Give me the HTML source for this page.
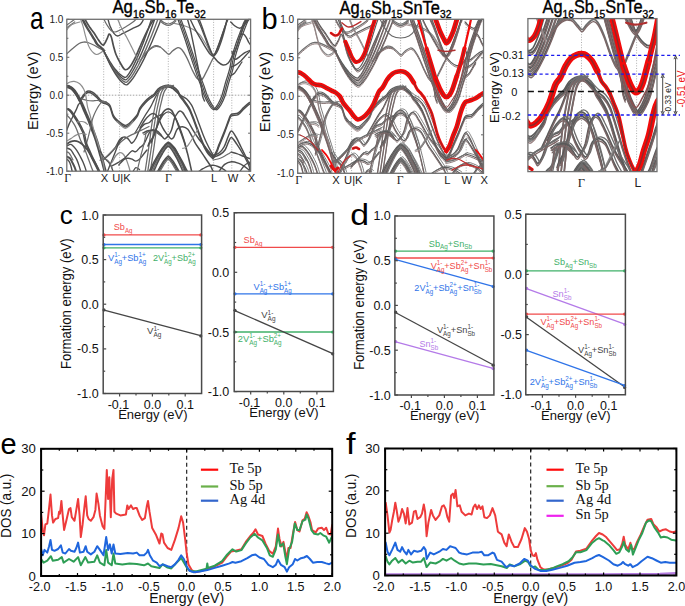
<!DOCTYPE html>
<html><head><meta charset="utf-8"><style>
html,body{margin:0;padding:0;background:#fff;}
svg{display:block;}
</style></head><body>
<svg width="685" height="606" viewBox="0 0 685 606">
<rect width="685" height="606" fill="#fff"/>
<line x1="103.2" y1="234.9" x2="201.6" y2="234.9" stroke="#f04a4a" stroke-width="1.3" />
<circle cx="104" cy="234.9" r="1.6" fill="#f04a4a"/>
<circle cx="200.8" cy="234.9" r="1.6" fill="#f04a4a"/>
<line x1="103.2" y1="244.5" x2="201.6" y2="244.5" stroke="#2f74e8" stroke-width="1.3" />
<circle cx="104" cy="244.5" r="1.6" fill="#2f74e8"/>
<circle cx="200.8" cy="244.5" r="1.6" fill="#2f74e8"/>
<line x1="103.2" y1="247.8" x2="201.6" y2="247.8" stroke="#3fb068" stroke-width="1.3" />
<circle cx="104" cy="247.8" r="1.6" fill="#3fb068"/>
<circle cx="200.8" cy="247.8" r="1.6" fill="#3fb068"/>
<line x1="103.2" y1="309.9" x2="201.6" y2="335.9" stroke="#454545" stroke-width="1.3" />
<circle cx="104" cy="309.9" r="1.6" fill="#454545"/>
<circle cx="200.8" cy="335.9" r="1.6" fill="#454545"/>
<path d="M103.2,215 V393.5 H201.6 V215 Z" fill="none" stroke="#4a4a4a" stroke-width="1.5"/>
<line x1="103.2" y1="215" x2="106.2" y2="215" stroke="#4a4a4a" stroke-width="1.2" />
<line x1="103.2" y1="259.6" x2="106.2" y2="259.6" stroke="#4a4a4a" stroke-width="1.2" />
<line x1="103.2" y1="304.2" x2="106.2" y2="304.2" stroke="#4a4a4a" stroke-width="1.2" />
<line x1="103.2" y1="348.9" x2="106.2" y2="348.9" stroke="#4a4a4a" stroke-width="1.2" />
<line x1="103.2" y1="393.5" x2="106.2" y2="393.5" stroke="#4a4a4a" stroke-width="1.2" />
<line x1="103.2" y1="237.3" x2="105.2" y2="237.3" stroke="#4a4a4a" stroke-width="1.2" />
<line x1="103.2" y1="281.9" x2="105.2" y2="281.9" stroke="#4a4a4a" stroke-width="1.2" />
<line x1="103.2" y1="326.6" x2="105.2" y2="326.6" stroke="#4a4a4a" stroke-width="1.2" />
<line x1="103.2" y1="371.2" x2="105.2" y2="371.2" stroke="#4a4a4a" stroke-width="1.2" />
<line x1="119.6" y1="393.5" x2="119.6" y2="396.5" stroke="#4a4a4a" stroke-width="1.2" />
<line x1="152.4" y1="393.5" x2="152.4" y2="396.5" stroke="#4a4a4a" stroke-width="1.2" />
<line x1="185.2" y1="393.5" x2="185.2" y2="396.5" stroke="#4a4a4a" stroke-width="1.2" />
<line x1="136" y1="393.5" x2="136" y2="395.5" stroke="#4a4a4a" stroke-width="1.2" />
<line x1="168.8" y1="393.5" x2="168.8" y2="395.5" stroke="#4a4a4a" stroke-width="1.2" />
<text x="113.8" y="230" font-family="Liberation Sans" font-size="9.6" fill="#f04a4a" text-anchor="start" textLength="11.1" lengthAdjust="spacingAndGlyphs" >Sb</text>
<text x="124.9" y="232.7" font-family="Liberation Sans" font-size="6.5" fill="#f04a4a" text-anchor="start" textLength="7.5" lengthAdjust="spacingAndGlyphs" >Ag</text>
<text x="108" y="260.6" font-family="Liberation Sans" font-size="9.6" fill="#2f74e8" text-anchor="start" textLength="6.2" lengthAdjust="spacingAndGlyphs" >V</text>
<text x="114.2" y="256.8" font-family="Liberation Sans" font-size="6.5" fill="#2f74e8" text-anchor="start" textLength="5.6" lengthAdjust="spacingAndGlyphs" >1-</text>
<text x="114.2" y="263.5" font-family="Liberation Sans" font-size="6.5" fill="#2f74e8" text-anchor="start" textLength="7.7" lengthAdjust="spacingAndGlyphs" >Ag</text>
<text x="121.8" y="260.6" font-family="Liberation Sans" font-size="9.6" fill="#2f74e8" text-anchor="start" textLength="16.7" lengthAdjust="spacingAndGlyphs" >+Sb</text>
<text x="138.5" y="256.8" font-family="Liberation Sans" font-size="6.5" fill="#2f74e8" text-anchor="start" textLength="7.2" lengthAdjust="spacingAndGlyphs" >1+</text>
<text x="138.5" y="263.5" font-family="Liberation Sans" font-size="6.5" fill="#2f74e8" text-anchor="start" textLength="7.7" lengthAdjust="spacingAndGlyphs" >Ag</text>
<text x="152.9" y="260.6" font-family="Liberation Sans" font-size="9.6" fill="#3fb068" text-anchor="start" textLength="11.1" lengthAdjust="spacingAndGlyphs" >2V</text>
<text x="164" y="256.8" font-family="Liberation Sans" font-size="6.5" fill="#3fb068" text-anchor="start" textLength="5.5" lengthAdjust="spacingAndGlyphs" >1-</text>
<text x="164" y="263.5" font-family="Liberation Sans" font-size="6.5" fill="#3fb068" text-anchor="start" textLength="7.6" lengthAdjust="spacingAndGlyphs" >Ag</text>
<text x="171.6" y="260.6" font-family="Liberation Sans" font-size="9.6" fill="#3fb068" text-anchor="start" textLength="16.4" lengthAdjust="spacingAndGlyphs" >+Sb</text>
<text x="188" y="256.8" font-family="Liberation Sans" font-size="6.5" fill="#3fb068" text-anchor="start" textLength="7.1" lengthAdjust="spacingAndGlyphs" >2+</text>
<text x="188" y="263.5" font-family="Liberation Sans" font-size="6.5" fill="#3fb068" text-anchor="start" textLength="7.6" lengthAdjust="spacingAndGlyphs" >Ag</text>
<text x="147" y="334.3" font-family="Liberation Sans" font-size="9.6" fill="#454545" text-anchor="start" textLength="6.4" lengthAdjust="spacingAndGlyphs" >V</text>
<text x="153.4" y="330.5" font-family="Liberation Sans" font-size="6.5" fill="#454545" text-anchor="start" textLength="5.8" lengthAdjust="spacingAndGlyphs" >1-</text>
<text x="153.4" y="337.2" font-family="Liberation Sans" font-size="6.5" fill="#454545" text-anchor="start" textLength="7.9" lengthAdjust="spacingAndGlyphs" >Ag</text>
<text x="98.6" y="219.5" font-family="Liberation Sans" font-size="12.5" fill="#111" text-anchor="end" >1.0</text>
<text x="98.6" y="264.1" font-family="Liberation Sans" font-size="12.5" fill="#111" text-anchor="end" >0.5</text>
<text x="98.6" y="308.8" font-family="Liberation Sans" font-size="12.5" fill="#111" text-anchor="end" >0.0</text>
<text x="98.6" y="353.4" font-family="Liberation Sans" font-size="12.5" fill="#111" text-anchor="end" >-0.5</text>
<text x="98.6" y="398" font-family="Liberation Sans" font-size="12.5" fill="#111" text-anchor="end" >-1.0</text>
<text x="118.4" y="409.4" font-family="Liberation Sans" font-size="12.5" fill="#111" text-anchor="middle" >-0.1</text>
<text x="152.4" y="409.4" font-family="Liberation Sans" font-size="12.5" fill="#111" text-anchor="middle" >0.0</text>
<text x="185.2" y="409.4" font-family="Liberation Sans" font-size="12.5" fill="#111" text-anchor="middle" >0.1</text>
<text x="152.9" y="419.2" font-family="Liberation Sans" font-size="13" fill="#111" text-anchor="middle" textLength="69.4" lengthAdjust="spacingAndGlyphs" >Energy (eV)</text>
<line x1="234.2" y1="247.3" x2="333.4" y2="247.3" stroke="#f04a4a" stroke-width="1.3" />
<circle cx="235" cy="247.3" r="1.6" fill="#f04a4a"/>
<circle cx="332.6" cy="247.3" r="1.6" fill="#f04a4a"/>
<line x1="234.2" y1="293.8" x2="333.4" y2="293.8" stroke="#2f74e8" stroke-width="1.3" />
<circle cx="235" cy="293.8" r="1.6" fill="#2f74e8"/>
<circle cx="332.6" cy="293.8" r="1.6" fill="#2f74e8"/>
<line x1="234.2" y1="332" x2="333.4" y2="332" stroke="#3fb068" stroke-width="1.3" />
<circle cx="235" cy="332" r="1.6" fill="#3fb068"/>
<circle cx="332.6" cy="332" r="1.6" fill="#3fb068"/>
<line x1="234.2" y1="310.3" x2="333.4" y2="353.8" stroke="#454545" stroke-width="1.3" />
<circle cx="235" cy="310.3" r="1.6" fill="#454545"/>
<circle cx="332.6" cy="353.8" r="1.6" fill="#454545"/>
<path d="M234.2,212.7 V391.6 H333.4 V212.7 Z" fill="none" stroke="#4a4a4a" stroke-width="1.5"/>
<line x1="234.2" y1="212.7" x2="237.2" y2="212.7" stroke="#4a4a4a" stroke-width="1.2" />
<line x1="234.2" y1="272.3" x2="237.2" y2="272.3" stroke="#4a4a4a" stroke-width="1.2" />
<line x1="234.2" y1="332" x2="237.2" y2="332" stroke="#4a4a4a" stroke-width="1.2" />
<line x1="234.2" y1="391.6" x2="237.2" y2="391.6" stroke="#4a4a4a" stroke-width="1.2" />
<line x1="234.2" y1="242.5" x2="236.2" y2="242.5" stroke="#4a4a4a" stroke-width="1.2" />
<line x1="234.2" y1="302.1" x2="236.2" y2="302.1" stroke="#4a4a4a" stroke-width="1.2" />
<line x1="234.2" y1="361.8" x2="236.2" y2="361.8" stroke="#4a4a4a" stroke-width="1.2" />
<line x1="250.7" y1="391.6" x2="250.7" y2="394.6" stroke="#4a4a4a" stroke-width="1.2" />
<line x1="283.8" y1="391.6" x2="283.8" y2="394.6" stroke="#4a4a4a" stroke-width="1.2" />
<line x1="316.9" y1="391.6" x2="316.9" y2="394.6" stroke="#4a4a4a" stroke-width="1.2" />
<line x1="267.3" y1="391.6" x2="267.3" y2="393.6" stroke="#4a4a4a" stroke-width="1.2" />
<line x1="300.3" y1="391.6" x2="300.3" y2="393.6" stroke="#4a4a4a" stroke-width="1.2" />
<text x="243.6" y="243.3" font-family="Liberation Sans" font-size="9.6" fill="#f04a4a" text-anchor="start" textLength="11.2" lengthAdjust="spacingAndGlyphs" >Sb</text>
<text x="254.8" y="246" font-family="Liberation Sans" font-size="6.5" fill="#f04a4a" text-anchor="start" textLength="7.6" lengthAdjust="spacingAndGlyphs" >Ag</text>
<text x="253.6" y="290.2" font-family="Liberation Sans" font-size="9.6" fill="#2f74e8" text-anchor="start" textLength="6.1" lengthAdjust="spacingAndGlyphs" >V</text>
<text x="259.7" y="286.4" font-family="Liberation Sans" font-size="6.5" fill="#2f74e8" text-anchor="start" textLength="5.6" lengthAdjust="spacingAndGlyphs" >1-</text>
<text x="259.7" y="293.1" font-family="Liberation Sans" font-size="6.5" fill="#2f74e8" text-anchor="start" textLength="7.6" lengthAdjust="spacingAndGlyphs" >Ag</text>
<text x="267.4" y="290.2" font-family="Liberation Sans" font-size="9.6" fill="#2f74e8" text-anchor="start" textLength="16.6" lengthAdjust="spacingAndGlyphs" >+Sb</text>
<text x="284" y="286.4" font-family="Liberation Sans" font-size="6.5" fill="#2f74e8" text-anchor="start" textLength="7.1" lengthAdjust="spacingAndGlyphs" >1+</text>
<text x="284" y="293.1" font-family="Liberation Sans" font-size="6.5" fill="#2f74e8" text-anchor="start" textLength="7.6" lengthAdjust="spacingAndGlyphs" >Ag</text>
<text x="237.8" y="342" font-family="Liberation Sans" font-size="9.6" fill="#3fb068" text-anchor="start" textLength="11.4" lengthAdjust="spacingAndGlyphs" >2V</text>
<text x="249.2" y="338.2" font-family="Liberation Sans" font-size="6.5" fill="#3fb068" text-anchor="start" textLength="5.6" lengthAdjust="spacingAndGlyphs" >1-</text>
<text x="249.2" y="344.9" font-family="Liberation Sans" font-size="6.5" fill="#3fb068" text-anchor="start" textLength="7.8" lengthAdjust="spacingAndGlyphs" >Ag</text>
<text x="257" y="342" font-family="Liberation Sans" font-size="9.6" fill="#3fb068" text-anchor="start" textLength="16.9" lengthAdjust="spacingAndGlyphs" >+Sb</text>
<text x="273.8" y="338.2" font-family="Liberation Sans" font-size="6.5" fill="#3fb068" text-anchor="start" textLength="7.2" lengthAdjust="spacingAndGlyphs" >2+</text>
<text x="273.8" y="344.9" font-family="Liberation Sans" font-size="6.5" fill="#3fb068" text-anchor="start" textLength="7.8" lengthAdjust="spacingAndGlyphs" >Ag</text>
<text x="261.3" y="318.3" font-family="Liberation Sans" font-size="9.6" fill="#454545" text-anchor="start" textLength="6.3" lengthAdjust="spacingAndGlyphs" >V</text>
<text x="267.6" y="314.5" font-family="Liberation Sans" font-size="6.5" fill="#454545" text-anchor="start" textLength="5.7" lengthAdjust="spacingAndGlyphs" >1-</text>
<text x="267.6" y="321.2" font-family="Liberation Sans" font-size="6.5" fill="#454545" text-anchor="start" textLength="7.9" lengthAdjust="spacingAndGlyphs" >Ag</text>
<text x="229.3" y="217.2" font-family="Liberation Sans" font-size="12.5" fill="#111" text-anchor="end" >0.5</text>
<text x="229.3" y="276.8" font-family="Liberation Sans" font-size="12.5" fill="#111" text-anchor="end" >0.0</text>
<text x="229.3" y="336.5" font-family="Liberation Sans" font-size="12.5" fill="#111" text-anchor="end" >-0.5</text>
<text x="229.3" y="396.1" font-family="Liberation Sans" font-size="12.5" fill="#111" text-anchor="end" >-1.0</text>
<text x="249.5" y="407.4" font-family="Liberation Sans" font-size="12.5" fill="#111" text-anchor="middle" >-0.1</text>
<text x="283.8" y="407.4" font-family="Liberation Sans" font-size="12.5" fill="#111" text-anchor="middle" >0.0</text>
<text x="316.9" y="407.4" font-family="Liberation Sans" font-size="12.5" fill="#111" text-anchor="middle" >0.1</text>
<text x="284" y="417.4" font-family="Liberation Sans" font-size="13" fill="#111" text-anchor="middle" textLength="69.4" lengthAdjust="spacingAndGlyphs" >Energy (eV)</text>
<text transform="translate(71.2,303.7) rotate(-90)" font-family="Liberation Sans" font-size="13.8" fill="#111" text-anchor="middle" textLength="130.5" lengthAdjust="spacingAndGlyphs">Formation energy (eV)</text>
<line x1="394.9" y1="251.1" x2="493.9" y2="251.1" stroke="#3fb068" stroke-width="1.3" />
<circle cx="395.7" cy="251.1" r="1.6" fill="#3fb068"/>
<circle cx="493.1" cy="251.1" r="1.6" fill="#3fb068"/>
<line x1="394.9" y1="258" x2="493.9" y2="258" stroke="#f04a4a" stroke-width="1.3" />
<circle cx="395.7" cy="258" r="1.6" fill="#f04a4a"/>
<circle cx="493.1" cy="258" r="1.6" fill="#f04a4a"/>
<line x1="394.9" y1="259.3" x2="493.9" y2="286.6" stroke="#2f74e8" stroke-width="1.3" />
<circle cx="395.7" cy="259.3" r="1.6" fill="#2f74e8"/>
<circle cx="493.1" cy="286.6" r="1.6" fill="#2f74e8"/>
<line x1="394.9" y1="312.2" x2="493.9" y2="365.2" stroke="#454545" stroke-width="1.3" />
<circle cx="395.7" cy="312.2" r="1.6" fill="#454545"/>
<circle cx="493.1" cy="365.2" r="1.6" fill="#454545"/>
<line x1="394.9" y1="341.7" x2="493.9" y2="368.6" stroke="#b47ae8" stroke-width="1.3" />
<circle cx="395.7" cy="341.7" r="1.6" fill="#b47ae8"/>
<circle cx="493.1" cy="368.6" r="1.6" fill="#b47ae8"/>
<path d="M394.9,215.9 V395 H493.9 V215.9 Z" fill="none" stroke="#4a4a4a" stroke-width="1.5"/>
<line x1="394.9" y1="215.9" x2="397.9" y2="215.9" stroke="#4a4a4a" stroke-width="1.2" />
<line x1="394.9" y1="260.7" x2="397.9" y2="260.7" stroke="#4a4a4a" stroke-width="1.2" />
<line x1="394.9" y1="305.4" x2="397.9" y2="305.4" stroke="#4a4a4a" stroke-width="1.2" />
<line x1="394.9" y1="350.2" x2="397.9" y2="350.2" stroke="#4a4a4a" stroke-width="1.2" />
<line x1="394.9" y1="395" x2="397.9" y2="395" stroke="#4a4a4a" stroke-width="1.2" />
<line x1="394.9" y1="238.3" x2="396.9" y2="238.3" stroke="#4a4a4a" stroke-width="1.2" />
<line x1="394.9" y1="283.1" x2="396.9" y2="283.1" stroke="#4a4a4a" stroke-width="1.2" />
<line x1="394.9" y1="327.8" x2="396.9" y2="327.8" stroke="#4a4a4a" stroke-width="1.2" />
<line x1="394.9" y1="372.6" x2="396.9" y2="372.6" stroke="#4a4a4a" stroke-width="1.2" />
<line x1="411.4" y1="395" x2="411.4" y2="398" stroke="#4a4a4a" stroke-width="1.2" />
<line x1="444.4" y1="395" x2="444.4" y2="398" stroke="#4a4a4a" stroke-width="1.2" />
<line x1="477.4" y1="395" x2="477.4" y2="398" stroke="#4a4a4a" stroke-width="1.2" />
<line x1="427.9" y1="395" x2="427.9" y2="397" stroke="#4a4a4a" stroke-width="1.2" />
<line x1="460.9" y1="395" x2="460.9" y2="397" stroke="#4a4a4a" stroke-width="1.2" />
<text x="428.8" y="246.5" font-family="Liberation Sans" font-size="9.6" fill="#3fb068" text-anchor="start" textLength="11.3" lengthAdjust="spacingAndGlyphs" >Sb</text>
<text x="440.1" y="249.2" font-family="Liberation Sans" font-size="6.5" fill="#3fb068" text-anchor="start" textLength="7.7" lengthAdjust="spacingAndGlyphs" >Ag</text>
<text x="447.7" y="246.5" font-family="Liberation Sans" font-size="9.6" fill="#3fb068" text-anchor="start" textLength="16.6" lengthAdjust="spacingAndGlyphs" >+Sn</text>
<text x="464.3" y="249.2" font-family="Liberation Sans" font-size="6.5" fill="#3fb068" text-anchor="start" textLength="7.7" lengthAdjust="spacingAndGlyphs" >Sb</text>
<text x="430.7" y="268.8" font-family="Liberation Sans" font-size="9.6" fill="#f04a4a" text-anchor="start" textLength="6.1" lengthAdjust="spacingAndGlyphs" >V</text>
<text x="436.8" y="265" font-family="Liberation Sans" font-size="6.5" fill="#f04a4a" text-anchor="start" textLength="5.5" lengthAdjust="spacingAndGlyphs" >1-</text>
<text x="436.8" y="271.7" font-family="Liberation Sans" font-size="6.5" fill="#f04a4a" text-anchor="start" textLength="7.6" lengthAdjust="spacingAndGlyphs" >Ag</text>
<text x="444.3" y="268.8" font-family="Liberation Sans" font-size="9.6" fill="#f04a4a" text-anchor="start" textLength="16.4" lengthAdjust="spacingAndGlyphs" >+Sb</text>
<text x="460.8" y="265" font-family="Liberation Sans" font-size="6.5" fill="#f04a4a" text-anchor="start" textLength="7" lengthAdjust="spacingAndGlyphs" >2+</text>
<text x="460.8" y="271.7" font-family="Liberation Sans" font-size="6.5" fill="#f04a4a" text-anchor="start" textLength="7.6" lengthAdjust="spacingAndGlyphs" >Ag</text>
<text x="468.3" y="268.8" font-family="Liberation Sans" font-size="9.6" fill="#f04a4a" text-anchor="start" textLength="16.4" lengthAdjust="spacingAndGlyphs" >+Sn</text>
<text x="484.7" y="265" font-family="Liberation Sans" font-size="6.5" fill="#f04a4a" text-anchor="start" textLength="5.5" lengthAdjust="spacingAndGlyphs" >1-</text>
<text x="484.7" y="271.7" font-family="Liberation Sans" font-size="6.5" fill="#f04a4a" text-anchor="start" textLength="7.6" lengthAdjust="spacingAndGlyphs" >Sb</text>
<text x="414.3" y="291.2" font-family="Liberation Sans" font-size="9.6" fill="#2f74e8" text-anchor="start" textLength="11.2" lengthAdjust="spacingAndGlyphs" >2V</text>
<text x="425.5" y="287.4" font-family="Liberation Sans" font-size="6.5" fill="#2f74e8" text-anchor="start" textLength="5.5" lengthAdjust="spacingAndGlyphs" >1-</text>
<text x="425.5" y="294.1" font-family="Liberation Sans" font-size="6.5" fill="#2f74e8" text-anchor="start" textLength="7.6" lengthAdjust="spacingAndGlyphs" >Ag</text>
<text x="433.1" y="291.2" font-family="Liberation Sans" font-size="9.6" fill="#2f74e8" text-anchor="start" textLength="16.5" lengthAdjust="spacingAndGlyphs" >+Sb</text>
<text x="449.6" y="287.4" font-family="Liberation Sans" font-size="6.5" fill="#2f74e8" text-anchor="start" textLength="7.1" lengthAdjust="spacingAndGlyphs" >2+</text>
<text x="449.6" y="294.1" font-family="Liberation Sans" font-size="6.5" fill="#2f74e8" text-anchor="start" textLength="7.6" lengthAdjust="spacingAndGlyphs" >Ag</text>
<text x="457.3" y="291.2" font-family="Liberation Sans" font-size="9.6" fill="#2f74e8" text-anchor="start" textLength="16.5" lengthAdjust="spacingAndGlyphs" >+Sn</text>
<text x="473.8" y="287.4" font-family="Liberation Sans" font-size="6.5" fill="#2f74e8" text-anchor="start" textLength="5.5" lengthAdjust="spacingAndGlyphs" >1-</text>
<text x="473.8" y="294.1" font-family="Liberation Sans" font-size="6.5" fill="#2f74e8" text-anchor="start" textLength="7.6" lengthAdjust="spacingAndGlyphs" >Sb</text>
<text x="437" y="332.6" font-family="Liberation Sans" font-size="9.6" fill="#454545" text-anchor="start" textLength="6.1" lengthAdjust="spacingAndGlyphs" >V</text>
<text x="443.1" y="328.8" font-family="Liberation Sans" font-size="6.5" fill="#454545" text-anchor="start" textLength="5.6" lengthAdjust="spacingAndGlyphs" >1-</text>
<text x="443.1" y="335.5" font-family="Liberation Sans" font-size="6.5" fill="#454545" text-anchor="start" textLength="7.6" lengthAdjust="spacingAndGlyphs" >Ag</text>
<text x="450.8" y="332.6" font-family="Liberation Sans" font-size="9.6" fill="#454545" text-anchor="start" textLength="16.6" lengthAdjust="spacingAndGlyphs" >+Sn</text>
<text x="467.4" y="328.8" font-family="Liberation Sans" font-size="6.5" fill="#454545" text-anchor="start" textLength="5.6" lengthAdjust="spacingAndGlyphs" >1-</text>
<text x="467.4" y="335.5" font-family="Liberation Sans" font-size="6.5" fill="#454545" text-anchor="start" textLength="7.6" lengthAdjust="spacingAndGlyphs" >Sb</text>
<text x="419.4" y="347" font-family="Liberation Sans" font-size="9.6" fill="#b47ae8" text-anchor="start" textLength="11.1" lengthAdjust="spacingAndGlyphs" >Sn</text>
<text x="430.5" y="343.2" font-family="Liberation Sans" font-size="6.5" fill="#b47ae8" text-anchor="start" textLength="5.5" lengthAdjust="spacingAndGlyphs" >1-</text>
<text x="430.5" y="349.9" font-family="Liberation Sans" font-size="6.5" fill="#b47ae8" text-anchor="start" textLength="7.6" lengthAdjust="spacingAndGlyphs" >Sb</text>
<text x="390.8" y="220.4" font-family="Liberation Sans" font-size="12.5" fill="#111" text-anchor="end" >1.0</text>
<text x="390.8" y="265.2" font-family="Liberation Sans" font-size="12.5" fill="#111" text-anchor="end" >0.5</text>
<text x="390.8" y="309.9" font-family="Liberation Sans" font-size="12.5" fill="#111" text-anchor="end" >0.0</text>
<text x="390.8" y="354.7" font-family="Liberation Sans" font-size="12.5" fill="#111" text-anchor="end" >-0.5</text>
<text x="390.8" y="399.5" font-family="Liberation Sans" font-size="12.5" fill="#111" text-anchor="end" >-1.0</text>
<text x="410.2" y="410.4" font-family="Liberation Sans" font-size="12.5" fill="#111" text-anchor="middle" >-0.1</text>
<text x="444.4" y="410.4" font-family="Liberation Sans" font-size="12.5" fill="#111" text-anchor="middle" >0.0</text>
<text x="477.4" y="410.4" font-family="Liberation Sans" font-size="12.5" fill="#111" text-anchor="middle" >0.1</text>
<text x="444.6" y="420.2" font-family="Liberation Sans" font-size="13" fill="#111" text-anchor="middle" textLength="69.4" lengthAdjust="spacingAndGlyphs" >Energy (eV)</text>
<text transform="translate(363.5,304.6) rotate(-90)" font-family="Liberation Sans" font-size="13.8" fill="#111" text-anchor="middle" textLength="130.5" lengthAdjust="spacingAndGlyphs">Formation energy (eV)</text>
<line x1="525.8" y1="270.8" x2="625.4" y2="270.8" stroke="#3fb068" stroke-width="1.3" />
<circle cx="526.6" cy="270.8" r="1.6" fill="#3fb068"/>
<circle cx="624.6" cy="270.8" r="1.6" fill="#3fb068"/>
<line x1="525.8" y1="288.3" x2="625.4" y2="324.3" stroke="#b47ae8" stroke-width="1.3" />
<circle cx="526.6" cy="288.3" r="1.6" fill="#b47ae8"/>
<circle cx="624.6" cy="324.3" r="1.6" fill="#b47ae8"/>
<line x1="525.8" y1="314.1" x2="625.4" y2="314.1" stroke="#f04a4a" stroke-width="1.3" />
<circle cx="526.6" cy="314.1" r="1.6" fill="#f04a4a"/>
<circle cx="624.6" cy="314.1" r="1.6" fill="#f04a4a"/>
<line x1="525.8" y1="316.8" x2="625.4" y2="387.5" stroke="#454545" stroke-width="1.3" />
<circle cx="526.6" cy="316.8" r="1.6" fill="#454545"/>
<circle cx="624.6" cy="387.5" r="1.6" fill="#454545"/>
<line x1="525.8" y1="350.2" x2="625.4" y2="385.7" stroke="#2f74e8" stroke-width="1.3" />
<circle cx="526.6" cy="350.2" r="1.6" fill="#2f74e8"/>
<circle cx="624.6" cy="385.7" r="1.6" fill="#2f74e8"/>
<path d="M525.8,214.3 V394.7 H625.4 V214.3 Z" fill="none" stroke="#4a4a4a" stroke-width="1.5"/>
<line x1="525.8" y1="214.3" x2="528.8" y2="214.3" stroke="#4a4a4a" stroke-width="1.2" />
<line x1="525.8" y1="274.4" x2="528.8" y2="274.4" stroke="#4a4a4a" stroke-width="1.2" />
<line x1="525.8" y1="334.6" x2="528.8" y2="334.6" stroke="#4a4a4a" stroke-width="1.2" />
<line x1="525.8" y1="394.7" x2="528.8" y2="394.7" stroke="#4a4a4a" stroke-width="1.2" />
<line x1="525.8" y1="244.4" x2="527.8" y2="244.4" stroke="#4a4a4a" stroke-width="1.2" />
<line x1="525.8" y1="304.5" x2="527.8" y2="304.5" stroke="#4a4a4a" stroke-width="1.2" />
<line x1="525.8" y1="364.6" x2="527.8" y2="364.6" stroke="#4a4a4a" stroke-width="1.2" />
<line x1="542.4" y1="394.7" x2="542.4" y2="397.7" stroke="#4a4a4a" stroke-width="1.2" />
<line x1="575.6" y1="394.7" x2="575.6" y2="397.7" stroke="#4a4a4a" stroke-width="1.2" />
<line x1="608.8" y1="394.7" x2="608.8" y2="397.7" stroke="#4a4a4a" stroke-width="1.2" />
<line x1="559" y1="394.7" x2="559" y2="396.7" stroke="#4a4a4a" stroke-width="1.2" />
<line x1="592.2" y1="394.7" x2="592.2" y2="396.7" stroke="#4a4a4a" stroke-width="1.2" />
<text x="553.8" y="265.2" font-family="Liberation Sans" font-size="9.6" fill="#3fb068" text-anchor="start" textLength="11.2" lengthAdjust="spacingAndGlyphs" >Sb</text>
<text x="565" y="267.9" font-family="Liberation Sans" font-size="6.5" fill="#3fb068" text-anchor="start" textLength="7.6" lengthAdjust="spacingAndGlyphs" >Ag</text>
<text x="572.6" y="265.2" font-family="Liberation Sans" font-size="9.6" fill="#3fb068" text-anchor="start" textLength="16.5" lengthAdjust="spacingAndGlyphs" >+Sn</text>
<text x="589.1" y="267.9" font-family="Liberation Sans" font-size="6.5" fill="#3fb068" text-anchor="start" textLength="7.6" lengthAdjust="spacingAndGlyphs" >Sb</text>
<text x="552.4" y="296.8" font-family="Liberation Sans" font-size="9.6" fill="#b47ae8" text-anchor="start" textLength="11.3" lengthAdjust="spacingAndGlyphs" >Sn</text>
<text x="563.7" y="293" font-family="Liberation Sans" font-size="6.5" fill="#b47ae8" text-anchor="start" textLength="5.6" lengthAdjust="spacingAndGlyphs" >1-</text>
<text x="563.7" y="299.7" font-family="Liberation Sans" font-size="6.5" fill="#b47ae8" text-anchor="start" textLength="7.7" lengthAdjust="spacingAndGlyphs" >Sb</text>
<text x="540.4" y="325" font-family="Liberation Sans" font-size="9.6" fill="#f04a4a" text-anchor="start" textLength="6.1" lengthAdjust="spacingAndGlyphs" >V</text>
<text x="546.5" y="321.2" font-family="Liberation Sans" font-size="6.5" fill="#f04a4a" text-anchor="start" textLength="5.5" lengthAdjust="spacingAndGlyphs" >1-</text>
<text x="546.5" y="327.9" font-family="Liberation Sans" font-size="6.5" fill="#f04a4a" text-anchor="start" textLength="7.6" lengthAdjust="spacingAndGlyphs" >Ag</text>
<text x="554" y="325" font-family="Liberation Sans" font-size="9.6" fill="#f04a4a" text-anchor="start" textLength="16.4" lengthAdjust="spacingAndGlyphs" >+Sb</text>
<text x="570.5" y="321.2" font-family="Liberation Sans" font-size="6.5" fill="#f04a4a" text-anchor="start" textLength="7" lengthAdjust="spacingAndGlyphs" >2+</text>
<text x="570.5" y="327.9" font-family="Liberation Sans" font-size="6.5" fill="#f04a4a" text-anchor="start" textLength="7.6" lengthAdjust="spacingAndGlyphs" >Ag</text>
<text x="578" y="325" font-family="Liberation Sans" font-size="9.6" fill="#f04a4a" text-anchor="start" textLength="16.4" lengthAdjust="spacingAndGlyphs" >+Sn</text>
<text x="594.4" y="321.2" font-family="Liberation Sans" font-size="6.5" fill="#f04a4a" text-anchor="start" textLength="5.5" lengthAdjust="spacingAndGlyphs" >1-</text>
<text x="594.4" y="327.9" font-family="Liberation Sans" font-size="6.5" fill="#f04a4a" text-anchor="start" textLength="7.6" lengthAdjust="spacingAndGlyphs" >Sb</text>
<text x="578" y="352.9" font-family="Liberation Sans" font-size="9.6" fill="#454545" text-anchor="start" textLength="6.2" lengthAdjust="spacingAndGlyphs" >V</text>
<text x="584.2" y="349.1" font-family="Liberation Sans" font-size="6.5" fill="#454545" text-anchor="start" textLength="5.6" lengthAdjust="spacingAndGlyphs" >1-</text>
<text x="584.2" y="355.8" font-family="Liberation Sans" font-size="6.5" fill="#454545" text-anchor="start" textLength="7.7" lengthAdjust="spacingAndGlyphs" >Ag</text>
<text x="591.8" y="352.9" font-family="Liberation Sans" font-size="9.6" fill="#454545" text-anchor="start" textLength="16.7" lengthAdjust="spacingAndGlyphs" >+Sn</text>
<text x="608.5" y="349.1" font-family="Liberation Sans" font-size="6.5" fill="#454545" text-anchor="start" textLength="5.6" lengthAdjust="spacingAndGlyphs" >1-</text>
<text x="608.5" y="355.8" font-family="Liberation Sans" font-size="6.5" fill="#454545" text-anchor="start" textLength="7.7" lengthAdjust="spacingAndGlyphs" >Sb</text>
<text x="529.7" y="384.6" font-family="Liberation Sans" font-size="9.6" fill="#2f74e8" text-anchor="start" textLength="11.3" lengthAdjust="spacingAndGlyphs" >2V</text>
<text x="541" y="380.8" font-family="Liberation Sans" font-size="6.5" fill="#2f74e8" text-anchor="start" textLength="5.6" lengthAdjust="spacingAndGlyphs" >1-</text>
<text x="541" y="387.5" font-family="Liberation Sans" font-size="6.5" fill="#2f74e8" text-anchor="start" textLength="7.7" lengthAdjust="spacingAndGlyphs" >Ag</text>
<text x="548.6" y="384.6" font-family="Liberation Sans" font-size="9.6" fill="#2f74e8" text-anchor="start" textLength="16.7" lengthAdjust="spacingAndGlyphs" >+Sb</text>
<text x="565.3" y="380.8" font-family="Liberation Sans" font-size="6.5" fill="#2f74e8" text-anchor="start" textLength="7.1" lengthAdjust="spacingAndGlyphs" >2+</text>
<text x="565.3" y="387.5" font-family="Liberation Sans" font-size="6.5" fill="#2f74e8" text-anchor="start" textLength="7.7" lengthAdjust="spacingAndGlyphs" >Ag</text>
<text x="573" y="384.6" font-family="Liberation Sans" font-size="9.6" fill="#2f74e8" text-anchor="start" textLength="16.7" lengthAdjust="spacingAndGlyphs" >+Sn</text>
<text x="589.6" y="380.8" font-family="Liberation Sans" font-size="6.5" fill="#2f74e8" text-anchor="start" textLength="5.6" lengthAdjust="spacingAndGlyphs" >1-</text>
<text x="589.6" y="387.5" font-family="Liberation Sans" font-size="6.5" fill="#2f74e8" text-anchor="start" textLength="7.7" lengthAdjust="spacingAndGlyphs" >Sb</text>
<text x="522" y="218.8" font-family="Liberation Sans" font-size="12.5" fill="#111" text-anchor="end" >0.5</text>
<text x="522" y="278.9" font-family="Liberation Sans" font-size="12.5" fill="#111" text-anchor="end" >0.0</text>
<text x="522" y="339.1" font-family="Liberation Sans" font-size="12.5" fill="#111" text-anchor="end" >-0.5</text>
<text x="522" y="399.2" font-family="Liberation Sans" font-size="12.5" fill="#111" text-anchor="end" >-1.0</text>
<text x="541.2" y="410" font-family="Liberation Sans" font-size="12.5" fill="#111" text-anchor="middle" >-0.1</text>
<text x="575.6" y="410" font-family="Liberation Sans" font-size="12.5" fill="#111" text-anchor="middle" >0.0</text>
<text x="608.8" y="410" font-family="Liberation Sans" font-size="12.5" fill="#111" text-anchor="middle" >0.1</text>
<text x="575.8" y="420" font-family="Liberation Sans" font-size="13" fill="#111" text-anchor="middle" textLength="69.4" lengthAdjust="spacingAndGlyphs" >Energy (eV)</text>
<text x="30" y="28.6" font-family="Liberation Sans" font-size="30.5" fill="#000" text-anchor="start" textLength="13.6" lengthAdjust="spacingAndGlyphs" >a</text>
<text x="261.5" y="28.6" font-family="Liberation Sans" font-size="29" fill="#000" text-anchor="start" >b</text>
<text x="59.8" y="224.2" font-family="Liberation Sans" font-size="26" fill="#000" text-anchor="start" >c</text>
<text x="350.3" y="224.6" font-family="Liberation Sans" font-size="29" fill="#000" text-anchor="start" textLength="18.8" lengthAdjust="spacingAndGlyphs" >d</text>
<text x="0.5" y="454" font-family="Liberation Sans" font-size="29" fill="#000" text-anchor="start" >e</text>
<text x="346" y="454" font-family="Liberation Sans" font-size="29" fill="#000" text-anchor="start" textLength="9.6" lengthAdjust="spacingAndGlyphs" >f</text>
<clipPath id="cpa"><rect x="66.8" y="19.3" width="183.8" height="151.9"/></clipPath>
<line x1="103.7" y1="19.3" x2="103.7" y2="171.2" stroke="#9a9a9a" stroke-width="0.8" stroke-dasharray="1 1.6"/>
<line x1="119.6" y1="19.3" x2="119.6" y2="171.2" stroke="#9a9a9a" stroke-width="0.8" stroke-dasharray="1 1.6"/>
<line x1="168.3" y1="19.3" x2="168.3" y2="171.2" stroke="#9a9a9a" stroke-width="0.8" stroke-dasharray="1 1.6"/>
<line x1="213.6" y1="19.3" x2="213.6" y2="171.2" stroke="#9a9a9a" stroke-width="0.8" stroke-dasharray="1 1.6"/>
<line x1="231.8" y1="19.3" x2="231.8" y2="171.2" stroke="#9a9a9a" stroke-width="0.8" stroke-dasharray="1 1.6"/>
<line x1="66.8" y1="95.2" x2="250.6" y2="95.2" stroke="#8a8a8a" stroke-width="0.8" stroke-dasharray="1.5 1.5"/>
<g clip-path="url(#cpa)">
<path d="M66.8,53.8 C67.9,52.8 71.2,49.6 73.3,47.9 C75.3,46.2 77.4,44.5 79.1,43.5 C80.8,42.5 82,42.3 83.5,42.1 C85,41.9 86.2,42 87.9,42.5 C89.6,43 91.9,44.1 93.7,45 C95.5,45.9 97.2,47 98.8,47.9 C100.4,48.8 102.7,50.1 103.5,50.5" fill="none" stroke="#6c6c6c" stroke-width="1.3" stroke-linecap="round" stroke-linejoin="round" />
<path d="M140,61 C140.7,60.2 142.7,57.7 144,56 C145.3,54.3 146.7,52.3 148,51 C149.3,49.7 150.7,48.8 152,48 C153.3,47.2 154.6,46.7 156,46.5 C157.4,46.3 159.5,46.9 160.2,47" fill="none" stroke="#6c6c6c" stroke-width="1.2" stroke-linecap="round" stroke-linejoin="round" />
<path d="M80.6,19.3 C81,20.6 82.5,24.3 83.2,26.8 C83.9,29.3 84.3,31.6 85,34.1 C85.7,36.6 86.4,39.7 87.2,42.1 C88,44.5 89,46.9 90.1,48.7 C91.2,50.5 92.6,52 93.7,53 C94.8,54 95.6,54.5 96.7,54.5 C97.8,54.5 99.2,53.7 100.3,53 C101.4,52.3 103,50.8 103.5,50.3" fill="none" stroke="#8e8e8e" stroke-width="1.2" stroke-linecap="round" stroke-linejoin="round" />
<path d="M85,19.3 C85.7,20.6 88,24.6 89.4,26.8 C90.9,29 92.4,30.7 93.7,32.6 C95,34.5 96.2,36.6 97.4,38.4 C98.6,40.2 100,42.4 101,43.5 C102,44.6 102.6,45.7 103.6,45 C104.6,44.3 106,41 106.9,39.2 C107.8,37.4 108.4,34.5 109.1,34.1 C109.8,33.7 110.6,35.1 111.3,37 C112,38.9 112.6,42.8 113.4,45.7 C114.2,48.6 114.8,51.6 116,54.5 C117.2,57.4 118.8,60.5 120.3,63 C121.8,65.5 123.3,68.7 124.8,69.5 C126.3,70.3 127.7,69.3 129.3,67.6 C130.9,65.9 132.8,62.5 134.5,59.2 C136.2,55.9 137.9,51.5 139.6,47.6 C141.3,43.7 143,39.6 144.7,36 C146.4,32.4 148.4,28.5 149.9,25.7 C151.4,22.9 153.2,20.4 153.8,19.3" fill="none" stroke="#4e4e4e" stroke-width="1.7" stroke-linecap="round" stroke-linejoin="round" />
<path d="M82.1,19.3 C82.8,20.7 85.1,25.2 86.4,27.5 C87.7,29.8 88.9,31.3 90.1,33.3 C91.3,35.2 92.6,37.4 93.7,39.2 C94.8,41 95.7,43.1 96.7,44.3 C97.7,45.5 98.5,45.5 99.6,46.5 C100.7,47.5 102.8,49.7 103.5,50.3" fill="none" stroke="#4e4e4e" stroke-width="1.5" stroke-linecap="round" stroke-linejoin="round" />
<path d="M83.3,19.6 C84,21 86.3,25.5 87.6,27.8 C88.9,30.1 90.1,31.6 91.3,33.6 C92.5,35.5 93.8,37.7 94.9,39.5 C96,41.3 96.9,43.4 97.9,44.6 C98.9,45.8 99.7,45.8 100.8,46.8 C101.9,47.8 104,50 104.7,50.6" fill="none" stroke="#4e4e4e" stroke-width="1.5" stroke-linecap="round" stroke-linejoin="round" />
<path d="M103.5,50.3 C104,51.3 105.6,54.3 106.7,56.2 C107.7,58.1 108.8,59.9 109.8,61.5 C110.9,63.2 111.9,64.8 113,66.3 C114,67.7 115.1,69.1 116.1,70.3 C117.2,71.6 118.2,72.7 119.3,73.7 C120.3,74.6 121.4,75.5 122.4,76.1 C123.5,76.7 124.5,77.7 125.6,77.3 C126.7,76.9 127.8,75.3 128.8,73.8 C129.9,72.3 131,70.4 132.1,68.4 C133.1,66.4 134.2,64.2 135.3,61.9 C136.4,59.6 137.5,57.1 138.6,54.5 C139.6,52 140.7,49.3 141.8,46.5 C142.9,43.8 144,40.9 145,38 C146.1,35 147.2,32 148.3,28.9 C149.3,25.8 151,20.9 151.5,19.3" fill="none" stroke="#4e4e4e" stroke-width="1.4" stroke-linecap="round" stroke-linejoin="round" />
<path d="M103.5,50.3 C104,51.4 105.6,54.7 106.7,56.8 C107.8,58.8 108.8,60.7 109.9,62.6 C111,64.4 112.1,66.1 113.1,67.8 C114.2,69.4 115.3,70.9 116.3,72.2 C117.4,73.5 118.5,74.8 119.5,75.8 C120.6,76.9 121.7,77.8 122.7,78.5 C123.8,79.2 124.8,80.2 126,79.8 C127.1,79.4 128.3,77.7 129.5,76.2 C130.7,74.6 131.9,72.6 133.1,70.5 C134.3,68.4 135.5,66.1 136.7,63.7 C137.9,61.3 139.1,58.7 140.3,56.1 C141.5,53.4 142.7,50.6 143.9,47.7 C145.1,44.8 146.3,41.8 147.5,38.8 C148.7,35.7 149.9,32.5 151.1,29.3 C152.3,26 154.1,21 154.7,19.3" fill="none" stroke="#4e4e4e" stroke-width="1.4" stroke-linecap="round" stroke-linejoin="round" />
<path d="M103.5,50.3 C104,51.5 105.7,55.1 106.8,57.3 C107.8,59.5 108.9,61.6 110,63.6 C111.1,65.6 112.2,67.5 113.3,69.2 C114.4,71 115.4,72.6 116.5,74 C117.6,75.5 118.7,76.9 119.8,78 C120.9,79.1 122,80.2 123,80.9 C124.1,81.6 125.1,82.7 126.3,82.3 C127.5,81.9 128.9,80.1 130.2,78.5 C131.6,76.9 132.9,74.8 134.2,72.6 C135.5,70.4 136.8,68 138.2,65.5 C139.5,63 140.8,60.4 142.1,57.6 C143.4,54.8 144.7,51.9 146.1,48.9 C147.4,45.9 148.7,42.8 150,39.6 C151.3,36.4 152.6,33.1 153.9,29.7 C155.3,26.3 157.2,21 157.9,19.3" fill="none" stroke="#6c6c6c" stroke-width="1.4" stroke-linecap="round" stroke-linejoin="round" />
<path d="M103.5,50.3 C104.1,51.6 105.7,55.4 106.8,57.8 C107.9,60.2 109,62.5 110.1,64.7 C111.2,66.8 112.3,68.8 113.4,70.7 C114.5,72.6 115.6,74.3 116.7,75.9 C117.8,77.5 118.9,78.9 120,80.2 C121.1,81.4 122.2,82.5 123.3,83.3 C124.4,84 125.4,85.2 126.7,84.8 C127.9,84.4 129.5,82.5 131,80.8 C132.4,79.2 133.8,77 135.3,74.7 C136.7,72.5 138.1,70 139.6,67.4 C141,64.8 142.4,62 143.9,59.1 C145.3,56.2 146.7,53.2 148.2,50.1 C149.6,47 151.1,43.7 152.5,40.4 C153.9,37.1 155.4,33.6 156.8,30.1 C158.2,26.6 160.4,21.1 161.1,19.3" fill="none" stroke="#4e4e4e" stroke-width="1.4" stroke-linecap="round" stroke-linejoin="round" />
<path d="M108,19.3 C108.3,20.4 109,23.6 110,26 C111,28.4 112.6,31.7 113.9,33.4 C115.2,35.1 116.2,36 117.7,36 C119.2,36 120.5,34.6 122.9,33.4 C125.3,32.2 129.1,30.3 131.9,28.9 C134.7,27.5 137.9,26.3 139.6,25.1 C141.3,23.9 141.5,22.9 142.2,21.9 C142.8,20.9 143.3,19.7 143.5,19.3" fill="none" stroke="#4e4e4e" stroke-width="1.4" stroke-linecap="round" stroke-linejoin="round" />
<path d="M104,19.3 C104.5,20.2 105.8,23.1 107,25 C108.2,26.9 109.7,29.3 111,30.5 C112.3,31.7 113.5,32.1 115,32 C116.5,31.9 118,31 120,30 C122,29 124.8,27.3 127,26 C129.2,24.7 131.5,23.1 133,22 C134.5,20.9 135.5,19.8 136,19.3" fill="none" stroke="#6c6c6c" stroke-width="1.2" stroke-linecap="round" stroke-linejoin="round" />
<path d="M117.7,19.3 C118.3,20.8 120.1,25.3 121.6,28.3 C123.1,31.3 125,34.1 126.7,37.3 C128.4,40.5 130.4,44.6 131.9,47.6 C133.4,50.6 134.6,53.1 135.7,55.3 C136.8,57.5 138,60 138.5,61" fill="none" stroke="#8e8e8e" stroke-width="1.2" stroke-linecap="round" stroke-linejoin="round" />
<path d="M144.7,54 C145.6,53.1 148.2,50.3 149.9,48.9 C151.6,47.5 153.3,46 155,45.7 C156.7,45.4 158.5,46 160.2,47 C161.9,48 163.9,50.3 165.3,51.5 C166.8,52.7 167.7,54.4 168.9,54.3 C170.1,54.2 171.2,51.9 172.7,50.8 C174.2,49.7 176.4,47.8 177.9,47.6 C179.4,47.4 180.2,47.8 181.7,49.5 C183.2,51.2 185.2,54.6 186.9,57.9 C188.6,61.2 190.3,66.1 192,69.5 C193.7,72.9 195.6,76.8 197.2,78.5 C198.8,80.2 200.2,80.9 201.7,79.8 C203.2,78.7 204.6,75.1 206.2,72.1 C207.8,69.1 210.1,64.2 211.3,61.8 C212.5,59.4 213.2,58.2 213.6,57.5" fill="none" stroke="#6c6c6c" stroke-width="1.3" stroke-linecap="round" stroke-linejoin="round" />
<path d="M213.4,56.6 C214.2,57.5 216.3,60.4 217.9,61.8 C219.5,63.2 221.3,64.8 223,65 C224.7,65.2 226.7,64.4 228.2,63 C229.7,61.6 230.7,59 232,56.6 C233.3,54.2 234.6,52.1 235.9,48.9 C237.2,45.7 238.4,41.2 239.7,37.3 C241,33.4 242.5,28.7 243.6,25.7 C244.7,22.7 245.8,20.4 246.2,19.3" fill="none" stroke="#4e4e4e" stroke-width="1.5" stroke-linecap="round" stroke-linejoin="round" />
<path d="M172.7,23.1 C174.6,23.5 180.9,24.6 184.3,25.7 C187.7,26.8 190.7,28.1 193.3,29.6 C195.9,31.1 198,32.9 199.7,34.7 C201.4,36.5 202.4,38.6 203.6,40.5 C204.8,42.4 205.9,44.1 207,46 C208.1,47.9 208.9,50.3 210,52 C211.1,53.7 212.8,55.3 213.4,56" fill="none" stroke="#8e8e8e" stroke-width="1.2" stroke-linecap="round" stroke-linejoin="round" />
<path d="M160,19.3 C160.7,19.8 162.6,21.7 164,22.5 C165.4,23.3 166.9,24 168.3,24 C169.7,24 171.2,23.3 172.5,22.5 C173.8,21.7 175.4,19.8 176,19.3" fill="none" stroke="#6c6c6c" stroke-width="1.2" stroke-linecap="round" stroke-linejoin="round" />
<path d="M160,20.8 C160.7,21.3 162.6,23.2 164,24 C165.4,24.8 166.9,25.5 168.3,25.5 C169.7,25.5 171.2,24.8 172.5,24 C173.8,23.2 175.4,21.3 176,20.8" fill="none" stroke="#6c6c6c" stroke-width="1.2" stroke-linecap="round" stroke-linejoin="round" />
<path d="M190.2,19.3 C190.9,20.8 193,25.3 194.6,28.3 C196.2,31.3 198,34.3 199.7,37.3 C201.4,40.3 203.2,43.5 204.9,46.3 C206.6,49.1 208.6,52.4 210,54 C211.4,55.6 212.2,56.4 213.3,56.2 C214.4,56 215.3,55 216.5,53 C217.7,51 219,47.8 220.3,44 C221.7,40.2 223.7,33.3 224.6,30 C225.5,26.7 225.6,25.8 226,24 C226.4,22.2 226.7,20.1 226.8,19.3" fill="none" stroke="#4e4e4e" stroke-width="1.4" stroke-linecap="round" stroke-linejoin="round" />
<path d="M197.7,19.3 C198.2,20.6 199.9,24.2 201,27 C202.1,29.8 203.2,32.8 204.5,36 C205.8,39.2 207.3,43.7 208.5,46.5 C209.7,49.3 210.7,51.5 211.5,53 C212.3,54.5 212.7,55.8 213.4,55.6 C214.2,55.4 215,54.1 216,52 C217,49.9 218.3,46.2 219.5,43 C220.7,39.8 221.8,36.5 223,33 C224.2,29.5 225.8,24.3 226.6,22 C227.3,19.7 227.3,19.8 227.5,19.3" fill="none" stroke="#4e4e4e" stroke-width="1.4" stroke-linecap="round" stroke-linejoin="round" />
<path d="M199.2,19.3 C199.8,20.8 201.4,24.9 202.5,28 C203.6,31.1 204.8,34.8 206,38 C207.2,41.2 208.5,44.9 209.5,47.5 C210.5,50.1 211.3,52.2 212,53.5 C212.7,54.8 212.8,55.2 213.4,55 C214,54.8 214.7,54.2 215.5,52.5 C216.3,50.8 217.4,47.9 218.5,45 C219.6,42.1 220.8,38.3 222,35 C223.2,31.7 224.5,27.6 225.5,25 C226.5,22.4 227.6,20.2 228,19.3" fill="none" stroke="#4e4e4e" stroke-width="1.3" stroke-linecap="round" stroke-linejoin="round" />
<path d="M66.8,25 C67.4,24.6 69.1,23.3 70.4,22.4 C71.7,21.4 74.1,19.8 74.8,19.3" fill="none" stroke="#6c6c6c" stroke-width="1.1" stroke-linecap="round" stroke-linejoin="round" />
<path d="M66.8,27.6 C67.4,27.2 69.1,25.9 70.4,25 C71.7,24.1 74.1,22.4 74.8,21.9" fill="none" stroke="#6c6c6c" stroke-width="1.1" stroke-linecap="round" stroke-linejoin="round" />
<path d="M66.8,30 C67.2,29.5 68.1,27.9 69,27 C69.9,26.1 70.8,25.2 72,24.5 C73.2,23.8 74.7,23.4 76,23 C77.3,22.6 79.3,22.2 80,22" fill="none" stroke="#8e8e8e" stroke-width="1.1" stroke-linecap="round" stroke-linejoin="round" />
<path d="M230.7,21.9 C231.3,22.5 233.1,24.6 234.6,25.7 C236.1,26.8 238.2,28.3 239.7,28.3 C241.2,28.3 242.3,27 243.6,25.7 C244.9,24.4 246.8,21.7 247.5,20.6 C248.2,19.5 247.9,19.5 248,19.3" fill="none" stroke="#4e4e4e" stroke-width="1.4" stroke-linecap="round" stroke-linejoin="round" />
<path d="M241,34.7 C241.4,34.6 242.7,33.7 243.6,34.1 C244.5,34.5 245.3,35.9 246.2,37.3 C247.1,38.7 248.1,41.2 248.8,42.5 C249.5,43.8 250.3,44.6 250.6,45" fill="none" stroke="#4e4e4e" stroke-width="1.4" stroke-linecap="round" stroke-linejoin="round" />
<path d="M232,51.5 C232.2,52.6 232.7,56.6 233.3,57.9 C234,59.2 234.8,59.4 235.9,59.2 C237,59 238.2,57.7 239.7,56.6 C241.2,55.5 243.1,53.8 244.9,52.7 C246.7,51.6 249.7,50.6 250.6,50.2" fill="none" stroke="#4e4e4e" stroke-width="1.4" stroke-linecap="round" stroke-linejoin="round" />
<path d="M230.5,67 C231.2,66.8 233.1,66.4 234.6,65.6 C236.1,64.8 238.1,63.4 239.7,62 C241.3,60.6 242.6,59 244,57.5 C245.4,56 246.9,54.1 248,53 C249.1,51.9 250.2,51.3 250.6,51" fill="none" stroke="#4e4e4e" stroke-width="1.3" stroke-linecap="round" stroke-linejoin="round" />
<path d="M230.5,76 C231.2,75.5 233.3,74.3 234.6,73 C235.8,71.7 236.8,69.8 238,68 C239.2,66.2 241.3,63 242,62" fill="none" stroke="#4e4e4e" stroke-width="1.3" stroke-linecap="round" stroke-linejoin="round" />
<path d="M177.9,19.3 C179,22.3 182.2,31.1 184.3,37.3 C186.4,43.5 188.5,50.2 190.7,56.6 C192.8,63 195.5,71 197.2,75.9 C198.9,80.8 199.9,83 201,86.2 C202.1,89.4 202.8,92.2 204,95 C205.2,97.8 206.5,100.6 208,103 C209.5,105.4 211.4,109.3 213.1,109.5 C214.8,109.7 216.6,106.2 218,104 C219.4,101.8 220.4,99.6 221.7,96 C223,92.4 224.3,86.7 225.6,82.3 C226.9,77.9 228.4,73.8 229.5,69.5 C230.6,65.2 230.9,60.9 232,56.6 C233.1,52.3 234.6,47.6 235.9,43.7 C237.2,39.8 238.4,36.8 239.7,33.4 C241,30 242.6,25.5 243.6,23.1 C244.6,20.8 245.4,19.9 245.8,19.3" fill="none" stroke="#4e4e4e" stroke-width="1.25" stroke-linecap="round" stroke-linejoin="round" />
<path d="M179.5,19.4 C180.6,22.4 183.8,31.2 185.9,37.4 C188,43.7 190.1,50.3 192.3,56.8 C194.4,63.2 197.1,71.1 198.8,76.1 C200.5,81 201.5,83.2 202.6,86.4 C203.7,89.5 204.4,92.4 205.6,95.2 C206.8,98 208.1,100.7 209.6,103.2 C211.1,105.6 213,109.5 214.7,109.7 C216.4,109.8 218.2,106.4 219.6,104.2 C221,101.9 222,99.8 223.3,96.2 C224.6,92.5 225.9,86.9 227.2,82.5 C228.5,78 230,73.9 231.1,69.7 C232.2,65.4 232.5,61 233.6,56.8 C234.7,52.5 236.2,47.7 237.5,43.9 C238.8,40 240,37 241.3,33.5 C242.6,30.1 244.2,25.6 245.2,23.2 C246.2,20.9 247,20.1 247.4,19.4" fill="none" stroke="#4e4e4e" stroke-width="1.25" stroke-linecap="round" stroke-linejoin="round" />
<path d="M181.1,19.6 C182.2,22.6 185.4,31.4 187.5,37.6 C189.6,43.8 191.7,50.5 193.9,56.9 C196,63.3 198.7,71.3 200.4,76.2 C202.1,81.1 203.1,83.3 204.2,86.5 C205.3,89.7 206,92.5 207.2,95.3 C208.4,98.1 209.7,100.9 211.2,103.3 C212.7,105.7 214.6,109.6 216.3,109.8 C218,110 219.8,106.5 221.2,104.3 C222.6,102 223.6,99.9 224.9,96.3 C226.2,92.7 227.5,87 228.8,82.6 C230.1,78.2 231.6,74.1 232.7,69.8 C233.8,65.5 234.1,61.2 235.2,56.9 C236.3,52.6 237.8,47.9 239.1,44 C240.4,40.1 241.6,37.1 242.9,33.7 C244.2,30.3 245.8,25.8 246.8,23.4 C247.8,21.1 248.6,20.2 249,19.6" fill="none" stroke="#4e4e4e" stroke-width="1.25" stroke-linecap="round" stroke-linejoin="round" />
<path d="M187.5,19.3 C187.9,20.8 189.2,25 190,28 C190.8,31 191.3,34.1 192,37.3 C192.7,40.5 193.3,43.8 194,47 C194.7,50.2 195.3,53.4 195.9,56.6 C196.5,59.8 197.2,62.8 197.8,66 C198.4,69.2 199.1,72.6 199.7,75.9 C200.3,79.2 200.7,82.7 201.2,86 C201.7,89.3 202,93.5 202.6,96 C203.2,98.5 204.2,100.2 204.5,101" fill="none" stroke="#4e4e4e" stroke-width="1.4" stroke-linecap="round" stroke-linejoin="round" />
<path d="M66.8,85.6 C67.5,85.9 69.7,86.5 70.9,87.3 C72.1,88.1 73.1,89.2 74.2,90.6 C75.3,92 76.6,94 77.5,95.5 C78.4,97 78.8,99.1 79.6,99.3 C80.4,99.5 81.5,97.6 82.5,96.4 C83.5,95.2 84.8,93.1 85.8,92.2 C86.8,91.3 87.6,91 88.7,91 C89.8,91 91.1,91.5 92.4,92.2 C93.7,93 95.1,94.2 96.5,95.5 C97.9,96.8 99.4,99.1 100.6,100.1 C101.8,101.1 102.9,101.3 103.9,101.7 C104.9,102.1 105.5,101.9 106.5,102.5 C107.5,103.1 108.9,103.4 110,105.5 C111.1,107.6 112,112.6 113.2,115 C114.4,117.4 115.5,118.3 116.9,119.7 C118.3,121.1 120.2,122.5 121.6,123.5 C123,124.5 124.1,125.4 125.4,125.4 C126.7,125.4 127.8,124.6 129.2,123.5 C130.6,122.4 132.5,120.4 133.9,118.8 C135.3,117.2 136.6,115.8 137.6,114 C138.6,112.2 138.8,109.8 140.1,107.7 C141.4,105.6 143.5,103.1 145.2,101.3 C146.9,99.5 148.7,98.1 150.2,96.9 C151.7,95.7 152.7,95.5 154,94.2 C155.3,92.9 156.5,90.3 158,89 C159.5,87.7 161.3,86.8 163,86.2 C164.7,85.6 166.6,85.2 168.3,85.3 C170.1,85.4 171.9,86.1 173.5,87 C175.1,87.9 176.5,89.1 177.6,90.5 C178.7,91.9 179.2,93.9 180.3,95.5 C181.4,97.1 182.5,98.1 184,100.1 C185.5,102.1 187.6,105 189.1,107.7 C190.6,110.5 191.6,113.4 192.9,116.6 C194.2,119.8 195.4,123.4 196.7,126.8 C198,130.2 199.2,133.7 200.5,136.9 C201.8,140.1 203,143.2 204.3,145.8 C205.6,148.4 206.8,150.5 208.1,152.2 C209.4,153.9 211,155.3 211.9,156 C212.8,156.7 212.5,157.6 213.3,156.6 C214.2,155.6 216,152.1 217,150 C218,147.9 217.9,147.3 219.2,144.1 C220.5,140.9 223.1,134.8 224.7,130.6 C226.3,126.4 227.9,121.7 229,119 C230.1,116.3 229.9,115.4 231.4,114.4 C232.9,113.4 236.2,114.1 238.2,113 C240.2,111.9 241.8,109.3 243.6,107.6 C245.4,105.9 247.8,103.8 249,102.9 C250.2,102 250.3,102.3 250.6,102.2" fill="none" stroke="#4e4e4e" stroke-width="1.5" stroke-linecap="round" stroke-linejoin="round" />
<path d="M66.8,87.2 C67.5,87.5 69.7,88.1 70.9,88.9 C72.1,89.7 73.1,90.8 74.2,92.2 C75.3,93.6 76.6,95.6 77.5,97.1 C78.4,98.5 78.8,100.7 79.6,100.9 C80.4,101 81.5,99.2 82.5,98 C83.5,96.8 84.8,94.7 85.8,93.8 C86.8,92.9 87.6,92.6 88.7,92.6 C89.8,92.6 91.1,93 92.4,93.8 C93.7,94.5 95.1,95.8 96.5,97.1 C97.9,98.4 99.4,100.7 100.6,101.7 C101.8,102.7 102.9,102.9 103.9,103.3 C104.9,103.7 105.5,103.5 106.5,104.1 C107.5,104.7 108.9,105 110,107.1 C111.1,109.2 112,114.2 113.2,116.6 C114.4,119 115.5,119.9 116.9,121.3 C118.3,122.7 120.2,124.1 121.6,125.1 C123,126 124.1,127 125.4,127 C126.7,127 127.8,126.2 129.2,125.1 C130.6,124 132.5,122 133.9,120.4 C135.3,118.8 136.6,117.4 137.6,115.6 C138.6,113.8 138.8,111.4 140.1,109.3 C141.4,107.2 143.5,104.7 145.2,102.9 C146.9,101.1 148.7,99.7 150.2,98.5 C151.7,97.3 152.7,97.1 154,95.8 C155.3,94.5 156.5,91.9 158,90.6 C159.5,89.3 161.3,88.4 163,87.8 C164.7,87.2 166.6,86.8 168.3,86.9 C170.1,87 171.9,87.7 173.5,88.6 C175.1,89.5 176.5,90.7 177.6,92.1 C178.7,93.5 179.2,95.5 180.3,97.1 C181.4,98.7 182.5,99.7 184,101.7 C185.5,103.7 187.6,106.5 189.1,109.3 C190.6,112 191.6,115 192.9,118.2 C194.2,121.4 195.4,125 196.7,128.4 C198,131.8 199.2,135.3 200.5,138.5 C201.8,141.7 203,144.9 204.3,147.4 C205.6,149.9 206.8,152.1 208.1,153.8 C209.4,155.5 211,156.9 211.9,157.6 C212.8,158.3 212.5,159.2 213.3,158.2 C214.2,157.2 216,153.7 217,151.6 C218,149.5 217.9,148.9 219.2,145.7 C220.5,142.5 223.1,136.4 224.7,132.2 C226.3,128 227.9,123.3 229,120.6 C230.1,117.9 229.9,117 231.4,116 C232.9,115 236.2,115.7 238.2,114.6 C240.2,113.5 241.8,110.9 243.6,109.2 C245.4,107.5 247.8,105.4 249,104.5 C250.2,103.6 250.3,103.9 250.6,103.8" fill="none" stroke="#4e4e4e" stroke-width="1.5" stroke-linecap="round" stroke-linejoin="round" />
<path d="M116.9,121.5 C117.7,122.2 120.2,124.9 121.6,126 C123,127.1 124.1,128.3 125.4,128.3 C126.7,128.3 127.9,127.2 129.2,126 C130.5,124.8 132.4,121.8 133,121" fill="none" stroke="#8e8e8e" stroke-width="1.2" stroke-linecap="round" stroke-linejoin="round" />
<path d="M79.6,99.3 C80.2,99.3 82,99.1 83.3,99.3 C84.6,99.5 85.9,100.2 87.4,100.5 C88.9,100.8 90.8,100.9 92.4,100.9 C94.1,100.9 95.7,100.4 97.3,100.5 C98.9,100.6 100.8,101 102.3,101.3 C103.8,101.5 105.4,101.9 106,102" fill="none" stroke="#6c6c6c" stroke-width="1.2" stroke-linecap="round" stroke-linejoin="round" />
<path d="M168.3,85.3 C168.9,85.8 170.9,87.1 172,88 C173.1,88.9 173.5,89.3 174.9,90.5 C176.3,91.7 178.3,93.6 180.2,95 C182.1,96.4 184.6,97.1 186.5,98.8 C188.4,100.5 190.1,102.7 191.6,105.2 C193.1,107.8 194.1,110.9 195.4,114.1 C196.7,117.3 197.9,120.8 199.2,124.2 C200.5,127.6 201.7,131.2 203,134.4 C204.3,137.6 205.5,140.6 206.8,143.3 C208.1,146.1 209.6,148.9 210.7,150.9 C211.8,152.9 212.9,154.5 213.3,155.2" fill="none" stroke="#4e4e4e" stroke-width="1.4" stroke-linecap="round" stroke-linejoin="round" />
<path d="M135,133.1 C135.8,131.6 138.4,127.2 140.1,124.2 C141.8,121.2 143.5,118 145.2,115.3 C146.9,112.5 148.7,110.2 150.2,107.7 C151.7,105.2 152.9,102.2 154,100.1 C155.1,98 155.6,96.7 156.6,95 C157.6,93.3 158.8,91.3 160,90 C161.2,88.7 162.6,87.6 164,87 C165.4,86.4 167.6,86.4 168.3,86.3" fill="none" stroke="#4e4e4e" stroke-width="1.3" stroke-linecap="round" stroke-linejoin="round" />
<path d="M66.8,85.6 C67.5,86 69.6,86.8 71,88.1 C72.4,89.3 73.9,91.3 75.1,93.1 C76.3,94.9 77.5,97 78.4,98.8 C79.4,100.6 80,102 80.8,103.8 C81.6,105.6 82.5,107.7 83.3,109.6 C84.1,111.5 85,113.4 85.8,115.3 C86.6,117.2 87.5,119 88.3,121.1 C89.1,123.2 89.9,125.5 90.7,127.7 C91.5,129.8 92.4,131.9 93.2,134 C94,136.1 94.8,138.3 95.5,140.5 C96.2,142.7 96.8,144.8 97.5,147 C98.2,149.2 98.9,151.8 99.5,154 C100.1,156.2 100.7,158 101.2,160 C101.8,162 102.3,164.1 102.8,166 C103.3,167.9 104,170.3 104.2,171.2" fill="none" stroke="#4e4e4e" stroke-width="1.5" stroke-linecap="round" stroke-linejoin="round" />
<path d="M67.7,85.6 C68.4,86 70.5,86.8 71.9,88.1 C73.3,89.3 74.8,91.3 76,93.1 C77.2,94.9 78.4,97 79.3,98.8 C80.3,100.6 80.9,102 81.7,103.8 C82.5,105.6 83.4,107.7 84.2,109.6 C85,111.5 85.9,113.4 86.7,115.3 C87.5,117.2 88.4,119 89.2,121.1 C90,123.2 90.8,125.5 91.6,127.7 C92.4,129.8 93.3,131.9 94.1,134 C94.9,136.1 95.7,138.3 96.4,140.5 C97.1,142.7 97.7,144.8 98.4,147 C99.1,149.2 99.8,151.8 100.4,154 C101,156.2 101.6,158 102.1,160 C102.7,162 103.2,164.1 103.7,166 C104.2,167.9 104.9,170.3 105.1,171.2" fill="none" stroke="#4e4e4e" stroke-width="1.5" stroke-linecap="round" stroke-linejoin="round" />
<path d="M68.6,85.6 C69.3,86 71.4,86.8 72.8,88.1 C74.2,89.3 75.7,91.3 76.9,93.1 C78.1,94.9 79.2,97 80.2,98.8 C81.2,100.6 81.8,102 82.6,103.8 C83.4,105.6 84.3,107.7 85.1,109.6 C85.9,111.5 86.8,113.4 87.6,115.3 C88.4,117.2 89.3,119 90.1,121.1 C90.9,123.2 91.7,125.5 92.5,127.7 C93.3,129.8 94.2,131.9 95,134 C95.8,136.1 96.6,138.3 97.3,140.5 C98,142.7 98.6,144.8 99.3,147 C100,149.2 100.7,151.8 101.3,154 C101.9,156.2 102.5,158 103,160 C103.5,162 104.1,164.1 104.6,166 C105.1,167.9 105.8,170.3 106,171.2" fill="none" stroke="#4e4e4e" stroke-width="1.5" stroke-linecap="round" stroke-linejoin="round" />
<path d="M66.8,84 C67.3,83.7 68.8,82.4 70,82 C71.2,81.6 72.6,81.1 74.2,81.4 C75.8,81.7 78.1,82.5 79.7,83.8 C81.3,85.1 82.8,87.4 83.8,89.3 C84.8,91.2 85.1,93.1 85.6,95 C86.1,96.9 86.3,98.5 86.6,100.5 C86.9,102.5 87,104.8 87.6,107.1 C88.1,109.4 89.2,112.2 89.9,114.5 C90.6,116.8 91,118.9 91.6,121.1 C92.1,123.3 92.7,125.6 93.2,127.7 C93.7,129.8 94.2,131.4 94.8,133.5 C95.4,135.6 96.2,138.1 97,140.5 C97.8,142.9 98.6,145.6 99.3,148 C100,150.4 100.5,152.5 101.2,155 C101.9,157.5 102.6,160.3 103.2,163 C103.8,165.7 104.5,169.8 104.8,171.2" fill="none" stroke="#8e8e8e" stroke-width="1.2" stroke-linecap="round" stroke-linejoin="round" />
<path d="M106,101.9 C105.4,101.9 103.5,101.1 102.3,101.7 C101.1,102.3 100.1,103.8 99,105.4 C97.9,107 96.7,109.3 95.7,111.2 C94.7,113.1 93.9,115.1 93.2,117 C92.5,118.9 92,121.1 91.6,122.8 C91.2,124.5 91,125.4 90.7,126.9 C90.4,128.4 90,130.2 89.5,132 C89,133.8 88.6,135.8 88,138 C87.4,140.2 86.7,142.7 86,145 C85.3,147.3 84.3,150.8 84,152" fill="none" stroke="#6c6c6c" stroke-width="1.2" stroke-linecap="round" stroke-linejoin="round" />
<path d="M66.8,108.7 C67.2,109 68.3,109.4 69.3,110.4 C70.3,111.4 71.5,113 72.6,114.5 C73.7,116 74.8,117.7 75.9,119.5 C77,121.3 78.2,123.4 79.2,125.2 C80.2,127 81,128.7 81.7,130.2 C82.4,131.7 82.7,131.8 83.3,134 C83.9,136.2 84.5,140.8 85.4,143.6 C86.3,146.4 87.5,148.3 88.5,150.6 C89.5,152.9 90.4,155.1 91.6,157.6 C92.8,160.1 94.3,163 95.5,165.3 C96.7,167.6 98.1,170.5 98.6,171.5" fill="none" stroke="#4e4e4e" stroke-width="1.5" stroke-linecap="round" stroke-linejoin="round" />
<path d="M68,108.7 C68.4,109 69.5,109.4 70.5,110.4 C71.5,111.4 72.7,113 73.8,114.5 C74.9,116 76,117.7 77.1,119.5 C78.2,121.3 79.4,123.4 80.4,125.2 C81.4,127 82.2,128.7 82.9,130.2 C83.6,131.7 83.9,131.8 84.5,134 C85.1,136.2 85.7,140.8 86.6,143.6 C87.5,146.4 88.7,148.3 89.7,150.6 C90.7,152.9 91.6,155.1 92.8,157.6 C94,160.1 95.5,163 96.7,165.3 C97.9,167.6 99.3,170.5 99.8,171.5" fill="none" stroke="#4e4e4e" stroke-width="1.5" stroke-linecap="round" stroke-linejoin="round" />
<path d="M66.8,130.2 C67.2,129.1 68.3,125.8 69.3,123.6 C70.3,121.4 71.5,119.2 72.6,117 C73.7,114.8 74.9,112.5 75.9,110.4 C76.9,108.3 77.7,105.8 78.4,104.6 C79.1,103.4 79.7,103.3 80,103" fill="none" stroke="#4e4e4e" stroke-width="1.4" stroke-linecap="round" stroke-linejoin="round" />
<path d="M77.5,121.9 C78.2,121.8 80.5,121.4 81.7,121.5 C83,121.6 84,121.9 85,122.4 C86,122.9 87,124.1 87.4,124.4" fill="none" stroke="#8e8e8e" stroke-width="1.2" stroke-linecap="round" stroke-linejoin="round" />
<path d="M66.8,115.3 C67.3,115.8 68.9,117.1 70.1,118.6 C71.3,120.1 73.1,122.6 74.2,124.4 C75.3,126.2 76,127.8 76.7,129.4 C77.4,131 77.8,132.2 78.4,134 C79,135.8 79.8,138.4 80.5,140 C81.2,141.6 81.5,141.9 82.3,143.6 C83,145.3 84,147.6 85,150 C86,152.4 87,155.3 88,158 C89,160.7 90.2,163.8 91,166 C91.8,168.2 92.7,170.3 93,171.2" fill="none" stroke="#6c6c6c" stroke-width="1.3" stroke-linecap="round" stroke-linejoin="round" />
<path d="M67.6,140.5 C68.2,140.1 70,139.1 71.4,138.2 C72.8,137.3 74.4,135.9 76.1,135.1 C77.8,134.3 79.8,133.6 81.5,133.5 C83.2,133.4 85.4,134.2 86.2,134.3" fill="none" stroke="#8e8e8e" stroke-width="1.2" stroke-linecap="round" stroke-linejoin="round" />
<path d="M66.8,144 C67.5,143.6 69.4,142.2 70.7,141.7 C72,141.2 73.2,140.9 74.5,140.9 C75.8,140.9 77.1,141.1 78.4,141.7 C79.7,142.3 81.1,143.4 82.3,144.4 C83.5,145.4 84.4,146.3 85.4,147.5 C86.4,148.7 87.5,149.8 88.5,151.4 C89.5,153 90.6,155 91.6,156.8 C92.6,158.6 93.8,160.5 94.7,162.2 C95.6,163.9 96.3,165.4 97,166.9 C97.7,168.4 98.3,170.5 98.6,171.2" fill="none" stroke="#4e4e4e" stroke-width="1.8" stroke-linecap="round" stroke-linejoin="round" />
<path d="M66.8,146 C67.5,145.7 69.5,144.3 70.7,144.4 C71.9,144.5 72.8,145.7 73.8,146.7 C74.8,147.7 75.9,149 76.9,150.6 C77.9,152.2 79,154.1 80,156 C81,157.9 82.2,160.1 83.1,162.2 C84,164.3 84.9,166.8 85.4,168.4 C85.9,170 86.1,171 86.2,171.5" fill="none" stroke="#4e4e4e" stroke-width="1.4" stroke-linecap="round" stroke-linejoin="round" />
<path d="M66.8,148 C67.5,148.3 69.5,148.7 70.7,149.8 C71.9,150.9 72.8,152.8 73.8,154.5 C74.8,156.2 76,158 76.9,159.9 C77.8,161.8 78.6,164.2 79.2,166.1 C79.8,168 80.5,170.6 80.7,171.5" fill="none" stroke="#4e4e4e" stroke-width="1.4" stroke-linecap="round" stroke-linejoin="round" />
<path d="M66.8,156.5 C67.3,156.8 69,157.4 69.9,158.3 C70.8,159.2 71.4,160.8 72.2,162.2 C73,163.6 73.8,165.3 74.5,166.9 C75.2,168.5 75.8,170.7 76.1,171.5" fill="none" stroke="#4e4e4e" stroke-width="2.0" stroke-linecap="round" stroke-linejoin="round" />
<path d="M66.8,159 C67.2,159.4 68.4,160.3 69.1,161.4 C69.8,162.5 70.2,163.6 70.7,165.3 C71.2,167 72,170.5 72.2,171.5" fill="none" stroke="#4e4e4e" stroke-width="1.4" stroke-linecap="round" stroke-linejoin="round" />
<path d="M66.8,152 C67.2,152.2 68.3,152.3 69,153 C69.7,153.7 70.3,154.8 71,156 C71.7,157.2 72.7,159.3 73,160" fill="none" stroke="#6c6c6c" stroke-width="1.2" stroke-linecap="round" stroke-linejoin="round" />
<path d="M103.8,159.2 C104.7,158.4 107.5,156.4 109.4,154.5 C111.3,152.6 113.4,150.4 115.1,147.9 C116.8,145.4 118.4,141.3 119.8,139.5 C121.2,137.7 122.2,137.3 123.5,137.1 C124.8,136.9 126.2,137.4 127.3,138.1 C128.4,138.8 129.3,140.6 130.1,141.4 C130.9,142.2 131.1,143.7 132,143.2 C132.9,142.7 134.6,140.7 135.8,138.5 C137.1,136.3 138.2,132.4 139.5,130.1 C140.8,127.8 142.3,125.9 143.9,124.6 C145.5,123.3 147.7,123.5 149.3,122.5 C150.9,121.5 151.8,119.6 153.4,118.5 C155,117.4 157.2,116.5 158.8,115.7 C160.4,115 162.3,114.3 163,114" fill="none" stroke="#4e4e4e" stroke-width="1.4" stroke-linecap="round" stroke-linejoin="round" />
<path d="M103.8,159.2 C104.7,158.3 107.4,155.6 109.4,153.6 C111.4,151.6 113.8,149.2 116,147 C118.2,144.8 120.6,142.1 122.6,140.4 C124.6,138.7 126.3,137.7 128.2,136.6 C130.1,135.5 132,134.7 133.9,133.8 C135.8,132.9 137.8,131.8 139.5,131 C141.2,130.2 142.4,129.8 144,129 C145.6,128.2 148.2,126.9 149,126.5" fill="none" stroke="#6c6c6c" stroke-width="1.3" stroke-linecap="round" stroke-linejoin="round" />
<path d="M107.5,171.5 C108.1,169.9 110,165.2 111.3,162.1 C112.6,158.9 113.8,155.8 115.1,152.6 C116.3,149.4 117.5,145.7 118.8,143.2 C120,140.7 122,138.5 122.6,137.6" fill="none" stroke="#4e4e4e" stroke-width="1.4" stroke-linecap="round" stroke-linejoin="round" />
<path d="M112.2,162.1 C112.8,161 114.7,157.1 116,155.5 C117.3,153.9 118.7,152.9 119.8,152.6 C120.9,152.3 121.7,152.8 122.6,153.6 C123.5,154.4 124.6,156 125.4,157.4 C126.2,158.8 126.7,160.4 127.3,162.1 C127.9,163.8 128.7,166.1 129.2,167.7 C129.7,169.3 129.9,170.9 130.1,171.5" fill="none" stroke="#8e8e8e" stroke-width="1.3" stroke-linecap="round" stroke-linejoin="round" />
<path d="M112.2,165.8 C113.3,165.2 116.8,163.3 118.8,162.1 C120.8,160.8 122.9,159.6 124.5,158.3 C126.1,157 126.9,155.8 128.2,154.5 C129.4,153.2 130.7,151.3 132,150.8 C133.3,150.3 134.6,152.2 135.8,151.7 C137.1,151.2 138.2,149.2 139.5,147.9 C140.8,146.6 142,146.9 143.9,144 C145.8,141.1 148.7,132.7 150.7,130.7 C152.7,128.7 154.3,131.1 156.1,132 C157.9,132.9 160.6,135.4 161.5,136.1" fill="none" stroke="#4e4e4e" stroke-width="1.4" stroke-linecap="round" stroke-linejoin="round" />
<path d="M118.8,164.9 C119.8,163.9 122.9,160.3 124.5,159.2 C126.1,158.1 126.9,158.3 128.2,158.3 C129.4,158.3 130.7,158.7 132,159.2 C133.3,159.7 134.6,161.1 135.8,161.1 C137.1,161.1 138.3,160.2 139.5,159.2 C140.7,158.2 141.8,156.5 143,155 C144.2,153.5 146.3,150.8 147,150" fill="none" stroke="#4e4e4e" stroke-width="1.4" stroke-linecap="round" stroke-linejoin="round" />
<path d="M100,150.8 C100.5,151.6 101.9,154.1 102.8,155.5 C103.7,156.9 104.6,158.1 105.6,159.2 C106.5,160.3 107.6,161 108.5,162.1 C109.4,163.2 110.2,164.5 111,166 C111.8,167.5 112.7,170.3 113,171.2" fill="none" stroke="#4e4e4e" stroke-width="1.3" stroke-linecap="round" stroke-linejoin="round" />
<path d="M100,160.2 C100.6,160 102.5,158.8 103.8,158.8 C105,158.8 106.4,159.3 107.5,160.2 C108.6,161.1 109.7,162.7 110.4,164 C111.2,165.3 111.7,167.3 112,168" fill="none" stroke="#6c6c6c" stroke-width="1.2" stroke-linecap="round" stroke-linejoin="round" />
<path d="M133,171.5 C133.5,170.9 134.7,168 135.8,167.7 C136.9,167.4 138.9,169.3 139.5,169.6" fill="none" stroke="#4e4e4e" stroke-width="1.3" stroke-linecap="round" stroke-linejoin="round" />
<path d="M143.9,134.7 C145,134 148.7,131.1 150.7,130.7 C152.7,130.2 154.3,131.1 156.1,132 C157.9,132.9 160.6,135.4 161.5,136.1" fill="none" stroke="#6c6c6c" stroke-width="1.2" stroke-linecap="round" stroke-linejoin="round" />
<path d="M145.2,171.2 C145.8,167 147.9,153.2 149,145.8 C150.1,138.4 150.7,132.4 151.5,126.7 C152.3,121 153.2,115.9 154,111.5 C154.8,107.1 155.8,103.2 156.6,100.1 C157.3,97 157.8,94.9 158.5,93 C159.2,91.1 160.1,89.6 161,88.5 C161.9,87.4 162.8,87 164,86.5 C165.2,86 167.6,85.5 168.3,85.3" fill="none" stroke="#6c6c6c" stroke-width="1.3" stroke-linecap="round" stroke-linejoin="round" />
<path d="M147.8,171.2 C148.4,167 150.5,153.2 151.6,145.8 C152.7,138.4 153.3,132.4 154.1,126.7 C154.9,121 155.8,115.9 156.6,111.5 C157.4,107.1 158.4,103.2 159.2,100.1 C159.9,97 160.4,94.9 161.1,93 C161.8,91.1 162.7,89.6 163.6,88.5 C164.5,87.4 165.4,87 166.6,86.5 C167.8,86 170.2,85.5 170.9,85.3" fill="none" stroke="#6c6c6c" stroke-width="1.3" stroke-linecap="round" stroke-linejoin="round" />
<path d="M150.4,171.2 C151,167 153.1,153.2 154.2,145.8 C155.2,138.4 155.9,132.4 156.7,126.7 C157.5,121 158.3,115.9 159.2,111.5 C160,107.1 161,103.2 161.8,100.1 C162.5,97 163,94.9 163.7,93 C164.4,91.1 165.3,89.6 166.2,88.5 C167.1,87.4 168,87 169.2,86.5 C170.4,86 172.8,85.5 173.5,85.3" fill="none" stroke="#6c6c6c" stroke-width="1.3" stroke-linecap="round" stroke-linejoin="round" />
<path d="M137.1,171.2 C137.8,168.5 139.9,159.5 141,155 C142.1,150.5 143.1,147.9 143.9,144.2 C144.7,140.5 145.7,134.9 146,133" fill="none" stroke="#6c6c6c" stroke-width="1.2" stroke-linecap="round" stroke-linejoin="round" />
<path d="M148,146 C148.3,145.2 149.2,143 150,141.5 C150.8,140 152.1,138.8 153,137.1 C153.9,135.4 154.5,133.2 155.2,131.2 C155.9,129.2 156.7,127.2 157.4,125.2 C158.1,123.2 158.8,121.2 159.6,119.3 C160.3,117.4 161,115.6 161.9,114.1 C162.8,112.6 163.8,111.3 164.8,110.4 C165.9,109.5 167.1,108.9 168.2,108.9 C169.3,108.9 170.6,109.5 171.5,110.4 C172.4,111.3 172.9,112.6 173.7,114.1 C174.4,115.6 175.2,117.4 176,119.3 C176.8,121.2 177.5,123.2 178.2,125.2 C178.9,127.2 179.7,129.2 180.4,131.2 C181.1,133.2 181.7,134.7 182.5,137 C183.3,139.3 184.4,142.3 185.2,145 C186,147.7 186.8,150.9 187.5,153.4 C188.2,155.9 188.4,157 189.1,160 C189.8,163 191.2,169.3 191.6,171.2" fill="none" stroke="#4e4e4e" stroke-width="1.6" stroke-linecap="round" stroke-linejoin="round" />
<path d="M151,143 C151.6,141.5 153.5,136.7 154.5,134 C155.5,131.3 156.1,129.3 157,127 C157.9,124.7 158.9,122.1 160,120 C161.1,117.9 162.1,115.8 163.5,114.5 C164.9,113.2 166.6,111.9 168.2,111.9 C169.8,111.9 171.6,113.2 173,114.5 C174.4,115.8 175.4,117.9 176.5,120 C177.6,122.1 178.6,124.7 179.5,127 C180.4,129.3 181.2,131.7 182,134 C182.8,136.3 183.6,138.5 184.3,141 C185.1,143.5 186.1,147.7 186.5,149" fill="none" stroke="#4e4e4e" stroke-width="1.4" stroke-linecap="round" stroke-linejoin="round" />
<path d="M140,128 C140.8,126.7 143.3,122.2 145,120 C146.7,117.8 148.7,115.9 150,114.8 C151.3,113.7 152,113.4 153,113.4 C154,113.4 154.9,113.8 155.9,114.8 C156.9,115.8 158,117.7 158.9,119.3 C159.8,120.9 160.2,122.7 161.1,124.5 C161.9,126.3 162.8,128.2 164,130 C165.2,131.8 166.9,135 168.2,135 C169.4,135 170.4,132.7 171.5,130 C172.6,127.3 173.6,121.2 174.5,118.6 C175.4,115.9 175.8,115.3 176.7,114.1 C177.6,112.8 178.7,111.3 179.7,111.1 C180.7,110.8 181.7,111.6 182.7,112.6 C183.7,113.6 184.5,115.4 185.6,117.1 C186.7,118.8 187.7,120.5 189.1,123 C190.5,125.5 192.4,129.2 194.1,131.9 C195.8,134.7 197.5,137.2 199.2,139.5 C200.9,141.8 202.6,143.7 204.3,145.8 C206,147.9 207.9,150.5 209.4,152.2 C210.9,153.9 212.6,155.4 213.2,156" fill="none" stroke="#4e4e4e" stroke-width="1.5" stroke-linecap="round" stroke-linejoin="round" />
<path d="M143,133 C143.7,132.7 145.8,131.4 147,131 C148.2,130.6 148.9,130.6 150,130.4 C151.1,130.2 152.5,130 153.7,130.1 C154.9,130.2 156.3,130.5 157.4,131.2 C158.5,131.9 159.5,133.1 160.4,134.1 C161.3,135.1 161.9,136.3 162.6,137.1 C163.3,137.9 164.1,139 164.8,139 C165.6,139 166.5,137.7 167.1,137.1 C167.7,136.5 167.8,135.4 168.2,135.5 C168.6,135.6 168.9,136.9 169.5,137.5 C170.1,138.1 170.9,139.1 171.6,139 C172.3,138.9 173,138.5 173.8,137.1 C174.6,135.7 175.6,132.1 176.4,130.6 C177.2,129.1 177.4,128.6 178.5,128 C179.6,127.4 181.1,126.6 182.7,126.8 C184.2,127 186.3,127.8 187.8,129.3 C189.3,130.8 190.3,133.4 191.6,135.7 C192.9,138 193.9,140.8 195.4,143.3 C196.9,145.8 198.8,148.4 200.5,150.9 C202.2,153.4 203.9,155.9 205.6,158.5 C207.3,161.1 209.5,164.1 210.7,166.2 C211.9,168.3 212.6,170.4 213,171.2" fill="none" stroke="#4e4e4e" stroke-width="1.5" stroke-linecap="round" stroke-linejoin="round" />
<path d="M182.7,148.4 C183.3,148.2 185.2,148.2 186.5,147.1 C187.8,146 189,143.9 190.3,142 C191.6,140.1 192.8,137.8 194.1,135.7 C195.4,133.6 197.3,130.4 198,129.3" fill="none" stroke="#8e8e8e" stroke-width="1.2" stroke-linecap="round" stroke-linejoin="round" />
<path d="M146.4,177.2 C147.4,175.3 150.4,168.9 152.2,165.5 C153.9,162.1 155.5,159.2 156.9,156.8 C158.3,154.3 159.5,152.4 160.7,150.6 C161.9,148.8 163.1,147.2 164.1,146 C165.1,144.7 166.1,143.8 166.8,143.2 C167.5,142.5 167.8,142.2 168.3,142.2 C168.8,142.2 169.1,142.5 169.8,143.2 C170.5,143.8 171.5,144.7 172.5,146 C173.5,147.2 174.7,148.8 175.9,150.6 C177.1,152.4 178.3,154.3 179.7,156.8 C181.1,159.2 182.7,162.1 184.4,165.5 C186.2,168.9 189.2,175.3 190.2,177.2" fill="none" stroke="#4e4e4e" stroke-width="1.6" stroke-linecap="round" stroke-linejoin="round" />
<path d="M148.2,177 C149.1,175.1 151.8,169 153.4,165.7 C155,162.4 156.5,159.7 157.8,157.3 C159.1,155 160.2,153.2 161.3,151.5 C162.4,149.7 163.5,148.2 164.4,147 C165.4,145.8 166.3,144.9 166.9,144.3 C167.5,143.7 167.8,143.4 168.3,143.4 C168.8,143.4 169.1,143.7 169.7,144.3 C170.3,144.9 171.2,145.8 172.2,147 C173.1,148.2 174.2,149.7 175.3,151.5 C176.4,153.2 177.5,155 178.8,157.3 C180.1,159.7 181.6,162.4 183.2,165.7 C184.8,169 187.6,175.1 188.4,177" fill="none" stroke="#4e4e4e" stroke-width="1.5" stroke-linecap="round" stroke-linejoin="round" />
<path d="M149.9,176.7 C150.7,174.9 153.2,169.1 154.7,166 C156.2,162.9 157.5,160.3 158.7,158.1 C159.9,155.8 160.9,154.1 161.9,152.5 C162.9,150.8 163.9,149.4 164.8,148.2 C165.6,147.1 166.4,146.2 167,145.7 C167.6,145.1 167.9,144.8 168.3,144.8 C168.7,144.8 169,145.1 169.6,145.7 C170.2,146.2 171,147.1 171.8,148.2 C172.7,149.4 173.7,150.8 174.7,152.5 C175.7,154.1 176.7,155.8 177.9,158.1 C179.1,160.3 180.4,162.9 181.9,166 C183.4,169.1 185.9,174.9 186.7,176.7" fill="none" stroke="#6c6c6c" stroke-width="1.4" stroke-linecap="round" stroke-linejoin="round" />
<path d="M151.6,176.4 C152.3,174.7 154.6,169.2 156,166.3 C157.3,163.3 158.5,160.9 159.6,158.7 C160.7,156.6 161.6,155 162.5,153.5 C163.4,151.9 164.3,150.5 165.1,149.4 C165.9,148.4 166.6,147.6 167.1,147 C167.7,146.5 167.9,146.2 168.3,146.2 C168.7,146.2 168.9,146.5 169.5,147 C170,147.6 170.7,148.4 171.5,149.4 C172.3,150.5 173.2,151.9 174.1,153.5 C175,155 175.9,156.6 177,158.7 C178.1,160.9 179.3,163.3 180.6,166.3 C181.9,169.2 184.3,174.7 185,176.4" fill="none" stroke="#4e4e4e" stroke-width="1.5" stroke-linecap="round" stroke-linejoin="round" />
<path d="M156.2,174.4 C156.8,173.3 158.4,170 159.4,168.2 C160.3,166.4 161.2,164.9 162,163.6 C162.8,162.3 163.4,161.4 164.1,160.4 C164.8,159.5 165.4,158.6 166,158 C166.6,157.3 167.1,156.8 167.5,156.5 C167.8,156.2 168,156 168.3,156 C168.6,156 168.8,156.2 169.1,156.5 C169.5,156.8 170.1,157.3 170.6,158 C171.2,158.6 171.8,159.5 172.5,160.4 C173.2,161.4 173.8,162.3 174.6,163.6 C175.4,164.9 176.3,166.4 177.2,168.2 C178.2,170 179.9,173.3 180.4,174.4" fill="none" stroke="#4e4e4e" stroke-width="1.5" stroke-linecap="round" stroke-linejoin="round" />
<path d="M157.6,174 C158.1,173.1 159.5,170.1 160.4,168.5 C161.3,166.9 162,165.6 162.7,164.4 C163.4,163.3 164,162.4 164.6,161.6 C165.2,160.7 165.8,159.9 166.2,159.4 C166.7,158.8 167.2,158.3 167.6,158.1 C167.9,157.8 168.1,157.6 168.3,157.6 C168.5,157.6 168.7,157.8 169,158.1 C169.4,158.3 169.9,158.8 170.3,159.4 C170.8,159.9 171.4,160.7 172,161.6 C172.6,162.4 173.2,163.3 173.9,164.4 C174.6,165.6 175.4,166.9 176.2,168.5 C177.1,170.1 178.5,173.1 179,174" fill="none" stroke="#4e4e4e" stroke-width="1.4" stroke-linecap="round" stroke-linejoin="round" />
<path d="M158.9,173.7 C159.3,172.9 160.6,170.3 161.3,168.9 C162.1,167.5 162.8,166.3 163.4,165.3 C164,164.3 164.5,163.5 165,162.8 C165.5,162 166.1,161.3 166.5,160.8 C166.9,160.3 167.3,159.9 167.6,159.7 C167.9,159.4 168.1,159.3 168.3,159.3 C168.5,159.3 168.7,159.4 169,159.7 C169.3,159.9 169.7,160.3 170.1,160.8 C170.5,161.3 171.1,162 171.6,162.8 C172.1,163.5 172.6,164.3 173.2,165.3 C173.8,166.3 174.5,167.5 175.3,168.9 C176,170.3 177.3,172.9 177.7,173.7" fill="none" stroke="#6c6c6c" stroke-width="1.3" stroke-linecap="round" stroke-linejoin="round" />
<path d="M170,143.3 C170.8,144.2 173.6,146.3 175.1,148.4 C176.6,150.5 177.6,153.5 178.9,156 C180.2,158.5 181.6,161.1 182.7,163.6 C183.8,166.1 184.8,169.9 185.2,171.2" fill="none" stroke="#4e4e4e" stroke-width="1.4" stroke-linecap="round" stroke-linejoin="round" />
<path d="M199.2,171.2 C199.8,170.8 201.5,169.5 203,168.7 C204.5,167.9 206.4,166.8 208.1,166.2 C209.8,165.6 211.6,165.2 213.2,165.3 C214.8,165.4 216.2,165.8 217.9,166.5 C219.6,167.2 222,168.4 223.3,169.2 C224.7,170 225.6,170.9 226,171.2" fill="none" stroke="#4e4e4e" stroke-width="1.4" stroke-linecap="round" stroke-linejoin="round" />
<path d="M219.2,171.2 C220.1,170.1 222.7,166 224.7,164.4 C226.7,162.8 229.2,161.9 231.4,161.7 C233.7,161.5 236.2,162.4 238.2,163.1 C240.2,163.8 241.8,164.7 243.6,165.8 C245.4,166.9 248.1,169.2 249,169.9" fill="none" stroke="#4e4e4e" stroke-width="1.4" stroke-linecap="round" stroke-linejoin="round" />
<path d="M231.4,152.2 C232.3,152.4 234.8,152.9 236.8,153.6 C238.8,154.3 241.3,155.4 243.6,156.3 C245.9,157.2 249.4,158.6 250.6,159" fill="none" stroke="#4e4e4e" stroke-width="1.4" stroke-linecap="round" stroke-linejoin="round" />
<path d="M213.1,155.5 C214.1,155.1 217.2,154.4 219,153 C220.8,151.6 222.5,149.7 224,147 C225.5,144.3 226.8,139.7 228,137 C229.2,134.3 230.1,131 231.4,131 C232.7,131 234.4,134.3 236,137 C237.6,139.7 239.3,143.7 241,147 C242.7,150.3 244.4,153.8 246,157 C247.6,160.2 249.8,164.5 250.6,166" fill="none" stroke="#4e4e4e" stroke-width="1.5" stroke-linecap="round" stroke-linejoin="round" />
<path d="M213.1,157.5 C214.2,157 218,155.8 220,154.5 C222,153.2 223.6,152.1 225,150 C226.4,147.9 227.4,144.1 228.5,142 C229.6,139.9 230,137.2 231.4,137.5 C232.8,137.8 234.8,141.2 236.8,144.1 C238.8,147 241.6,151.4 243.6,155 C245.6,158.6 247.9,163.1 249,165.8 C250.1,168.5 249.8,170.3 250,171.2" fill="none" stroke="#4e4e4e" stroke-width="1.5" stroke-linecap="round" stroke-linejoin="round" />
<path d="M240,171.2 C240.7,170.3 242.7,167.4 244,166 C245.3,164.6 246.9,163.7 248,163 C249.1,162.3 250.2,162.2 250.6,162" fill="none" stroke="#4e4e4e" stroke-width="1.3" stroke-linecap="round" stroke-linejoin="round" />
<path d="M213.1,160 C213.9,159.8 216.3,159.5 218,159 C219.7,158.5 221.3,157.8 223,157 C224.7,156.2 226.6,154.8 228,154 C229.4,153.2 230.8,152.3 231.4,152" fill="none" stroke="#6c6c6c" stroke-width="1.2" stroke-linecap="round" stroke-linejoin="round" />
</g>
<rect x="66.8" y="19.3" width="183.8" height="151.9" fill="none" stroke="#707070" stroke-width="1.3"/>
<line x1="66.8" y1="19.3" x2="69.3" y2="19.3" stroke="#707070" stroke-width="1.1" />
<line x1="250.6" y1="19.3" x2="248.1" y2="19.3" stroke="#707070" stroke-width="1.1" />
<line x1="66.8" y1="57.3" x2="69.3" y2="57.3" stroke="#707070" stroke-width="1.1" />
<line x1="250.6" y1="57.3" x2="248.1" y2="57.3" stroke="#707070" stroke-width="1.1" />
<line x1="66.8" y1="95.2" x2="69.3" y2="95.2" stroke="#707070" stroke-width="1.1" />
<line x1="250.6" y1="95.2" x2="248.1" y2="95.2" stroke="#707070" stroke-width="1.1" />
<line x1="66.8" y1="133.2" x2="69.3" y2="133.2" stroke="#707070" stroke-width="1.1" />
<line x1="250.6" y1="133.2" x2="248.1" y2="133.2" stroke="#707070" stroke-width="1.1" />
<line x1="66.8" y1="171.2" x2="69.3" y2="171.2" stroke="#707070" stroke-width="1.1" />
<line x1="250.6" y1="171.2" x2="248.1" y2="171.2" stroke="#707070" stroke-width="1.1" />
<line x1="66.8" y1="38.3" x2="68.4" y2="38.3" stroke="#707070" stroke-width="1.1" />
<line x1="250.6" y1="38.3" x2="249" y2="38.3" stroke="#707070" stroke-width="1.1" />
<line x1="66.8" y1="76.3" x2="68.4" y2="76.3" stroke="#707070" stroke-width="1.1" />
<line x1="250.6" y1="76.3" x2="249" y2="76.3" stroke="#707070" stroke-width="1.1" />
<line x1="66.8" y1="114.2" x2="68.4" y2="114.2" stroke="#707070" stroke-width="1.1" />
<line x1="250.6" y1="114.2" x2="249" y2="114.2" stroke="#707070" stroke-width="1.1" />
<line x1="66.8" y1="152.2" x2="68.4" y2="152.2" stroke="#707070" stroke-width="1.1" />
<line x1="250.6" y1="152.2" x2="249" y2="152.2" stroke="#707070" stroke-width="1.1" />
<text x="63.4" y="22.9" font-family="Liberation Sans" font-size="10" fill="#222" text-anchor="end" >1.0</text>
<text x="63.4" y="60.9" font-family="Liberation Sans" font-size="10" fill="#222" text-anchor="end" >0.5</text>
<text x="63.4" y="98.8" font-family="Liberation Sans" font-size="10" fill="#222" text-anchor="end" >0.0</text>
<text x="63.4" y="136.8" font-family="Liberation Sans" font-size="10" fill="#222" text-anchor="end" >-0.5</text>
<text x="63.4" y="174.8" font-family="Liberation Sans" font-size="10" fill="#222" text-anchor="end" >-1.0</text>
<text x="67.7" y="181.7" font-family="Liberation Serif" font-size="11.8" fill="#222" text-anchor="middle" >Γ</text>
<text x="104.5" y="181.7" font-family="Liberation Sans" font-size="11.2" fill="#222" text-anchor="middle" >X</text>
<text x="121.5" y="181.7" font-family="Liberation Sans" font-size="11.2" fill="#222" text-anchor="middle" >U|K</text>
<text x="168.4" y="181.7" font-family="Liberation Serif" font-size="11.8" fill="#222" text-anchor="middle" >Γ</text>
<text x="214.2" y="181.7" font-family="Liberation Sans" font-size="11.2" fill="#222" text-anchor="middle" >L</text>
<text x="233.1" y="181.7" font-family="Liberation Sans" font-size="11.2" fill="#222" text-anchor="middle" >W</text>
<text x="251.6" y="181.7" font-family="Liberation Sans" font-size="11.2" fill="#222" text-anchor="middle" >X</text>
<text transform="translate(38.3,90.8) rotate(-90)" font-family="Liberation Sans" font-size="14.6" fill="#111" text-anchor="middle" textLength="78.5" lengthAdjust="spacingAndGlyphs">Energy (eV)</text>
<text transform="translate(11.2,505.7) rotate(-90)" font-family="Liberation Sans" font-size="14" fill="#111" text-anchor="middle" textLength="64" lengthAdjust="spacingAndGlyphs">DOS (a.u.)</text>
<text transform="translate(355.6,505.7) rotate(-90)" font-family="Liberation Sans" font-size="14" fill="#111" text-anchor="middle" textLength="64" lengthAdjust="spacingAndGlyphs">DOS (a.u.)</text>
<line x1="186.7" y1="448.8" x2="186.7" y2="576" stroke="#111" stroke-width="1.1" stroke-dasharray="4 3"/>
<clipPath id="cp41"><rect x="41.1" y="448.8" width="291.1" height="127.2"/></clipPath>
<g clip-path="url(#cp41)">
<path d="M40.9,512.6 L42.7,529.9 L44,535.3 L45.4,524.4 L47.3,523.5 L48.7,511.7 L50.5,494.5 L52,515.4 L53.1,522.6 L55.4,519 L58.1,518.1 L59.1,511.7 L60,513.6 L61.4,500.9 L62.7,515.4 L64.1,529.9 L66.3,520.8 L69,509 L70.5,508.1 L71.8,517.2 L74.5,520.8 L76.3,509.9 L78.1,499 L79.6,515.4 L80.8,537.1 L82.6,524.4 L84.5,506.3 L85.7,496.3 L87.2,515.4 L88.6,519 L90.8,520.8 L93.5,517.2 L95.4,509.9 L96.6,493.6 L98.4,503.6 L99.9,515.4 L102.6,526.3 L104.4,529 L105.7,497.2 L106.8,470 L108.1,499 L109.3,477.3 L110.8,517.2 L112.2,479.1 L113.5,470 L114.4,511.7 L116.2,513.6 L120.4,515.4 L125.9,514.5 L127.3,505.4 L128.6,509 L131,505.4 L133.1,509 L135,508.1 L136.8,508.1 L139.5,515.4 L142.2,519.9 L144.9,518.1 L146.8,506.3 L148,500.9 L149.5,511.7 L152.2,528.1 L155.8,534.4 L159.5,543.5 L161.3,533.5 L162.5,534.4 L164,542.6 L167.6,548 L171.3,549.9 L174.9,539.9 L178.5,528.1 L181.2,516.3 L183.1,522.6 L184.9,537.1 L186.7,553.5 L188.5,564.4 L191.7,570.1 L195.4,572.3 L199.8,571.3 L207.3,569.4 L214.7,566.4 L222.1,562.7 L226.5,556.8 L231,551.6 L235.4,550.8 L241.4,549.3 L245.8,541.9 L250.3,536 L253.2,533 L255.5,529.3 L258,534.5 L262.4,536 L265.4,543.4 L269.1,550.8 L272.8,553.8 L275.8,546.4 L278,528.6 L279.5,539 L281.7,546.4 L283.5,541.9 L285.4,552.3 L286.9,559.7 L288.4,547.9 L290.6,547.9 L292.8,534.5 L295.1,521.9 L297.3,530.1 L299.5,531.5 L302.5,520.4 L304.7,518.9 L306.6,512.3 L308.4,516 L310.6,522.6 L312.1,530.1 L315.8,532.3 L318.1,528.6 L321.8,527.8 L324,530.1 L326.2,527.8 L328.4,533.8 L330.7,534.5 L332.2,524.9" fill="none" stroke="#ee3b3b" stroke-width="2.0" stroke-linejoin="round" stroke-linecap="round"/>
<path d="M40.9,558.9 L43.6,562.6 L47.3,560.7 L50.9,556.2 L52.7,560.7 L58.1,559.8 L61.8,557.1 L63.6,562.6 L69,559 L73.6,561.7 L78.1,557.1 L80.8,565.3 L85.4,557.1 L88.1,562.6 L94.4,561.7 L97.2,555.3 L99.9,562.6 L104.4,565.3 L106.2,549.9 L108.1,562.6 L111.7,565.3 L113.5,553.5 L115.3,563.5 L122.3,564.4 L129.5,563.5 L136.8,564 L144,565.3 L148,563.5 L151.3,566.2 L159.5,568 L162.5,564.4 L167.6,567.6 L171.3,568.4 L176.7,562.6 L181.2,558 L183.9,562.6 L187.6,568.9 L191.7,571.3 L196.9,571.3 L206.5,568.6 L207.3,563.4 L208,567.9 L214.7,565.7 L222.1,561.2 L226.5,555.3 L232.5,549.3 L236.2,551.6 L241.4,550.1 L245.8,543.4 L250.3,537.5 L254.7,533.8 L258,537.5 L262.4,540.4 L266.9,547.9 L269.8,555.3 L272.8,556.8 L275.8,549.3 L278,534.5 L280.2,546.4 L283.2,543.4 L285.4,556.8 L286.9,564.2 L289.1,549.3 L292.1,541.9 L294.8,523.4 L297.3,530.1 L299.5,530.1 L302.5,521.2 L305.4,519.7 L306.6,514.5 L308.4,518.2 L311.4,530.1 L314.3,533.8 L318.1,534.5 L320.3,533 L323.2,535.3 L326.2,536.7 L329.2,542.7 L332.2,536" fill="none" stroke="#2e9e55" stroke-width="2.0" stroke-linejoin="round" stroke-linecap="round"/>
<path d="M40.9,548 L42.7,555.3 L44.5,549.9 L47.3,552.6 L49.1,546.2 L50.5,539.9 L52,549.9 L54.5,550.8 L58.1,549 L60.9,545.3 L62.7,552.6 L65.4,553.5 L69,549 L70.9,550.8 L74.5,551.7 L76.3,548 L78.1,542.6 L79.9,552.6 L83.6,551.7 L85.7,546.2 L87.2,551.7 L90.8,554.4 L94.4,551.7 L97.2,546.2 L99.9,549.9 L103.5,555.3 L106.2,537.1 L108.1,549.9 L109.9,544.4 L111.7,553.5 L113.5,544.4 L115.3,553.5 L120.4,553.9 L127.7,553.1 L133.1,553.5 L136.8,552.6 L139.5,555.3 L144,555.3 L146.8,552.6 L148,549.9 L149.8,555.3 L153.1,560.7 L156.7,562.6 L159.5,566.2 L163.1,564.4 L167.6,566.2 L171.3,567.1 L174.9,564.4 L178.5,559.8 L181.2,555.3 L183.9,559 L186.7,566.2 L189.4,570.7 L193.9,572.3 L199.8,571.6 L207.3,570.1 L214.7,567.9 L222.1,565.7 L229.5,563.4 L232.5,562 L235.4,562.7 L241.4,561.2 L247.3,558.2 L251.8,555.3 L255.5,554.5 L259.5,557.5 L263.9,559 L268.4,564.9 L272.8,567.2 L275.8,564.9 L278,559.7 L281,564.9 L284.7,567.2 L286.9,571.6 L289.1,567.2 L292.8,564.2 L295.1,559 L297.3,560.5 L301,558.2 L304,557.5 L306.9,556 L309.9,559 L312.9,562.7 L317.3,562 L321.8,562 L326.2,563.4 L329.2,564.2 L332.2,562.7" fill="none" stroke="#1f66dd" stroke-width="2.0" stroke-linejoin="round" stroke-linecap="round"/>
</g>
<rect x="41.1" y="448.8" width="291.1" height="127.2" fill="none" stroke="#000" stroke-width="2"/>
<line x1="41.1" y1="448.8" x2="41.1" y2="451.8" stroke="#000" stroke-width="1.2" />
<line x1="41.1" y1="576" x2="41.1" y2="573" stroke="#000" stroke-width="1.2" />
<line x1="59.3" y1="448.8" x2="59.3" y2="450.8" stroke="#000" stroke-width="1.2" />
<line x1="59.3" y1="576" x2="59.3" y2="574" stroke="#000" stroke-width="1.2" />
<line x1="77.5" y1="448.8" x2="77.5" y2="451.8" stroke="#000" stroke-width="1.2" />
<line x1="77.5" y1="576" x2="77.5" y2="573" stroke="#000" stroke-width="1.2" />
<line x1="95.7" y1="448.8" x2="95.7" y2="450.8" stroke="#000" stroke-width="1.2" />
<line x1="95.7" y1="576" x2="95.7" y2="574" stroke="#000" stroke-width="1.2" />
<line x1="113.9" y1="448.8" x2="113.9" y2="451.8" stroke="#000" stroke-width="1.2" />
<line x1="113.9" y1="576" x2="113.9" y2="573" stroke="#000" stroke-width="1.2" />
<line x1="132.1" y1="448.8" x2="132.1" y2="450.8" stroke="#000" stroke-width="1.2" />
<line x1="132.1" y1="576" x2="132.1" y2="574" stroke="#000" stroke-width="1.2" />
<line x1="150.3" y1="448.8" x2="150.3" y2="451.8" stroke="#000" stroke-width="1.2" />
<line x1="150.3" y1="576" x2="150.3" y2="573" stroke="#000" stroke-width="1.2" />
<line x1="168.5" y1="448.8" x2="168.5" y2="450.8" stroke="#000" stroke-width="1.2" />
<line x1="168.5" y1="576" x2="168.5" y2="574" stroke="#000" stroke-width="1.2" />
<line x1="186.6" y1="448.8" x2="186.6" y2="451.8" stroke="#000" stroke-width="1.2" />
<line x1="186.6" y1="576" x2="186.6" y2="573" stroke="#000" stroke-width="1.2" />
<line x1="204.8" y1="448.8" x2="204.8" y2="450.8" stroke="#000" stroke-width="1.2" />
<line x1="204.8" y1="576" x2="204.8" y2="574" stroke="#000" stroke-width="1.2" />
<line x1="223" y1="448.8" x2="223" y2="451.8" stroke="#000" stroke-width="1.2" />
<line x1="223" y1="576" x2="223" y2="573" stroke="#000" stroke-width="1.2" />
<line x1="241.2" y1="448.8" x2="241.2" y2="450.8" stroke="#000" stroke-width="1.2" />
<line x1="241.2" y1="576" x2="241.2" y2="574" stroke="#000" stroke-width="1.2" />
<line x1="259.4" y1="448.8" x2="259.4" y2="451.8" stroke="#000" stroke-width="1.2" />
<line x1="259.4" y1="576" x2="259.4" y2="573" stroke="#000" stroke-width="1.2" />
<line x1="277.6" y1="448.8" x2="277.6" y2="450.8" stroke="#000" stroke-width="1.2" />
<line x1="277.6" y1="576" x2="277.6" y2="574" stroke="#000" stroke-width="1.2" />
<line x1="295.8" y1="448.8" x2="295.8" y2="451.8" stroke="#000" stroke-width="1.2" />
<line x1="295.8" y1="576" x2="295.8" y2="573" stroke="#000" stroke-width="1.2" />
<line x1="314" y1="448.8" x2="314" y2="450.8" stroke="#000" stroke-width="1.2" />
<line x1="314" y1="576" x2="314" y2="574" stroke="#000" stroke-width="1.2" />
<line x1="332.2" y1="448.8" x2="332.2" y2="451.8" stroke="#000" stroke-width="1.2" />
<line x1="332.2" y1="576" x2="332.2" y2="573" stroke="#000" stroke-width="1.2" />
<line x1="41.1" y1="576" x2="44.6" y2="576" stroke="#000" stroke-width="1.2" />
<line x1="332.2" y1="576" x2="328.7" y2="576" stroke="#000" stroke-width="1.2" />
<line x1="41.1" y1="554.8" x2="43.3" y2="554.8" stroke="#000" stroke-width="1.2" />
<line x1="332.2" y1="554.8" x2="330" y2="554.8" stroke="#000" stroke-width="1.2" />
<line x1="41.1" y1="533.6" x2="44.6" y2="533.6" stroke="#000" stroke-width="1.2" />
<line x1="332.2" y1="533.6" x2="328.7" y2="533.6" stroke="#000" stroke-width="1.2" />
<line x1="41.1" y1="512.4" x2="43.3" y2="512.4" stroke="#000" stroke-width="1.2" />
<line x1="332.2" y1="512.4" x2="330" y2="512.4" stroke="#000" stroke-width="1.2" />
<line x1="41.1" y1="491.2" x2="44.6" y2="491.2" stroke="#000" stroke-width="1.2" />
<line x1="332.2" y1="491.2" x2="328.7" y2="491.2" stroke="#000" stroke-width="1.2" />
<line x1="41.1" y1="470" x2="43.3" y2="470" stroke="#000" stroke-width="1.2" />
<line x1="332.2" y1="470" x2="330" y2="470" stroke="#000" stroke-width="1.2" />
<line x1="41.1" y1="448.8" x2="44.6" y2="448.8" stroke="#000" stroke-width="1.2" />
<line x1="332.2" y1="448.8" x2="328.7" y2="448.8" stroke="#000" stroke-width="1.2" />
<text x="35.9" y="580.6" font-family="Liberation Sans" font-size="13.2" fill="#111" text-anchor="end" >0</text>
<text x="35.9" y="538.2" font-family="Liberation Sans" font-size="13.2" fill="#111" text-anchor="end" >10</text>
<text x="35.9" y="495.8" font-family="Liberation Sans" font-size="13.2" fill="#111" text-anchor="end" >20</text>
<text x="35.9" y="453.4" font-family="Liberation Sans" font-size="13.2" fill="#111" text-anchor="end" >30</text>
<text x="39.6" y="591.4" font-family="Liberation Sans" font-size="12.6" fill="#111" text-anchor="middle" >-2.0</text>
<text x="76" y="591.4" font-family="Liberation Sans" font-size="12.6" fill="#111" text-anchor="middle" >-1.5</text>
<text x="112.4" y="591.4" font-family="Liberation Sans" font-size="12.6" fill="#111" text-anchor="middle" >-1.0</text>
<text x="148.8" y="591.4" font-family="Liberation Sans" font-size="12.6" fill="#111" text-anchor="middle" >-0.5</text>
<text x="186.6" y="591.4" font-family="Liberation Sans" font-size="12.6" fill="#111" text-anchor="middle" >0.0</text>
<text x="223" y="591.4" font-family="Liberation Sans" font-size="12.6" fill="#111" text-anchor="middle" >0.5</text>
<text x="259.4" y="591.4" font-family="Liberation Sans" font-size="12.6" fill="#111" text-anchor="middle" >1.0</text>
<text x="295.8" y="591.4" font-family="Liberation Sans" font-size="12.6" fill="#111" text-anchor="middle" >1.5</text>
<text x="332.2" y="591.4" font-family="Liberation Sans" font-size="12.6" fill="#111" text-anchor="middle" >2.0</text>
<text x="186.7" y="602.8" font-family="Liberation Sans" font-size="13.8" fill="#111" text-anchor="middle" textLength="75" lengthAdjust="spacingAndGlyphs" >Energy (eV)</text>
<line x1="200.9" y1="469.7" x2="218.2" y2="469.7" stroke="#ff0a0a" stroke-width="2.2" />
<text x="229.6" y="473.3" font-family="Liberation Serif" font-size="14.4" fill="#111" text-anchor="start" >Te 5p</text>
<line x1="200.9" y1="486.5" x2="218.2" y2="486.5" stroke="#6ab04a" stroke-width="2.2" />
<text x="229.6" y="490.1" font-family="Liberation Serif" font-size="14.4" fill="#111" text-anchor="start" >Sb 5p</text>
<line x1="200.9" y1="500.7" x2="218.2" y2="500.7" stroke="#3366cc" stroke-width="2.2" />
<text x="229.6" y="504.3" font-family="Liberation Serif" font-size="14.4" fill="#111" text-anchor="start" >Ag 4d</text>
<line x1="530.7" y1="448.5" x2="530.7" y2="575.5" stroke="#111" stroke-width="1.1" stroke-dasharray="4 3"/>
<clipPath id="cp385"><rect x="385.1" y="448.5" width="291.3" height="127"/></clipPath>
<g clip-path="url(#cp385)">
<path d="M385.7,502.7 L387.5,515.4 L389.4,532.6 L390.6,529.9 L392.1,520.8 L393.9,511.7 L395.3,502.7 L396.6,509.9 L398.4,521.7 L400.2,517.2 L402.1,509 L403.9,513.6 L405.7,523.5 L407.5,508.1 L409.3,524.4 L412,522.6 L413.9,511.7 L415.7,510.8 L417.5,519 L420.2,517.2 L422,513.6 L423.8,504.5 L425.1,511.7 L426.6,536.2 L428.4,522.6 L431.1,509.9 L432.9,515.4 L435.6,519.9 L439.3,515.4 L442,506.3 L443.8,505.4 L445.6,509 L447.4,517.2 L449.2,521.7 L451.1,495.4 L452.9,493.6 L454.1,498.1 L455.6,490 L457.4,506.3 L459.8,505.4 L461.6,511.7 L465.3,515.4 L468.9,513.6 L471.6,514.5 L473.4,507.2 L475.2,504.5 L477.1,509 L478.9,505.4 L480.7,509 L482.5,506.3 L484.3,517.2 L487,518.1 L489.8,515.4 L492.5,508.1 L495.2,515.4 L497.9,531.7 L501.6,534.4 L504.3,542.6 L506.6,546.2 L508.8,534.4 L511.5,541.7 L514.3,547.1 L517.9,547.1 L521.5,539 L524.8,528.1 L527,531.7 L529.1,539 L530.6,549.9 L532.4,555.3 L534.5,556 L535.9,553.1 L537.4,559.7 L540.4,567.2 L543.4,569.4 L547.8,569.4 L553.7,567.9 L559.7,566.4 L567.1,563.4 L571.5,559.7 L576,551.6 L580.4,550.8 L586.4,548.6 L592.3,540.4 L596,536 L599,533 L602.7,534.5 L605.7,536.7 L608.9,540.4 L613.4,545.6 L617.1,550.1 L620,549.3 L622.3,543.4 L623.7,536.7 L625.2,544.9 L628.2,549.3 L630.4,542.7 L631.9,548.6 L634.1,549.3 L637.1,541.9 L640.8,534.5 L644.5,525.6 L647.5,519.7 L651.2,518.9 L653.4,524.1 L656.4,527.1 L659.3,531.5 L662.3,530.1 L666,529.3 L669.7,531.5 L672.7,532.3 L676,531.5" fill="none" stroke="#ee3b3b" stroke-width="2.0" stroke-linejoin="round" stroke-linecap="round"/>
<path d="M385.7,556.2 L387.5,561.7 L389.4,564.4 L392.1,560.7 L395.3,558 L398.4,562.6 L402.1,559.8 L405.7,563.5 L409.3,560.7 L412.9,562.6 L417.5,561.7 L421.1,561.7 L423.8,558 L426.6,567.1 L430.2,562.6 L435.6,563.5 L439.3,561.7 L442.9,558.9 L446.5,560.7 L451.1,558 L454.7,560.7 L459.2,563.5 L463.4,564.4 L468.9,563.5 L476.1,563.5 L483.4,564.4 L490.7,564 L494.3,564.7 L501.6,566.2 L507,568 L509.7,564.4 L514.3,566.2 L519.7,564.4 L525.2,560.7 L527.9,561.7 L530.6,566.2 L533,567.2 L535.2,566.4 L538.9,570.1 L544.8,570.1 L552.3,568.3 L556.7,566.4 L562.6,564.2 L568.6,561.2 L572.3,557.5 L576,552.3 L580.4,552.3 L586.4,550.1 L592.3,542.7 L596,539.7 L599,538.2 L602.7,540.4 L604.5,541.2 L608.9,544.9 L613.4,550.1 L616.3,553.8 L619.3,552.3 L622.3,546.4 L623.7,541.9 L626,549.3 L628.9,551.6 L631.2,544.9 L632.9,554.5 L635.6,547.9 L638.6,540.4 L642.3,533 L646,522.6 L649,520.4 L651.2,521.2 L654.2,527.1 L657.9,532.3 L660.8,537.5 L663.8,536.7 L667.5,537.5 L671.2,539.7 L676,540.4" fill="none" stroke="#2e9e55" stroke-width="2.0" stroke-linejoin="round" stroke-linecap="round"/>
<path d="M385.7,542.6 L387.5,551.7 L389.4,555.3 L392.1,549.9 L395.3,542.6 L397.5,549.9 L400.2,551.7 L402.1,547.1 L403.9,550.8 L406.6,554.4 L408.4,549.9 L411.1,554.4 L413.9,550.8 L417.5,551.7 L421.1,550.8 L423.8,547.1 L425.6,549.9 L426.6,558.9 L430.2,552.6 L433.8,554.4 L439.3,551.7 L442.9,549 L446.5,549.9 L450.1,546.2 L452.9,547.1 L455.6,548 L459.2,552.6 L461.6,553.5 L467.1,554.4 L472.5,552.6 L478,552.6 L481.6,551.7 L484.3,555.3 L488,555.3 L492.5,552.6 L494.3,553.5 L497,559.8 L501.6,561.7 L506.1,567.1 L509.7,565.3 L514.3,566.2 L519.7,563.5 L524.2,558.9 L527.9,560.7 L530.6,565.3 L534.5,568.6 L540.4,570.9 L546.3,570.9 L552.3,569.8 L559.7,567.9 L567.1,565.7 L574.5,562.7 L580.4,562 L586.4,560.9 L592.3,558.2 L596,556 L599,555 L602.7,556.8 L608.9,560.5 L613.4,564.2 L617.8,565.7 L620.8,564.2 L623,562 L625.2,564.2 L628.2,565.7 L630.4,564.2 L632.6,567.2 L637.1,564.9 L641.5,561.2 L644.5,559 L647.5,556.8 L651.9,558.2 L656.4,560.5 L660.8,562.7 L665.3,562 L669.7,562.7 L676,562.7" fill="none" stroke="#1f66dd" stroke-width="2.0" stroke-linejoin="round" stroke-linecap="round"/>
<path d="M385.1,574.4 L600,574.4 L660,574 L676,573.2" fill="none" stroke="#b47ce0" stroke-width="2.5" stroke-linejoin="round" stroke-linecap="round"/>
</g>
<rect x="385.1" y="448.5" width="291.3" height="127" fill="none" stroke="#000" stroke-width="2"/>
<line x1="385.1" y1="448.5" x2="385.1" y2="451.5" stroke="#000" stroke-width="1.2" />
<line x1="385.1" y1="575.5" x2="385.1" y2="572.5" stroke="#000" stroke-width="1.2" />
<line x1="403.3" y1="448.5" x2="403.3" y2="450.5" stroke="#000" stroke-width="1.2" />
<line x1="403.3" y1="575.5" x2="403.3" y2="573.5" stroke="#000" stroke-width="1.2" />
<line x1="421.5" y1="448.5" x2="421.5" y2="451.5" stroke="#000" stroke-width="1.2" />
<line x1="421.5" y1="575.5" x2="421.5" y2="572.5" stroke="#000" stroke-width="1.2" />
<line x1="439.7" y1="448.5" x2="439.7" y2="450.5" stroke="#000" stroke-width="1.2" />
<line x1="439.7" y1="575.5" x2="439.7" y2="573.5" stroke="#000" stroke-width="1.2" />
<line x1="457.9" y1="448.5" x2="457.9" y2="451.5" stroke="#000" stroke-width="1.2" />
<line x1="457.9" y1="575.5" x2="457.9" y2="572.5" stroke="#000" stroke-width="1.2" />
<line x1="476.1" y1="448.5" x2="476.1" y2="450.5" stroke="#000" stroke-width="1.2" />
<line x1="476.1" y1="575.5" x2="476.1" y2="573.5" stroke="#000" stroke-width="1.2" />
<line x1="494.3" y1="448.5" x2="494.3" y2="451.5" stroke="#000" stroke-width="1.2" />
<line x1="494.3" y1="575.5" x2="494.3" y2="572.5" stroke="#000" stroke-width="1.2" />
<line x1="512.5" y1="448.5" x2="512.5" y2="450.5" stroke="#000" stroke-width="1.2" />
<line x1="512.5" y1="575.5" x2="512.5" y2="573.5" stroke="#000" stroke-width="1.2" />
<line x1="530.8" y1="448.5" x2="530.8" y2="451.5" stroke="#000" stroke-width="1.2" />
<line x1="530.8" y1="575.5" x2="530.8" y2="572.5" stroke="#000" stroke-width="1.2" />
<line x1="549" y1="448.5" x2="549" y2="450.5" stroke="#000" stroke-width="1.2" />
<line x1="549" y1="575.5" x2="549" y2="573.5" stroke="#000" stroke-width="1.2" />
<line x1="567.2" y1="448.5" x2="567.2" y2="451.5" stroke="#000" stroke-width="1.2" />
<line x1="567.2" y1="575.5" x2="567.2" y2="572.5" stroke="#000" stroke-width="1.2" />
<line x1="585.4" y1="448.5" x2="585.4" y2="450.5" stroke="#000" stroke-width="1.2" />
<line x1="585.4" y1="575.5" x2="585.4" y2="573.5" stroke="#000" stroke-width="1.2" />
<line x1="603.6" y1="448.5" x2="603.6" y2="451.5" stroke="#000" stroke-width="1.2" />
<line x1="603.6" y1="575.5" x2="603.6" y2="572.5" stroke="#000" stroke-width="1.2" />
<line x1="621.8" y1="448.5" x2="621.8" y2="450.5" stroke="#000" stroke-width="1.2" />
<line x1="621.8" y1="575.5" x2="621.8" y2="573.5" stroke="#000" stroke-width="1.2" />
<line x1="640" y1="448.5" x2="640" y2="451.5" stroke="#000" stroke-width="1.2" />
<line x1="640" y1="575.5" x2="640" y2="572.5" stroke="#000" stroke-width="1.2" />
<line x1="658.2" y1="448.5" x2="658.2" y2="450.5" stroke="#000" stroke-width="1.2" />
<line x1="658.2" y1="575.5" x2="658.2" y2="573.5" stroke="#000" stroke-width="1.2" />
<line x1="676.4" y1="448.5" x2="676.4" y2="451.5" stroke="#000" stroke-width="1.2" />
<line x1="676.4" y1="575.5" x2="676.4" y2="572.5" stroke="#000" stroke-width="1.2" />
<line x1="385.1" y1="575.5" x2="388.6" y2="575.5" stroke="#000" stroke-width="1.2" />
<line x1="676.4" y1="575.5" x2="672.9" y2="575.5" stroke="#000" stroke-width="1.2" />
<line x1="385.1" y1="554.3" x2="387.3" y2="554.3" stroke="#000" stroke-width="1.2" />
<line x1="676.4" y1="554.3" x2="674.2" y2="554.3" stroke="#000" stroke-width="1.2" />
<line x1="385.1" y1="533.2" x2="388.6" y2="533.2" stroke="#000" stroke-width="1.2" />
<line x1="676.4" y1="533.2" x2="672.9" y2="533.2" stroke="#000" stroke-width="1.2" />
<line x1="385.1" y1="512" x2="387.3" y2="512" stroke="#000" stroke-width="1.2" />
<line x1="676.4" y1="512" x2="674.2" y2="512" stroke="#000" stroke-width="1.2" />
<line x1="385.1" y1="490.8" x2="388.6" y2="490.8" stroke="#000" stroke-width="1.2" />
<line x1="676.4" y1="490.8" x2="672.9" y2="490.8" stroke="#000" stroke-width="1.2" />
<line x1="385.1" y1="469.7" x2="387.3" y2="469.7" stroke="#000" stroke-width="1.2" />
<line x1="676.4" y1="469.7" x2="674.2" y2="469.7" stroke="#000" stroke-width="1.2" />
<line x1="385.1" y1="448.5" x2="388.6" y2="448.5" stroke="#000" stroke-width="1.2" />
<line x1="676.4" y1="448.5" x2="672.9" y2="448.5" stroke="#000" stroke-width="1.2" />
<text x="379.9" y="580.1" font-family="Liberation Sans" font-size="13.2" fill="#111" text-anchor="end" >0</text>
<text x="379.9" y="537.8" font-family="Liberation Sans" font-size="13.2" fill="#111" text-anchor="end" >10</text>
<text x="379.9" y="495.4" font-family="Liberation Sans" font-size="13.2" fill="#111" text-anchor="end" >20</text>
<text x="379.9" y="453.1" font-family="Liberation Sans" font-size="13.2" fill="#111" text-anchor="end" >30</text>
<text x="383.6" y="591.4" font-family="Liberation Sans" font-size="12.6" fill="#111" text-anchor="middle" >-2.0</text>
<text x="420" y="591.4" font-family="Liberation Sans" font-size="12.6" fill="#111" text-anchor="middle" >-1.5</text>
<text x="456.4" y="591.4" font-family="Liberation Sans" font-size="12.6" fill="#111" text-anchor="middle" >-1.0</text>
<text x="492.8" y="591.4" font-family="Liberation Sans" font-size="12.6" fill="#111" text-anchor="middle" >-0.5</text>
<text x="530.8" y="591.4" font-family="Liberation Sans" font-size="12.6" fill="#111" text-anchor="middle" >0.0</text>
<text x="567.2" y="591.4" font-family="Liberation Sans" font-size="12.6" fill="#111" text-anchor="middle" >0.5</text>
<text x="603.6" y="591.4" font-family="Liberation Sans" font-size="12.6" fill="#111" text-anchor="middle" >1.0</text>
<text x="640" y="591.4" font-family="Liberation Sans" font-size="12.6" fill="#111" text-anchor="middle" >1.5</text>
<text x="676.4" y="591.4" font-family="Liberation Sans" font-size="12.6" fill="#111" text-anchor="middle" >2.0</text>
<text x="530.8" y="602.8" font-family="Liberation Sans" font-size="13.8" fill="#111" text-anchor="middle" textLength="75" lengthAdjust="spacingAndGlyphs" >Energy (eV)</text>
<line x1="546.5" y1="469.7" x2="563.7" y2="469.7" stroke="#ff0a0a" stroke-width="2.2" />
<text x="575.6" y="473.3" font-family="Liberation Serif" font-size="14.4" fill="#111" text-anchor="start" >Te 5p</text>
<line x1="546.5" y1="486.2" x2="563.7" y2="486.2" stroke="#6ab04a" stroke-width="2.2" />
<text x="575.6" y="489.8" font-family="Liberation Serif" font-size="14.4" fill="#111" text-anchor="start" >Sb 5p</text>
<line x1="546.5" y1="500.7" x2="563.7" y2="500.7" stroke="#3366cc" stroke-width="2.2" />
<text x="575.6" y="504.3" font-family="Liberation Serif" font-size="14.4" fill="#111" text-anchor="start" >Ag 4d</text>
<line x1="546.5" y1="515.8" x2="563.7" y2="515.8" stroke="#ee22ee" stroke-width="2.2" />
<text x="575.6" y="519.4" font-family="Liberation Serif" font-size="14.4" fill="#111" text-anchor="start" >Sn 5p</text>
<clipPath id="cpb"><rect x="297.7" y="19.3" width="185.8" height="154"/></clipPath>
<line x1="335.4" y1="19.3" x2="335.4" y2="173.3" stroke="#9a9a9a" stroke-width="0.8" stroke-dasharray="1 1.6"/>
<line x1="351.6" y1="19.3" x2="351.6" y2="173.3" stroke="#9a9a9a" stroke-width="0.8" stroke-dasharray="1 1.6"/>
<line x1="400.6" y1="19.3" x2="400.6" y2="173.3" stroke="#9a9a9a" stroke-width="0.8" stroke-dasharray="1 1.6"/>
<line x1="446.4" y1="19.3" x2="446.4" y2="173.3" stroke="#9a9a9a" stroke-width="0.8" stroke-dasharray="1 1.6"/>
<line x1="466.2" y1="19.3" x2="466.2" y2="173.3" stroke="#9a9a9a" stroke-width="0.8" stroke-dasharray="1 1.6"/>
<line x1="297.7" y1="96.3" x2="483.5" y2="96.3" stroke="#8a8a8a" stroke-width="0.8" stroke-dasharray="1.5 1.5"/>
<g clip-path="url(#cpb)">
<path d="M297.7,54.3 C298.8,53.3 302.2,50 304.3,48.3 C306.4,46.6 308.5,44.8 310.3,43.8 C312,42.9 313.3,42.6 314.8,42.4 C316.3,42.2 317.5,42.3 319.3,42.8 C321,43.3 323.3,44.4 325.2,45.4 C327,46.3 328.7,47.4 330.4,48.3 C332.1,49.2 334.4,50.5 335.2,50.9" fill="none" stroke="#6e6e6e" stroke-width="1.2" stroke-linecap="round" stroke-linejoin="round" />
<path d="M297.7,55.8 C298.8,54.8 302.2,51.5 304.3,49.8 C306.4,48.1 308.5,46.3 310.3,45.3 C312,44.4 313.3,44.1 314.8,43.9 C316.3,43.7 317.5,43.8 319.3,44.3 C321,44.8 323.3,45.9 325.2,46.9 C327,47.8 328.7,48.9 330.4,49.8 C332.1,50.7 334.4,52 335.2,52.4" fill="none" stroke="#7c6666" stroke-width="0.9" stroke-linecap="round" stroke-linejoin="round" />
<path d="M372.1,61.6 C372.8,60.7 374.8,58.2 376.2,56.5 C377.5,54.8 378.8,52.8 380.2,51.4 C381.5,50.1 382.9,49.2 384.2,48.4 C385.5,47.6 386.8,47 388.2,46.9 C389.6,46.7 391.7,47.3 392.5,47.4" fill="none" stroke="#6e6e6e" stroke-width="1.2" stroke-linecap="round" stroke-linejoin="round" />
<path d="M372.1,63.1 C372.8,62.2 374.8,59.7 376.2,58 C377.5,56.3 378.8,54.3 380.2,52.9 C381.5,51.6 382.9,50.7 384.2,49.9 C385.5,49.1 386.8,48.5 388.2,48.4 C389.6,48.2 391.7,48.8 392.5,48.9" fill="none" stroke="#7c6666" stroke-width="0.9" stroke-linecap="round" stroke-linejoin="round" />
<path d="M311.8,19.3 C312.2,20.6 313.7,24.4 314.5,26.9 C315.2,29.4 315.6,31.7 316.3,34.3 C317,36.9 317.7,39.9 318.5,42.4 C319.4,44.9 320.4,47.3 321.5,49.1 C322.6,50.9 324.1,52.5 325.2,53.5 C326.3,54.4 327.1,55 328.2,55 C329.4,55 330.8,54.2 331.9,53.5 C333.1,52.8 334.7,51.2 335.2,50.7" fill="none" stroke="#888888" stroke-width="1.2" stroke-linecap="round" stroke-linejoin="round" />
<path d="M311.8,20.8 C312.2,22.1 313.7,25.9 314.5,28.4 C315.2,30.9 315.6,33.2 316.3,35.8 C317,38.4 317.7,41.4 318.5,43.9 C319.4,46.4 320.4,48.8 321.5,50.6 C322.6,52.4 324.1,54 325.2,55 C326.3,55.9 327.1,56.5 328.2,56.5 C329.4,56.5 330.8,55.7 331.9,55 C333.1,54.3 334.7,52.7 335.2,52.2" fill="none" stroke="#9a8484" stroke-width="0.9" stroke-linecap="round" stroke-linejoin="round" />
<path d="M316.3,19.3 C317,20.6 319.3,24.7 320.8,26.9 C322.3,29.2 323.8,30.8 325.2,32.8 C326.5,34.7 327.7,36.8 329,38.7 C330.2,40.5 331.6,42.7 332.6,43.8 C333.7,44.9 334.3,46.1 335.3,45.4 C336.3,44.6 337.7,41.3 338.7,39.5 C339.6,37.6 340.2,34.7 340.9,34.3 C341.6,33.9 342.4,35.3 343.1,37.2 C343.9,39.2 344.5,43.1 345.3,46.1 C346.1,49 346.8,52.1 347.9,55 C349.1,57.9 350.8,61.1 352.3,63.6 C353.8,66.1 355.3,69.4 356.8,70.2 C358.3,71 359.7,70 361.4,68.3 C363,66.5 364.9,63.1 366.6,59.8 C368.3,56.4 370,51.9 371.7,48 C373.4,44.1 375.1,39.9 376.9,36.2 C378.6,32.5 380.6,28.6 382.1,25.8 C383.6,23 385.4,20.4 386,19.3" fill="none" stroke="#5a5a5a" stroke-width="1.2" stroke-linecap="round" stroke-linejoin="round" />
<path d="M316.3,20.8 C317,22.1 319.3,26.2 320.8,28.4 C322.3,30.7 323.8,32.3 325.2,34.3 C326.5,36.2 327.7,38.3 329,40.2 C330.2,42 331.6,44.2 332.6,45.3 C333.7,46.4 334.3,47.6 335.3,46.9 C336.3,46.1 337.7,42.8 338.7,41 C339.6,39.1 340.2,36.2 340.9,35.8 C341.6,35.4 342.4,36.8 343.1,38.7 C343.9,40.7 344.5,44.6 345.3,47.6 C346.1,50.5 346.8,53.6 347.9,56.5 C349.1,59.4 350.8,62.6 352.3,65.1 C353.8,67.6 355.3,70.9 356.8,71.7 C358.3,72.5 359.7,71.5 361.4,69.8 C363,68 364.9,64.6 366.6,61.3 C368.3,57.9 370,53.4 371.7,49.5 C373.4,45.6 375.1,41.4 376.9,37.7 C378.6,34 380.6,30.1 382.1,27.3 C383.6,24.5 385.4,21.9 386,20.8" fill="none" stroke="#7c6666" stroke-width="0.9" stroke-linecap="round" stroke-linejoin="round" />
<path d="M313.3,19.3 C314.1,20.7 316.4,25.2 317.7,27.6 C319.1,30 320.3,31.5 321.5,33.5 C322.7,35.5 324.1,37.6 325.2,39.5 C326.3,41.3 327.2,43.4 328.2,44.6 C329.3,45.9 330.1,45.9 331.2,46.9 C332.4,47.9 334.5,50.1 335.2,50.7" fill="none" stroke="#5a5a5a" stroke-width="1.2" stroke-linecap="round" stroke-linejoin="round" />
<path d="M313.3,20.8 C314.1,22.2 316.4,26.7 317.7,29.1 C319.1,31.5 320.3,33 321.5,35 C322.7,37 324.1,39.1 325.2,41 C326.3,42.8 327.2,44.9 328.2,46.1 C329.3,47.4 330.1,47.4 331.2,48.4 C332.4,49.4 334.5,51.6 335.2,52.2" fill="none" stroke="#7c6666" stroke-width="0.9" stroke-linecap="round" stroke-linejoin="round" />
<path d="M314.6,19.6 C315.3,21 317.6,25.6 319,27.9 C320.3,30.3 321.5,31.8 322.7,33.8 C324,35.8 325.3,37.9 326.4,39.8 C327.5,41.6 328.5,43.7 329.5,44.9 C330.5,46.2 331.3,46.2 332.4,47.2 C333.6,48.2 335.8,50.4 336.4,51" fill="none" stroke="#5a5a5a" stroke-width="1.2" stroke-linecap="round" stroke-linejoin="round" />
<path d="M314.6,21.1 C315.3,22.5 317.6,27.1 319,29.4 C320.3,31.8 321.5,33.3 322.7,35.3 C324,37.3 325.3,39.4 326.4,41.3 C327.5,43.1 328.5,45.2 329.5,46.4 C330.5,47.7 331.3,47.7 332.4,48.7 C333.6,49.7 335.8,51.9 336.4,52.5" fill="none" stroke="#7c6666" stroke-width="0.9" stroke-linecap="round" stroke-linejoin="round" />
<path d="M335.2,50.7 C335.7,51.7 337.3,54.8 338.4,56.7 C339.5,58.6 340.6,60.4 341.6,62.1 C342.7,63.8 343.8,65.4 344.8,66.9 C345.9,68.4 347,69.8 348.1,71 C349.1,72.3 350.2,73.4 351.3,74.4 C352.3,75.4 353.4,76.3 354.5,76.9 C355.5,77.5 356.6,78.5 357.6,78.1 C358.7,77.7 359.8,76.1 360.9,74.6 C362,73 363.1,71.1 364.1,69 C365.2,67 366.3,64.8 367.4,62.5 C368.5,60.1 369.6,57.6 370.7,55 C371.8,52.4 372.8,49.7 373.9,46.9 C375,44.1 376.1,41.2 377.2,38.2 C378.3,35.2 379.4,32.2 380.4,29 C381.5,25.8 383.2,20.9 383.7,19.3" fill="none" stroke="#5a5a5a" stroke-width="1.2" stroke-linecap="round" stroke-linejoin="round" />
<path d="M335.2,52.2 C335.7,53.2 337.3,56.3 338.4,58.2 C339.5,60.1 340.6,61.9 341.6,63.6 C342.7,65.3 343.8,66.9 344.8,68.4 C345.9,69.9 347,71.3 348.1,72.5 C349.1,73.8 350.2,74.9 351.3,75.9 C352.3,76.9 353.4,77.8 354.5,78.4 C355.5,79 356.6,80 357.6,79.6 C358.7,79.2 359.8,77.6 360.9,76.1 C362,74.5 363.1,72.6 364.1,70.5 C365.2,68.5 366.3,66.3 367.4,64 C368.5,61.6 369.6,59.1 370.7,56.5 C371.8,53.9 372.8,51.2 373.9,48.4 C375,45.6 376.1,42.7 377.2,39.7 C378.3,36.7 379.4,33.7 380.4,30.5 C381.5,27.3 383.2,22.4 383.7,20.8" fill="none" stroke="#7c6666" stroke-width="0.9" stroke-linecap="round" stroke-linejoin="round" />
<path d="M335.2,50.7 C335.7,51.8 337.4,55.2 338.5,57.3 C339.6,59.3 340.6,61.3 341.7,63.2 C342.8,65 343.9,66.8 345,68.4 C346.1,70 347.2,71.6 348.3,72.9 C349.4,74.3 350.5,75.5 351.5,76.6 C352.6,77.7 353.7,78.6 354.8,79.3 C355.8,80 356.8,81 358,80.6 C359.1,80.2 360.4,78.5 361.6,76.9 C362.8,75.4 364,73.3 365.2,71.2 C366.4,69.1 367.6,66.8 368.8,64.3 C370,61.9 371.2,59.3 372.4,56.6 C373.7,53.9 374.9,51 376.1,48.1 C377.3,45.2 378.5,42.2 379.7,39 C380.9,35.9 382.1,32.7 383.3,29.4 C384.5,26.1 386.3,21 386.9,19.3" fill="none" stroke="#5a5a5a" stroke-width="1.2" stroke-linecap="round" stroke-linejoin="round" />
<path d="M335.2,52.2 C335.7,53.3 337.4,56.7 338.5,58.8 C339.6,60.8 340.6,62.8 341.7,64.7 C342.8,66.5 343.9,68.3 345,69.9 C346.1,71.5 347.2,73.1 348.3,74.4 C349.4,75.8 350.5,77 351.5,78.1 C352.6,79.2 353.7,80.1 354.8,80.8 C355.8,81.5 356.8,82.5 358,82.1 C359.1,81.7 360.4,80 361.6,78.4 C362.8,76.9 364,74.8 365.2,72.7 C366.4,70.6 367.6,68.3 368.8,65.8 C370,63.4 371.2,60.8 372.4,58.1 C373.7,55.4 374.9,52.5 376.1,49.6 C377.3,46.7 378.5,43.7 379.7,40.5 C380.9,37.4 382.1,34.2 383.3,30.9 C384.5,27.6 386.3,22.5 386.9,20.8" fill="none" stroke="#7c6666" stroke-width="0.9" stroke-linecap="round" stroke-linejoin="round" />
<path d="M335.2,50.7 C335.7,51.9 337.4,55.6 338.5,57.8 C339.6,60.1 340.7,62.2 341.8,64.2 C342.9,66.3 344,68.2 345.2,69.9 C346.3,71.7 347.4,73.3 348.5,74.8 C349.6,76.3 350.7,77.6 351.8,78.8 C352.9,80 354,81 355.1,81.7 C356.2,82.5 357.1,83.6 358.3,83.2 C359.6,82.8 361,81 362.3,79.3 C363.6,77.7 365,75.5 366.3,73.3 C367.6,71.1 368.9,68.7 370.3,66.2 C371.6,63.6 372.9,60.9 374.2,58.1 C375.6,55.3 376.9,52.4 378.2,49.3 C379.5,46.3 380.9,43.1 382.2,39.9 C383.5,36.6 384.8,33.3 386.2,29.8 C387.5,26.4 389.5,21.1 390.1,19.3" fill="none" stroke="#6e6e6e" stroke-width="1.2" stroke-linecap="round" stroke-linejoin="round" />
<path d="M335.2,52.2 C335.7,53.4 337.4,57.1 338.5,59.3 C339.6,61.6 340.7,63.7 341.8,65.7 C342.9,67.8 344,69.7 345.2,71.4 C346.3,73.2 347.4,74.8 348.5,76.3 C349.6,77.8 350.7,79.1 351.8,80.3 C352.9,81.5 354,82.5 355.1,83.2 C356.2,84 357.1,85.1 358.3,84.7 C359.6,84.3 361,82.5 362.3,80.8 C363.6,79.2 365,77 366.3,74.8 C367.6,72.6 368.9,70.2 370.3,67.7 C371.6,65.1 372.9,62.4 374.2,59.6 C375.6,56.8 376.9,53.9 378.2,50.8 C379.5,47.8 380.9,44.6 382.2,41.4 C383.5,38.1 384.8,34.8 386.2,31.3 C387.5,27.9 389.5,22.6 390.1,20.8" fill="none" stroke="#7c6666" stroke-width="0.9" stroke-linecap="round" stroke-linejoin="round" />
<path d="M335.2,50.7 C335.8,52 337.4,55.9 338.6,58.4 C339.7,60.8 340.8,63.1 341.9,65.3 C343.1,67.5 344.2,69.5 345.3,71.4 C346.4,73.3 347.6,75.1 348.7,76.7 C349.8,78.3 350.9,79.7 352,81 C353.2,82.2 354.3,83.4 355.4,84.2 C356.5,84.9 357.4,86.1 358.7,85.7 C360,85.3 361.6,83.4 363,81.7 C364.5,80 365.9,77.8 367.4,75.5 C368.8,73.2 370.2,70.7 371.7,68 C373.1,65.4 374.6,62.6 376,59.7 C377.5,56.7 378.9,53.7 380.4,50.5 C381.8,47.3 383.2,44 384.7,40.7 C386.1,37.3 387.6,33.8 389,30.2 C390.5,26.7 392.6,21.1 393.4,19.3" fill="none" stroke="#5a5a5a" stroke-width="1.2" stroke-linecap="round" stroke-linejoin="round" />
<path d="M335.2,52.2 C335.8,53.5 337.4,57.4 338.6,59.9 C339.7,62.3 340.8,64.6 341.9,66.8 C343.1,69 344.2,71 345.3,72.9 C346.4,74.8 347.6,76.6 348.7,78.2 C349.8,79.8 350.9,81.2 352,82.5 C353.2,83.7 354.3,84.9 355.4,85.7 C356.5,86.4 357.4,87.6 358.7,87.2 C360,86.8 361.6,84.9 363,83.2 C364.5,81.5 365.9,79.3 367.4,77 C368.8,74.7 370.2,72.2 371.7,69.5 C373.1,66.9 374.6,64.1 376,61.2 C377.5,58.2 378.9,55.2 380.4,52 C381.8,48.8 383.2,45.5 384.7,42.2 C386.1,38.8 387.6,35.3 389,31.7 C390.5,28.2 392.6,22.6 393.4,20.8" fill="none" stroke="#7c6666" stroke-width="0.9" stroke-linecap="round" stroke-linejoin="round" />
<path d="M339.8,19.3 C340.1,20.4 340.8,23.7 341.8,26.1 C342.8,28.5 344.5,31.9 345.8,33.6 C347.1,35.3 348.1,36.2 349.7,36.2 C351.2,36.2 352.5,34.8 354.9,33.6 C357.3,32.4 361.2,30.4 364,29 C366.8,27.6 370,26.4 371.7,25.2 C373.5,24 373.7,22.9 374.3,21.9 C375,21 375.4,19.7 375.6,19.3" fill="none" stroke="#5a5a5a" stroke-width="1.2" stroke-linecap="round" stroke-linejoin="round" />
<path d="M339.8,20.8 C340.1,21.9 340.8,25.2 341.8,27.6 C342.8,30 344.5,33.4 345.8,35.1 C347.1,36.8 348.1,37.7 349.7,37.7 C351.2,37.7 352.5,36.3 354.9,35.1 C357.3,33.9 361.2,31.9 364,30.5 C366.8,29.1 370,27.9 371.7,26.7 C373.5,25.5 373.7,24.4 374.3,23.4 C375,22.5 375.4,21.2 375.6,20.8" fill="none" stroke="#7c6666" stroke-width="0.9" stroke-linecap="round" stroke-linejoin="round" />
<path d="M335.7,19.3 C336.2,20.3 337.6,23.2 338.8,25.1 C340,27 341.5,29.5 342.8,30.7 C344.2,31.8 345.4,32.3 346.9,32.2 C348.4,32.1 350,31.2 352,30.1 C354,29.1 356.9,27.4 359,26.1 C361.2,24.7 363.6,23.2 365.1,22 C366.6,20.9 367.6,19.8 368.1,19.3" fill="none" stroke="#6e6e6e" stroke-width="1.2" stroke-linecap="round" stroke-linejoin="round" />
<path d="M335.7,20.8 C336.2,21.8 337.6,24.7 338.8,26.6 C340,28.5 341.5,31 342.8,32.2 C344.2,33.3 345.4,33.8 346.9,33.7 C348.4,33.6 350,32.7 352,31.6 C354,30.6 356.9,28.9 359,27.6 C361.2,26.2 363.6,24.7 365.1,23.5 C366.6,22.4 367.6,21.3 368.1,20.8" fill="none" stroke="#7c6666" stroke-width="0.9" stroke-linecap="round" stroke-linejoin="round" />
<path d="M349.7,19.3 C350.3,20.8 352.1,25.4 353.6,28.4 C355.1,31.5 357,34.3 358.7,37.5 C360.5,40.8 362.5,44.9 364,48 C365.5,51 366.7,53.5 367.8,55.8 C368.9,58.1 370.1,60.6 370.6,61.6" fill="none" stroke="#888888" stroke-width="1.2" stroke-linecap="round" stroke-linejoin="round" />
<path d="M349.7,20.8 C350.3,22.3 352.1,26.9 353.6,29.9 C355.1,33 357,35.8 358.7,39 C360.5,42.3 362.5,46.4 364,49.5 C365.5,52.5 366.7,55 367.8,57.3 C368.9,59.6 370.1,62.1 370.6,63.1" fill="none" stroke="#9a8484" stroke-width="0.9" stroke-linecap="round" stroke-linejoin="round" />
<path d="M376.9,54.5 C377.7,53.6 380.4,50.7 382.1,49.3 C383.8,47.9 385.5,46.4 387.2,46.1 C388.9,45.7 390.7,46.4 392.5,47.4 C394.2,48.4 396.1,50.7 397.6,51.9 C399,53.2 400,54.9 401.2,54.8 C402.5,54.7 403.5,52.4 405,51.2 C406.6,50.1 408.8,48.2 410.3,48 C411.8,47.8 412.6,48.2 414.1,49.9 C415.7,51.7 417.7,55.1 419.4,58.4 C421.1,61.8 422.8,66.7 424.6,70.2 C426.3,73.7 428.2,77.6 429.8,79.3 C431.5,81.1 432.9,81.7 434.4,80.6 C435.9,79.6 437.3,75.9 438.9,72.8 C440.5,69.8 442.8,64.9 444.1,62.4 C445.3,59.9 446,58.8 446.4,58" fill="none" stroke="#6e6e6e" stroke-width="1.2" stroke-linecap="round" stroke-linejoin="round" />
<path d="M376.9,56 C377.7,55.1 380.4,52.2 382.1,50.8 C383.8,49.4 385.5,47.9 387.2,47.6 C388.9,47.2 390.7,47.9 392.5,48.9 C394.2,49.9 396.1,52.2 397.6,53.4 C399,54.7 400,56.4 401.2,56.3 C402.5,56.2 403.5,53.9 405,52.7 C406.6,51.6 408.8,49.7 410.3,49.5 C411.8,49.3 412.6,49.7 414.1,51.4 C415.7,53.2 417.7,56.6 419.4,59.9 C421.1,63.3 422.8,68.2 424.6,71.7 C426.3,75.2 428.2,79.1 429.8,80.8 C431.5,82.6 432.9,83.2 434.4,82.1 C435.9,81.1 437.3,77.4 438.9,74.3 C440.5,71.3 442.8,66.4 444.1,63.9 C445.3,61.4 446,60.3 446.4,59.5" fill="none" stroke="#7c6666" stroke-width="0.9" stroke-linecap="round" stroke-linejoin="round" />
<path d="M446.2,57.1 C447,58 449.3,61 451.1,62.4 C452.8,63.8 454.8,65.4 456.6,65.6 C458.5,65.8 460.7,65 462.3,63.6 C463.9,62.2 465.1,59.5 466.4,57.1 C467.7,54.7 468.8,52.6 470,49.3 C471.2,46 472.3,41.5 473.5,37.5 C474.7,33.6 476.1,28.8 477.1,25.8 C478.1,22.7 479.1,20.4 479.5,19.3" fill="none" stroke="#5a5a5a" stroke-width="1.2" stroke-linecap="round" stroke-linejoin="round" />
<path d="M446.2,58.6 C447,59.5 449.3,62.5 451.1,63.9 C452.8,65.3 454.8,66.9 456.6,67.1 C458.5,67.3 460.7,66.5 462.3,65.1 C463.9,63.7 465.1,61 466.4,58.6 C467.7,56.2 468.8,54.1 470,50.8 C471.2,47.5 472.3,43 473.5,39 C474.7,35.1 476.1,30.3 477.1,27.3 C478.1,24.2 479.1,21.9 479.5,20.8" fill="none" stroke="#7c6666" stroke-width="0.9" stroke-linecap="round" stroke-linejoin="round" />
<path d="M405,23.2 C407,23.6 413.3,24.7 416.8,25.8 C420.2,26.9 423.3,28.2 425.9,29.7 C428.5,31.3 430.6,33.1 432.3,34.9 C434.1,36.8 435.1,38.9 436.3,40.8 C437.5,42.7 438.6,44.4 439.7,46.4 C440.8,48.3 441.7,50.8 442.8,52.5 C443.8,54.1 445.6,55.8 446.2,56.5" fill="none" stroke="#888888" stroke-width="1.2" stroke-linecap="round" stroke-linejoin="round" />
<path d="M405,24.7 C407,25.1 413.3,26.2 416.8,27.3 C420.2,28.4 423.3,29.7 425.9,31.2 C428.5,32.8 430.6,34.6 432.3,36.4 C434.1,38.3 435.1,40.4 436.3,42.3 C437.5,44.2 438.6,45.9 439.7,47.9 C440.8,49.8 441.7,52.3 442.8,54 C443.8,55.6 445.6,57.3 446.2,58" fill="none" stroke="#9a8484" stroke-width="0.9" stroke-linecap="round" stroke-linejoin="round" />
<path d="M392.2,19.3 C392.9,19.8 394.9,21.8 396.3,22.5 C397.7,23.3 399.2,24.1 400.6,24.1 C402,24.1 403.5,23.3 404.8,22.5 C406.1,21.8 407.8,19.8 408.4,19.3" fill="none" stroke="#6e6e6e" stroke-width="1.2" stroke-linecap="round" stroke-linejoin="round" />
<path d="M392.2,20.8 C392.9,21.3 394.9,23.3 396.3,24 C397.7,24.8 399.2,25.6 400.6,25.6 C402,25.6 403.5,24.8 404.8,24 C406.1,23.3 407.8,21.3 408.4,20.8" fill="none" stroke="#7c6666" stroke-width="0.9" stroke-linecap="round" stroke-linejoin="round" />
<path d="M392.2,20.8 C392.9,21.4 394.9,23.3 396.3,24.1 C397.7,24.9 399.2,25.6 400.6,25.6 C402,25.6 403.5,24.9 404.8,24.1 C406.1,23.3 407.8,21.4 408.4,20.8" fill="none" stroke="#6e6e6e" stroke-width="1.2" stroke-linecap="round" stroke-linejoin="round" />
<path d="M392.2,22.3 C392.9,22.9 394.9,24.8 396.3,25.6 C397.7,26.4 399.2,27.1 400.6,27.1 C402,27.1 403.5,26.4 404.8,25.6 C406.1,24.8 407.8,22.9 408.4,22.3" fill="none" stroke="#7c6666" stroke-width="0.9" stroke-linecap="round" stroke-linejoin="round" />
<path d="M422.7,19.3 C423.5,20.8 425.6,25.4 427.2,28.4 C428.8,31.5 430.6,34.5 432.3,37.5 C434.1,40.6 435.9,43.9 437.6,46.7 C439.3,49.5 441.3,52.8 442.8,54.5 C444.2,56.2 445,56.9 446.1,56.7 C447.2,56.5 448.3,55.5 449.6,53.5 C450.8,51.4 452.2,48.2 453.7,44.3 C455.2,40.5 457.3,33.5 458.4,30.1 C459.4,26.8 459.5,25.9 459.9,24.1 C460.3,22.3 460.6,20.1 460.8,19.3" fill="none" stroke="#5a5a5a" stroke-width="1.2" stroke-linecap="round" stroke-linejoin="round" />
<path d="M422.7,20.8 C423.5,22.3 425.6,26.9 427.2,29.9 C428.8,33 430.6,36 432.3,39 C434.1,42.1 435.9,45.4 437.6,48.2 C439.3,51 441.3,54.3 442.8,56 C444.2,57.7 445,58.4 446.1,58.2 C447.2,58 448.3,57 449.6,55 C450.8,52.9 452.2,49.7 453.7,45.8 C455.2,42 457.3,35 458.4,31.6 C459.4,28.3 459.5,27.4 459.9,25.6 C460.3,23.8 460.6,21.6 460.8,20.8" fill="none" stroke="#7c6666" stroke-width="0.9" stroke-linecap="round" stroke-linejoin="round" />
<path d="M430.3,19.3 C430.9,20.6 432.5,24.3 433.7,27.1 C434.8,29.9 435.9,32.9 437.2,36.2 C438.5,39.5 440.1,44 441.2,46.9 C442.4,49.7 443.5,51.9 444.3,53.5 C445.1,55 445.4,56.3 446.2,56.1 C447,55.9 447.9,54.6 449,52.5 C450.1,50.3 451.5,46.5 452.8,43.3 C454.1,40.1 455.3,36.7 456.6,33.2 C457.9,29.6 459.7,24.4 460.5,22 C461.4,19.7 461.4,19.8 461.5,19.3" fill="none" stroke="#5a5a5a" stroke-width="1.2" stroke-linecap="round" stroke-linejoin="round" />
<path d="M430.3,20.8 C430.9,22.1 432.5,25.8 433.7,28.6 C434.8,31.4 435.9,34.4 437.2,37.7 C438.5,41 440.1,45.5 441.2,48.4 C442.4,51.2 443.5,53.4 444.3,55 C445.1,56.5 445.4,57.8 446.2,57.6 C447,57.4 447.9,56.1 449,54 C450.1,51.8 451.5,48 452.8,44.8 C454.1,41.6 455.3,38.2 456.6,34.7 C457.9,31.1 459.7,25.9 460.5,23.5 C461.4,21.2 461.4,21.3 461.5,20.8" fill="none" stroke="#7c6666" stroke-width="0.9" stroke-linecap="round" stroke-linejoin="round" />
<path d="M431.8,19.3 C432.4,20.8 434,25 435.2,28.1 C436.3,31.3 437.5,35 438.7,38.3 C439.9,41.6 441.2,45.3 442.3,47.9 C443.3,50.5 444.1,52.7 444.8,54 C445.4,55.2 445.6,55.7 446.2,55.5 C446.8,55.3 447.5,54.6 448.5,53 C449.4,51.3 450.6,48.3 451.7,45.4 C452.9,42.4 454.3,38.6 455.5,35.2 C456.8,31.8 458.3,27.7 459.3,25.1 C460.4,22.4 461.6,20.3 462.1,19.3" fill="none" stroke="#5a5a5a" stroke-width="1.2" stroke-linecap="round" stroke-linejoin="round" />
<path d="M431.8,20.8 C432.4,22.3 434,26.5 435.2,29.6 C436.3,32.8 437.5,36.5 438.7,39.8 C439.9,43.1 441.2,46.8 442.3,49.4 C443.3,52 444.1,54.2 444.8,55.5 C445.4,56.7 445.6,57.2 446.2,57 C446.8,56.8 447.5,56.1 448.5,54.5 C449.4,52.8 450.6,49.8 451.7,46.9 C452.9,43.9 454.3,40.1 455.5,36.7 C456.8,33.3 458.3,29.2 459.3,26.6 C460.4,23.9 461.6,21.8 462.1,20.8" fill="none" stroke="#7c6666" stroke-width="0.9" stroke-linecap="round" stroke-linejoin="round" />
<path d="M297.7,25.1 C298.3,24.6 300,23.4 301.4,22.4 C302.7,21.5 305.1,19.8 305.9,19.3" fill="none" stroke="#6e6e6e" stroke-width="1.2" stroke-linecap="round" stroke-linejoin="round" />
<path d="M297.7,26.6 C298.3,26.1 300,24.9 301.4,23.9 C302.7,23 305.1,21.3 305.9,20.8" fill="none" stroke="#7c6666" stroke-width="0.9" stroke-linecap="round" stroke-linejoin="round" />
<path d="M297.7,27.7 C298.3,27.3 300,26 301.4,25.1 C302.7,24.1 305.1,22.5 305.9,21.9" fill="none" stroke="#6e6e6e" stroke-width="1.2" stroke-linecap="round" stroke-linejoin="round" />
<path d="M297.7,29.2 C298.3,28.8 300,27.5 301.4,26.6 C302.7,25.6 305.1,24 305.9,23.4" fill="none" stroke="#7c6666" stroke-width="0.9" stroke-linecap="round" stroke-linejoin="round" />
<path d="M297.7,30.1 C298.1,29.6 299.1,28 299.9,27.1 C300.8,26.2 301.8,25.2 303,24.6 C304.2,23.9 305.7,23.5 307.1,23.1 C308.5,22.6 310.5,22.2 311.2,22" fill="none" stroke="#888888" stroke-width="1.2" stroke-linecap="round" stroke-linejoin="round" />
<path d="M297.7,31.6 C298.1,31.1 299.1,29.5 299.9,28.6 C300.8,27.7 301.8,26.7 303,26.1 C304.2,25.4 305.7,25 307.1,24.6 C308.5,24.1 310.5,23.7 311.2,23.5" fill="none" stroke="#9a8484" stroke-width="0.9" stroke-linecap="round" stroke-linejoin="round" />
<path d="M465,21.9 C465.6,22.6 467.4,24.7 468.8,25.8 C470.2,26.9 472.1,28.4 473.5,28.4 C474.8,28.4 475.9,27.1 477.1,25.8 C478.3,24.5 480,21.7 480.6,20.6 C481.3,19.5 481,19.5 481.1,19.3" fill="none" stroke="#5a5a5a" stroke-width="1.2" stroke-linecap="round" stroke-linejoin="round" />
<path d="M465,23.4 C465.6,24.1 467.4,26.2 468.8,27.3 C470.2,28.4 472.1,29.9 473.5,29.9 C474.8,29.9 475.9,28.6 477.1,27.3 C478.3,26 480,23.2 480.6,22.1 C481.3,21 481,21 481.1,20.8" fill="none" stroke="#7c6666" stroke-width="0.9" stroke-linecap="round" stroke-linejoin="round" />
<path d="M474.7,34.9 C475.1,34.8 476.3,33.9 477.1,34.3 C477.9,34.7 478.7,36.1 479.5,37.5 C480.2,39 481.2,41.5 481.8,42.8 C482.5,44.1 483.2,44.9 483.5,45.4" fill="none" stroke="#5a5a5a" stroke-width="1.2" stroke-linecap="round" stroke-linejoin="round" />
<path d="M474.7,36.4 C475.1,36.3 476.3,35.4 477.1,35.8 C477.9,36.2 478.7,37.6 479.5,39 C480.2,40.5 481.2,43 481.8,44.3 C482.5,45.6 483.2,46.4 483.5,46.9" fill="none" stroke="#7c6666" stroke-width="0.9" stroke-linecap="round" stroke-linejoin="round" />
<path d="M466.4,51.9 C466.6,53 467,57.1 467.6,58.4 C468.2,59.7 469,60 470,59.8 C471,59.5 472.1,58.2 473.5,57.1 C474.8,56 476.6,54.2 478.3,53.2 C479.9,52.1 482.6,51 483.5,50.6" fill="none" stroke="#5a5a5a" stroke-width="1.2" stroke-linecap="round" stroke-linejoin="round" />
<path d="M466.4,53.4 C466.6,54.5 467,58.6 467.6,59.9 C468.2,61.2 469,61.5 470,61.3 C471,61 472.1,59.7 473.5,58.6 C474.8,57.5 476.6,55.7 478.3,54.7 C479.9,53.6 482.6,52.5 483.5,52.1" fill="none" stroke="#7c6666" stroke-width="0.9" stroke-linecap="round" stroke-linejoin="round" />
<path d="M464.8,67.7 C465.5,67.4 467.3,67.1 468.8,66.2 C470.2,65.4 472,64 473.5,62.6 C474.9,61.2 476.2,59.5 477.4,58 C478.7,56.5 480.1,54.6 481.1,53.5 C482.1,52.4 483.1,51.8 483.5,51.4" fill="none" stroke="#5a5a5a" stroke-width="1.2" stroke-linecap="round" stroke-linejoin="round" />
<path d="M464.8,69.2 C465.5,68.9 467.3,68.6 468.8,67.7 C470.2,66.9 472,65.5 473.5,64.1 C474.9,62.7 476.2,61 477.4,59.5 C478.7,58 480.1,56.1 481.1,55 C482.1,53.9 483.1,53.3 483.5,52.9" fill="none" stroke="#7c6666" stroke-width="0.9" stroke-linecap="round" stroke-linejoin="round" />
<path d="M464.8,76.8 C465.5,76.3 467.6,75.1 468.8,73.7 C470,72.4 470.8,70.5 471.9,68.7 C473,66.8 475,63.6 475.6,62.6" fill="none" stroke="#5a5a5a" stroke-width="1.2" stroke-linecap="round" stroke-linejoin="round" />
<path d="M464.8,78.3 C465.5,77.8 467.6,76.6 468.8,75.2 C470,73.9 470.8,72 471.9,70.2 C473,68.3 475,65.1 475.6,64.1" fill="none" stroke="#7c6666" stroke-width="0.9" stroke-linecap="round" stroke-linejoin="round" />
<path d="M410.3,19.3 C411.4,22.3 414.6,31.2 416.8,37.5 C418.9,43.9 421.1,50.6 423.2,57.1 C425.4,63.6 428.1,71.7 429.8,76.7 C431.6,81.7 432.5,83.9 433.7,87.1 C434.8,90.4 435.5,93.2 436.7,96 C437.9,98.9 439.2,101.7 440.7,104.2 C442.3,106.6 444.2,110.6 445.9,110.7 C447.6,110.9 449.6,107.5 451.2,105.2 C452.7,102.9 453.8,100.7 455.2,97.1 C456.6,93.4 458,87.6 459.5,83.2 C460.9,78.7 462.5,74.5 463.7,70.2 C464.9,65.9 465.3,61.5 466.4,57.1 C467.4,52.8 468.8,48 470,44 C471.2,40.1 472.3,37.1 473.5,33.6 C474.7,30.1 476.1,25.5 477.1,23.2 C478,20.8 478.7,19.9 479.1,19.3" fill="none" stroke="#5a5a5a" stroke-width="1.2" stroke-linecap="round" stroke-linejoin="round" />
<path d="M410.3,20.8 C411.4,23.8 414.6,32.7 416.8,39 C418.9,45.4 421.1,52.1 423.2,58.6 C425.4,65.1 428.1,73.2 429.8,78.2 C431.6,83.2 432.5,85.4 433.7,88.6 C434.8,91.9 435.5,94.7 436.7,97.5 C437.9,100.4 439.2,103.2 440.7,105.7 C442.3,108.1 444.2,112.1 445.9,112.2 C447.6,112.4 449.6,109 451.2,106.7 C452.7,104.4 453.8,102.2 455.2,98.6 C456.6,94.9 458,89.1 459.5,84.7 C460.9,80.2 462.5,76 463.7,71.7 C464.9,67.4 465.3,63 466.4,58.6 C467.4,54.3 468.8,49.5 470,45.5 C471.2,41.6 472.3,38.6 473.5,35.1 C474.7,31.6 476.1,27 477.1,24.7 C478,22.3 478.7,21.4 479.1,20.8" fill="none" stroke="#7c6666" stroke-width="0.9" stroke-linecap="round" stroke-linejoin="round" />
<path d="M411.9,19.5 C413,22.5 416.2,31.4 418.4,37.7 C420.6,44 422.7,50.7 424.9,57.3 C427,63.8 429.7,71.8 431.4,76.8 C433.2,81.8 434.1,84 435.3,87.3 C436.4,90.5 437.1,93.4 438.3,96.2 C439.5,99 440.8,101.9 442.4,104.3 C443.9,106.8 445.8,110.7 447.6,110.9 C449.4,111.1 451.4,107.6 452.9,105.3 C454.5,103 455.6,100.9 457,97.2 C458.3,93.5 459.8,87.8 461.2,83.3 C462.6,78.8 464.3,74.7 465.4,70.3 C466.5,66 466.9,61.6 467.9,57.3 C468.9,52.9 470.3,48.1 471.4,44.2 C472.6,40.3 473.8,37.2 474.9,33.7 C476.1,30.3 477.6,25.7 478.5,23.3 C479.5,20.9 480.2,20.1 480.6,19.5" fill="none" stroke="#5a5a5a" stroke-width="1.2" stroke-linecap="round" stroke-linejoin="round" />
<path d="M411.9,21 C413,24 416.2,32.9 418.4,39.2 C420.6,45.5 422.7,52.2 424.9,58.8 C427,65.3 429.7,73.3 431.4,78.3 C433.2,83.3 434.1,85.5 435.3,88.8 C436.4,92 437.1,94.9 438.3,97.7 C439.5,100.5 440.8,103.4 442.4,105.8 C443.9,108.3 445.8,112.2 447.6,112.4 C449.4,112.6 451.4,109.1 452.9,106.8 C454.5,104.5 455.6,102.4 457,98.7 C458.3,95 459.8,89.3 461.2,84.8 C462.6,80.3 464.3,76.2 465.4,71.8 C466.5,67.5 466.9,63.1 467.9,58.8 C468.9,54.4 470.3,49.6 471.4,45.7 C472.6,41.8 473.8,38.7 474.9,35.2 C476.1,31.8 477.6,27.2 478.5,24.8 C479.5,22.4 480.2,21.6 480.6,21" fill="none" stroke="#7c6666" stroke-width="0.9" stroke-linecap="round" stroke-linejoin="round" />
<path d="M413.5,19.6 C414.6,22.6 417.9,31.6 420,37.9 C422.2,44.2 424.3,50.9 426.5,57.4 C428.7,63.9 431.3,72 433.1,77 C434.8,82 435.8,84.2 436.9,87.4 C438,90.7 438.7,93.5 439.9,96.4 C441.1,99.2 442.4,102 444,104.5 C445.5,106.9 447.6,110.9 449.3,111.1 C451.1,111.2 453.1,107.8 454.7,105.5 C456.2,103.2 457.3,101 458.7,97.4 C460.1,93.7 461.5,88 462.9,83.5 C464.3,79 466,74.8 467,70.5 C468.1,66.2 468.3,61.8 469.3,57.4 C470.3,53.1 471.7,48.3 472.9,44.3 C474.1,40.4 475.2,37.4 476.4,33.9 C477.6,30.4 479.1,25.8 480,23.5 C480.9,21.1 481.7,20.2 482,19.6" fill="none" stroke="#5a5a5a" stroke-width="1.2" stroke-linecap="round" stroke-linejoin="round" />
<path d="M413.5,21.1 C414.6,24.1 417.9,33.1 420,39.4 C422.2,45.7 424.3,52.4 426.5,58.9 C428.7,65.4 431.3,73.5 433.1,78.5 C434.8,83.5 435.8,85.7 436.9,88.9 C438,92.2 438.7,95 439.9,97.9 C441.1,100.7 442.4,103.5 444,106 C445.5,108.4 447.6,112.4 449.3,112.6 C451.1,112.7 453.1,109.3 454.7,107 C456.2,104.7 457.3,102.5 458.7,98.9 C460.1,95.2 461.5,89.5 462.9,85 C464.3,80.5 466,76.3 467,72 C468.1,67.7 468.3,63.3 469.3,58.9 C470.3,54.6 471.7,49.8 472.9,45.8 C474.1,41.9 475.2,38.9 476.4,35.4 C477.6,31.9 479.1,27.3 480,25 C480.9,22.6 481.7,21.7 482,21.1" fill="none" stroke="#7c6666" stroke-width="0.9" stroke-linecap="round" stroke-linejoin="round" />
<path d="M420,19.3 C420.4,20.8 421.8,25.1 422.5,28.1 C423.3,31.2 423.9,34.3 424.6,37.5 C425.2,40.8 425.9,44.1 426.6,47.4 C427.2,50.6 427.9,53.9 428.5,57.1 C429.1,60.3 429.8,63.4 430.4,66.6 C431.1,69.9 431.8,73.3 432.3,76.7 C432.9,80.1 433.4,83.5 433.9,86.9 C434.4,90.3 434.7,94.5 435.3,97.1 C435.8,99.6 436.9,101.3 437.2,102.1" fill="none" stroke="#5a5a5a" stroke-width="1.2" stroke-linecap="round" stroke-linejoin="round" />
<path d="M420,20.8 C420.4,22.3 421.8,26.6 422.5,29.6 C423.3,32.7 423.9,35.8 424.6,39 C425.2,42.3 425.9,45.6 426.6,48.9 C427.2,52.1 427.9,55.4 428.5,58.6 C429.1,61.8 429.8,64.9 430.4,68.1 C431.1,71.4 431.8,74.8 432.3,78.2 C432.9,81.6 433.4,85 433.9,88.4 C434.4,91.8 434.7,96 435.3,98.6 C435.8,101.1 436.9,102.8 437.2,103.6" fill="none" stroke="#7c6666" stroke-width="0.9" stroke-linecap="round" stroke-linejoin="round" />
<path d="M297.7,86.5 C298.4,86.8 300.6,87.4 301.9,88.2 C303.1,89.1 304.1,90.2 305.3,91.6 C306.4,93 307.7,95.1 308.6,96.6 C309.6,98 309.9,100.3 310.8,100.4 C311.6,100.6 312.7,98.7 313.7,97.5 C314.8,96.3 316.1,94.1 317.1,93.2 C318.2,92.3 319,92 320.1,92 C321.2,92 322.5,92.4 323.9,93.2 C325.2,94 326.6,95.2 328,96.6 C329.4,97.9 331,100.2 332.2,101.2 C333.5,102.3 334.6,102.4 335.6,102.8 C336.6,103.2 337.2,103 338.3,103.7 C339.3,104.3 340.7,104.6 341.8,106.7 C343,108.8 343.9,113.9 345.1,116.3 C346.3,118.7 347.4,119.7 348.8,121.1 C350.3,122.5 352.2,124 353.6,124.9 C355,125.9 356.2,126.9 357.4,126.9 C358.7,126.9 359.8,126.1 361.3,124.9 C362.7,123.8 364.6,121.8 366,120.2 C367.4,118.6 368.7,117.2 369.7,115.3 C370.8,113.4 371,111.1 372.2,108.9 C373.5,106.8 375.7,104.3 377.4,102.4 C379.1,100.6 380.9,99.2 382.4,98 C383.9,96.8 384.9,96.6 386.2,95.2 C387.5,93.9 388.7,91.3 390.2,90 C391.7,88.6 393.5,87.8 395.3,87.1 C397,86.5 398.8,86.1 400.6,86.2 C402.4,86.3 404.3,87.1 405.9,87.9 C407.4,88.8 408.9,90 410,91.5 C411.1,92.9 411.7,94.9 412.7,96.6 C413.8,98.2 415,99.2 416.5,101.2 C418,103.3 420.1,106.1 421.6,108.9 C423.1,111.7 424.2,114.7 425.5,117.9 C426.8,121.2 428,124.9 429.3,128.3 C430.6,131.7 431.9,135.3 433.2,138.5 C434.4,141.7 435.7,145 437,147.5 C438.3,150.1 439.6,152.3 440.8,154 C442.1,155.8 443.8,157.1 444.7,157.9 C445.6,158.6 445.2,159.5 446.1,158.5 C447,157.5 449,153.9 450.1,151.8 C451.2,149.7 451.1,149.1 452.5,145.8 C453.9,142.5 456.7,136.4 458.5,132.1 C460.3,127.9 461.9,123.1 463.2,120.4 C464.4,117.6 464.3,116.7 465.8,115.7 C467.3,114.7 470.2,115.4 472.1,114.3 C474,113.1 475.4,110.5 477.1,108.8 C478.7,107.1 481,105 482,104.1 C483.1,103.1 483.3,103.5 483.5,103.3" fill="none" stroke="#5a5a5a" stroke-width="1.2" stroke-linecap="round" stroke-linejoin="round" />
<path d="M297.7,88 C298.4,88.3 300.6,88.9 301.9,89.7 C303.1,90.6 304.1,91.7 305.3,93.1 C306.4,94.5 307.7,96.6 308.6,98.1 C309.6,99.5 309.9,101.8 310.8,101.9 C311.6,102.1 312.7,100.2 313.7,99 C314.8,97.8 316.1,95.6 317.1,94.7 C318.2,93.8 319,93.5 320.1,93.5 C321.2,93.5 322.5,93.9 323.9,94.7 C325.2,95.5 326.6,96.7 328,98.1 C329.4,99.4 331,101.7 332.2,102.7 C333.5,103.8 334.6,103.9 335.6,104.3 C336.6,104.7 337.2,104.5 338.3,105.2 C339.3,105.8 340.7,106.1 341.8,108.2 C343,110.3 343.9,115.4 345.1,117.8 C346.3,120.2 347.4,121.2 348.8,122.6 C350.3,124 352.2,125.5 353.6,126.4 C355,127.4 356.2,128.4 357.4,128.4 C358.7,128.4 359.8,127.6 361.3,126.4 C362.7,125.3 364.6,123.3 366,121.7 C367.4,120.1 368.7,118.7 369.7,116.8 C370.8,114.9 371,112.6 372.2,110.4 C373.5,108.3 375.7,105.8 377.4,103.9 C379.1,102.1 380.9,100.7 382.4,99.5 C383.9,98.3 384.9,98.1 386.2,96.7 C387.5,95.4 388.7,92.8 390.2,91.5 C391.7,90.1 393.5,89.3 395.3,88.6 C397,88 398.8,87.6 400.6,87.7 C402.4,87.8 404.3,88.6 405.9,89.4 C407.4,90.3 408.9,91.5 410,93 C411.1,94.4 411.7,96.4 412.7,98.1 C413.8,99.7 415,100.7 416.5,102.7 C418,104.8 420.1,107.6 421.6,110.4 C423.1,113.2 424.2,116.2 425.5,119.4 C426.8,122.7 428,126.4 429.3,129.8 C430.6,133.2 431.9,136.8 433.2,140 C434.4,143.2 435.7,146.5 437,149 C438.3,151.6 439.6,153.8 440.8,155.5 C442.1,157.3 443.8,158.6 444.7,159.4 C445.6,160.1 445.2,161 446.1,160 C447,159 449,155.4 450.1,153.3 C451.2,151.2 451.1,150.6 452.5,147.3 C453.9,144 456.7,137.9 458.5,133.6 C460.3,129.4 461.9,124.6 463.2,121.9 C464.4,119.1 464.3,118.2 465.8,117.2 C467.3,116.2 470.2,116.9 472.1,115.8 C474,114.6 475.4,112 477.1,110.3 C478.7,108.6 481,106.5 482,105.6 C483.1,104.6 483.3,105 483.5,104.8" fill="none" stroke="#7c6666" stroke-width="0.9" stroke-linecap="round" stroke-linejoin="round" />
<path d="M297.7,88.1 C298.4,88.4 300.6,89 301.9,89.9 C303.1,90.7 304.1,91.8 305.3,93.2 C306.4,94.6 307.7,96.7 308.6,98.2 C309.6,99.6 309.9,101.9 310.8,102 C311.6,102.2 312.7,100.3 313.7,99.1 C314.8,97.9 316.1,95.7 317.1,94.8 C318.2,93.9 319,93.6 320.1,93.6 C321.2,93.6 322.5,94.1 323.9,94.8 C325.2,95.6 326.6,96.8 328,98.2 C329.4,99.5 331,101.8 332.2,102.8 C333.5,103.9 334.6,104.1 335.6,104.5 C336.6,104.9 337.2,104.6 338.3,105.3 C339.3,105.9 340.7,106.2 341.8,108.3 C343,110.4 343.9,115.5 345.1,117.9 C346.3,120.3 347.4,121.3 348.8,122.7 C350.3,124.1 352.2,125.6 353.6,126.6 C355,127.5 356.2,128.5 357.4,128.5 C358.7,128.5 359.8,127.7 361.3,126.6 C362.7,125.4 364.6,123.4 366,121.8 C367.4,120.2 368.7,118.8 369.7,116.9 C370.8,115.1 371,112.7 372.2,110.5 C373.5,108.4 375.7,105.9 377.4,104.1 C379.1,102.2 380.9,100.8 382.4,99.6 C383.9,98.4 384.9,98.2 386.2,96.9 C387.5,95.5 388.7,92.9 390.2,91.6 C391.7,90.2 393.5,89.4 395.3,88.7 C397,88.1 398.8,87.7 400.6,87.8 C402.4,88 404.3,88.7 405.9,89.6 C407.4,90.4 408.9,91.7 410,93.1 C411.1,94.5 411.7,96.6 412.7,98.2 C413.8,99.8 415,100.8 416.5,102.8 C418,104.9 420.1,107.8 421.6,110.5 C423.1,113.3 424.2,116.3 425.5,119.6 C426.8,122.8 428,126.5 429.3,129.9 C430.6,133.3 431.9,136.9 433.2,140.1 C434.4,143.4 435.7,146.6 437,149.2 C438.3,151.8 439.6,153.9 440.8,155.7 C442.1,157.4 443.8,158.8 444.7,159.5 C445.6,160.3 445.2,161.1 446.1,160.1 C447,159.1 449,155.5 450.1,153.4 C451.2,151.3 451.1,150.7 452.5,147.4 C453.9,144.2 456.7,138 458.5,133.8 C460.3,129.5 461.9,124.7 463.2,122 C464.4,119.3 464.3,118.4 465.8,117.3 C467.3,116.3 470.2,117.1 472.1,115.9 C474,114.8 475.4,112.1 477.1,110.4 C478.7,108.7 481,106.6 482,105.7 C483.1,104.8 483.3,105.1 483.5,105" fill="none" stroke="#5a5a5a" stroke-width="1.2" stroke-linecap="round" stroke-linejoin="round" />
<path d="M297.7,89.6 C298.4,89.9 300.6,90.5 301.9,91.4 C303.1,92.2 304.1,93.3 305.3,94.7 C306.4,96.1 307.7,98.2 308.6,99.7 C309.6,101.1 309.9,103.4 310.8,103.5 C311.6,103.7 312.7,101.8 313.7,100.6 C314.8,99.4 316.1,97.2 317.1,96.3 C318.2,95.4 319,95.1 320.1,95.1 C321.2,95.1 322.5,95.6 323.9,96.3 C325.2,97.1 326.6,98.3 328,99.7 C329.4,101 331,103.3 332.2,104.3 C333.5,105.4 334.6,105.6 335.6,106 C336.6,106.4 337.2,106.1 338.3,106.8 C339.3,107.4 340.7,107.7 341.8,109.8 C343,111.9 343.9,117 345.1,119.4 C346.3,121.8 347.4,122.8 348.8,124.2 C350.3,125.6 352.2,127.1 353.6,128.1 C355,129 356.2,130 357.4,130 C358.7,130 359.8,129.2 361.3,128.1 C362.7,126.9 364.6,124.9 366,123.3 C367.4,121.7 368.7,120.3 369.7,118.4 C370.8,116.6 371,114.2 372.2,112 C373.5,109.9 375.7,107.4 377.4,105.6 C379.1,103.7 380.9,102.3 382.4,101.1 C383.9,99.9 384.9,99.7 386.2,98.4 C387.5,97 388.7,94.4 390.2,93.1 C391.7,91.7 393.5,90.9 395.3,90.2 C397,89.6 398.8,89.2 400.6,89.3 C402.4,89.5 404.3,90.2 405.9,91.1 C407.4,91.9 408.9,93.2 410,94.6 C411.1,96 411.7,98.1 412.7,99.7 C413.8,101.3 415,102.3 416.5,104.3 C418,106.4 420.1,109.3 421.6,112 C423.1,114.8 424.2,117.8 425.5,121.1 C426.8,124.3 428,128 429.3,131.4 C430.6,134.8 431.9,138.4 433.2,141.6 C434.4,144.9 435.7,148.1 437,150.7 C438.3,153.3 439.6,155.4 440.8,157.2 C442.1,158.9 443.8,160.3 444.7,161 C445.6,161.8 445.2,162.6 446.1,161.6 C447,160.6 449,157 450.1,154.9 C451.2,152.8 451.1,152.2 452.5,148.9 C453.9,145.7 456.7,139.5 458.5,135.3 C460.3,131 461.9,126.2 463.2,123.5 C464.4,120.8 464.3,119.9 465.8,118.8 C467.3,117.8 470.2,118.6 472.1,117.4 C474,116.3 475.4,113.6 477.1,111.9 C478.7,110.2 481,108.1 482,107.2 C483.1,106.3 483.3,106.6 483.5,106.5" fill="none" stroke="#7c6666" stroke-width="0.9" stroke-linecap="round" stroke-linejoin="round" />
<path d="M348.8,122.9 C349.6,123.7 352.2,126.3 353.6,127.5 C355,128.6 356.2,129.8 357.4,129.8 C358.7,129.8 360,128.7 361.3,127.5 C362.5,126.2 364.4,123.3 365.1,122.4" fill="none" stroke="#888888" stroke-width="1.2" stroke-linecap="round" stroke-linejoin="round" />
<path d="M348.8,124.4 C349.6,125.2 352.2,127.8 353.6,129 C355,130.1 356.2,131.3 357.4,131.3 C358.7,131.3 360,130.2 361.3,129 C362.5,127.7 364.4,124.8 365.1,123.9" fill="none" stroke="#9a8484" stroke-width="0.9" stroke-linecap="round" stroke-linejoin="round" />
<path d="M350.7,121.7 C351.5,122.5 354,125.1 355.4,126.3 C356.9,127.4 358,128.6 359.2,128.6 C360.5,128.6 361.8,127.5 363.1,126.3 C364.3,125 366.3,122 366.9,121.2" fill="none" stroke="#6e6e6e" stroke-width="0.9" stroke-linecap="round" stroke-linejoin="round" />
<path d="M310.8,100.4 C311.4,100.4 313.2,100.2 314.6,100.4 C315.9,100.6 317.2,101.4 318.7,101.6 C320.3,101.9 322.2,102 323.9,102 C325.5,102 327.2,101.6 328.9,101.6 C330.5,101.7 332.5,102.2 334,102.4 C335.5,102.7 337.1,103 337.7,103.1" fill="none" stroke="#6e6e6e" stroke-width="1.2" stroke-linecap="round" stroke-linejoin="round" />
<path d="M310.8,101.9 C311.4,101.9 313.2,101.7 314.6,101.9 C315.9,102.1 317.2,102.9 318.7,103.1 C320.3,103.4 322.2,103.5 323.9,103.5 C325.5,103.5 327.2,103.1 328.9,103.1 C330.5,103.2 332.5,103.7 334,103.9 C335.5,104.2 337.1,104.5 337.7,104.6" fill="none" stroke="#7c6666" stroke-width="0.9" stroke-linecap="round" stroke-linejoin="round" />
<path d="M400.6,86.2 C401.2,86.7 403.2,88.1 404.3,88.9 C405.5,89.8 405.9,90.3 407.3,91.5 C408.7,92.7 410.7,94.6 412.6,96 C414.6,97.4 417.1,98.2 419,99.9 C420.9,101.6 422.7,103.8 424.2,106.4 C425.7,109 426.7,112.2 428,115.4 C429.3,118.6 430.6,122.2 431.8,125.7 C433.1,129.1 434.4,132.8 435.7,136 C437,139.2 438.2,142.2 439.5,145 C440.8,147.8 442.4,150.7 443.5,152.7 C444.6,154.7 445.7,156.4 446.1,157.1" fill="none" stroke="#5a5a5a" stroke-width="1.2" stroke-linecap="round" stroke-linejoin="round" />
<path d="M400.6,87.7 C401.2,88.2 403.2,89.6 404.3,90.4 C405.5,91.3 405.9,91.8 407.3,93 C408.7,94.2 410.7,96.1 412.6,97.5 C414.6,98.9 417.1,99.7 419,101.4 C420.9,103.1 422.7,105.3 424.2,107.9 C425.7,110.5 426.7,113.7 428,116.9 C429.3,120.1 430.6,123.7 431.8,127.2 C433.1,130.6 434.4,134.3 435.7,137.5 C437,140.7 438.2,143.7 439.5,146.5 C440.8,149.3 442.4,152.2 443.5,154.2 C444.6,156.2 445.7,157.9 446.1,158.6" fill="none" stroke="#7c6666" stroke-width="0.9" stroke-linecap="round" stroke-linejoin="round" />
<path d="M402.4,85 C403,85.5 405,86.9 406.2,87.7 C407.3,88.6 407.7,89.1 409.1,90.3 C410.5,91.5 412.5,93.4 414.5,94.8 C416.4,96.2 418.9,97 420.8,98.7 C422.7,100.4 424.5,102.6 426,105.2 C427.5,107.8 428.5,111 429.8,114.2 C431.1,117.4 432.4,121 433.7,124.4 C434.9,127.9 436.2,131.5 437.5,134.8 C438.8,138 440,141 441.3,143.8 C442.6,146.6 444.2,149.5 445.3,151.5 C446.4,153.5 447.6,155.1 448,155.9" fill="none" stroke="#6e6e6e" stroke-width="0.9" stroke-linecap="round" stroke-linejoin="round" />
<path d="M367.1,134.7 C368,133.2 370.5,128.7 372.2,125.7 C373.9,122.6 375.7,119.4 377.4,116.6 C379.1,113.8 380.9,111.5 382.4,108.9 C383.9,106.4 385.1,103.4 386.2,101.2 C387.3,99.1 387.8,97.8 388.8,96 C389.8,94.3 391,92.3 392.2,91 C393.5,89.6 394.9,88.6 396.3,87.9 C397.7,87.3 399.9,87.3 400.6,87.2" fill="none" stroke="#5a5a5a" stroke-width="1.2" stroke-linecap="round" stroke-linejoin="round" />
<path d="M367.1,136.2 C368,134.7 370.5,130.2 372.2,127.2 C373.9,124.1 375.7,120.9 377.4,118.1 C379.1,115.3 380.9,113 382.4,110.4 C383.9,107.9 385.1,104.9 386.2,102.7 C387.3,100.6 387.8,99.3 388.8,97.5 C389.8,95.8 391,93.8 392.2,92.5 C393.5,91.1 394.9,90.1 396.3,89.4 C397.7,88.8 399.9,88.8 400.6,88.7" fill="none" stroke="#7c6666" stroke-width="0.9" stroke-linecap="round" stroke-linejoin="round" />
<path d="M297.7,86.5 C298.4,86.9 300.6,87.8 302,89.1 C303.4,90.3 304.9,92.3 306.2,94.1 C307.4,95.9 308.6,98.1 309.6,99.9 C310.5,101.7 311.2,103.1 312,105 C312.8,106.8 313.7,108.9 314.6,110.8 C315.4,112.8 316.3,114.7 317.1,116.6 C318,118.6 318.8,120.4 319.7,122.5 C320.5,124.6 321.3,127 322.1,129.2 C323,131.4 323.9,133.4 324.7,135.6 C325.5,137.7 326.3,140 327,142.2 C327.8,144.4 328.4,146.5 329.1,148.8 C329.7,151 330.5,153.7 331.1,155.9 C331.7,158.1 332.3,159.9 332.8,161.9 C333.4,164 334,166.1 334.5,168 C335,169.9 335.7,172.4 335.9,173.3" fill="none" stroke="#5a5a5a" stroke-width="1.2" stroke-linecap="round" stroke-linejoin="round" />
<path d="M297.7,88 C298.4,88.4 300.6,89.3 302,90.6 C303.4,91.8 304.9,93.8 306.2,95.6 C307.4,97.4 308.6,99.6 309.6,101.4 C310.5,103.2 311.2,104.6 312,106.5 C312.8,108.3 313.7,110.4 314.6,112.3 C315.4,114.3 316.3,116.2 317.1,118.1 C318,120.1 318.8,121.9 319.7,124 C320.5,126.1 321.3,128.5 322.1,130.7 C323,132.9 323.9,134.9 324.7,137.1 C325.5,139.2 326.3,141.5 327,143.7 C327.8,145.9 328.4,148 329.1,150.3 C329.7,152.5 330.5,155.2 331.1,157.4 C331.7,159.6 332.3,161.4 332.8,163.4 C333.4,165.5 334,167.6 334.5,169.5 C335,171.4 335.7,173.9 335.9,174.8" fill="none" stroke="#7c6666" stroke-width="0.9" stroke-linecap="round" stroke-linejoin="round" />
<path d="M298.6,86.5 C299.3,86.9 301.5,87.8 302.9,89.1 C304.3,90.3 305.8,92.3 307.1,94.1 C308.4,95.9 309.5,98.1 310.5,99.9 C311.4,101.7 312.1,103.1 312.9,105 C313.8,106.8 314.6,108.9 315.5,110.8 C316.3,112.8 317.2,114.7 318,116.6 C318.9,118.6 319.8,120.4 320.6,122.5 C321.4,124.6 322.2,127 323,129.2 C323.9,131.4 324.8,133.4 325.6,135.6 C326.4,137.7 327.2,140 327.9,142.2 C328.7,144.4 329.3,146.5 330,148.8 C330.7,151 331.4,153.7 332,155.9 C332.7,158.1 333.2,159.9 333.8,161.9 C334.3,164 334.9,166.1 335.4,168 C335.9,169.9 336.6,172.4 336.8,173.3" fill="none" stroke="#5a5a5a" stroke-width="1.2" stroke-linecap="round" stroke-linejoin="round" />
<path d="M298.6,88 C299.3,88.4 301.5,89.3 302.9,90.6 C304.3,91.8 305.8,93.8 307.1,95.6 C308.4,97.4 309.5,99.6 310.5,101.4 C311.4,103.2 312.1,104.6 312.9,106.5 C313.8,108.3 314.6,110.4 315.5,112.3 C316.3,114.3 317.2,116.2 318,118.1 C318.9,120.1 319.8,121.9 320.6,124 C321.4,126.1 322.2,128.5 323,130.7 C323.9,132.9 324.8,134.9 325.6,137.1 C326.4,139.2 327.2,141.5 327.9,143.7 C328.7,145.9 329.3,148 330,150.3 C330.7,152.5 331.4,155.2 332,157.4 C332.7,159.6 333.2,161.4 333.8,163.4 C334.3,165.5 334.9,167.6 335.4,169.5 C335.9,171.4 336.6,173.9 336.8,174.8" fill="none" stroke="#7c6666" stroke-width="0.9" stroke-linecap="round" stroke-linejoin="round" />
<path d="M299.5,86.5 C300.3,86.9 302.4,87.8 303.8,89.1 C305.2,90.3 306.8,92.3 308,94.1 C309.3,95.9 310.4,98.1 311.4,99.9 C312.4,101.7 313,103.1 313.8,105 C314.7,106.8 315.5,108.9 316.4,110.8 C317.2,112.8 318.1,114.7 319,116.6 C319.8,118.6 320.7,120.4 321.5,122.5 C322.3,124.6 323.1,127 324,129.2 C324.8,131.4 325.7,133.4 326.5,135.6 C327.3,137.7 328.1,140 328.9,142.2 C329.6,144.4 330.2,146.5 330.9,148.8 C331.6,151 332.3,153.7 332.9,155.9 C333.6,158.1 334.1,159.9 334.7,161.9 C335.2,164 335.8,166.1 336.3,168 C336.8,169.9 337.5,172.4 337.7,173.3" fill="none" stroke="#5a5a5a" stroke-width="1.2" stroke-linecap="round" stroke-linejoin="round" />
<path d="M299.5,88 C300.3,88.4 302.4,89.3 303.8,90.6 C305.2,91.8 306.8,93.8 308,95.6 C309.3,97.4 310.4,99.6 311.4,101.4 C312.4,103.2 313,104.6 313.8,106.5 C314.7,108.3 315.5,110.4 316.4,112.3 C317.2,114.3 318.1,116.2 319,118.1 C319.8,120.1 320.7,121.9 321.5,124 C322.3,126.1 323.1,128.5 324,130.7 C324.8,132.9 325.7,134.9 326.5,137.1 C327.3,139.2 328.1,141.5 328.9,143.7 C329.6,145.9 330.2,148 330.9,150.3 C331.6,152.5 332.3,155.2 332.9,157.4 C333.6,159.6 334.1,161.4 334.7,163.4 C335.2,165.5 335.8,167.6 336.3,169.5 C336.8,171.4 337.5,173.9 337.7,174.8" fill="none" stroke="#7c6666" stroke-width="0.9" stroke-linecap="round" stroke-linejoin="round" />
<path d="M297.7,84.9 C298.2,84.6 299.7,83.3 301,82.9 C302.2,82.4 303.6,82 305.3,82.3 C306.9,82.6 309.2,83.4 310.9,84.7 C312.5,86 314.1,88.4 315.1,90.3 C316.1,92.2 316.4,94.2 316.9,96 C317.4,97.9 317.6,99.6 317.9,101.6 C318.3,103.7 318.4,105.9 319,108.3 C319.5,110.7 320.6,113.5 321.3,115.8 C322,118.2 322.5,120.3 323,122.5 C323.6,124.7 324.1,127.1 324.7,129.2 C325.2,131.3 325.7,132.9 326.3,135.1 C327,137.2 327.8,139.7 328.6,142.2 C329.3,144.6 330.2,147.3 330.9,149.8 C331.6,152.2 332.2,154.3 332.8,156.9 C333.5,159.4 334.3,162.2 334.9,165 C335.5,167.7 336.2,171.9 336.5,173.3" fill="none" stroke="#888888" stroke-width="1.2" stroke-linecap="round" stroke-linejoin="round" />
<path d="M297.7,86.4 C298.2,86.1 299.7,84.8 301,84.4 C302.2,83.9 303.6,83.5 305.3,83.8 C306.9,84.1 309.2,84.9 310.9,86.2 C312.5,87.5 314.1,89.9 315.1,91.8 C316.1,93.7 316.4,95.7 316.9,97.5 C317.4,99.4 317.6,101.1 317.9,103.1 C318.3,105.2 318.4,107.4 319,109.8 C319.5,112.2 320.6,115 321.3,117.3 C322,119.7 322.5,121.8 323,124 C323.6,126.2 324.1,128.6 324.7,130.7 C325.2,132.8 325.7,134.4 326.3,136.6 C327,138.7 327.8,141.2 328.6,143.7 C329.3,146.1 330.2,148.8 330.9,151.3 C331.6,153.7 332.2,155.8 332.8,158.4 C333.5,160.9 334.3,163.7 334.9,166.5 C335.5,169.2 336.2,173.4 336.5,174.8" fill="none" stroke="#9a8484" stroke-width="0.9" stroke-linecap="round" stroke-linejoin="round" />
<path d="M299.5,83.7 C300.1,83.3 301.5,82.1 302.8,81.7 C304.1,81.2 305.4,80.7 307.1,81 C308.8,81.3 311.1,82.1 312.7,83.5 C314.4,84.8 315.9,87.2 316.9,89.1 C317.9,90.9 318.3,92.9 318.7,94.8 C319.2,96.7 319.4,98.4 319.8,100.4 C320.1,102.5 320.2,104.7 320.8,107.1 C321.4,109.5 322.5,112.2 323.1,114.6 C323.8,117 324.3,119.1 324.9,121.3 C325.4,123.5 326,125.9 326.5,128 C327.1,130.1 327.5,131.7 328.1,133.9 C328.8,136 329.6,138.5 330.4,141 C331.2,143.4 332,146.1 332.7,148.6 C333.5,151 334,153.1 334.7,155.7 C335.3,158.2 336.1,161 336.7,163.8 C337.3,166.5 338.1,170.7 338.4,172.1" fill="none" stroke="#6e6e6e" stroke-width="0.9" stroke-linecap="round" stroke-linejoin="round" />
<path d="M337.7,103 C337.1,103 335.2,102.2 334,102.8 C332.8,103.4 331.7,105 330.6,106.6 C329.5,108.2 328.2,110.5 327.2,112.5 C326.2,114.4 325.4,116.4 324.7,118.4 C324,120.3 323.5,122.6 323,124.2 C322.6,125.9 322.5,126.8 322.1,128.4 C321.8,129.9 321.4,131.7 320.9,133.6 C320.4,135.4 320,137.4 319.4,139.6 C318.8,141.8 318,144.4 317.3,146.7 C316.6,149.1 315.6,152.7 315.3,153.8" fill="none" stroke="#6e6e6e" stroke-width="1.2" stroke-linecap="round" stroke-linejoin="round" />
<path d="M337.7,104.5 C337.1,104.5 335.2,103.7 334,104.3 C332.8,104.9 331.7,106.5 330.6,108.1 C329.5,109.7 328.2,112 327.2,114 C326.2,115.9 325.4,117.9 324.7,119.9 C324,121.8 323.5,124.1 323,125.7 C322.6,127.4 322.5,128.3 322.1,129.9 C321.8,131.4 321.4,133.2 320.9,135.1 C320.4,136.9 320,138.9 319.4,141.1 C318.8,143.3 318,145.9 317.3,148.2 C316.6,150.6 315.6,154.2 315.3,155.3" fill="none" stroke="#7c6666" stroke-width="0.9" stroke-linecap="round" stroke-linejoin="round" />
<path d="M339.6,101.8 C338.9,101.8 337,101 335.8,101.6 C334.6,102.2 333.6,103.8 332.4,105.4 C331.3,107 330.1,109.3 329.1,111.3 C328.1,113.2 327.2,115.2 326.5,117.1 C325.8,119.1 325.3,121.3 324.9,123 C324.5,124.7 324.3,125.6 324,127.2 C323.6,128.7 323.2,130.5 322.7,132.3 C322.3,134.2 321.8,136.2 321.2,138.4 C320.6,140.6 319.8,143.2 319.2,145.5 C318.5,147.9 317.5,151.4 317.1,152.6" fill="none" stroke="#6e6e6e" stroke-width="0.9" stroke-linecap="round" stroke-linejoin="round" />
<path d="M297.7,109.9 C298.1,110.2 299.3,110.7 300.3,111.7 C301.2,112.6 302.5,114.3 303.6,115.8 C304.7,117.4 305.9,119.1 307,120.9 C308.1,122.7 309.4,124.9 310.4,126.7 C311.4,128.5 312.2,130.2 312.9,131.7 C313.6,133.2 313.9,133.3 314.6,135.6 C315.2,137.8 315.8,142.5 316.7,145.3 C317.6,148.1 318.8,150 319.9,152.4 C320.9,154.8 321.8,157 323,159.5 C324.2,162 325.8,165 327,167.3 C328.2,169.7 329.7,172.6 330.2,173.6" fill="none" stroke="#5a5a5a" stroke-width="1.2" stroke-linecap="round" stroke-linejoin="round" />
<path d="M297.7,111.4 C298.1,111.7 299.3,112.2 300.3,113.2 C301.2,114.1 302.5,115.8 303.6,117.3 C304.7,118.9 305.9,120.6 307,122.4 C308.1,124.2 309.4,126.4 310.4,128.2 C311.4,130 312.2,131.7 312.9,133.2 C313.6,134.7 313.9,134.8 314.6,137.1 C315.2,139.3 315.8,144 316.7,146.8 C317.6,149.6 318.8,151.5 319.9,153.9 C320.9,156.3 321.8,158.5 323,161 C324.2,163.5 325.8,166.5 327,168.8 C328.2,171.2 329.7,174.1 330.2,175.1" fill="none" stroke="#7c6666" stroke-width="0.9" stroke-linecap="round" stroke-linejoin="round" />
<path d="M298.9,109.9 C299.4,110.2 300.5,110.7 301.5,111.7 C302.5,112.6 303.7,114.3 304.9,115.8 C306,117.4 307.1,119.1 308.2,120.9 C309.3,122.7 310.6,124.9 311.6,126.7 C312.6,128.5 313.5,130.2 314.1,131.7 C314.8,133.2 315.2,133.3 315.8,135.6 C316.4,137.8 317,142.5 317.9,145.3 C318.8,148.1 320,150 321.1,152.4 C322.2,154.8 323.1,157 324.3,159.5 C325.5,162 327.1,165 328.2,167.3 C329.4,169.7 330.9,172.6 331.4,173.6" fill="none" stroke="#5a5a5a" stroke-width="1.2" stroke-linecap="round" stroke-linejoin="round" />
<path d="M298.9,111.4 C299.4,111.7 300.5,112.2 301.5,113.2 C302.5,114.1 303.7,115.8 304.9,117.3 C306,118.9 307.1,120.6 308.2,122.4 C309.3,124.2 310.6,126.4 311.6,128.2 C312.6,130 313.5,131.7 314.1,133.2 C314.8,134.7 315.2,134.8 315.8,137.1 C316.4,139.3 317,144 317.9,146.8 C318.8,149.6 320,151.5 321.1,153.9 C322.2,156.3 323.1,158.5 324.3,161 C325.5,163.5 327.1,166.5 328.2,168.8 C329.4,171.2 330.9,174.1 331.4,175.1" fill="none" stroke="#7c6666" stroke-width="0.9" stroke-linecap="round" stroke-linejoin="round" />
<path d="M297.7,131.7 C298.1,130.6 299.3,127.3 300.3,125 C301.2,122.8 302.5,120.6 303.6,118.4 C304.7,116.1 306,113.8 307,111.7 C308,109.6 308.9,107 309.6,105.8 C310.2,104.5 310.9,104.4 311.2,104.2" fill="none" stroke="#5a5a5a" stroke-width="1.2" stroke-linecap="round" stroke-linejoin="round" />
<path d="M297.7,133.2 C298.1,132.1 299.3,128.8 300.3,126.5 C301.2,124.3 302.5,122.1 303.6,119.9 C304.7,117.6 306,115.3 307,113.2 C308,111.1 308.9,108.5 309.6,107.3 C310.2,106 310.9,105.9 311.2,105.7" fill="none" stroke="#7c6666" stroke-width="0.9" stroke-linecap="round" stroke-linejoin="round" />
<path d="M299.5,130.5 C300,129.4 301.1,126.1 302.1,123.8 C303.1,121.6 304.3,119.4 305.5,117.1 C306.6,114.9 307.8,112.5 308.8,110.4 C309.8,108.3 310.7,105.8 311.4,104.6 C312.1,103.3 312.8,103.2 313,102.9" fill="none" stroke="#6e6e6e" stroke-width="0.9" stroke-linecap="round" stroke-linejoin="round" />
<path d="M308.6,123.3 C309.3,123.3 311.6,122.8 312.9,122.9 C314.2,123 315.3,123.3 316.3,123.8 C317.3,124.3 318.3,125.5 318.7,125.9" fill="none" stroke="#888888" stroke-width="1.2" stroke-linecap="round" stroke-linejoin="round" />
<path d="M308.6,124.8 C309.3,124.8 311.6,124.3 312.9,124.4 C314.2,124.5 315.3,124.8 316.3,125.3 C317.3,125.8 318.3,127 318.7,127.4" fill="none" stroke="#9a8484" stroke-width="0.9" stroke-linecap="round" stroke-linejoin="round" />
<path d="M310.5,122.1 C311.2,122 313.5,121.6 314.8,121.7 C316,121.8 317.2,122.1 318.1,122.6 C319.1,123.1 320.2,124.3 320.6,124.6" fill="none" stroke="#6e6e6e" stroke-width="0.9" stroke-linecap="round" stroke-linejoin="round" />
<path d="M297.7,116.6 C298.3,117.2 299.8,118.4 301.1,120 C302.3,121.5 304.1,124 305.3,125.9 C306.4,127.7 307.1,129.3 307.8,130.9 C308.5,132.5 308.9,133.8 309.6,135.6 C310.2,137.4 311,140 311.7,141.7 C312.4,143.3 312.8,143.6 313.5,145.3 C314.3,147 315.3,149.4 316.3,151.8 C317.3,154.2 318.3,157.2 319.4,159.9 C320.4,162.6 321.6,165.8 322.4,168 C323.3,170.3 324.1,172.4 324.5,173.3" fill="none" stroke="#6e6e6e" stroke-width="1.2" stroke-linecap="round" stroke-linejoin="round" />
<path d="M297.7,118.1 C298.3,118.7 299.8,119.9 301.1,121.5 C302.3,123 304.1,125.5 305.3,127.4 C306.4,129.2 307.1,130.8 307.8,132.4 C308.5,134 308.9,135.3 309.6,137.1 C310.2,138.9 311,141.5 311.7,143.2 C312.4,144.8 312.8,145.1 313.5,146.8 C314.3,148.5 315.3,150.9 316.3,153.3 C317.3,155.7 318.3,158.7 319.4,161.4 C320.4,164.1 321.6,167.3 322.4,169.5 C323.3,171.8 324.1,173.9 324.5,174.8" fill="none" stroke="#7c6666" stroke-width="0.9" stroke-linecap="round" stroke-linejoin="round" />
<path d="M299.5,115.4 C300.1,116 301.7,117.2 302.9,118.8 C304.2,120.3 306,122.8 307.1,124.6 C308.2,126.5 308.9,128.1 309.7,129.7 C310.4,131.3 310.7,132.6 311.4,134.4 C312,136.2 312.9,138.8 313.5,140.5 C314.2,142.1 314.6,142.4 315.4,144.1 C316.1,145.8 317.2,148.2 318.1,150.6 C319.1,153 320.2,156 321.2,158.7 C322.2,161.4 323.4,164.6 324.3,166.8 C325.1,169 326,171.2 326.3,172.1" fill="none" stroke="#6e6e6e" stroke-width="0.9" stroke-linecap="round" stroke-linejoin="round" />
<path d="M298.5,142.2 C299.2,141.8 301,140.8 302.4,139.8 C303.8,138.9 305.5,137.5 307.2,136.7 C308.9,135.9 311,135.2 312.7,135.1 C314.4,134.9 316.7,135.8 317.5,135.9" fill="none" stroke="#888888" stroke-width="1.2" stroke-linecap="round" stroke-linejoin="round" />
<path d="M298.5,143.7 C299.2,143.3 301,142.3 302.4,141.3 C303.8,140.4 305.5,139 307.2,138.2 C308.9,137.4 311,136.7 312.7,136.6 C314.4,136.4 316.7,137.3 317.5,137.4" fill="none" stroke="#9a8484" stroke-width="0.9" stroke-linecap="round" stroke-linejoin="round" />
<path d="M300.4,141 C301,140.6 302.8,139.5 304.2,138.6 C305.7,137.7 307.3,136.3 309,135.5 C310.8,134.7 312.8,134 314.6,133.9 C316.3,133.7 318.6,134.5 319.4,134.7" fill="none" stroke="#6e6e6e" stroke-width="0.9" stroke-linecap="round" stroke-linejoin="round" />
<path d="M297.7,145.7 C298.4,145.3 300.4,143.9 301.7,143.4 C303,142.9 304.3,142.6 305.6,142.6 C306.9,142.6 308.2,142.8 309.6,143.4 C310.9,144 312.3,145.1 313.5,146.1 C314.7,147.1 315.6,148.1 316.7,149.3 C317.8,150.5 318.8,151.7 319.9,153.2 C320.9,154.8 322,156.9 323,158.7 C324.1,160.5 325.3,162.5 326.2,164.2 C327.1,165.9 327.9,167.4 328.6,168.9 C329.2,170.5 329.9,172.6 330.2,173.3" fill="none" stroke="#5a5a5a" stroke-width="1.2" stroke-linecap="round" stroke-linejoin="round" />
<path d="M297.7,147.2 C298.4,146.8 300.4,145.4 301.7,144.9 C303,144.4 304.3,144.1 305.6,144.1 C306.9,144.1 308.2,144.3 309.6,144.9 C310.9,145.5 312.3,146.6 313.5,147.6 C314.7,148.6 315.6,149.6 316.7,150.8 C317.8,152 318.8,153.2 319.9,154.7 C320.9,156.3 322,158.4 323,160.2 C324.1,162 325.3,164 326.2,165.7 C327.1,167.4 327.9,168.9 328.6,170.4 C329.2,172 329.9,174.1 330.2,174.8" fill="none" stroke="#7c6666" stroke-width="0.9" stroke-linecap="round" stroke-linejoin="round" />
<path d="M299.5,144.5 C300.2,144.1 302.2,142.7 303.5,142.2 C304.8,141.7 306.1,141.4 307.4,141.4 C308.7,141.4 310.1,141.6 311.4,142.2 C312.7,142.8 314.2,143.9 315.4,144.9 C316.6,145.9 317.5,146.9 318.5,148.1 C319.6,149.2 320.7,150.4 321.7,152 C322.8,153.6 323.8,155.7 324.9,157.5 C325.9,159.3 327.1,161.3 328,163 C329,164.7 329.7,166.2 330.4,167.7 C331.1,169.2 331.8,171.4 332,172.1" fill="none" stroke="#6e6e6e" stroke-width="0.9" stroke-linecap="round" stroke-linejoin="round" />
<path d="M297.7,147.8 C298.4,147.5 300.5,146 301.7,146.1 C302.9,146.2 303.8,147.4 304.9,148.5 C305.9,149.5 307,150.8 308,152.4 C309.1,154 310.1,155.9 311.2,157.9 C312.2,159.8 313.4,162.1 314.4,164.2 C315.3,166.3 316.2,168.9 316.7,170.5 C317.2,172 317.4,173.1 317.5,173.6" fill="none" stroke="#5a5a5a" stroke-width="1.2" stroke-linecap="round" stroke-linejoin="round" />
<path d="M297.7,149.3 C298.4,149 300.5,147.5 301.7,147.6 C302.9,147.7 303.8,148.9 304.9,150 C305.9,151 307,152.3 308,153.9 C309.1,155.5 310.1,157.4 311.2,159.4 C312.2,161.3 313.4,163.6 314.4,165.7 C315.3,167.8 316.2,170.4 316.7,172 C317.2,173.5 317.4,174.6 317.5,175.1" fill="none" stroke="#7c6666" stroke-width="0.9" stroke-linecap="round" stroke-linejoin="round" />
<path d="M299.5,146.5 C300.2,146.3 302.3,144.8 303.5,144.9 C304.7,145 305.6,146.2 306.7,147.2 C307.7,148.3 308.8,149.6 309.9,151.2 C310.9,152.8 312,154.7 313,156.7 C314.1,158.6 315.3,160.9 316.2,163 C317.1,165.1 318,167.7 318.5,169.2 C319.1,170.8 319.2,171.9 319.4,172.4" fill="none" stroke="#6e6e6e" stroke-width="0.9" stroke-linecap="round" stroke-linejoin="round" />
<path d="M297.7,149.8 C298.4,150.1 300.5,150.5 301.7,151.6 C302.9,152.7 303.8,154.7 304.9,156.4 C305.9,158.1 307.1,159.9 308,161.8 C308.9,163.8 309.7,166.2 310.4,168.1 C311,170.1 311.6,172.7 311.9,173.6" fill="none" stroke="#5a5a5a" stroke-width="1.2" stroke-linecap="round" stroke-linejoin="round" />
<path d="M297.7,151.3 C298.4,151.6 300.5,152 301.7,153.1 C302.9,154.2 303.8,156.2 304.9,157.9 C305.9,159.6 307.1,161.4 308,163.3 C308.9,165.3 309.7,167.7 310.4,169.6 C311,171.6 311.6,174.2 311.9,175.1" fill="none" stroke="#7c6666" stroke-width="0.9" stroke-linecap="round" stroke-linejoin="round" />
<path d="M299.5,148.6 C300.2,148.9 302.3,149.3 303.5,150.4 C304.7,151.5 305.6,153.4 306.7,155.2 C307.7,156.9 308.9,158.7 309.9,160.6 C310.8,162.6 311.6,165 312.2,166.9 C312.9,168.9 313.5,171.5 313.7,172.4" fill="none" stroke="#6e6e6e" stroke-width="0.9" stroke-linecap="round" stroke-linejoin="round" />
<path d="M297.7,158.4 C298.2,158.7 299.9,159.3 300.9,160.2 C301.8,161.2 302.4,162.7 303.2,164.2 C304,165.6 304.9,167.4 305.6,168.9 C306.2,170.5 306.9,172.8 307.2,173.6" fill="none" stroke="#5a5a5a" stroke-width="1.2" stroke-linecap="round" stroke-linejoin="round" />
<path d="M297.7,159.9 C298.2,160.2 299.9,160.8 300.9,161.7 C301.8,162.7 302.4,164.2 303.2,165.7 C304,167.1 304.9,168.9 305.6,170.4 C306.2,172 306.9,174.3 307.2,175.1" fill="none" stroke="#7c6666" stroke-width="0.9" stroke-linecap="round" stroke-linejoin="round" />
<path d="M299.5,157.2 C300.1,157.5 301.8,158 302.7,159 C303.6,160 304.3,161.5 305.1,163 C305.8,164.4 306.7,166.2 307.4,167.7 C308.1,169.3 308.8,171.6 309,172.4" fill="none" stroke="#6e6e6e" stroke-width="0.9" stroke-linecap="round" stroke-linejoin="round" />
<path d="M297.7,160.9 C298.1,161.3 299.4,162.3 300,163.4 C300.7,164.4 301.2,165.6 301.7,167.3 C302.2,169 303,172.6 303.2,173.6" fill="none" stroke="#5a5a5a" stroke-width="1.2" stroke-linecap="round" stroke-linejoin="round" />
<path d="M297.7,162.4 C298.1,162.8 299.4,163.8 300,164.9 C300.7,165.9 301.2,167.1 301.7,168.8 C302.2,170.5 303,174.1 303.2,175.1" fill="none" stroke="#7c6666" stroke-width="0.9" stroke-linecap="round" stroke-linejoin="round" />
<path d="M299.5,159.7 C299.9,160.1 301.2,161.1 301.9,162.1 C302.6,163.2 303,164.4 303.5,166.1 C304.1,167.8 304.8,171.3 305.1,172.4" fill="none" stroke="#6e6e6e" stroke-width="0.9" stroke-linecap="round" stroke-linejoin="round" />
<path d="M297.7,153.8 C298.1,154 299.2,154.2 299.9,154.8 C300.7,155.5 301.3,156.7 302,157.9 C302.7,159.1 303.7,161.3 304,161.9" fill="none" stroke="#6e6e6e" stroke-width="1.2" stroke-linecap="round" stroke-linejoin="round" />
<path d="M297.7,155.3 C298.1,155.5 299.2,155.7 299.9,156.3 C300.7,157 301.3,158.2 302,159.4 C302.7,160.6 303.7,162.8 304,163.4" fill="none" stroke="#7c6666" stroke-width="0.9" stroke-linecap="round" stroke-linejoin="round" />
<path d="M299.5,152.6 C299.9,152.8 301.1,153 301.8,153.6 C302.5,154.3 303.1,155.5 303.8,156.7 C304.5,157.9 305.5,160.1 305.9,160.7" fill="none" stroke="#6e6e6e" stroke-width="0.9" stroke-linecap="round" stroke-linejoin="round" />
<path d="M335.5,161.1 C336.5,160.3 339.3,158.3 341.2,156.4 C343.1,154.5 345.2,152.2 347,149.7 C348.8,147.1 350.4,143 351.8,141.2 C353.2,139.3 354.3,139 355.5,138.7 C356.8,138.5 358.2,139 359.3,139.7 C360.5,140.5 361.4,142.2 362.2,143.1 C363,143.9 363.1,145.4 364.1,144.9 C365,144.4 366.6,142.4 367.9,140.1 C369.2,137.9 370.3,134 371.6,131.6 C373,129.3 374.4,127.3 376,126.1 C377.7,124.8 379.9,125 381.5,123.9 C383.1,122.9 384,121 385.6,119.9 C387.2,118.7 389.4,117.8 391,117 C392.7,116.3 394.6,115.6 395.3,115.3" fill="none" stroke="#5a5a5a" stroke-width="1.2" stroke-linecap="round" stroke-linejoin="round" />
<path d="M335.5,162.6 C336.5,161.8 339.3,159.8 341.2,157.9 C343.1,156 345.2,153.7 347,151.2 C348.8,148.6 350.4,144.5 351.8,142.7 C353.2,140.8 354.3,140.5 355.5,140.2 C356.8,140 358.2,140.5 359.3,141.2 C360.5,142 361.4,143.7 362.2,144.6 C363,145.4 363.1,146.9 364.1,146.4 C365,145.9 366.6,143.9 367.9,141.6 C369.2,139.4 370.3,135.5 371.6,133.1 C373,130.8 374.4,128.8 376,127.6 C377.7,126.3 379.9,126.5 381.5,125.4 C383.1,124.4 384,122.5 385.6,121.4 C387.2,120.2 389.4,119.3 391,118.5 C392.7,117.8 394.6,117.1 395.3,116.8" fill="none" stroke="#7c6666" stroke-width="0.9" stroke-linecap="round" stroke-linejoin="round" />
<path d="M337.3,159.9 C338.3,159.1 341.1,157.1 343,155.2 C345,153.2 347.1,151 348.8,148.5 C350.6,145.9 352.2,141.8 353.6,139.9 C355,138.1 356.1,137.7 357.3,137.5 C358.6,137.3 360.1,137.8 361.2,138.5 C362.3,139.3 363.2,141 364,141.9 C364.8,142.7 364.9,144.2 365.9,143.7 C366.8,143.2 368.5,141.1 369.7,138.9 C371,136.7 372.1,132.8 373.4,130.4 C374.8,128.1 376.2,126.1 377.9,124.8 C379.5,123.6 381.7,123.7 383.3,122.7 C384.9,121.7 385.8,119.8 387.4,118.7 C389,117.5 391.2,116.6 392.9,115.8 C394.5,115.1 396.4,114.4 397.1,114.1" fill="none" stroke="#6e6e6e" stroke-width="0.9" stroke-linecap="round" stroke-linejoin="round" />
<path d="M335.5,161.1 C336.5,160.2 339.1,157.5 341.2,155.5 C343.3,153.4 345.7,151 347.9,148.8 C350.2,146.5 352.6,143.8 354.6,142.1 C356.7,140.3 358.4,139.3 360.3,138.2 C362.1,137.1 364.1,136.3 366,135.4 C367.9,134.4 369.9,133.4 371.6,132.5 C373.3,131.7 374.6,131.3 376.2,130.5 C377.7,129.8 380.3,128.4 381.2,128" fill="none" stroke="#6e6e6e" stroke-width="1.2" stroke-linecap="round" stroke-linejoin="round" />
<path d="M335.5,162.6 C336.5,161.7 339.1,159 341.2,157 C343.3,154.9 345.7,152.5 347.9,150.3 C350.2,148 352.6,145.3 354.6,143.6 C356.7,141.8 358.4,140.8 360.3,139.7 C362.1,138.6 364.1,137.8 366,136.9 C367.9,135.9 369.9,134.9 371.6,134 C373.3,133.2 374.6,132.8 376.2,132 C377.7,131.3 380.3,129.9 381.2,129.5" fill="none" stroke="#7c6666" stroke-width="0.9" stroke-linecap="round" stroke-linejoin="round" />
<path d="M337.3,159.9 C338.3,159 341,156.3 343,154.2 C345.1,152.2 347.5,149.8 349.8,147.5 C352,145.3 354.4,142.6 356.4,140.9 C358.5,139.1 360.2,138.1 362.1,137 C364,135.9 365.9,135.1 367.8,134.2 C369.7,133.2 371.7,132.1 373.4,131.3 C375.1,130.5 376.4,130.1 378,129.3 C379.6,128.5 382.2,127.2 383,126.8" fill="none" stroke="#6e6e6e" stroke-width="0.9" stroke-linecap="round" stroke-linejoin="round" />
<path d="M339.3,173.6 C339.9,172 341.9,167.3 343.1,164.1 C344.4,160.9 345.7,157.6 347,154.4 C348.3,151.2 349.5,147.4 350.8,144.9 C352.1,142.4 354,140.2 354.6,139.2" fill="none" stroke="#5a5a5a" stroke-width="1.2" stroke-linecap="round" stroke-linejoin="round" />
<path d="M339.3,175.1 C339.9,173.5 341.9,168.8 343.1,165.6 C344.4,162.4 345.7,159.1 347,155.9 C348.3,152.7 349.5,148.9 350.8,146.4 C352.1,143.9 354,141.7 354.6,140.7" fill="none" stroke="#7c6666" stroke-width="0.9" stroke-linecap="round" stroke-linejoin="round" />
<path d="M341.1,172.4 C341.8,170.8 343.7,166.1 345,162.9 C346.3,159.7 347.6,156.4 348.8,153.2 C350.1,150 351.3,146.2 352.6,143.7 C353.9,141.2 355.8,139 356.4,138" fill="none" stroke="#6e6e6e" stroke-width="0.9" stroke-linecap="round" stroke-linejoin="round" />
<path d="M344.1,164.1 C344.7,163 346.6,159 347.9,157.4 C349.2,155.8 350.7,154.8 351.8,154.4 C352.9,154.1 353.7,154.6 354.6,155.5 C355.6,156.3 356.6,157.9 357.4,159.3 C358.2,160.7 358.7,162.3 359.3,164.1 C360,165.8 360.8,168.2 361.3,169.8 C361.7,171.3 362,173 362.2,173.6" fill="none" stroke="#888888" stroke-width="1.2" stroke-linecap="round" stroke-linejoin="round" />
<path d="M344.1,165.6 C344.7,164.5 346.6,160.5 347.9,158.9 C349.2,157.3 350.7,156.3 351.8,155.9 C352.9,155.6 353.7,156.1 354.6,157 C355.6,157.8 356.6,159.4 357.4,160.8 C358.2,162.2 358.7,163.8 359.3,165.6 C360,167.3 360.8,169.7 361.3,171.3 C361.7,172.8 362,174.5 362.2,175.1" fill="none" stroke="#9a8484" stroke-width="0.9" stroke-linecap="round" stroke-linejoin="round" />
<path d="M345.9,162.9 C346.5,161.7 348.5,157.8 349.8,156.2 C351.1,154.6 352.5,153.5 353.6,153.2 C354.7,152.9 355.5,153.4 356.4,154.2 C357.4,155.1 358.5,156.7 359.2,158.1 C360,159.5 360.5,161.1 361.2,162.9 C361.8,164.6 362.6,166.9 363.1,168.5 C363.5,170.1 363.8,171.7 364,172.4" fill="none" stroke="#6e6e6e" stroke-width="0.9" stroke-linecap="round" stroke-linejoin="round" />
<path d="M344.1,167.8 C345.2,167.2 348.7,165.3 350.8,164.1 C352.9,162.8 355,161.5 356.5,160.2 C358.1,158.9 359,157.6 360.3,156.4 C361.5,155.1 362.8,153.1 364.1,152.6 C365.4,152.1 366.6,154 367.9,153.5 C369.2,153 370.3,151 371.6,149.7 C373,148.4 374.2,148.6 376,145.7 C377.9,142.8 380.8,134.3 382.9,132.2 C384.9,130.2 386.5,132.6 388.3,133.6 C390.1,134.5 392.9,137 393.8,137.7" fill="none" stroke="#5a5a5a" stroke-width="1.2" stroke-linecap="round" stroke-linejoin="round" />
<path d="M344.1,169.3 C345.2,168.7 348.7,166.8 350.8,165.6 C352.9,164.3 355,163 356.5,161.7 C358.1,160.4 359,159.1 360.3,157.9 C361.5,156.6 362.8,154.6 364.1,154.1 C365.4,153.6 366.6,155.5 367.9,155 C369.2,154.5 370.3,152.5 371.6,151.2 C373,149.9 374.2,150.1 376,147.2 C377.9,144.3 380.8,135.8 382.9,133.7 C384.9,131.7 386.5,134.1 388.3,135.1 C390.1,136 392.9,138.5 393.8,139.2" fill="none" stroke="#7c6666" stroke-width="0.9" stroke-linecap="round" stroke-linejoin="round" />
<path d="M345.9,166.6 C347,166 350.5,164.1 352.6,162.9 C354.7,161.6 356.8,160.3 358.3,159 C359.9,157.7 360.8,156.4 362.1,155.2 C363.3,153.9 364.6,151.9 365.9,151.4 C367.2,150.9 368.5,152.8 369.7,152.3 C371,151.8 372.1,149.8 373.4,148.5 C374.8,147.2 376,147.4 377.9,144.5 C379.7,141.6 382.7,133.1 384.7,131 C386.7,129 388.3,131.4 390.1,132.3 C391.9,133.3 394.7,135.8 395.6,136.5" fill="none" stroke="#6e6e6e" stroke-width="0.9" stroke-linecap="round" stroke-linejoin="round" />
<path d="M350.8,166.9 C351.7,165.9 355,162.2 356.5,161.1 C358.1,160 359,160.2 360.3,160.2 C361.5,160.2 362.8,160.7 364.1,161.1 C365.4,161.6 366.6,163.1 367.9,163.1 C369.2,163.1 370.4,162.2 371.6,161.1 C372.8,160.1 373.9,158.4 375.1,156.9 C376.4,155.3 378.5,152.7 379.2,151.8" fill="none" stroke="#5a5a5a" stroke-width="1.2" stroke-linecap="round" stroke-linejoin="round" />
<path d="M350.8,168.4 C351.7,167.4 355,163.7 356.5,162.6 C358.1,161.5 359,161.7 360.3,161.7 C361.5,161.7 362.8,162.2 364.1,162.6 C365.4,163.1 366.6,164.6 367.9,164.6 C369.2,164.6 370.4,163.7 371.6,162.6 C372.8,161.6 373.9,159.9 375.1,158.4 C376.4,156.8 378.5,154.2 379.2,153.3" fill="none" stroke="#7c6666" stroke-width="0.9" stroke-linecap="round" stroke-linejoin="round" />
<path d="M352.6,165.7 C353.6,164.7 356.8,161 358.3,159.9 C359.9,158.8 360.8,159 362.1,159 C363.3,159 364.6,159.4 365.9,159.9 C367.2,160.4 368.5,161.8 369.7,161.8 C371,161.8 372.2,160.9 373.4,159.9 C374.6,158.9 375.7,157.2 377,155.7 C378.2,154.1 380.3,151.4 381,150.6" fill="none" stroke="#6e6e6e" stroke-width="0.9" stroke-linecap="round" stroke-linejoin="round" />
<path d="M331.6,152.6 C332.1,153.4 333.5,156 334.5,157.4 C335.4,158.8 336.4,160 337.3,161.1 C338.3,162.2 339.4,162.9 340.3,164.1 C341.2,165.2 342.1,166.5 342.8,168 C343.6,169.6 344.5,172.4 344.9,173.3" fill="none" stroke="#5a5a5a" stroke-width="1.2" stroke-linecap="round" stroke-linejoin="round" />
<path d="M331.6,154.1 C332.1,154.9 333.5,157.5 334.5,158.9 C335.4,160.3 336.4,161.5 337.3,162.6 C338.3,163.7 339.4,164.4 340.3,165.6 C341.2,166.7 342.1,168 342.8,169.5 C343.6,171.1 344.5,173.9 344.9,174.8" fill="none" stroke="#7c6666" stroke-width="0.9" stroke-linecap="round" stroke-linejoin="round" />
<path d="M333.5,151.4 C333.9,152.2 335.4,154.7 336.3,156.2 C337.3,157.6 338.2,158.8 339.2,159.9 C340.1,161 341.2,161.7 342.1,162.9 C343,164 343.9,165.3 344.7,166.8 C345.4,168.3 346.4,171.2 346.7,172.1" fill="none" stroke="#6e6e6e" stroke-width="0.9" stroke-linecap="round" stroke-linejoin="round" />
<path d="M331.6,162.1 C332.3,161.9 334.2,160.7 335.5,160.7 C336.8,160.7 338.2,161.3 339.3,162.1 C340.4,163 341.5,164.7 342.2,166 C343,167.3 343.6,169.4 343.9,170.1" fill="none" stroke="#6e6e6e" stroke-width="1.2" stroke-linecap="round" stroke-linejoin="round" />
<path d="M331.6,163.6 C332.3,163.4 334.2,162.2 335.5,162.2 C336.8,162.2 338.2,162.8 339.3,163.6 C340.4,164.5 341.5,166.2 342.2,167.5 C343,168.8 343.6,170.9 343.9,171.6" fill="none" stroke="#7c6666" stroke-width="0.9" stroke-linecap="round" stroke-linejoin="round" />
<path d="M333.5,160.9 C334.1,160.7 336.1,159.5 337.3,159.5 C338.6,159.5 340,160.1 341.1,160.9 C342.2,161.8 343.3,163.5 344.1,164.8 C344.8,166.1 345.4,168.2 345.7,168.8" fill="none" stroke="#6e6e6e" stroke-width="0.9" stroke-linecap="round" stroke-linejoin="round" />
<path d="M365.1,173.6 C365.6,173 366.8,170.1 367.9,169.8 C369,169.4 371,171.4 371.6,171.7" fill="none" stroke="#5a5a5a" stroke-width="1.2" stroke-linecap="round" stroke-linejoin="round" />
<path d="M365.1,175.1 C365.6,174.5 366.8,171.6 367.9,171.3 C369,170.9 371,172.9 371.6,173.2" fill="none" stroke="#7c6666" stroke-width="0.9" stroke-linecap="round" stroke-linejoin="round" />
<path d="M366.9,172.4 C367.4,171.7 368.6,168.9 369.7,168.5 C370.8,168.2 372.8,170.1 373.4,170.5" fill="none" stroke="#6e6e6e" stroke-width="0.9" stroke-linecap="round" stroke-linejoin="round" />
<path d="M376,136.3 C377.2,135.6 380.8,132.7 382.9,132.2 C384.9,131.8 386.5,132.6 388.3,133.6 C390.1,134.5 392.9,137 393.8,137.7" fill="none" stroke="#6e6e6e" stroke-width="1.2" stroke-linecap="round" stroke-linejoin="round" />
<path d="M376,137.8 C377.2,137.1 380.8,134.2 382.9,133.7 C384.9,133.3 386.5,134.1 388.3,135.1 C390.1,136 392.9,138.5 393.8,139.2" fill="none" stroke="#7c6666" stroke-width="0.9" stroke-linecap="round" stroke-linejoin="round" />
<path d="M377.9,135.1 C379,134.4 382.7,131.5 384.7,131 C386.7,130.6 388.3,131.4 390.1,132.3 C391.9,133.3 394.7,135.8 395.6,136.5" fill="none" stroke="#6e6e6e" stroke-width="0.9" stroke-linecap="round" stroke-linejoin="round" />
<path d="M377.4,173.3 C378,169 380.1,155.1 381.2,147.5 C382.2,140 382.9,134 383.7,128.2 C384.5,122.4 385.4,117.3 386.2,112.8 C387.1,108.3 388.1,104.3 388.8,101.2 C389.6,98.1 390,96 390.7,94 C391.5,92.1 392.3,90.6 393.3,89.5 C394.2,88.4 395,88 396.3,87.4 C397.5,86.9 399.9,86.4 400.6,86.2" fill="none" stroke="#6e6e6e" stroke-width="1.2" stroke-linecap="round" stroke-linejoin="round" />
<path d="M377.4,174.8 C378,170.5 380.1,156.6 381.2,149 C382.2,141.5 382.9,135.5 383.7,129.7 C384.5,123.9 385.4,118.8 386.2,114.3 C387.1,109.8 388.1,105.8 388.8,102.7 C389.6,99.6 390,97.5 390.7,95.5 C391.5,93.6 392.3,92.1 393.3,91 C394.2,89.9 395,89.5 396.3,88.9 C397.5,88.4 399.9,87.9 400.6,87.7" fill="none" stroke="#7c6666" stroke-width="0.9" stroke-linecap="round" stroke-linejoin="round" />
<path d="M380,173.3 C380.6,169 382.7,155.1 383.8,147.5 C384.9,140 385.5,134 386.3,128.2 C387.2,122.4 388,117.3 388.8,112.8 C389.7,108.3 390.7,104.3 391.4,101.2 C392.2,98.1 392.6,96 393.4,94 C394.1,92.1 394.9,90.6 395.9,89.5 C396.8,88.4 397.7,88 398.9,87.4 C400.1,86.9 402.5,86.4 403.2,86.2" fill="none" stroke="#6e6e6e" stroke-width="1.2" stroke-linecap="round" stroke-linejoin="round" />
<path d="M380,174.8 C380.6,170.5 382.7,156.6 383.8,149 C384.9,141.5 385.5,135.5 386.3,129.7 C387.2,123.9 388,118.8 388.8,114.3 C389.7,109.8 390.7,105.8 391.4,102.7 C392.2,99.6 392.6,97.5 393.4,95.5 C394.1,93.6 394.9,92.1 395.9,91 C396.8,89.9 397.7,89.5 398.9,88.9 C400.1,88.4 402.5,87.9 403.2,87.7" fill="none" stroke="#7c6666" stroke-width="0.9" stroke-linecap="round" stroke-linejoin="round" />
<path d="M382.6,173.3 C383.2,169 385.4,155.1 386.4,147.5 C387.5,140 388.1,134 388.9,128.2 C389.8,122.4 390.6,117.3 391.4,112.8 C392.3,108.3 393.3,104.3 394.1,101.2 C394.8,98.1 395.2,96 396,94 C396.7,92.1 397.6,90.6 398.5,89.5 C399.4,88.4 400.3,88 401.5,87.4 C402.7,86.9 405.1,86.4 405.9,86.2" fill="none" stroke="#6e6e6e" stroke-width="1.2" stroke-linecap="round" stroke-linejoin="round" />
<path d="M382.6,174.8 C383.2,170.5 385.4,156.6 386.4,149 C387.5,141.5 388.1,135.5 388.9,129.7 C389.8,123.9 390.6,118.8 391.4,114.3 C392.3,109.8 393.3,105.8 394.1,102.7 C394.8,99.6 395.2,97.5 396,95.5 C396.7,93.6 397.6,92.1 398.5,91 C399.4,89.9 400.3,89.5 401.5,88.9 C402.7,88.4 405.1,87.9 405.9,87.7" fill="none" stroke="#7c6666" stroke-width="0.9" stroke-linecap="round" stroke-linejoin="round" />
<path d="M369.2,173.3 C369.9,170.6 372,161.4 373.1,156.9 C374.3,152.3 375.2,149.6 376,145.9 C376.9,142.2 377.8,136.5 378.2,134.6" fill="none" stroke="#6e6e6e" stroke-width="1.2" stroke-linecap="round" stroke-linejoin="round" />
<path d="M369.2,174.8 C369.9,172.1 372,162.9 373.1,158.4 C374.3,153.8 375.2,151.1 376,147.4 C376.9,143.7 377.8,138 378.2,136.1" fill="none" stroke="#7c6666" stroke-width="0.9" stroke-linecap="round" stroke-linejoin="round" />
<path d="M371,172.1 C371.7,169.3 373.8,160.2 374.9,155.7 C376.1,151.1 377,148.4 377.9,144.7 C378.7,141 379.6,135.2 380,133.4" fill="none" stroke="#6e6e6e" stroke-width="0.9" stroke-linecap="round" stroke-linejoin="round" />
<path d="M380.2,147.8 C380.5,147 381.3,144.7 382.2,143.2 C383,141.7 384.3,140.5 385.2,138.7 C386.1,137 386.7,134.8 387.4,132.7 C388.2,130.7 388.9,128.7 389.6,126.7 C390.4,124.7 391.1,122.6 391.8,120.7 C392.6,118.8 393.3,116.9 394.2,115.4 C395,113.9 396,112.5 397.1,111.7 C398.1,110.8 399.4,110.1 400.5,110.1 C401.6,110.1 402.9,110.8 403.8,111.7 C404.8,112.5 405.3,113.9 406.1,115.4 C406.8,116.9 407.6,118.8 408.4,120.7 C409.1,122.6 409.9,124.7 410.6,126.7 C411.4,128.7 412.1,130.8 412.8,132.7 C413.6,134.7 414.1,136.3 415,138.6 C415.8,141 416.8,144 417.7,146.7 C418.5,149.5 419.4,152.7 420,155.3 C420.7,157.8 420.9,158.9 421.6,161.9 C422.3,165 423.7,171.4 424.2,173.3" fill="none" stroke="#5a5a5a" stroke-width="1.2" stroke-linecap="round" stroke-linejoin="round" />
<path d="M380.2,149.3 C380.5,148.5 381.3,146.2 382.2,144.7 C383,143.2 384.3,142 385.2,140.2 C386.1,138.5 386.7,136.3 387.4,134.2 C388.2,132.2 388.9,130.2 389.6,128.2 C390.4,126.2 391.1,124.1 391.8,122.2 C392.6,120.3 393.3,118.4 394.2,116.9 C395,115.4 396,114 397.1,113.2 C398.1,112.3 399.4,111.6 400.5,111.6 C401.6,111.6 402.9,112.3 403.8,113.2 C404.8,114 405.3,115.4 406.1,116.9 C406.8,118.4 407.6,120.3 408.4,122.2 C409.1,124.1 409.9,126.2 410.6,128.2 C411.4,130.2 412.1,132.3 412.8,134.2 C413.6,136.2 414.1,137.8 415,140.1 C415.8,142.5 416.8,145.5 417.7,148.2 C418.5,151 419.4,154.2 420,156.8 C420.7,159.3 420.9,160.4 421.6,163.4 C422.3,166.5 423.7,172.9 424.2,174.8" fill="none" stroke="#7c6666" stroke-width="0.9" stroke-linecap="round" stroke-linejoin="round" />
<path d="M382,146.5 C382.3,145.8 383.2,143.5 384,142 C384.8,140.5 386.1,139.3 387,137.5 C387.9,135.8 388.5,133.5 389.2,131.5 C390,129.5 390.7,127.5 391.4,125.4 C392.2,123.4 392.9,121.3 393.7,119.5 C394.4,117.6 395.1,115.7 396,114.2 C396.8,112.7 397.8,111.3 398.9,110.4 C399.9,109.6 401.2,108.9 402.3,108.9 C403.4,108.9 404.7,109.6 405.7,110.4 C406.6,111.3 407.1,112.7 407.9,114.2 C408.6,115.7 409.4,117.6 410.2,119.5 C411,121.3 411.7,123.4 412.4,125.4 C413.2,127.5 413.9,129.5 414.7,131.5 C415.4,133.5 416,135.1 416.8,137.4 C417.6,139.7 418.7,142.8 419.5,145.5 C420.3,148.3 421.2,151.5 421.8,154 C422.5,156.6 422.8,157.7 423.4,160.7 C424.1,163.7 425.6,170.2 426,172.1" fill="none" stroke="#6e6e6e" stroke-width="0.9" stroke-linecap="round" stroke-linejoin="round" />
<path d="M383.2,144.7 C383.8,143.2 385.7,138.3 386.7,135.6 C387.7,132.9 388.3,130.9 389.2,128.5 C390.2,126.1 391.2,123.5 392.2,121.4 C393.3,119.3 394.4,117.2 395.8,115.8 C397.1,114.4 398.9,113.2 400.5,113.2 C402.1,113.2 404,114.4 405.4,115.8 C406.8,117.2 407.8,119.3 408.9,121.4 C410,123.5 411,126.1 411.9,128.5 C412.9,130.9 413.6,133.2 414.5,135.6 C415.3,138 416,140.1 416.8,142.7 C417.5,145.2 418.6,149.4 419,150.8" fill="none" stroke="#5a5a5a" stroke-width="1.2" stroke-linecap="round" stroke-linejoin="round" />
<path d="M383.2,146.2 C383.8,144.7 385.7,139.8 386.7,137.1 C387.7,134.4 388.3,132.4 389.2,130 C390.2,127.6 391.2,125 392.2,122.9 C393.3,120.8 394.4,118.7 395.8,117.3 C397.1,115.9 398.9,114.7 400.5,114.7 C402.1,114.7 404,115.9 405.4,117.3 C406.8,118.7 407.8,120.8 408.9,122.9 C410,125 411,127.6 411.9,130 C412.9,132.4 413.6,134.7 414.5,137.1 C415.3,139.5 416,141.6 416.8,144.2 C417.5,146.7 418.6,150.9 419,152.3" fill="none" stroke="#7c6666" stroke-width="0.9" stroke-linecap="round" stroke-linejoin="round" />
<path d="M385,143.5 C385.6,142 387.5,137.1 388.5,134.4 C389.5,131.7 390.1,129.6 391,127.3 C392,124.9 393,122.3 394.1,120.2 C395.1,118.1 396.2,116 397.6,114.6 C399,113.2 400.7,112 402.3,112 C403.9,112 405.8,113.2 407.2,114.6 C408.6,116 409.6,118.1 410.7,120.2 C411.8,122.3 412.8,124.9 413.7,127.3 C414.7,129.6 415.5,132 416.3,134.4 C417.1,136.7 417.8,138.9 418.6,141.5 C419.4,144 420.5,148.2 420.8,149.6" fill="none" stroke="#6e6e6e" stroke-width="0.9" stroke-linecap="round" stroke-linejoin="round" />
<path d="M372.1,129.5 C373,128.2 375.5,123.6 377.2,121.4 C378.8,119.2 380.8,117.2 382.2,116.1 C383.5,115 384.2,114.7 385.2,114.7 C386.2,114.7 387.1,115.1 388.1,116.1 C389.1,117.1 390.3,119 391.1,120.7 C392,122.3 392.5,124.1 393.4,126 C394.2,127.8 395.1,129.8 396.3,131.5 C397.5,133.3 399.2,136.6 400.5,136.6 C401.8,136.6 402.8,134.3 403.8,131.5 C404.9,128.8 406,122.7 406.9,120 C407.7,117.3 408.2,116.7 409.1,115.4 C410,114.1 411.1,112.6 412.1,112.4 C413.1,112.1 414.2,112.9 415.2,113.9 C416.2,114.9 417,116.7 418.1,118.5 C419.2,120.2 420.2,121.9 421.6,124.4 C423.1,126.9 425,130.7 426.7,133.5 C428.4,136.2 430.1,138.8 431.8,141.2 C433.6,143.5 435.3,145.4 437,147.5 C438.7,149.7 440.7,152.3 442.2,154 C443.7,155.8 445.4,157.2 446,157.9" fill="none" stroke="#5a5a5a" stroke-width="1.2" stroke-linecap="round" stroke-linejoin="round" />
<path d="M372.1,131 C373,129.7 375.5,125.1 377.2,122.9 C378.8,120.7 380.8,118.7 382.2,117.6 C383.5,116.5 384.2,116.2 385.2,116.2 C386.2,116.2 387.1,116.6 388.1,117.6 C389.1,118.6 390.3,120.5 391.1,122.2 C392,123.8 392.5,125.6 393.4,127.5 C394.2,129.3 395.1,131.3 396.3,133 C397.5,134.8 399.2,138.1 400.5,138.1 C401.8,138.1 402.8,135.8 403.8,133 C404.9,130.3 406,124.2 406.9,121.5 C407.7,118.8 408.2,118.2 409.1,116.9 C410,115.6 411.1,114.1 412.1,113.9 C413.1,113.6 414.2,114.4 415.2,115.4 C416.2,116.4 417,118.2 418.1,120 C419.2,121.7 420.2,123.4 421.6,125.9 C423.1,128.4 425,132.2 426.7,135 C428.4,137.7 430.1,140.3 431.8,142.7 C433.6,145 435.3,146.9 437,149 C438.7,151.2 440.7,153.8 442.2,155.5 C443.7,157.3 445.4,158.7 446,159.4" fill="none" stroke="#7c6666" stroke-width="0.9" stroke-linecap="round" stroke-linejoin="round" />
<path d="M373.9,128.3 C374.8,126.9 377.3,122.4 379,120.2 C380.6,117.9 382.7,116 384,114.9 C385.3,113.8 386,113.5 387,113.5 C388,113.5 388.9,113.9 389.9,114.9 C390.9,115.9 392.1,117.8 393,119.5 C393.8,121.1 394.3,122.9 395.2,124.7 C396,126.5 396.9,128.5 398.1,130.3 C399.3,132.1 401.1,135.4 402.3,135.4 C403.6,135.4 404.6,133.1 405.7,130.3 C406.7,127.5 407.8,121.4 408.7,118.8 C409.6,116.1 410,115.5 410.9,114.2 C411.8,112.9 412.9,111.4 413.9,111.2 C415,110.9 416,111.7 417,112.7 C418,113.7 418.8,115.5 419.9,117.2 C421,119 422,120.7 423.4,123.2 C424.9,125.7 426.8,129.5 428.5,132.2 C430.2,135 431.9,137.6 433.7,139.9 C435.4,142.3 437.1,144.2 438.8,146.3 C440.5,148.5 442.5,151.1 444,152.8 C445.5,154.5 447.3,156 447.9,156.7" fill="none" stroke="#6e6e6e" stroke-width="0.9" stroke-linecap="round" stroke-linejoin="round" />
<path d="M375.1,134.6 C375.8,134.2 378,133 379.2,132.5 C380.3,132.1 381.1,132.1 382.2,131.9 C383.3,131.8 384.7,131.5 385.9,131.6 C387.2,131.8 388.5,132.1 389.6,132.7 C390.8,133.4 391.8,134.7 392.7,135.7 C393.5,136.7 394.1,137.9 394.9,138.7 C395.6,139.6 396.3,140.7 397.1,140.7 C397.8,140.7 398.8,139.3 399.4,138.7 C400,138.1 400.1,137 400.5,137.1 C400.9,137.2 401.2,138.5 401.8,139.1 C402.4,139.7 403.2,140.7 403.9,140.7 C404.7,140.6 405.4,140.1 406.2,138.7 C407,137.3 408,133.7 408.8,132.1 C409.6,130.6 409.9,130.1 410.9,129.5 C412,128.9 413.6,128.1 415.2,128.3 C416.7,128.5 418.8,129.3 420.3,130.8 C421.8,132.3 422.9,134.9 424.2,137.3 C425.4,139.7 426.5,142.4 428,145 C429.5,147.6 431.4,150.2 433.2,152.7 C434.9,155.3 436.6,157.8 438.3,160.4 C440,163 442.2,166.1 443.5,168.2 C444.7,170.4 445.4,172.5 445.8,173.3" fill="none" stroke="#5a5a5a" stroke-width="1.2" stroke-linecap="round" stroke-linejoin="round" />
<path d="M375.1,136.1 C375.8,135.7 378,134.5 379.2,134 C380.3,133.6 381.1,133.6 382.2,133.4 C383.3,133.3 384.7,133 385.9,133.1 C387.2,133.3 388.5,133.6 389.6,134.2 C390.8,134.9 391.8,136.2 392.7,137.2 C393.5,138.2 394.1,139.4 394.9,140.2 C395.6,141.1 396.3,142.2 397.1,142.2 C397.8,142.2 398.8,140.8 399.4,140.2 C400,139.6 400.1,138.5 400.5,138.6 C400.9,138.7 401.2,140 401.8,140.6 C402.4,141.2 403.2,142.2 403.9,142.2 C404.7,142.1 405.4,141.6 406.2,140.2 C407,138.8 408,135.2 408.8,133.6 C409.6,132.1 409.9,131.6 410.9,131 C412,130.4 413.6,129.6 415.2,129.8 C416.7,130 418.8,130.8 420.3,132.3 C421.8,133.8 422.9,136.4 424.2,138.8 C425.4,141.2 426.5,143.9 428,146.5 C429.5,149.1 431.4,151.7 433.2,154.2 C434.9,156.8 436.6,159.3 438.3,161.9 C440,164.5 442.2,167.6 443.5,169.7 C444.7,171.9 445.4,174 445.8,174.8" fill="none" stroke="#7c6666" stroke-width="0.9" stroke-linecap="round" stroke-linejoin="round" />
<path d="M377,133.4 C377.6,133 379.8,131.8 381,131.3 C382.2,130.9 382.9,130.9 384,130.7 C385.1,130.6 386.5,130.3 387.7,130.4 C389,130.6 390.3,130.9 391.4,131.5 C392.6,132.2 393.6,133.5 394.5,134.5 C395.3,135.5 395.9,136.7 396.7,137.5 C397.4,138.3 398.1,139.4 398.9,139.4 C399.6,139.4 400.6,138.1 401.2,137.5 C401.8,136.9 401.9,135.8 402.3,135.9 C402.7,136 403.1,137.3 403.6,137.9 C404.2,138.5 405,139.5 405.8,139.4 C406.5,139.4 407.2,138.9 408,137.5 C408.8,136.1 409.8,132.5 410.6,130.9 C411.4,129.4 411.7,128.9 412.7,128.3 C413.8,127.6 415.4,126.8 417,127.1 C418.5,127.3 420.6,128.1 422.1,129.6 C423.6,131.1 424.7,133.7 426,136.1 C427.3,138.5 428.3,141.2 429.8,143.8 C431.3,146.4 433.3,148.9 435,151.5 C436.7,154.1 438.4,156.6 440.1,159.2 C441.9,161.8 444,164.9 445.3,167 C446.6,169.2 447.3,171.2 447.7,172.1" fill="none" stroke="#6e6e6e" stroke-width="0.9" stroke-linecap="round" stroke-linejoin="round" />
<path d="M415.2,150.2 C415.8,150 417.7,149.9 419,148.9 C420.3,147.8 421.6,145.6 422.8,143.7 C424.1,141.8 425.4,139.5 426.7,137.3 C428,135.2 430,131.9 430.6,130.8" fill="none" stroke="#888888" stroke-width="1.2" stroke-linecap="round" stroke-linejoin="round" />
<path d="M415.2,151.7 C415.8,151.5 417.7,151.4 419,150.4 C420.3,149.3 421.6,147.1 422.8,145.2 C424.1,143.3 425.4,141 426.7,138.8 C428,136.7 430,133.4 430.6,132.3" fill="none" stroke="#9a8484" stroke-width="0.9" stroke-linecap="round" stroke-linejoin="round" />
<path d="M417,149 C417.6,148.7 419.5,148.7 420.8,147.7 C422.1,146.6 423.4,144.4 424.7,142.5 C425.9,140.6 427.2,138.2 428.5,136.1 C429.8,133.9 431.8,130.7 432.4,129.6" fill="none" stroke="#6e6e6e" stroke-width="0.9" stroke-linecap="round" stroke-linejoin="round" />
<path d="M378.6,179.4 C379.6,177.4 382.6,171 384.4,167.5 C386.1,164.1 387.7,161.2 389.1,158.7 C390.6,156.1 391.7,154.3 393,152.4 C394.2,150.6 395.4,149 396.4,147.7 C397.4,146.5 398.4,145.5 399.1,144.9 C399.8,144.2 400.1,143.9 400.6,143.9 C401.1,143.9 401.4,144.2 402.1,144.9 C402.8,145.5 403.8,146.5 404.8,147.7 C405.9,149 407.1,150.6 408.3,152.4 C409.5,154.3 410.7,156.1 412.1,158.7 C413.6,161.2 415.2,164.1 416.9,167.5 C418.7,171 421.7,177.4 422.7,179.4" fill="none" stroke="#5a5a5a" stroke-width="1.2" stroke-linecap="round" stroke-linejoin="round" />
<path d="M378.6,180.9 C379.6,178.9 382.6,172.5 384.4,169 C386.1,165.6 387.7,162.7 389.1,160.2 C390.6,157.6 391.7,155.8 393,153.9 C394.2,152.1 395.4,150.5 396.4,149.2 C397.4,148 398.4,147 399.1,146.4 C399.8,145.7 400.1,145.4 400.6,145.4 C401.1,145.4 401.4,145.7 402.1,146.4 C402.8,147 403.8,148 404.8,149.2 C405.9,150.5 407.1,152.1 408.3,153.9 C409.5,155.8 410.7,157.6 412.1,160.2 C413.6,162.7 415.2,165.6 416.9,169 C418.7,172.5 421.7,178.9 422.7,180.9" fill="none" stroke="#7c6666" stroke-width="0.9" stroke-linecap="round" stroke-linejoin="round" />
<path d="M380.4,178.2 C381.4,176.2 384.4,169.8 386.2,166.3 C387.9,162.8 389.5,159.9 390.9,157.4 C392.4,154.9 393.6,153 394.8,151.2 C396,149.4 397.2,147.8 398.2,146.5 C399.2,145.2 400.2,144.3 400.9,143.7 C401.6,143 401.9,142.7 402.4,142.7 C402.9,142.7 403.3,143 404,143.7 C404.7,144.3 405.6,145.2 406.6,146.5 C407.7,147.8 408.9,149.4 410.1,151.2 C411.3,153 412.5,154.9 413.9,157.4 C415.4,159.9 417,162.8 418.7,166.3 C420.5,169.8 423.6,176.2 424.5,178.2" fill="none" stroke="#6e6e6e" stroke-width="0.9" stroke-linecap="round" stroke-linejoin="round" />
<path d="M380.4,179.1 C381.2,177.2 384,171.1 385.6,167.7 C387.3,164.4 388.7,161.7 390,159.3 C391.4,156.9 392.4,155 393.6,153.3 C394.7,151.5 395.8,150 396.7,148.8 C397.7,147.6 398.5,146.7 399.2,146 C399.8,145.4 400.1,145.1 400.6,145.1 C401.1,145.1 401.4,145.4 402,146 C402.7,146.7 403.5,147.6 404.5,148.8 C405.4,150 406.6,151.5 407.7,153.3 C408.8,155 409.9,156.9 411.2,159.3 C412.5,161.7 414,164.4 415.6,167.7 C417.3,171.1 420.1,177.2 421,179.1" fill="none" stroke="#5a5a5a" stroke-width="1.2" stroke-linecap="round" stroke-linejoin="round" />
<path d="M380.4,180.6 C381.2,178.7 384,172.6 385.6,169.2 C387.3,165.9 388.7,163.2 390,160.8 C391.4,158.4 392.4,156.5 393.6,154.8 C394.7,153 395.8,151.5 396.7,150.3 C397.7,149.1 398.5,148.2 399.2,147.5 C399.8,146.9 400.1,146.6 400.6,146.6 C401.1,146.6 401.4,146.9 402,147.5 C402.7,148.2 403.5,149.1 404.5,150.3 C405.4,151.5 406.6,153 407.7,154.8 C408.8,156.5 409.9,158.4 411.2,160.8 C412.5,163.2 414,165.9 415.6,169.2 C417.3,172.6 420.1,178.7 421,180.6" fill="none" stroke="#7c6666" stroke-width="0.9" stroke-linecap="round" stroke-linejoin="round" />
<path d="M382.2,177.9 C383,176 385.8,169.8 387.4,166.5 C389.1,163.2 390.5,160.4 391.8,158 C393.2,155.6 394.3,153.8 395.4,152.1 C396.5,150.3 397.6,148.8 398.5,147.5 C399.5,146.3 400.4,145.4 401,144.8 C401.7,144.2 401.9,143.9 402.4,143.9 C402.9,143.9 403.2,144.2 403.8,144.8 C404.5,145.4 405.4,146.3 406.3,147.5 C407.3,148.8 408.4,150.3 409.5,152.1 C410.6,153.8 411.7,155.6 413,158 C414.4,160.4 415.8,163.2 417.5,166.5 C419.1,169.8 421.9,176 422.8,177.9" fill="none" stroke="#6e6e6e" stroke-width="0.9" stroke-linecap="round" stroke-linejoin="round" />
<path d="M382.1,178.9 C382.9,177.1 385.4,171.2 386.9,168 C388.4,164.9 389.7,162.3 390.9,160 C392.1,157.7 393.1,156 394.2,154.3 C395.2,152.6 396.2,151.1 397.1,150 C397.9,148.9 398.7,148 399.3,147.4 C399.9,146.8 400.2,146.5 400.6,146.5 C401,146.5 401.3,146.8 401.9,147.4 C402.5,148 403.3,148.9 404.2,150 C405,151.1 406,152.6 407.1,154.3 C408.1,156 409.1,157.7 410.3,160 C411.5,162.3 412.9,164.9 414.4,168 C415.8,171.2 418.4,177.1 419.2,178.9" fill="none" stroke="#6e6e6e" stroke-width="1.2" stroke-linecap="round" stroke-linejoin="round" />
<path d="M382.1,180.4 C382.9,178.6 385.4,172.7 386.9,169.5 C388.4,166.4 389.7,163.8 390.9,161.5 C392.1,159.2 393.1,157.5 394.2,155.8 C395.2,154.1 396.2,152.6 397.1,151.5 C397.9,150.4 398.7,149.5 399.3,148.9 C399.9,148.3 400.2,148 400.6,148 C401,148 401.3,148.3 401.9,148.9 C402.5,149.5 403.3,150.4 404.2,151.5 C405,152.6 406,154.1 407.1,155.8 C408.1,157.5 409.1,159.2 410.3,161.5 C411.5,163.8 412.9,166.4 414.4,169.5 C415.8,172.7 418.4,178.6 419.2,180.4" fill="none" stroke="#7c6666" stroke-width="0.9" stroke-linecap="round" stroke-linejoin="round" />
<path d="M383.9,177.6 C384.7,175.8 387.3,170 388.7,166.8 C390.2,163.7 391.5,161 392.8,158.8 C394,156.5 395,154.7 396,153.1 C397,151.4 398,149.9 398.9,148.8 C399.7,147.6 400.5,146.8 401.1,146.2 C401.7,145.6 402,145.3 402.4,145.3 C402.9,145.3 403.1,145.6 403.7,146.2 C404.3,146.8 405.1,147.6 406,148.8 C406.8,149.9 407.9,151.4 408.9,153.1 C409.9,154.7 410.9,156.5 412.1,158.8 C413.3,161 414.7,163.7 416.2,166.8 C417.7,170 420.2,175.8 421,177.6" fill="none" stroke="#6e6e6e" stroke-width="0.9" stroke-linecap="round" stroke-linejoin="round" />
<path d="M383.8,178.6 C384.5,176.9 386.9,171.3 388.2,168.3 C389.5,165.3 390.8,162.8 391.8,160.7 C392.9,158.5 393.8,156.9 394.8,155.3 C395.7,153.7 396.6,152.3 397.4,151.2 C398.2,150.2 398.9,149.3 399.4,148.8 C400,148.2 400.2,148 400.6,148 C401,148 401.2,148.2 401.8,148.8 C402.3,149.3 403,150.2 403.8,151.2 C404.6,152.3 405.5,153.7 406.5,155.3 C407.4,156.9 408.3,158.5 409.4,160.7 C410.5,162.8 411.7,165.3 413.1,168.3 C414.4,171.3 416.7,176.9 417.5,178.6" fill="none" stroke="#5a5a5a" stroke-width="1.2" stroke-linecap="round" stroke-linejoin="round" />
<path d="M383.8,180.1 C384.5,178.4 386.9,172.8 388.2,169.8 C389.5,166.8 390.8,164.3 391.8,162.2 C392.9,160 393.8,158.4 394.8,156.8 C395.7,155.2 396.6,153.8 397.4,152.7 C398.2,151.7 398.9,150.8 399.4,150.3 C400,149.7 400.2,149.5 400.6,149.5 C401,149.5 401.2,149.7 401.8,150.3 C402.3,150.8 403,151.7 403.8,152.7 C404.6,153.8 405.5,155.2 406.5,156.8 C407.4,158.4 408.3,160 409.4,162.2 C410.5,164.3 411.7,166.8 413.1,169.8 C414.4,172.8 416.7,178.4 417.5,180.1" fill="none" stroke="#7c6666" stroke-width="0.9" stroke-linecap="round" stroke-linejoin="round" />
<path d="M385.6,177.3 C386.4,175.6 388.7,170.1 390,167.1 C391.4,164.1 392.6,161.6 393.7,159.5 C394.8,157.3 395.7,155.7 396.6,154.1 C397.5,152.5 398.4,151.1 399.2,150 C400,148.9 400.7,148.1 401.2,147.6 C401.8,147 402,146.7 402.4,146.7 C402.8,146.7 403.1,147 403.6,147.6 C404.1,148.1 404.9,148.9 405.6,150 C406.4,151.1 407.4,152.5 408.3,154.1 C409.2,155.7 410.1,157.3 411.2,159.5 C412.3,161.6 413.5,164.1 414.9,167.1 C416.2,170.1 418.5,175.6 419.3,177.3" fill="none" stroke="#6e6e6e" stroke-width="0.9" stroke-linecap="round" stroke-linejoin="round" />
<path d="M388.5,176.5 C389,175.5 390.7,172.1 391.6,170.3 C392.6,168.5 393.5,166.9 394.3,165.6 C395.1,164.3 395.7,163.3 396.4,162.4 C397,161.4 397.7,160.5 398.3,159.9 C398.8,159.2 399.4,158.7 399.8,158.4 C400.1,158.1 400.3,157.9 400.6,157.9 C400.9,157.9 401.1,158.1 401.4,158.4 C401.8,158.7 402.4,159.2 402.9,159.9 C403.5,160.5 404.2,161.4 404.8,162.4 C405.5,163.3 406.2,164.3 407,165.6 C407.8,166.9 408.7,168.5 409.6,170.3 C410.6,172.1 412.3,175.5 412.8,176.5" fill="none" stroke="#5a5a5a" stroke-width="1.2" stroke-linecap="round" stroke-linejoin="round" />
<path d="M388.5,178 C389,177 390.7,173.6 391.6,171.8 C392.6,170 393.5,168.4 394.3,167.1 C395.1,165.8 395.7,164.8 396.4,163.9 C397,162.9 397.7,162 398.3,161.4 C398.8,160.7 399.4,160.2 399.8,159.9 C400.1,159.6 400.3,159.4 400.6,159.4 C400.9,159.4 401.1,159.6 401.4,159.9 C401.8,160.2 402.4,160.7 402.9,161.4 C403.5,162 404.2,162.9 404.8,163.9 C405.5,164.8 406.2,165.8 407,167.1 C407.8,168.4 408.7,170 409.6,171.8 C410.6,173.6 412.3,177 412.8,178" fill="none" stroke="#7c6666" stroke-width="0.9" stroke-linecap="round" stroke-linejoin="round" />
<path d="M390.3,175.3 C390.8,174.2 392.5,170.9 393.4,169.1 C394.4,167.2 395.3,165.7 396.1,164.4 C396.9,163.1 397.5,162.1 398.2,161.1 C398.9,160.2 399.5,159.3 400.1,158.7 C400.7,158 401.2,157.5 401.6,157.2 C402,156.8 402.1,156.7 402.4,156.7 C402.7,156.7 402.9,156.8 403.3,157.2 C403.7,157.5 404.2,158 404.8,158.7 C405.3,159.3 406,160.2 406.7,161.1 C407.3,162.1 408,163.1 408.8,164.4 C409.6,165.7 410.5,167.2 411.4,169.1 C412.4,170.9 414.1,174.2 414.6,175.3" fill="none" stroke="#6e6e6e" stroke-width="0.9" stroke-linecap="round" stroke-linejoin="round" />
<path d="M389.8,176.2 C390.3,175.2 391.8,172.2 392.7,170.6 C393.5,169 394.3,167.6 395,166.4 C395.7,165.2 396.3,164.4 396.9,163.5 C397.4,162.7 398,161.9 398.5,161.3 C399,160.7 399.5,160.3 399.9,160 C400.2,159.7 400.4,159.5 400.6,159.5 C400.8,159.5 401,159.7 401.3,160 C401.7,160.3 402.2,160.7 402.7,161.3 C403.2,161.9 403.8,162.7 404.4,163.5 C405,164.4 405.5,165.2 406.2,166.4 C406.9,167.6 407.7,169 408.6,170.6 C409.5,172.2 410.9,175.2 411.4,176.2" fill="none" stroke="#5a5a5a" stroke-width="1.2" stroke-linecap="round" stroke-linejoin="round" />
<path d="M389.8,177.7 C390.3,176.7 391.8,173.7 392.7,172.1 C393.5,170.5 394.3,169.1 395,167.9 C395.7,166.7 396.3,165.9 396.9,165 C397.4,164.2 398,163.4 398.5,162.8 C399,162.2 399.5,161.8 399.9,161.5 C400.2,161.2 400.4,161 400.6,161 C400.8,161 401,161.2 401.3,161.5 C401.7,161.8 402.2,162.2 402.7,162.8 C403.2,163.4 403.8,164.2 404.4,165 C405,165.9 405.5,166.7 406.2,167.9 C406.9,169.1 407.7,170.5 408.6,172.1 C409.5,173.7 410.9,176.7 411.4,177.7" fill="none" stroke="#7c6666" stroke-width="0.9" stroke-linecap="round" stroke-linejoin="round" />
<path d="M391.7,174.9 C392.1,174 393.6,171 394.5,169.4 C395.3,167.7 396.1,166.4 396.8,165.2 C397.5,164 398.1,163.2 398.7,162.3 C399.3,161.4 399.8,160.7 400.3,160.1 C400.8,159.5 401.3,159 401.7,158.8 C402,158.5 402.2,158.3 402.4,158.3 C402.7,158.3 402.8,158.5 403.2,158.8 C403.5,159 404,159.5 404.5,160.1 C405,160.7 405.6,161.4 406.2,162.3 C406.8,163.2 407.4,164 408.1,165.2 C408.8,166.4 409.6,167.7 410.4,169.4 C411.3,171 412.8,174 413.2,174.9" fill="none" stroke="#6e6e6e" stroke-width="0.9" stroke-linecap="round" stroke-linejoin="round" />
<path d="M391.1,175.8 C391.5,175 392.8,172.3 393.6,170.9 C394.3,169.5 395,168.3 395.6,167.3 C396.3,166.3 396.8,165.5 397.3,164.7 C397.8,164 398.3,163.3 398.8,162.8 C399.2,162.3 399.6,161.9 399.9,161.6 C400.2,161.4 400.4,161.2 400.6,161.2 C400.8,161.2 401,161.4 401.3,161.6 C401.6,161.9 402,162.3 402.4,162.8 C402.9,163.3 403.4,164 403.9,164.7 C404.4,165.5 405,166.3 405.6,167.3 C406.2,168.3 406.9,169.5 407.6,170.9 C408.4,172.3 409.7,175 410.1,175.8" fill="none" stroke="#6e6e6e" stroke-width="1.2" stroke-linecap="round" stroke-linejoin="round" />
<path d="M391.1,177.3 C391.5,176.5 392.8,173.8 393.6,172.4 C394.3,171 395,169.8 395.6,168.8 C396.3,167.8 396.8,167 397.3,166.2 C397.8,165.5 398.3,164.8 398.8,164.3 C399.2,163.8 399.6,163.4 399.9,163.1 C400.2,162.9 400.4,162.7 400.6,162.7 C400.8,162.7 401,162.9 401.3,163.1 C401.6,163.4 402,163.8 402.4,164.3 C402.9,164.8 403.4,165.5 403.9,166.2 C404.4,167 405,167.8 405.6,168.8 C406.2,169.8 406.9,171 407.6,172.4 C408.4,173.8 409.7,176.5 410.1,177.3" fill="none" stroke="#7c6666" stroke-width="0.9" stroke-linecap="round" stroke-linejoin="round" />
<path d="M392.9,174.6 C393.3,173.8 394.6,171.1 395.4,169.7 C396.2,168.3 396.8,167.1 397.5,166.1 C398.1,165 398.6,164.3 399.1,163.5 C399.6,162.8 400.2,162.1 400.6,161.6 C401,161.1 401.4,160.7 401.8,160.4 C402.1,160.2 402.2,160 402.4,160 C402.6,160 402.8,160.2 403.1,160.4 C403.4,160.7 403.8,161.1 404.2,161.6 C404.7,162.1 405.2,162.8 405.7,163.5 C406.3,164.3 406.8,165 407.4,166.1 C408,167.1 408.7,168.3 409.5,169.7 C410.2,171.1 411.5,173.8 412,174.6" fill="none" stroke="#6e6e6e" stroke-width="0.9" stroke-linecap="round" stroke-linejoin="round" />
<path d="M402.3,145 C403.2,145.9 406,148 407.5,150.2 C409,152.3 410,155.3 411.3,157.9 C412.6,160.5 414.1,163 415.2,165.6 C416.2,168.2 417.3,172 417.7,173.3" fill="none" stroke="#5a5a5a" stroke-width="1.2" stroke-linecap="round" stroke-linejoin="round" />
<path d="M402.3,146.5 C403.2,147.4 406,149.5 407.5,151.7 C409,153.8 410,156.8 411.3,159.4 C412.6,162 414.1,164.5 415.2,167.1 C416.2,169.7 417.3,173.5 417.7,174.8" fill="none" stroke="#7c6666" stroke-width="0.9" stroke-linecap="round" stroke-linejoin="round" />
<path d="M404.1,143.8 C405,144.7 407.8,146.8 409.3,149 C410.8,151.1 411.9,154.1 413.1,156.7 C414.4,159.2 415.9,161.8 417,164.4 C418,166.9 419.1,170.8 419.5,172.1" fill="none" stroke="#6e6e6e" stroke-width="0.9" stroke-linecap="round" stroke-linejoin="round" />
<path d="M431.8,173.3 C432.5,172.9 434.2,171.6 435.7,170.8 C437.2,169.9 439.1,168.8 440.8,168.2 C442.6,167.7 444.3,167.3 446,167.3 C447.7,167.4 449.3,167.9 451.1,168.5 C452.9,169.2 455.5,170.5 457,171.3 C458.4,172.1 459.4,173 459.9,173.3" fill="none" stroke="#5a5a5a" stroke-width="1.2" stroke-linecap="round" stroke-linejoin="round" />
<path d="M431.8,174.8 C432.5,174.4 434.2,173.1 435.7,172.3 C437.2,171.4 439.1,170.3 440.8,169.7 C442.6,169.2 444.3,168.8 446,168.8 C447.7,168.9 449.3,169.4 451.1,170 C452.9,170.7 455.5,172 457,172.8 C458.4,173.6 459.4,174.5 459.9,174.8" fill="none" stroke="#7c6666" stroke-width="0.9" stroke-linecap="round" stroke-linejoin="round" />
<path d="M433.7,172.1 C434.3,171.7 436,170.4 437.5,169.5 C439,168.7 440.9,167.6 442.7,167 C444.4,166.4 446.2,166.1 447.9,166.1 C449.7,166.2 451.2,166.7 453,167.3 C454.9,168 457.4,169.3 458.9,170.1 C460.4,170.8 461.4,171.7 461.8,172.1" fill="none" stroke="#6e6e6e" stroke-width="0.9" stroke-linecap="round" stroke-linejoin="round" />
<path d="M452.5,173.3 C453.5,172.2 456.3,168 458.5,166.4 C460.7,164.8 463.5,163.9 465.8,163.7 C468,163.4 470.2,164.4 472.1,165.1 C474,165.8 475.4,166.7 477.1,167.8 C478.7,169 481.2,171.3 482,172" fill="none" stroke="#5a5a5a" stroke-width="1.2" stroke-linecap="round" stroke-linejoin="round" />
<path d="M452.5,174.8 C453.5,173.7 456.3,169.5 458.5,167.9 C460.7,166.3 463.5,165.4 465.8,165.2 C468,164.9 470.2,165.9 472.1,166.6 C474,167.3 475.4,168.2 477.1,169.3 C478.7,170.5 481.2,172.8 482,173.5" fill="none" stroke="#7c6666" stroke-width="0.9" stroke-linecap="round" stroke-linejoin="round" />
<path d="M454.5,172.1 C455.4,170.9 458.3,166.8 460.4,165.2 C462.6,163.6 465.3,162.7 467.5,162.5 C469.7,162.2 471.9,163.2 473.7,163.9 C475.6,164.6 477.1,165.5 478.7,166.6 C480.4,167.8 482.9,170.1 483.7,170.8" fill="none" stroke="#6e6e6e" stroke-width="0.9" stroke-linecap="round" stroke-linejoin="round" />
<path d="M465.8,154 C466.6,154.3 468.9,154.8 470.8,155.5 C472.7,156.1 474.9,157.3 477.1,158.2 C479.2,159.1 482.4,160.5 483.5,160.9" fill="none" stroke="#5a5a5a" stroke-width="1.2" stroke-linecap="round" stroke-linejoin="round" />
<path d="M465.8,155.5 C466.6,155.8 468.9,156.3 470.8,157 C472.7,157.6 474.9,158.8 477.1,159.7 C479.2,160.6 482.4,162 483.5,162.4" fill="none" stroke="#7c6666" stroke-width="0.9" stroke-linecap="round" stroke-linejoin="round" />
<path d="M467.5,152.8 C468.3,153.1 470.6,153.5 472.5,154.2 C474.3,154.9 476.6,156.1 478.7,157 C480.8,157.9 484.1,159.3 485.2,159.7" fill="none" stroke="#6e6e6e" stroke-width="0.9" stroke-linecap="round" stroke-linejoin="round" />
<path d="M445.9,157.4 C447,157 450.3,156.3 452.3,154.8 C454.2,153.4 456.1,151.5 457.7,148.8 C459.3,146.1 460.7,141.3 462.1,138.6 C463.4,135.9 464.4,132.5 465.8,132.5 C467.1,132.5 468.6,135.9 470.1,138.6 C471.5,141.3 473.1,145.4 474.7,148.8 C476.2,152.1 477.8,155.7 479.3,158.9 C480.7,162.1 482.8,166.5 483.5,168" fill="none" stroke="#5a5a5a" stroke-width="1.2" stroke-linecap="round" stroke-linejoin="round" />
<path d="M445.9,158.9 C447,158.5 450.3,157.8 452.3,156.3 C454.2,154.9 456.1,153 457.7,150.3 C459.3,147.6 460.7,142.8 462.1,140.1 C463.4,137.4 464.4,134 465.8,134 C467.1,134 468.6,137.4 470.1,140.1 C471.5,142.8 473.1,146.9 474.7,150.3 C476.2,153.6 477.8,157.2 479.3,160.4 C480.7,163.6 482.8,168 483.5,169.5" fill="none" stroke="#7c6666" stroke-width="0.9" stroke-linecap="round" stroke-linejoin="round" />
<path d="M447.8,156.2 C448.9,155.7 452.3,155.1 454.2,153.6 C456.2,152.2 458,150.3 459.7,147.5 C461.3,144.8 462.7,140.1 464,137.4 C465.3,134.7 466.2,131.3 467.5,131.3 C468.8,131.3 470.2,134.7 471.7,137.4 C473.2,140.1 474.8,144.2 476.3,147.5 C477.9,150.9 479.5,154.5 480.9,157.7 C482.4,160.9 484.5,165.3 485.2,166.8" fill="none" stroke="#6e6e6e" stroke-width="0.9" stroke-linecap="round" stroke-linejoin="round" />
<path d="M445.9,159.4 C447.1,158.9 451.2,157.6 453.4,156.4 C455.5,155.1 457.3,153.9 458.8,151.8 C460.3,149.7 461.4,145.8 462.6,143.7 C463.8,141.6 464.4,138.8 465.8,139.1 C467.1,139.5 468.9,142.9 470.8,145.8 C472.7,148.8 475.2,153.2 477.1,156.9 C478.9,160.5 481,165.1 482,167.8 C483,170.6 482.8,172.4 482.9,173.3" fill="none" stroke="#5a5a5a" stroke-width="1.2" stroke-linecap="round" stroke-linejoin="round" />
<path d="M445.9,160.9 C447.1,160.4 451.2,159.1 453.4,157.9 C455.5,156.6 457.3,155.4 458.8,153.3 C460.3,151.2 461.4,147.3 462.6,145.2 C463.8,143.1 464.4,140.3 465.8,140.6 C467.1,141 468.9,144.4 470.8,147.3 C472.7,150.3 475.2,154.7 477.1,158.4 C478.9,162 481,166.6 482,169.3 C483,172.1 482.8,173.9 482.9,174.8" fill="none" stroke="#7c6666" stroke-width="0.9" stroke-linecap="round" stroke-linejoin="round" />
<path d="M447.8,158.2 C449.1,157.7 453.2,156.4 455.3,155.2 C457.5,153.9 459.2,152.7 460.8,150.6 C462.3,148.5 463.4,144.6 464.6,142.5 C465.7,140.4 466.2,137.6 467.5,137.9 C468.8,138.3 470.6,141.7 472.5,144.6 C474.3,147.6 476.8,152 478.7,155.7 C480.6,159.3 482.7,163.9 483.7,166.6 C484.7,169.3 484.5,171.2 484.6,172.1" fill="none" stroke="#6e6e6e" stroke-width="0.9" stroke-linecap="round" stroke-linejoin="round" />
<path d="M473.7,173.3 C474.4,172.4 476.2,169.4 477.4,168 C478.7,166.6 480.1,165.7 481.1,165 C482.1,164.3 483.1,164.1 483.5,164" fill="none" stroke="#5a5a5a" stroke-width="1.2" stroke-linecap="round" stroke-linejoin="round" />
<path d="M473.7,174.8 C474.4,173.9 476.2,170.9 477.4,169.5 C478.7,168.1 480.1,167.2 481.1,166.5 C482.1,165.8 483.1,165.6 483.5,165.5" fill="none" stroke="#7c6666" stroke-width="0.9" stroke-linecap="round" stroke-linejoin="round" />
<path d="M475.4,172.1 C476,171.2 477.9,168.2 479.1,166.8 C480.3,165.4 481.8,164.4 482.8,163.8 C483.8,163.1 484.8,162.9 485.2,162.8" fill="none" stroke="#6e6e6e" stroke-width="0.9" stroke-linecap="round" stroke-linejoin="round" />
<path d="M445.9,161.9 C446.8,161.8 449.4,161.4 451.2,160.9 C453,160.4 454.8,159.7 456.6,158.9 C458.4,158.1 460.5,156.7 462.1,155.9 C463.6,155 465.1,154.2 465.8,153.8" fill="none" stroke="#6e6e6e" stroke-width="1.2" stroke-linecap="round" stroke-linejoin="round" />
<path d="M445.9,163.4 C446.8,163.3 449.4,162.9 451.2,162.4 C453,161.9 454.8,161.2 456.6,160.4 C458.4,159.6 460.5,158.2 462.1,157.4 C463.6,156.5 465.1,155.7 465.8,155.3" fill="none" stroke="#7c6666" stroke-width="0.9" stroke-linecap="round" stroke-linejoin="round" />
<path d="M447.8,160.7 C448.7,160.6 451.3,160.2 453.1,159.7 C454.9,159.2 456.8,158.5 458.6,157.7 C460.4,156.8 462.5,155.5 464,154.6 C465.5,153.8 466.9,153 467.5,152.6" fill="none" stroke="#6e6e6e" stroke-width="0.9" stroke-linecap="round" stroke-linejoin="round" />
<path d="M338,19.3 C338.7,21.1 340.7,25.7 342,30 C343.3,34.3 344.7,40 346,45 C347.3,50 348.8,56.5 350,60 C351.2,63.5 352,64.5 353,66 C354,67.5 354.9,68.9 356.1,69.1 C357.3,69.3 358.7,68.5 360,67 C361.3,65.5 362.7,62.8 364,60 C365.3,57.2 366.7,53.7 368,50 C369.3,46.3 370.7,42.2 372,38 C373.3,33.8 375,28.1 376,25 C377,21.9 377.7,20.2 378,19.3" fill="none" stroke="#5a5a5a" stroke-width="1.1" stroke-linecap="round" stroke-linejoin="round" />
<path d="M380,19.3 C381,21.1 384,27.2 386,30 C388,32.8 389.6,34.7 392,36 C394.4,37.3 397.8,38 400.6,38 C403.4,38 406.6,37.3 409,36 C411.4,34.7 413.2,32.8 415,30 C416.8,27.2 419.2,21.1 420,19.3" fill="none" stroke="#666" stroke-width="1.1" stroke-linecap="round" stroke-linejoin="round" />
<path d="M428,60 C428.8,63 431.6,72.7 433,78 C434.4,83.3 435.3,88 436.6,91.8 C437.9,95.6 439.4,98.4 441,101 C442.6,103.6 444.6,107.3 446.3,107.3 C448.1,107.3 449.7,103.6 451.5,101 C453.3,98.4 455.4,95.6 457,91.8 C458.6,88 459.7,83.3 461,78 C462.3,72.7 464.3,63 465,60" fill="none" stroke="#8a5050" stroke-width="1.1" stroke-linecap="round" stroke-linejoin="round" />
<path d="M297.7,72.1 C298.3,72.3 299.8,72.5 301.3,73.4 C302.8,74.3 304.9,75.9 306.6,77.4 C308.4,78.9 310.3,81.4 311.8,82.6 C313.3,83.8 314.2,84.1 315.8,84.6 C317.4,85 319.4,84.8 321.1,85.3 C322.9,85.8 324.6,87 326.3,87.9 C328.1,88.8 330.1,89.8 331.6,90.6 C333.2,91.4 334.2,91.5 335.6,92.5 C337,93.5 338.7,94.8 340,96.5 C341.3,98.2 341.6,100.5 343.2,102.9 C344.8,105.3 348,108.6 349.8,110.8 C351.6,113 352.5,114.7 353.8,116.1 C355.1,117.5 356.2,119.2 357.7,119.4 C359.2,119.6 361.2,118.6 363,117.4 C364.8,116.2 366.5,114.4 368.3,112.2 C370.1,110 371.9,107.4 373.6,104 C375.3,100.6 377.2,94.8 378.7,92 C380.2,89.2 381.3,89.5 382.7,87.4 C384.1,85.3 385.8,81.5 387.3,79.3 C388.9,77.1 390.4,75.3 392,74.1 C393.6,72.8 395.2,72.3 396.6,71.8 C398,71.3 399.2,71.2 400.6,71.2 C402,71.2 403.2,71.3 404.7,72.1 C406.1,72.9 407.8,74 409.3,75.8 C410.8,77.6 413.1,81.6 413.9,82.8" fill="none" stroke="#f20a0a" stroke-width="4.6" stroke-linecap="round" stroke-linejoin="round" />
<path d="M297.7,72.1 C298.3,72.3 299.8,72.5 301.3,73.4 C302.8,74.3 304.9,75.9 306.6,77.4 C308.4,78.9 310.3,81.4 311.8,82.6 C313.3,83.8 314.2,84.1 315.8,84.6 C317.4,85 319.4,84.8 321.1,85.3 C322.9,85.8 324.6,87 326.3,87.9 C328.1,88.8 330.1,89.8 331.6,90.6 C333.2,91.4 334.2,91.5 335.6,92.5 C337,93.5 338.7,94.8 340,96.5 C341.3,98.2 341.6,100.5 343.2,102.9 C344.8,105.3 348,108.6 349.8,110.8 C351.6,113 352.5,114.7 353.8,116.1 C355.1,117.5 356.2,119.2 357.7,119.4 C359.2,119.6 361.2,118.6 363,117.4 C364.8,116.2 366.5,114.4 368.3,112.2 C370.1,110 371.9,107.4 373.6,104 C375.3,100.6 377.2,94.8 378.7,92 C380.2,89.2 381.3,89.5 382.7,87.4 C384.1,85.3 385.8,81.5 387.3,79.3 C388.9,77.1 390.4,75.3 392,74.1 C393.6,72.8 395.2,72.3 396.6,71.8 C398,71.3 399.2,71.2 400.6,71.2 C402,71.2 403.2,71.3 404.7,72.1 C406.1,72.9 407.8,74 409.3,75.8 C410.8,77.6 413.1,81.6 413.9,82.8" fill="none" stroke="#8a2a2a" stroke-width="0.9" stroke-linecap="round" stroke-linejoin="round" />
<path d="M413.9,82.8 C414.5,84 416.2,88 417.4,89.7 C418.6,91.4 419.8,91.9 420.9,93.2 C422,94.5 423.7,97 424.3,97.8" fill="none" stroke="#f20a0a" stroke-width="3.0" stroke-linecap="round" stroke-linejoin="round" />
<path d="M413.9,82.8 C414.5,84 416.2,88 417.4,89.7 C418.6,91.4 419.8,91.9 420.9,93.2 C422,94.5 423.7,97 424.3,97.8" fill="none" stroke="#8a2a2a" stroke-width="0.9" stroke-linecap="round" stroke-linejoin="round" />
<path d="M424.3,97.8 C424.9,99 426.5,102 427.8,104.7 C429.1,107.4 430.4,109 432,114 C433.6,119 436,129.7 437.5,134.5 C439,139.3 439.9,140.7 441,143 C442.1,145.3 443.1,147.2 444,148.5 C444.9,149.8 445.9,150.7 446.3,151.1" fill="none" stroke="#f20a0a" stroke-width="2.8" stroke-linecap="round" stroke-linejoin="round" />
<path d="M424.3,97.8 C424.9,99 426.5,102 427.8,104.7 C429.1,107.4 430.4,109 432,114 C433.6,119 436,129.7 437.5,134.5 C439,139.3 439.9,140.7 441,143 C442.1,145.3 443.1,147.2 444,148.5 C444.9,149.8 445.9,150.7 446.3,151.1" fill="none" stroke="#8a2a2a" stroke-width="0.9" stroke-linecap="round" stroke-linejoin="round" />
<path d="M446.3,151.1 C446.8,150.2 448.4,148.5 449.5,146 C450.6,143.5 451.8,139.3 453,136 C454.2,132.7 455.8,129.8 457,126 C458.2,122.2 459.5,116.3 460.5,113 C461.5,109.7 462.2,107.8 463,106 C463.8,104.2 464.5,102.9 465.5,102 C466.5,101.1 467.5,101.4 469.1,100.8 C470.7,100.2 473.4,99.4 475.2,98.5 C477,97.6 478.3,96.4 479.7,95.5 C481.1,94.6 482.9,93.6 483.5,93.2" fill="none" stroke="#f20a0a" stroke-width="4.6" stroke-linecap="round" stroke-linejoin="round" />
<path d="M446.3,151.1 C446.8,150.2 448.4,148.5 449.5,146 C450.6,143.5 451.8,139.3 453,136 C454.2,132.7 455.8,129.8 457,126 C458.2,122.2 459.5,116.3 460.5,113 C461.5,109.7 462.2,107.8 463,106 C463.8,104.2 464.5,102.9 465.5,102 C466.5,101.1 467.5,101.4 469.1,100.8 C470.7,100.2 473.4,99.4 475.2,98.5 C477,97.6 478.3,96.4 479.7,95.5 C481.1,94.6 482.9,93.6 483.5,93.2" fill="none" stroke="#8a2a2a" stroke-width="0.9" stroke-linecap="round" stroke-linejoin="round" />
<path d="M418,19.3 C418.7,21.6 420.6,28.1 422,33 C423.4,37.9 425.8,45.8 426.5,48.4" fill="none" stroke="#f20a0a" stroke-width="2.2" stroke-linecap="round" stroke-linejoin="round" />
<path d="M426.5,48.4 C427.3,50.9 429.6,58.5 431.1,63.6 C432.6,68.7 434.9,76.3 435.6,78.8" fill="none" stroke="#f20a0a" stroke-width="4.2" stroke-linecap="round" stroke-linejoin="round" />
<path d="M426.5,48.4 C427.3,50.9 429.6,58.5 431.1,63.6 C432.6,68.7 434.9,76.3 435.6,78.8" fill="none" stroke="#8a2a2a" stroke-width="0.9" stroke-linecap="round" stroke-linejoin="round" />
<path d="M435.6,78.8 C436.4,80.6 438.9,86.7 440.2,89.4 C441.5,92.1 442.5,93.7 443.5,95 C444.5,96.3 445.3,97 446.3,97 C447.3,97 448.5,96.3 449.5,95 C450.5,93.7 451.2,92.6 452.4,89.4 C453.6,86.2 456.1,78.1 456.9,75.8" fill="none" stroke="#f20a0a" stroke-width="4.8" stroke-linecap="round" stroke-linejoin="round" />
<path d="M435.6,78.8 C436.4,80.6 438.9,86.7 440.2,89.4 C441.5,92.1 442.5,93.7 443.5,95 C444.5,96.3 445.3,97 446.3,97 C447.3,97 448.5,96.3 449.5,95 C450.5,93.7 451.2,92.6 452.4,89.4 C453.6,86.2 456.1,78.1 456.9,75.8" fill="none" stroke="#8a2a2a" stroke-width="0.9" stroke-linecap="round" stroke-linejoin="round" />
<path d="M456.9,75.8 C457.7,73.3 460.2,65.2 461.5,60.6 C462.8,56 464,50.4 464.5,48.4" fill="none" stroke="#f20a0a" stroke-width="4.2" stroke-linecap="round" stroke-linejoin="round" />
<path d="M456.9,75.8 C457.7,73.3 460.2,65.2 461.5,60.6 C462.8,56 464,50.4 464.5,48.4" fill="none" stroke="#8a2a2a" stroke-width="0.9" stroke-linecap="round" stroke-linejoin="round" />
<path d="M464.5,48.4 C465.1,45.8 466.9,37.9 468,33 C469.1,28.1 470.5,21.6 471,19.3" fill="none" stroke="#f20a0a" stroke-width="2.2" stroke-linecap="round" stroke-linejoin="round" />
<path d="M435.6,19.3 C436.4,21.4 438.8,28.4 440.2,31.7 C441.6,35 443,37.4 444,39.3 C445,41.2 445.4,43 446.3,43.1 C447.2,43.2 448.2,41.9 449.3,40 C450.4,38.1 451.8,35.1 453.1,31.7 C454.4,28.2 456.3,21.4 456.9,19.3" fill="none" stroke="#f20a0a" stroke-width="4.8" stroke-linecap="round" stroke-linejoin="round" />
<path d="M435.6,19.3 C436.4,21.4 438.8,28.4 440.2,31.7 C441.6,35 443,37.4 444,39.3 C445,41.2 445.4,43 446.3,43.1 C447.2,43.2 448.2,41.9 449.3,40 C450.4,38.1 451.8,35.1 453.1,31.7 C454.4,28.2 456.3,21.4 456.9,19.3" fill="none" stroke="#8a2a2a" stroke-width="0.9" stroke-linecap="round" stroke-linejoin="round" />
<path d="M345.4,41.8 C346,43.2 347.8,47.3 349,50.1 C350.2,52.9 351.4,56.4 352.6,58.4 C353.8,60.4 354.7,61.8 356.1,62 C357.5,62.2 359.5,61 360.9,59.6 C362.3,58.2 363.4,55.8 364.4,53.6 C365.4,51.4 366,49.1 366.8,46.5 C367.6,43.9 368.4,41 369.2,38.2 C370,35.4 370.8,32.5 371.6,29.9 C372.4,27.3 373.3,24.6 373.9,22.8 C374.5,21 374.8,19.9 375,19.3" fill="none" stroke="#f20a0a" stroke-width="4.0" stroke-linecap="round" stroke-linejoin="round" />
<path d="M345.4,41.8 C346,43.2 347.8,47.3 349,50.1 C350.2,52.9 351.4,56.4 352.6,58.4 C353.8,60.4 354.7,61.8 356.1,62 C357.5,62.2 359.5,61 360.9,59.6 C362.3,58.2 363.4,55.8 364.4,53.6 C365.4,51.4 366,49.1 366.8,46.5 C367.6,43.9 368.4,41 369.2,38.2 C370,35.4 370.8,32.5 371.6,29.9 C372.4,27.3 373.3,24.6 373.9,22.8 C374.5,21 374.8,19.9 375,19.3" fill="none" stroke="#8a2a2a" stroke-width="0.9" stroke-linecap="round" stroke-linejoin="round" />
<path d="M331,33 C331.6,33.4 333.6,35.1 334.8,35.4 C336,35.7 337.3,35.4 338.3,34.6 C339.3,33.8 340.1,31.5 340.7,30.5 C341.3,29.5 341.7,29 341.9,28.7" fill="none" stroke="#f20a0a" stroke-width="2.6" stroke-linecap="round" stroke-linejoin="round" />
<path d="M331,33 C331.6,33.4 333.6,35.1 334.8,35.4 C336,35.7 337.3,35.4 338.3,34.6 C339.3,33.8 340.1,31.5 340.7,30.5 C341.3,29.5 341.7,29 341.9,28.7" fill="none" stroke="#8a2a2a" stroke-width="0.9" stroke-linecap="round" stroke-linejoin="round" />
<path d="M341.9,22.8 C342.9,23.5 345.8,26.4 347.8,26.9 C349.8,27.4 351.6,26.6 353.8,25.7 C356,24.8 359.7,22.3 360.9,21.6" fill="none" stroke="#b83030" stroke-width="1.4" stroke-linecap="round" stroke-linejoin="round" />
<path d="M438,50.2 C439.4,50.4 443.5,51.5 446.3,51.5 C449.1,51.5 453.6,50.4 455,50.2" fill="none" stroke="#b03030" stroke-width="1.6" stroke-linecap="round" stroke-linejoin="round" />
<path d="M353,148.5 C353.5,148.3 355,147.4 356,147.5 C357,147.6 358.5,148.8 359,149" fill="none" stroke="#f20a0a" stroke-width="2.6" stroke-linecap="round" stroke-linejoin="round" />
<path d="M353,148.5 C353.5,148.3 355,147.4 356,147.5 C357,147.6 358.5,148.8 359,149" fill="none" stroke="#8a2a2a" stroke-width="0.9" stroke-linecap="round" stroke-linejoin="round" />
<path d="M331,166 C331.6,166.7 333.3,169.7 334.5,170 C335.7,170.3 337.4,168.3 338,168" fill="none" stroke="#f20a0a" stroke-width="3.0" stroke-linecap="round" stroke-linejoin="round" />
<path d="M331,166 C331.6,166.7 333.3,169.7 334.5,170 C335.7,170.3 337.4,168.3 338,168" fill="none" stroke="#8a2a2a" stroke-width="0.9" stroke-linecap="round" stroke-linejoin="round" />
<path d="M322,150 C322.8,151 325.5,153.8 327,156 C328.5,158.2 329.8,160.7 331,163 C332.2,165.3 333.7,168.3 334.5,170 C335.3,171.7 335.8,172.8 336,173.3" fill="none" stroke="#f20a0a" stroke-width="1.8" stroke-linecap="round" stroke-linejoin="round" />
<path d="M338,173.3 C338.5,172.1 339.8,168.2 341,166 C342.2,163.8 343.5,161.7 345,160 C346.5,158.3 349.2,156.7 350,156" fill="none" stroke="#c03030" stroke-width="1.3" stroke-linecap="round" stroke-linejoin="round" />
<path d="M447,160 C447.8,159.8 450.2,158.7 452,158.5 C453.8,158.3 456,158.4 458,159 C460,159.6 462,160.8 464,162 C466,163.2 469,165.3 470,166" fill="none" stroke="#c03030" stroke-width="1.3" stroke-linecap="round" stroke-linejoin="round" />
<path d="M452,170 C453.3,169.3 457.3,166.8 460,166 C462.7,165.2 465.3,164.8 468,165 C470.7,165.2 473.4,166.3 476,167 C478.6,167.7 482.2,168.7 483.5,169" fill="none" stroke="#c03030" stroke-width="1.3" stroke-linecap="round" stroke-linejoin="round" />
<path d="M476,150 C476.7,150.8 478.8,153.3 480,155 C481.2,156.7 482.9,159.2 483.5,160" fill="none" stroke="#f20a0a" stroke-width="1.8" stroke-linecap="round" stroke-linejoin="round" />
<path d="M300,135 C301,135.5 304,136.7 306,138 C308,139.3 310,141 312,143 C314,145 317,148.8 318,150" fill="none" stroke="#b03030" stroke-width="1.2" stroke-linecap="round" stroke-linejoin="round" />
</g>
<rect x="297.7" y="19.3" width="185.8" height="154" fill="none" stroke="#707070" stroke-width="1.3"/>
<line x1="297.7" y1="19.3" x2="300.2" y2="19.3" stroke="#707070" stroke-width="1.1" />
<line x1="483.5" y1="19.3" x2="481" y2="19.3" stroke="#707070" stroke-width="1.1" />
<line x1="297.7" y1="57.8" x2="300.2" y2="57.8" stroke="#707070" stroke-width="1.1" />
<line x1="483.5" y1="57.8" x2="481" y2="57.8" stroke="#707070" stroke-width="1.1" />
<line x1="297.7" y1="96.3" x2="300.2" y2="96.3" stroke="#707070" stroke-width="1.1" />
<line x1="483.5" y1="96.3" x2="481" y2="96.3" stroke="#707070" stroke-width="1.1" />
<line x1="297.7" y1="134.8" x2="300.2" y2="134.8" stroke="#707070" stroke-width="1.1" />
<line x1="483.5" y1="134.8" x2="481" y2="134.8" stroke="#707070" stroke-width="1.1" />
<line x1="297.7" y1="173.3" x2="300.2" y2="173.3" stroke="#707070" stroke-width="1.1" />
<line x1="483.5" y1="173.3" x2="481" y2="173.3" stroke="#707070" stroke-width="1.1" />
<line x1="297.7" y1="38.5" x2="299.3" y2="38.5" stroke="#707070" stroke-width="1.1" />
<line x1="483.5" y1="38.5" x2="481.9" y2="38.5" stroke="#707070" stroke-width="1.1" />
<line x1="297.7" y1="77" x2="299.3" y2="77" stroke="#707070" stroke-width="1.1" />
<line x1="483.5" y1="77" x2="481.9" y2="77" stroke="#707070" stroke-width="1.1" />
<line x1="297.7" y1="115.5" x2="299.3" y2="115.5" stroke="#707070" stroke-width="1.1" />
<line x1="483.5" y1="115.5" x2="481.9" y2="115.5" stroke="#707070" stroke-width="1.1" />
<line x1="297.7" y1="154.1" x2="299.3" y2="154.1" stroke="#707070" stroke-width="1.1" />
<line x1="483.5" y1="154.1" x2="481.9" y2="154.1" stroke="#707070" stroke-width="1.1" />
<text x="294.2" y="22.9" font-family="Liberation Sans" font-size="10" fill="#222" text-anchor="end" >1.0</text>
<text x="294.2" y="61.4" font-family="Liberation Sans" font-size="10" fill="#222" text-anchor="end" >0.5</text>
<text x="294.2" y="99.9" font-family="Liberation Sans" font-size="10" fill="#222" text-anchor="end" >0.0</text>
<text x="294.2" y="138.4" font-family="Liberation Sans" font-size="10" fill="#222" text-anchor="end" >-0.5</text>
<text x="294.2" y="176.9" font-family="Liberation Sans" font-size="10" fill="#222" text-anchor="end" >-1.0</text>
<text x="298.6" y="183.9" font-family="Liberation Serif" font-size="11.8" fill="#222" text-anchor="middle" >Γ</text>
<text x="336" y="183.9" font-family="Liberation Sans" font-size="11.2" fill="#222" text-anchor="middle" >X</text>
<text x="353.3" y="183.9" font-family="Liberation Sans" font-size="11.2" fill="#222" text-anchor="middle" >U|K</text>
<text x="400.1" y="183.9" font-family="Liberation Serif" font-size="11.8" fill="#222" text-anchor="middle" >Γ</text>
<text x="447.3" y="183.9" font-family="Liberation Sans" font-size="11.2" fill="#222" text-anchor="middle" >L</text>
<text x="466.7" y="183.9" font-family="Liberation Sans" font-size="11.2" fill="#222" text-anchor="middle" >W</text>
<text x="484.3" y="183.9" font-family="Liberation Sans" font-size="11.2" fill="#222" text-anchor="middle" >X</text>
<text transform="translate(269.8,92.0) rotate(-90)" font-family="Liberation Sans" font-size="15" fill="#111" text-anchor="middle" textLength="80.7" lengthAdjust="spacingAndGlyphs">Energy (eV)</text>
<clipPath id="cpc"><rect x="527.9" y="18.6" width="129.1" height="153"/></clipPath>
<line x1="581.5" y1="18.6" x2="581.5" y2="171.6" stroke="#9a9a9a" stroke-width="0.8" stroke-dasharray="1 1.6"/>
<line x1="636.6" y1="18.6" x2="636.6" y2="171.6" stroke="#9a9a9a" stroke-width="0.8" stroke-dasharray="1 1.6"/>
<g clip-path="url(#cpc)">
<path d="M458.7,28.8 C460.1,27.3 464.2,22.5 466.7,19.9 C469.2,17.3 471.7,14.7 473.7,13.3 C475.8,11.8 477.3,11.4 479.1,11.2 C480.9,10.9 482.4,11.1 484.5,11.8 C486.5,12.5 489.3,14.2 491.5,15.6 C493.7,16.9 495.8,18.5 497.7,19.9 C499.7,21.3 502.5,23.2 503.5,23.8" fill="none" stroke="#6e6e6e" stroke-width="1.7999999999999998" stroke-linecap="round" stroke-linejoin="round" />
<path d="M458.7,31 C460.1,29.5 464.2,24.7 466.7,22.1 C469.2,19.5 471.7,16.9 473.7,15.5 C475.8,14 477.3,13.6 479.1,13.4 C480.9,13.1 482.4,13.3 484.5,14 C486.5,14.7 489.3,16.4 491.5,17.8 C493.7,19.1 495.8,20.7 497.7,22.1 C499.7,23.5 502.5,25.4 503.5,26" fill="none" stroke="#7c6666" stroke-width="1.35" stroke-linecap="round" stroke-linejoin="round" />
<path d="M547.5,39.6 C548.3,38.4 550.7,34.6 552.3,32.1 C553.9,29.6 555.5,26.6 557.1,24.6 C558.7,22.6 560.3,21.2 561.9,20.1 C563.5,18.9 565.1,18.1 566.7,17.8 C568.4,17.6 570.9,18.4 571.8,18.6" fill="none" stroke="#6e6e6e" stroke-width="1.7999999999999998" stroke-linecap="round" stroke-linejoin="round" />
<path d="M547.5,41.8 C548.3,40.6 550.7,36.8 552.3,34.3 C553.9,31.8 555.5,28.8 557.1,26.8 C558.7,24.8 560.3,23.4 561.9,22.3 C563.5,21.1 565.1,20.3 566.7,20 C568.4,19.8 570.9,20.6 571.8,20.8" fill="none" stroke="#7c6666" stroke-width="1.35" stroke-linecap="round" stroke-linejoin="round" />
<path d="M475.6,-23.1 C476.1,-21.3 477.8,-15.6 478.7,-11.8 C479.6,-8.1 480.1,-4.7 480.9,-0.9 C481.7,3 482.6,7.5 483.6,11.2 C484.6,14.9 485.8,18.4 487.1,21.1 C488.5,23.9 490.2,26.1 491.5,27.6 C492.9,29.1 493.8,29.9 495.2,29.9 C496.5,29.9 498.2,28.7 499.6,27.6 C501,26.5 502.8,24.2 503.5,23.5" fill="none" stroke="#888888" stroke-width="1.7999999999999998" stroke-linecap="round" stroke-linejoin="round" />
<path d="M475.6,-20.9 C476.1,-19.1 477.8,-13.4 478.7,-9.6 C479.6,-5.9 480.1,-2.5 480.9,1.3 C481.7,5.2 482.6,9.7 483.6,13.4 C484.6,17.1 485.8,20.6 487.1,23.3 C488.5,26.1 490.2,28.3 491.5,29.8 C492.9,31.3 493.8,32.1 495.2,32.1 C496.5,32.1 498.2,30.9 499.6,29.8 C501,28.7 502.8,26.4 503.5,25.7" fill="none" stroke="#9a8484" stroke-width="1.35" stroke-linecap="round" stroke-linejoin="round" />
<path d="M480.9,-23.1 C481.8,-21.3 484.5,-15.2 486.3,-11.8 C488.1,-8.5 489.9,-6 491.5,-3.1 C493.2,-0.2 494.6,2.9 496,5.6 C497.5,8.4 499.2,11.6 500.4,13.3 C501.7,15 502.4,16.6 503.6,15.6 C504.8,14.5 506.5,9.6 507.6,6.8 C508.7,4.1 509.4,-0.3 510.3,-0.9 C511.2,-1.4 512.1,0.6 513,3.5 C513.8,6.4 514.6,12.2 515.5,16.6 C516.5,21 517.3,25.5 518.7,29.9 C520.1,34.2 522.1,38.9 523.9,42.7 C525.7,46.4 527.5,51.3 529.3,52.4 C531.1,53.6 532.7,52.2 534.7,49.6 C536.6,47 538.9,41.9 540.9,36.9 C543,31.9 545,25.3 547,19.5 C549.1,13.6 551.1,7.5 553.2,2 C555.2,-3.5 557.6,-9.3 559.4,-13.5 C561.2,-17.7 563.3,-21.5 564.1,-23.1" fill="none" stroke="#5a5a5a" stroke-width="1.7999999999999998" stroke-linecap="round" stroke-linejoin="round" />
<path d="M480.9,-20.9 C481.8,-19.1 484.5,-13 486.3,-9.6 C488.1,-6.3 489.9,-3.8 491.5,-0.9 C493.2,2 494.6,5.1 496,7.8 C497.5,10.6 499.2,13.8 500.4,15.5 C501.7,17.2 502.4,18.8 503.6,17.8 C504.8,16.7 506.5,11.8 507.6,9 C508.7,6.3 509.4,1.9 510.3,1.3 C511.2,0.8 512.1,2.8 513,5.7 C513.8,8.6 514.6,14.4 515.5,18.8 C516.5,23.2 517.3,27.7 518.7,32.1 C520.1,36.4 522.1,41.1 523.9,44.9 C525.7,48.6 527.5,53.5 529.3,54.6 C531.1,55.8 532.7,54.4 534.7,51.8 C536.6,49.2 538.9,44.1 540.9,39.1 C543,34.1 545,27.5 547,21.7 C549.1,15.8 551.1,9.7 553.2,4.2 C555.2,-1.3 557.6,-7.1 559.4,-11.3 C561.2,-15.5 563.3,-19.3 564.1,-20.9" fill="none" stroke="#7c6666" stroke-width="1.35" stroke-linecap="round" stroke-linejoin="round" />
<path d="M477.4,-23.1 C478.3,-21.1 481,-14.3 482.6,-10.8 C484.3,-7.3 485.7,-5 487.1,-2.1 C488.6,0.9 490.2,4.1 491.5,6.8 C492.9,9.6 494,12.7 495.2,14.5 C496.4,16.3 497.3,16.3 498.7,17.8 C500.1,19.3 502.7,22.6 503.5,23.5" fill="none" stroke="#5a5a5a" stroke-width="1.7999999999999998" stroke-linecap="round" stroke-linejoin="round" />
<path d="M477.4,-20.9 C478.3,-18.9 481,-12.1 482.6,-8.6 C484.3,-5.1 485.7,-2.8 487.1,0.1 C488.6,3.1 490.2,6.3 491.5,9 C492.9,11.8 494,14.9 495.2,16.7 C496.4,18.5 497.3,18.5 498.7,20 C500.1,21.5 502.7,24.8 503.5,25.7" fill="none" stroke="#7c6666" stroke-width="1.35" stroke-linecap="round" stroke-linejoin="round" />
<path d="M478.9,-22.7 C479.7,-20.6 482.5,-13.9 484.1,-10.3 C485.7,-6.8 487.1,-4.5 488.6,-1.6 C490.1,1.3 491.6,4.5 493,7.3 C494.3,10 495.4,13.1 496.6,15 C497.8,16.8 498.8,16.8 500.2,18.3 C501.6,19.8 504.1,23 504.9,24" fill="none" stroke="#5a5a5a" stroke-width="1.7999999999999998" stroke-linecap="round" stroke-linejoin="round" />
<path d="M478.9,-20.5 C479.7,-18.4 482.5,-11.7 484.1,-8.1 C485.7,-4.6 487.1,-2.3 488.6,0.6 C490.1,3.5 491.6,6.7 493,9.5 C494.3,12.2 495.4,15.3 496.6,17.2 C497.8,19 498.8,19 500.2,20.5 C501.6,22 504.1,25.2 504.9,26.2" fill="none" stroke="#7c6666" stroke-width="1.35" stroke-linecap="round" stroke-linejoin="round" />
<path d="M503.5,23.5 C504.1,25 506,29.6 507.3,32.4 C508.6,35.2 509.9,37.9 511.1,40.5 C512.4,43 513.7,45.4 515,47.6 C516.3,49.8 517.5,51.8 518.8,53.7 C520.1,55.6 521.4,57.3 522.7,58.7 C523.9,60.1 525.2,61.5 526.5,62.4 C527.7,63.3 529,64.8 530.2,64.2 C531.5,63.6 532.8,61.2 534.1,58.9 C535.4,56.7 536.7,53.7 538,50.7 C539.3,47.7 540.6,44.4 541.9,41 C543.2,37.5 544.5,33.8 545.8,29.9 C547.1,26.1 548.4,22 549.7,17.9 C551,13.7 552.3,9.4 553.6,5 C554.9,0.5 556.2,-4 557.4,-8.7 C558.7,-13.4 560.7,-20.7 561.3,-23.1" fill="none" stroke="#5a5a5a" stroke-width="1.7999999999999998" stroke-linecap="round" stroke-linejoin="round" />
<path d="M503.5,25.7 C504.1,27.2 506,31.8 507.3,34.6 C508.6,37.4 509.9,40.1 511.1,42.7 C512.4,45.2 513.7,47.6 515,49.8 C516.3,52 517.5,54 518.8,55.9 C520.1,57.8 521.4,59.5 522.7,60.9 C523.9,62.3 525.2,63.7 526.5,64.6 C527.7,65.5 529,67 530.2,66.4 C531.5,65.8 532.8,63.4 534.1,61.1 C535.4,58.9 536.7,55.9 538,52.9 C539.3,49.9 540.6,46.6 541.9,43.2 C543.2,39.7 544.5,36 545.8,32.1 C547.1,28.3 548.4,24.2 549.7,20.1 C551,15.9 552.3,11.6 553.6,7.2 C554.9,2.7 556.2,-1.8 557.4,-6.5 C558.7,-11.2 560.7,-18.5 561.3,-20.9" fill="none" stroke="#7c6666" stroke-width="1.35" stroke-linecap="round" stroke-linejoin="round" />
<path d="M503.5,23.5 C504.1,25.2 506.1,30.2 507.4,33.2 C508.7,36.3 510,39.3 511.3,42 C512.6,44.8 513.9,47.4 515.2,49.8 C516.5,52.2 517.8,54.5 519.1,56.5 C520.4,58.5 521.7,60.4 523,62 C524.3,63.5 525.5,65 526.8,66 C528.1,67 529.3,68.5 530.7,67.9 C532,67.4 533.5,64.8 535,62.4 C536.4,60.1 537.9,57.1 539.3,53.9 C540.7,50.8 542.2,47.3 543.6,43.7 C545,40.1 546.5,36.2 547.9,32.2 C549.4,28.2 550.8,24 552.2,19.6 C553.7,15.3 555.1,10.8 556.5,6.2 C558,1.5 559.4,-3.2 560.9,-8.1 C562.3,-13 564.5,-20.6 565.2,-23.1" fill="none" stroke="#5a5a5a" stroke-width="1.7999999999999998" stroke-linecap="round" stroke-linejoin="round" />
<path d="M503.5,25.7 C504.1,27.4 506.1,32.4 507.4,35.4 C508.7,38.5 510,41.5 511.3,44.2 C512.6,47 513.9,49.6 515.2,52 C516.5,54.4 517.8,56.7 519.1,58.7 C520.4,60.7 521.7,62.6 523,64.2 C524.3,65.7 525.5,67.2 526.8,68.2 C528.1,69.2 529.3,70.7 530.7,70.1 C532,69.6 533.5,67 535,64.6 C536.4,62.3 537.9,59.3 539.3,56.1 C540.7,53 542.2,49.5 543.6,45.9 C545,42.3 546.5,38.4 547.9,34.4 C549.4,30.4 550.8,26.2 552.2,21.8 C553.7,17.5 555.1,13 556.5,8.4 C558,3.7 559.4,-1 560.9,-5.9 C562.3,-10.8 564.5,-18.4 565.2,-20.9" fill="none" stroke="#7c6666" stroke-width="1.35" stroke-linecap="round" stroke-linejoin="round" />
<path d="M503.5,23.5 C504.1,25.3 506.1,30.7 507.4,34.1 C508.8,37.4 510.1,40.6 511.4,43.6 C512.7,46.6 514,49.4 515.3,52 C516.7,54.6 518,57.1 519.3,59.3 C520.6,61.5 522,63.5 523.3,65.2 C524.6,66.9 525.9,68.5 527.2,69.6 C528.5,70.7 529.6,72.3 531.1,71.7 C532.5,71.1 534.2,68.4 535.8,66 C537.4,63.6 539,60.4 540.6,57.1 C542.1,53.9 543.7,50.2 545.3,46.5 C546.9,42.7 548.5,38.7 550.1,34.5 C551.6,30.3 553.2,25.9 554.8,21.4 C556.4,16.9 558,12.2 559.5,7.4 C561.1,2.6 562.7,-2.4 564.3,-7.5 C565.9,-12.6 568.2,-20.5 569,-23.1" fill="none" stroke="#6e6e6e" stroke-width="1.7999999999999998" stroke-linecap="round" stroke-linejoin="round" />
<path d="M503.5,25.7 C504.1,27.5 506.1,32.9 507.4,36.3 C508.8,39.6 510.1,42.8 511.4,45.8 C512.7,48.8 514,51.6 515.3,54.2 C516.7,56.8 518,59.3 519.3,61.5 C520.6,63.7 522,65.7 523.3,67.4 C524.6,69.1 525.9,70.7 527.2,71.8 C528.5,72.9 529.6,74.5 531.1,73.9 C532.5,73.3 534.2,70.6 535.8,68.2 C537.4,65.8 539,62.6 540.6,59.3 C542.1,56.1 543.7,52.4 545.3,48.7 C546.9,44.9 548.5,40.9 550.1,36.7 C551.6,32.5 553.2,28.1 554.8,23.6 C556.4,19.1 558,14.4 559.5,9.6 C561.1,4.8 562.7,-0.2 564.3,-5.3 C565.9,-10.4 568.2,-18.3 569,-20.9" fill="none" stroke="#7c6666" stroke-width="1.35" stroke-linecap="round" stroke-linejoin="round" />
<path d="M503.5,23.5 C504.1,25.4 506.2,31.3 507.5,34.9 C508.8,38.5 510.2,41.9 511.5,45.2 C512.8,48.4 514.2,51.4 515.5,54.3 C516.9,57.1 518.2,59.7 519.6,62.1 C520.9,64.5 522.2,66.6 523.6,68.5 C524.9,70.3 526.2,72 527.5,73.2 C528.9,74.3 530,76.1 531.5,75.5 C533,74.9 535,72.1 536.7,69.5 C538.4,67 540.1,63.7 541.8,60.3 C543.6,56.9 545.3,53.2 547,49.2 C548.7,45.3 550.5,41.1 552.2,36.8 C553.9,32.4 555.6,27.9 557.3,23.2 C559.1,18.5 560.8,13.6 562.5,8.6 C564.2,3.6 566,-1.6 567.7,-6.9 C569.4,-12.2 572,-20.4 572.9,-23.1" fill="none" stroke="#5a5a5a" stroke-width="1.7999999999999998" stroke-linecap="round" stroke-linejoin="round" />
<path d="M503.5,25.7 C504.1,27.6 506.2,33.5 507.5,37.1 C508.8,40.7 510.2,44.1 511.5,47.4 C512.8,50.6 514.2,53.6 515.5,56.5 C516.9,59.3 518.2,61.9 519.6,64.3 C520.9,66.7 522.2,68.8 523.6,70.7 C524.9,72.5 526.2,74.2 527.5,75.4 C528.9,76.5 530,78.3 531.5,77.7 C533,77.1 535,74.3 536.7,71.7 C538.4,69.2 540.1,65.9 541.8,62.5 C543.6,59.1 545.3,55.4 547,51.4 C548.7,47.5 550.5,43.3 552.2,39 C553.9,34.6 555.6,30.1 557.3,25.4 C559.1,20.7 560.8,15.8 562.5,10.8 C564.2,5.8 566,0.6 567.7,-4.7 C569.4,-10 572,-18.2 572.9,-20.9" fill="none" stroke="#7c6666" stroke-width="1.35" stroke-linecap="round" stroke-linejoin="round" />
<path d="M508.9,-23.1 C509.3,-21.5 510.2,-16.6 511.4,-13.1 C512.6,-9.5 514.6,-4.4 516.1,-1.9 C517.7,0.6 518.9,2 520.7,2 C522.5,2 524.2,-0.1 527,-1.9 C529.8,-3.7 534.5,-6.6 537.8,-8.7 C541.1,-10.8 545,-12.7 547,-14.4 C549.1,-16.2 549.4,-17.8 550.2,-19.2 C551,-20.7 551.5,-22.5 551.7,-23.1" fill="none" stroke="#5a5a5a" stroke-width="1.7999999999999998" stroke-linecap="round" stroke-linejoin="round" />
<path d="M508.9,-20.9 C509.3,-19.3 510.2,-14.4 511.4,-10.9 C512.6,-7.3 514.6,-2.2 516.1,0.3 C517.7,2.8 518.9,4.2 520.7,4.2 C522.5,4.2 524.2,2.1 527,0.3 C529.8,-1.5 534.5,-4.4 537.8,-6.5 C541.1,-8.6 545,-10.5 547,-12.2 C549.1,-14 549.4,-15.6 550.2,-17 C551,-18.5 551.5,-20.3 551.7,-20.9" fill="none" stroke="#7c6666" stroke-width="1.35" stroke-linecap="round" stroke-linejoin="round" />
<path d="M504.1,-23.1 C504.7,-21.7 506.3,-17.4 507.7,-14.6 C509.1,-11.7 511,-8 512.6,-6.3 C514.2,-4.5 515.6,-3.9 517.5,-4 C519.3,-4.1 521.1,-5.5 523.5,-7 C525.9,-8.5 529.3,-11 531.9,-13.1 C534.5,-15.1 537.3,-17.4 539.1,-19.1 C540.9,-20.8 542.1,-22.5 542.7,-23.1" fill="none" stroke="#6e6e6e" stroke-width="1.7999999999999998" stroke-linecap="round" stroke-linejoin="round" />
<path d="M504.1,-20.9 C504.7,-19.5 506.3,-15.2 507.7,-12.4 C509.1,-9.5 511,-5.8 512.6,-4.1 C514.2,-2.3 515.6,-1.7 517.5,-1.8 C519.3,-1.9 521.1,-3.3 523.5,-4.8 C525.9,-6.3 529.3,-8.8 531.9,-10.9 C534.5,-12.9 537.3,-15.2 539.1,-16.9 C540.9,-18.6 542.1,-20.3 542.7,-20.9" fill="none" stroke="#7c6666" stroke-width="1.35" stroke-linecap="round" stroke-linejoin="round" />
<path d="M520.7,-23.1 C521.5,-20.9 523.6,-14.1 525.4,-9.6 C527.2,-5.1 529.5,-0.9 531.6,4 C533.6,8.8 536,15 537.8,19.5 C539.6,24 541,27.7 542.4,31.1 C543.7,34.4 545.2,38.2 545.7,39.6" fill="none" stroke="#888888" stroke-width="1.7999999999999998" stroke-linecap="round" stroke-linejoin="round" />
<path d="M520.7,-20.9 C521.5,-18.7 523.6,-11.9 525.4,-7.4 C527.2,-2.9 529.5,1.3 531.6,6.2 C533.6,11 536,17.2 537.8,21.7 C539.6,26.2 541,29.9 542.4,33.3 C543.7,36.6 545.2,40.4 545.7,41.8" fill="none" stroke="#9a8484" stroke-width="1.35" stroke-linecap="round" stroke-linejoin="round" />
<path d="M553.2,29.1 C554.2,27.8 557.4,23.5 559.4,21.4 C561.5,19.3 563.5,17.1 565.5,16.6 C567.6,16.1 569.7,17.1 571.8,18.6 C573.8,20 576.2,23.5 577.9,25.3 C579.6,27.2 580.7,29.7 582.2,29.6 C583.7,29.4 585,26 586.8,24.3 C588.6,22.6 591.3,19.8 593.1,19.5 C594.9,19.1 595.9,19.7 597.7,22.3 C599.5,24.9 601.9,30 603.9,35 C606,40 608,47.3 610.1,52.4 C612.2,57.6 614.4,63.4 616.4,66 C618.3,68.6 620,69.6 621.8,67.9 C623.6,66.3 625.3,60.9 627.2,56.4 C629.1,51.8 631.9,44.5 633.4,40.8 C634.9,37.2 635.7,35.5 636.1,34.4" fill="none" stroke="#6e6e6e" stroke-width="1.7999999999999998" stroke-linecap="round" stroke-linejoin="round" />
<path d="M553.2,31.3 C554.2,30 557.4,25.7 559.4,23.6 C561.5,21.5 563.5,19.3 565.5,18.8 C567.6,18.3 569.7,19.3 571.8,20.8 C573.8,22.2 576.2,25.7 577.9,27.5 C579.6,29.4 580.7,31.9 582.2,31.8 C583.7,31.6 585,28.2 586.8,26.5 C588.6,24.8 591.3,22 593.1,21.7 C594.9,21.3 595.9,21.9 597.7,24.5 C599.5,27.1 601.9,32.2 603.9,37.2 C606,42.2 608,49.5 610.1,54.6 C612.2,59.8 614.4,65.6 616.4,68.2 C618.3,70.8 620,71.8 621.8,70.1 C623.6,68.5 625.3,63.1 627.2,58.6 C629.1,54 631.9,46.7 633.4,43 C634.9,39.4 635.7,37.7 636.1,36.6" fill="none" stroke="#7c6666" stroke-width="1.35" stroke-linecap="round" stroke-linejoin="round" />
<path d="M635.9,33 C636.9,34.3 639.6,38.7 641.7,40.8 C643.8,43 646.1,45.4 648.3,45.7 C650.6,46 653.1,44.8 655.1,42.7 C657,40.5 658.5,36.6 660,33 C661.5,29.5 662.9,26.3 664.3,21.4 C665.7,16.6 667,9.8 668.4,4 C669.8,-1.9 671.5,-9 672.7,-13.5 C673.9,-18 675.1,-21.5 675.6,-23.1" fill="none" stroke="#5a5a5a" stroke-width="1.7999999999999998" stroke-linecap="round" stroke-linejoin="round" />
<path d="M635.9,35.2 C636.9,36.5 639.6,40.9 641.7,43 C643.8,45.2 646.1,47.6 648.3,47.9 C650.6,48.2 653.1,47 655.1,44.9 C657,42.7 658.5,38.8 660,35.2 C661.5,31.7 662.9,28.5 664.3,23.6 C665.7,18.8 667,12 668.4,6.2 C669.8,0.3 671.5,-6.8 672.7,-11.3 C673.9,-15.8 675.1,-19.3 675.6,-20.9" fill="none" stroke="#7c6666" stroke-width="1.35" stroke-linecap="round" stroke-linejoin="round" />
<path d="M586.8,-17.4 C589.1,-16.8 596.7,-15.1 600.8,-13.5 C604.9,-11.9 608.6,-9.9 611.7,-7.6 C614.8,-5.4 617.3,-2.7 619.4,0 C621.4,2.8 622.6,5.9 624.1,8.8 C625.5,11.6 626.9,14.2 628.2,17.1 C629.5,19.9 630.5,23.6 631.8,26.1 C633.1,28.6 635.2,31.1 635.9,32.1" fill="none" stroke="#888888" stroke-width="1.7999999999999998" stroke-linecap="round" stroke-linejoin="round" />
<path d="M586.8,-15.2 C589.1,-14.6 596.7,-12.9 600.8,-11.3 C604.9,-9.7 608.6,-7.7 611.7,-5.4 C614.8,-3.2 617.3,-0.5 619.4,2.2 C621.4,5 622.6,8.1 624.1,11 C625.5,13.8 626.9,16.4 628.2,19.3 C629.5,22.1 630.5,25.8 631.8,28.3 C633.1,30.8 635.2,33.3 635.9,34.3" fill="none" stroke="#9a8484" stroke-width="1.35" stroke-linecap="round" stroke-linejoin="round" />
<path d="M571.5,-23.1 C572.3,-22.3 574.7,-19.5 576.3,-18.3 C578,-17.1 579.8,-16.1 581.5,-16.1 C583.2,-16.1 585,-17.1 586.6,-18.3 C588.1,-19.5 590.1,-22.3 590.8,-23.1" fill="none" stroke="#6e6e6e" stroke-width="1.7999999999999998" stroke-linecap="round" stroke-linejoin="round" />
<path d="M571.5,-20.9 C572.3,-20.1 574.7,-17.3 576.3,-16.1 C578,-14.9 579.8,-13.9 581.5,-13.9 C583.2,-13.9 585,-14.9 586.6,-16.1 C588.1,-17.3 590.1,-20.1 590.8,-20.9" fill="none" stroke="#7c6666" stroke-width="1.35" stroke-linecap="round" stroke-linejoin="round" />
<path d="M571.5,-20.9 C572.3,-20.1 574.7,-17.2 576.3,-16.1 C578,-14.9 579.8,-13.8 581.5,-13.8 C583.2,-13.8 585,-14.9 586.6,-16.1 C588.1,-17.2 590.1,-20.1 590.8,-20.9" fill="none" stroke="#6e6e6e" stroke-width="1.7999999999999998" stroke-linecap="round" stroke-linejoin="round" />
<path d="M571.5,-18.7 C572.3,-17.9 574.7,-15 576.3,-13.9 C578,-12.7 579.8,-11.6 581.5,-11.6 C583.2,-11.6 585,-12.7 586.6,-13.9 C588.1,-15 590.1,-17.9 590.8,-18.7" fill="none" stroke="#7c6666" stroke-width="1.35" stroke-linecap="round" stroke-linejoin="round" />
<path d="M607.9,-23.1 C608.8,-20.9 611.3,-14.1 613.2,-9.6 C615.1,-5.1 617.3,-0.6 619.4,4 C621.4,8.5 623.6,13.3 625.6,17.5 C627.7,21.7 630.1,26.6 631.8,29.1 C633.5,31.6 634.4,32.7 635.8,32.4 C637.1,32.2 638.4,30.7 639.9,27.6 C641.4,24.5 643.1,19.8 644.8,14 C646.6,8.3 649.2,-2 650.4,-7 C651.6,-12 651.8,-13.4 652.2,-16.1 C652.7,-18.7 653.1,-22 653.3,-23.1" fill="none" stroke="#5a5a5a" stroke-width="1.7999999999999998" stroke-linecap="round" stroke-linejoin="round" />
<path d="M607.9,-20.9 C608.8,-18.7 611.3,-11.9 613.2,-7.4 C615.1,-2.9 617.3,1.6 619.4,6.2 C621.4,10.7 623.6,15.5 625.6,19.7 C627.7,23.9 630.1,28.8 631.8,31.3 C633.5,33.8 634.4,34.9 635.8,34.6 C637.1,34.4 638.4,32.9 639.9,29.8 C641.4,26.7 643.1,22 644.8,16.2 C646.6,10.5 649.2,0.2 650.4,-4.8 C651.6,-9.8 651.8,-11.2 652.2,-13.9 C652.7,-16.5 653.1,-19.8 653.3,-20.9" fill="none" stroke="#7c6666" stroke-width="1.35" stroke-linecap="round" stroke-linejoin="round" />
<path d="M617,-23.1 C617.6,-21.2 619.6,-15.7 620.9,-11.5 C622.3,-7.4 623.7,-2.9 625.2,2 C626.7,6.9 628.6,13.5 630,17.8 C631.4,22.1 632.6,25.3 633.6,27.6 C634.6,29.9 635,31.8 635.9,31.5 C636.8,31.3 637.9,29.3 639.3,26.1 C640.6,22.9 642.3,17.3 643.8,12.5 C645.3,7.8 646.8,2.8 648.3,-2.5 C649.9,-7.8 652,-15.6 653,-19.1 C654,-22.5 654,-22.5 654.2,-23.1" fill="none" stroke="#5a5a5a" stroke-width="1.7999999999999998" stroke-linecap="round" stroke-linejoin="round" />
<path d="M617,-20.9 C617.6,-19 619.6,-13.5 620.9,-9.3 C622.3,-5.2 623.7,-0.7 625.2,4.2 C626.7,9.1 628.6,15.7 630,20 C631.4,24.3 632.6,27.5 633.6,29.8 C634.6,32.1 635,34 635.9,33.7 C636.8,33.5 637.9,31.5 639.3,28.3 C640.6,25.1 642.3,19.5 643.8,14.7 C645.3,10 646.8,5 648.3,-0.3 C649.9,-5.6 652,-13.4 653,-16.9 C654,-20.3 654,-20.3 654.2,-20.9" fill="none" stroke="#7c6666" stroke-width="1.35" stroke-linecap="round" stroke-linejoin="round" />
<path d="M618.8,-23.1 C619.4,-21 621.4,-14.7 622.8,-10 C624.1,-5.3 625.6,0.1 627,5 C628.4,9.9 630,15.4 631.2,19.3 C632.4,23.2 633.4,26.5 634.2,28.3 C635,30.2 635.2,30.9 635.9,30.6 C636.6,30.4 637.5,29.4 638.6,26.8 C639.7,24.3 641.1,19.9 642.5,15.6 C643.9,11.2 645.5,5.5 647,0.5 C648.6,-4.5 650.3,-10.6 651.6,-14.6 C652.9,-18.5 654.3,-21.7 654.8,-23.1" fill="none" stroke="#5a5a5a" stroke-width="1.7999999999999998" stroke-linecap="round" stroke-linejoin="round" />
<path d="M618.8,-20.9 C619.4,-18.8 621.4,-12.5 622.8,-7.8 C624.1,-3.1 625.6,2.3 627,7.2 C628.4,12.1 630,17.6 631.2,21.5 C632.4,25.4 633.4,28.7 634.2,30.5 C635,32.4 635.2,33.1 635.9,32.8 C636.6,32.6 637.5,31.6 638.6,29 C639.7,26.5 641.1,22.1 642.5,17.8 C643.9,13.4 645.5,7.7 647,2.7 C648.6,-2.3 650.3,-8.4 651.6,-12.4 C652.9,-16.3 654.3,-19.5 654.8,-20.9" fill="none" stroke="#7c6666" stroke-width="1.35" stroke-linecap="round" stroke-linejoin="round" />
<path d="M458.7,-14.6 C459.5,-15.2 461.5,-17 463.1,-18.5 C464.8,-19.9 467.6,-22.4 468.5,-23.1" fill="none" stroke="#6e6e6e" stroke-width="1.7999999999999998" stroke-linecap="round" stroke-linejoin="round" />
<path d="M458.7,-12.4 C459.5,-13 461.5,-14.8 463.1,-16.3 C464.8,-17.7 467.6,-20.2 468.5,-20.9" fill="none" stroke="#7c6666" stroke-width="1.35" stroke-linecap="round" stroke-linejoin="round" />
<path d="M458.7,-10.6 C459.5,-11.3 461.5,-13.1 463.1,-14.6 C464.8,-16 467.6,-18.4 468.5,-19.2" fill="none" stroke="#6e6e6e" stroke-width="1.7999999999999998" stroke-linecap="round" stroke-linejoin="round" />
<path d="M458.7,-8.4 C459.5,-9.1 461.5,-10.9 463.1,-12.4 C464.8,-13.8 467.6,-16.2 468.5,-17" fill="none" stroke="#7c6666" stroke-width="1.35" stroke-linecap="round" stroke-linejoin="round" />
<path d="M458.7,-7 C459.2,-7.8 460.4,-10.2 461.4,-11.5 C462.5,-12.9 463.7,-14.3 465.1,-15.3 C466.5,-16.3 468.3,-16.9 470,-17.6 C471.6,-18.2 474,-18.8 474.8,-19.1" fill="none" stroke="#888888" stroke-width="1.7999999999999998" stroke-linecap="round" stroke-linejoin="round" />
<path d="M458.7,-4.8 C459.2,-5.6 460.4,-8 461.4,-9.3 C462.5,-10.7 463.7,-12.1 465.1,-13.1 C466.5,-14.1 468.3,-14.7 470,-15.4 C471.6,-16 474,-16.6 474.8,-16.9" fill="none" stroke="#9a8484" stroke-width="1.35" stroke-linecap="round" stroke-linejoin="round" />
<path d="M658.3,-19.2 C659.1,-18.3 661.2,-15.1 662.8,-13.5 C664.5,-11.9 666.8,-9.6 668.4,-9.6 C670.1,-9.6 671.3,-11.6 672.7,-13.5 C674.1,-15.4 676.2,-19.6 677,-21.2 C677.8,-22.8 677.5,-22.8 677.5,-23.1" fill="none" stroke="#5a5a5a" stroke-width="1.7999999999999998" stroke-linecap="round" stroke-linejoin="round" />
<path d="M658.3,-17 C659.1,-16.1 661.2,-12.9 662.8,-11.3 C664.5,-9.7 666.8,-7.4 668.4,-7.4 C670.1,-7.4 671.3,-9.4 672.7,-11.3 C674.1,-13.2 676.2,-17.4 677,-19 C677.8,-20.6 677.5,-20.6 677.5,-20.9" fill="none" stroke="#7c6666" stroke-width="1.35" stroke-linecap="round" stroke-linejoin="round" />
<path d="M669.9,0 C670.3,-0.1 671.8,-1.5 672.7,-0.9 C673.7,-0.2 674.6,1.9 675.6,4 C676.5,6.1 677.6,9.9 678.4,11.8 C679.2,13.7 680.1,14.9 680.4,15.6" fill="none" stroke="#5a5a5a" stroke-width="1.7999999999999998" stroke-linecap="round" stroke-linejoin="round" />
<path d="M669.9,2.2 C670.3,2.1 671.8,0.7 672.7,1.3 C673.7,2 674.6,4.1 675.6,6.2 C676.5,8.3 677.6,12.1 678.4,14 C679.2,15.9 680.1,17.1 680.4,17.8" fill="none" stroke="#7c6666" stroke-width="1.35" stroke-linecap="round" stroke-linejoin="round" />
<path d="M660,25.3 C660.2,26.9 660.7,33 661.4,35 C662.1,36.9 663.1,37.3 664.3,36.9 C665.4,36.6 666.8,34.6 668.4,33 C670.1,31.4 672.1,28.8 674.1,27.1 C676.1,25.5 679.4,24 680.4,23.4" fill="none" stroke="#5a5a5a" stroke-width="1.7999999999999998" stroke-linecap="round" stroke-linejoin="round" />
<path d="M660,27.5 C660.2,29.1 660.7,35.2 661.4,37.2 C662.1,39.1 663.1,39.5 664.3,39.1 C665.4,38.8 666.8,36.8 668.4,35.2 C670.1,33.6 672.1,31 674.1,29.3 C676.1,27.7 679.4,26.2 680.4,25.6" fill="none" stroke="#7c6666" stroke-width="1.35" stroke-linecap="round" stroke-linejoin="round" />
<path d="M658.1,48.7 C658.9,48.3 661.1,47.8 662.8,46.6 C664.6,45.3 666.7,43.2 668.4,41.1 C670.2,39.1 671.6,36.6 673.2,34.4 C674.7,32.1 676.3,29.2 677.5,27.6 C678.8,26 679.9,25.1 680.4,24.6" fill="none" stroke="#5a5a5a" stroke-width="1.7999999999999998" stroke-linecap="round" stroke-linejoin="round" />
<path d="M658.1,50.9 C658.9,50.5 661.1,50 662.8,48.8 C664.6,47.5 666.7,45.4 668.4,43.3 C670.2,41.3 671.6,38.8 673.2,36.6 C674.7,34.3 676.3,31.4 677.5,29.8 C678.8,28.2 679.9,27.3 680.4,26.8" fill="none" stroke="#7c6666" stroke-width="1.35" stroke-linecap="round" stroke-linejoin="round" />
<path d="M658.1,62.2 C658.9,61.5 661.4,59.7 662.8,57.7 C664.3,55.7 665.2,52.9 666.6,50.2 C667.9,47.4 670.2,42.7 671,41.1" fill="none" stroke="#5a5a5a" stroke-width="1.7999999999999998" stroke-linecap="round" stroke-linejoin="round" />
<path d="M658.1,64.4 C658.9,63.7 661.4,61.9 662.8,59.9 C664.3,57.9 665.2,55.1 666.6,52.4 C667.9,49.6 670.2,44.9 671,43.3" fill="none" stroke="#7c6666" stroke-width="1.35" stroke-linecap="round" stroke-linejoin="round" />
<path d="M593.1,-23.1 C594.4,-18.6 598.2,-5.4 600.8,4 C603.4,13.3 605.9,23.3 608.5,33 C611.1,42.7 614.3,54.6 616.4,62.1 C618.4,69.5 619.6,72.8 620.9,77.6 C622.3,82.4 623.2,86.6 624.6,90.8 C626,95 627.6,99.2 629.4,102.9 C631.2,106.5 633.5,112.4 635.5,112.7 C637.6,112.9 640,107.8 641.9,104.4 C643.7,101 645,97.8 646.7,92.3 C648.3,86.9 650,78.4 651.7,71.7 C653.4,65.1 655.4,58.9 656.8,52.4 C658.2,46 658.7,39.5 660,33 C661.2,26.5 662.9,19.4 664.3,13.6 C665.7,7.8 667,3.3 668.4,-1.9 C669.8,-7.1 671.6,-13.9 672.7,-17.4 C673.8,-21 674.7,-22.2 675.1,-23.1" fill="none" stroke="#5a5a5a" stroke-width="1.7999999999999998" stroke-linecap="round" stroke-linejoin="round" />
<path d="M593.1,-20.9 C594.4,-16.4 598.2,-3.2 600.8,6.2 C603.4,15.5 605.9,25.5 608.5,35.2 C611.1,44.9 614.3,56.8 616.4,64.3 C618.4,71.7 619.6,75 620.9,79.8 C622.3,84.6 623.2,88.8 624.6,93 C626,97.2 627.6,101.4 629.4,105.1 C631.2,108.7 633.5,114.6 635.5,114.9 C637.6,115.1 640,110 641.9,106.6 C643.7,103.2 645,100 646.7,94.5 C648.3,89.1 650,80.6 651.7,73.9 C653.4,67.3 655.4,61.1 656.8,54.6 C658.2,48.2 658.7,41.7 660,35.2 C661.2,28.7 662.9,21.6 664.3,15.8 C665.7,10 667,5.5 668.4,0.3 C669.8,-4.9 671.6,-11.7 672.7,-15.2 C673.8,-18.8 674.7,-20 675.1,-20.9" fill="none" stroke="#7c6666" stroke-width="1.35" stroke-linecap="round" stroke-linejoin="round" />
<path d="M595,-22.9 C596.3,-18.4 600.2,-5.2 602.7,4.2 C605.3,13.5 607.9,23.6 610.4,33.2 C613,42.9 616.2,54.9 618.3,62.3 C620.4,69.7 621.5,73 622.9,77.8 C624.2,82.6 625.1,86.8 626.5,91.1 C627.9,95.3 629.5,99.5 631.3,103.1 C633.2,106.7 635.5,112.6 637.6,112.9 C639.7,113.1 642.1,108 643.9,104.6 C645.8,101.2 647.1,98 648.7,92.6 C650.4,87.1 652.1,78.6 653.8,71.9 C655.5,65.3 657.5,59.1 658.9,52.7 C660.2,46.2 660.5,39.7 661.7,33.2 C662.9,26.8 664.6,19.6 666,13.8 C667.4,8 668.8,3.5 670.2,-1.7 C671.6,-6.9 673.4,-13.7 674.5,-17.2 C675.6,-20.7 676.5,-22 676.9,-22.9" fill="none" stroke="#5a5a5a" stroke-width="1.7999999999999998" stroke-linecap="round" stroke-linejoin="round" />
<path d="M595,-20.7 C596.3,-16.2 600.2,-3 602.7,6.4 C605.3,15.7 607.9,25.8 610.4,35.4 C613,45.1 616.2,57.1 618.3,64.5 C620.4,71.9 621.5,75.2 622.9,80 C624.2,84.8 625.1,89 626.5,93.3 C627.9,97.5 629.5,101.7 631.3,105.3 C633.2,108.9 635.5,114.8 637.6,115.1 C639.7,115.3 642.1,110.2 643.9,106.8 C645.8,103.4 647.1,100.2 648.7,94.8 C650.4,89.3 652.1,80.8 653.8,74.1 C655.5,67.5 657.5,61.3 658.9,54.9 C660.2,48.4 660.5,41.9 661.7,35.4 C662.9,29 664.6,21.8 666,16 C667.4,10.2 668.8,5.7 670.2,0.5 C671.6,-4.7 673.4,-11.5 674.5,-15 C675.6,-18.5 676.5,-19.8 676.9,-20.7" fill="none" stroke="#7c6666" stroke-width="1.35" stroke-linecap="round" stroke-linejoin="round" />
<path d="M596.9,-22.7 C598.2,-18.2 602.1,-4.9 604.7,4.4 C607.2,13.8 609.8,23.8 612.4,33.5 C615,43.2 618.1,55.1 620.2,62.5 C622.3,70 623.4,73.2 624.8,78 C626.2,82.8 627,87.1 628.4,91.3 C629.8,95.5 631.4,99.7 633.2,103.3 C635.1,107 637.5,112.9 639.6,113.1 C641.8,113.4 644.1,108.2 646,104.8 C647.9,101.4 649.2,98.2 650.8,92.8 C652.4,87.3 654.2,78.8 655.9,72.2 C657.5,65.5 659.5,59.3 660.7,52.9 C662,46.4 662.3,39.9 663.5,33.5 C664.7,27 666.4,19.9 667.8,14 C669.2,8.2 670.5,3.7 671.9,-1.5 C673.4,-6.6 675.1,-13.4 676.2,-17 C677.3,-20.5 678.2,-21.7 678.6,-22.7" fill="none" stroke="#5a5a5a" stroke-width="1.7999999999999998" stroke-linecap="round" stroke-linejoin="round" />
<path d="M596.9,-20.5 C598.2,-16 602.1,-2.7 604.7,6.6 C607.2,16 609.8,26 612.4,35.7 C615,45.4 618.1,57.3 620.2,64.7 C622.3,72.2 623.4,75.4 624.8,80.2 C626.2,85 627,89.3 628.4,93.5 C629.8,97.7 631.4,101.9 633.2,105.5 C635.1,109.2 637.5,115.1 639.6,115.3 C641.8,115.6 644.1,110.4 646,107 C647.9,103.6 649.2,100.4 650.8,95 C652.4,89.5 654.2,81 655.9,74.4 C657.5,67.7 659.5,61.5 660.7,55.1 C662,48.6 662.3,42.1 663.5,35.7 C664.7,29.2 666.4,22.1 667.8,16.2 C669.2,10.4 670.5,5.9 671.9,0.7 C673.4,-4.4 675.1,-11.2 676.2,-14.8 C677.3,-18.3 678.2,-19.5 678.6,-20.5" fill="none" stroke="#7c6666" stroke-width="1.35" stroke-linecap="round" stroke-linejoin="round" />
<path d="M604.7,-23.1 C605.2,-21 606.8,-14.6 607.7,-10 C608.6,-5.5 609.3,-0.8 610.1,4 C610.9,8.7 611.7,13.7 612.5,18.6 C613.3,23.4 614,28.2 614.8,33 C615.6,37.8 616.3,42.3 617.1,47.2 C617.8,52 618.7,57.1 619.4,62.1 C620.1,67.1 620.6,72.2 621.2,77.3 C621.8,82.3 622.2,88.6 622.9,92.3 C623.5,96.1 624.8,98.6 625.2,99.9" fill="none" stroke="#5a5a5a" stroke-width="1.7999999999999998" stroke-linecap="round" stroke-linejoin="round" />
<path d="M604.7,-20.9 C605.2,-18.8 606.8,-12.4 607.7,-7.8 C608.6,-3.3 609.3,1.4 610.1,6.2 C610.9,10.9 611.7,15.9 612.5,20.8 C613.3,25.6 614,30.4 614.8,35.2 C615.6,40 616.3,44.5 617.1,49.4 C617.8,54.2 618.7,59.3 619.4,64.3 C620.1,69.3 620.6,74.4 621.2,79.5 C621.8,84.5 622.2,90.8 622.9,94.5 C623.5,98.3 624.8,100.8 625.2,102.1" fill="none" stroke="#7c6666" stroke-width="1.35" stroke-linecap="round" stroke-linejoin="round" />
<path d="M458.7,76.7 C459.6,77.1 462.2,78 463.7,79.2 C465.2,80.5 466.4,82.1 467.8,84.2 C469.1,86.3 470.7,89.4 471.8,91.6 C472.9,93.8 473.3,97.1 474.3,97.3 C475.4,97.5 476.6,94.7 477.9,92.9 C479.1,91.2 480.6,88 481.9,86.6 C483.2,85.3 484.1,84.8 485.4,84.8 C486.8,84.8 488.4,85.5 489.9,86.6 C491.5,87.7 493.3,89.6 494.9,91.6 C496.6,93.6 498.4,97 499.9,98.5 C501.4,100.1 502.8,100.3 504,100.9 C505.2,101.5 505.9,101.2 507.1,102.1 C508.4,103.1 510,103.5 511.4,106.6 C512.7,109.8 513.9,117.4 515.3,120.9 C516.7,124.5 518.1,125.9 519.8,128 C521.5,130.1 523.7,132.3 525.4,133.7 C527.2,135.2 528.5,136.6 530,136.6 C531.5,136.6 532.9,135.4 534.6,133.7 C536.3,132.1 538.5,129 540.2,126.7 C541.9,124.3 543.4,122.2 544.6,119.4 C545.9,116.6 546.1,113.1 547.7,109.9 C549.2,106.8 551.8,103 553.8,100.3 C555.8,97.6 558,95.5 559.8,93.7 C561.5,91.9 562.8,91.6 564.3,89.6 C565.9,87.6 567.3,83.8 569.1,81.8 C570.9,79.8 573.1,78.5 575.1,77.6 C577.2,76.7 579.4,76 581.5,76.2 C583.6,76.4 585.9,77.5 587.8,78.8 C589.6,80.1 591.4,81.9 592.7,84.1 C594.1,86.2 594.7,89.2 596,91.6 C597.3,94 598.7,95.4 600.4,98.5 C602.2,101.6 604.8,105.8 606.6,109.9 C608.4,114.1 609.6,118.6 611.2,123.3 C612.7,128.1 614.2,133.6 615.8,138.7 C617.3,143.8 618.8,149.1 620.3,153.9 C621.9,158.7 623.4,163.5 624.9,167.3 C626.4,171.1 628,174.4 629.5,176.9 C631,179.5 633,181.6 634.1,182.7 C635.1,183.8 634.7,185.1 635.8,183.6 C636.9,182.1 639.3,176.8 640.6,173.6 C641.8,170.5 641.7,169.6 643.4,164.8 C645.1,159.9 648.4,150.7 650.5,144.4 C652.7,138.1 654.7,131 656.1,127 C657.6,122.9 657.5,121.5 659.2,120 C661,118.5 664.5,119.6 666.8,117.9 C669,116.2 670.7,112.3 672.7,109.8 C674.7,107.3 677.4,104.1 678.6,102.7 C679.9,101.4 680.1,101.8 680.4,101.7" fill="none" stroke="#5a5a5a" stroke-width="1.7999999999999998" stroke-linecap="round" stroke-linejoin="round" />
<path d="M458.7,78.9 C459.6,79.3 462.2,80.2 463.7,81.4 C465.2,82.7 466.4,84.3 467.8,86.4 C469.1,88.5 470.7,91.6 471.8,93.8 C472.9,96 473.3,99.3 474.3,99.5 C475.4,99.7 476.6,96.9 477.9,95.1 C479.1,93.4 480.6,90.2 481.9,88.8 C483.2,87.5 484.1,87 485.4,87 C486.8,87 488.4,87.7 489.9,88.8 C491.5,89.9 493.3,91.8 494.9,93.8 C496.6,95.8 498.4,99.2 499.9,100.7 C501.4,102.3 502.8,102.5 504,103.1 C505.2,103.7 505.9,103.4 507.1,104.3 C508.4,105.3 510,105.7 511.4,108.8 C512.7,112 513.9,119.6 515.3,123.1 C516.7,126.7 518.1,128.1 519.8,130.2 C521.5,132.3 523.7,134.5 525.4,135.9 C527.2,137.4 528.5,138.8 530,138.8 C531.5,138.8 532.9,137.6 534.6,135.9 C536.3,134.3 538.5,131.2 540.2,128.9 C541.9,126.5 543.4,124.4 544.6,121.6 C545.9,118.8 546.1,115.3 547.7,112.1 C549.2,109 551.8,105.2 553.8,102.5 C555.8,99.8 558,97.7 559.8,95.9 C561.5,94.1 562.8,93.8 564.3,91.8 C565.9,89.8 567.3,86 569.1,84 C570.9,82 573.1,80.7 575.1,79.8 C577.2,78.9 579.4,78.2 581.5,78.4 C583.6,78.6 585.9,79.7 587.8,81 C589.6,82.3 591.4,84.1 592.7,86.3 C594.1,88.4 594.7,91.4 596,93.8 C597.3,96.2 598.7,97.6 600.4,100.7 C602.2,103.8 604.8,108 606.6,112.1 C608.4,116.3 609.6,120.8 611.2,125.5 C612.7,130.3 614.2,135.8 615.8,140.9 C617.3,146 618.8,151.3 620.3,156.1 C621.9,160.9 623.4,165.7 624.9,169.5 C626.4,173.3 628,176.6 629.5,179.1 C631,181.7 633,183.8 634.1,184.9 C635.1,186 634.7,187.3 635.8,185.8 C636.9,184.3 639.3,179 640.6,175.8 C641.8,172.7 641.7,171.8 643.4,167 C645.1,162.1 648.4,152.9 650.5,146.6 C652.7,140.3 654.7,133.2 656.1,129.2 C657.6,125.1 657.5,123.7 659.2,122.2 C661,120.7 664.5,121.8 666.8,120.1 C669,118.4 670.7,114.5 672.7,112 C674.7,109.5 677.4,106.3 678.6,104.9 C679.9,103.6 680.1,104 680.4,103.9" fill="none" stroke="#7c6666" stroke-width="1.35" stroke-linecap="round" stroke-linejoin="round" />
<path d="M458.7,79.1 C459.6,79.5 462.2,80.4 463.7,81.6 C465.2,82.9 466.4,84.6 467.8,86.6 C469.1,88.7 470.7,91.8 471.8,94 C472.9,96.2 473.3,99.5 474.3,99.7 C475.4,99.9 476.6,97.1 477.9,95.3 C479.1,93.6 480.6,90.4 481.9,89 C483.2,87.7 484.1,87.2 485.4,87.2 C486.8,87.2 488.4,87.9 489.9,89 C491.5,90.2 493.3,92 494.9,94 C496.6,96 498.4,99.4 499.9,100.9 C501.4,102.5 502.8,102.7 504,103.3 C505.2,103.9 505.9,103.6 507.1,104.5 C508.4,105.5 510,105.9 511.4,109 C512.7,112.2 513.9,119.8 515.3,123.3 C516.7,126.9 518.1,128.3 519.8,130.4 C521.5,132.6 523.7,134.7 525.4,136.1 C527.2,137.6 528.5,139 530,139 C531.5,139 532.9,137.8 534.6,136.1 C536.3,134.5 538.5,131.5 540.2,129.1 C541.9,126.7 543.4,124.6 544.6,121.8 C545.9,119.1 546.1,115.5 547.7,112.4 C549.2,109.2 551.8,105.4 553.8,102.7 C555.8,100 558,97.9 559.8,96.1 C561.5,94.3 562.8,94 564.3,92 C565.9,90.1 567.3,86.2 569.1,84.2 C570.9,82.2 573.1,80.9 575.1,80 C577.2,79.1 579.4,78.4 581.5,78.6 C583.6,78.8 585.9,79.9 587.8,81.2 C589.6,82.5 591.4,84.3 592.7,86.5 C594.1,88.6 594.7,91.6 596,94 C597.3,96.4 598.7,97.9 600.4,100.9 C602.2,104 604.8,108.2 606.6,112.4 C608.4,116.5 609.6,121 611.2,125.8 C612.7,130.6 614.2,136 615.8,141.1 C617.3,146.2 618.8,151.6 620.3,156.3 C621.9,161.1 623.4,165.9 624.9,169.7 C626.4,173.6 628,176.8 629.5,179.4 C631,181.9 633,184 634.1,185.1 C635.1,186.2 634.7,187.5 635.8,186 C636.9,184.5 639.3,179.2 640.6,176 C641.8,172.9 641.7,172 643.4,167.2 C645.1,162.3 648.4,153.1 650.5,146.8 C652.7,140.5 654.7,133.4 656.1,129.4 C657.6,125.3 657.5,124 659.2,122.4 C661,120.9 664.5,122 666.8,120.3 C669,118.6 670.7,114.7 672.7,112.2 C674.7,109.7 677.4,106.5 678.6,105.1 C679.9,103.8 680.1,104.3 680.4,104.1" fill="none" stroke="#5a5a5a" stroke-width="1.7999999999999998" stroke-linecap="round" stroke-linejoin="round" />
<path d="M458.7,81.3 C459.6,81.7 462.2,82.6 463.7,83.8 C465.2,85.1 466.4,86.8 467.8,88.8 C469.1,90.9 470.7,94 471.8,96.2 C472.9,98.4 473.3,101.7 474.3,101.9 C475.4,102.1 476.6,99.3 477.9,97.5 C479.1,95.8 480.6,92.6 481.9,91.2 C483.2,89.9 484.1,89.4 485.4,89.4 C486.8,89.4 488.4,90.1 489.9,91.2 C491.5,92.4 493.3,94.2 494.9,96.2 C496.6,98.2 498.4,101.6 499.9,103.1 C501.4,104.7 502.8,104.9 504,105.5 C505.2,106.1 505.9,105.8 507.1,106.7 C508.4,107.7 510,108.1 511.4,111.2 C512.7,114.4 513.9,122 515.3,125.5 C516.7,129.1 518.1,130.5 519.8,132.6 C521.5,134.8 523.7,136.9 525.4,138.3 C527.2,139.8 528.5,141.2 530,141.2 C531.5,141.2 532.9,140 534.6,138.3 C536.3,136.7 538.5,133.7 540.2,131.3 C541.9,128.9 543.4,126.8 544.6,124 C545.9,121.3 546.1,117.7 547.7,114.6 C549.2,111.4 551.8,107.6 553.8,104.9 C555.8,102.2 558,100.1 559.8,98.3 C561.5,96.5 562.8,96.2 564.3,94.2 C565.9,92.3 567.3,88.4 569.1,86.4 C570.9,84.4 573.1,83.1 575.1,82.2 C577.2,81.3 579.4,80.6 581.5,80.8 C583.6,81 585.9,82.1 587.8,83.4 C589.6,84.7 591.4,86.5 592.7,88.7 C594.1,90.8 594.7,93.8 596,96.2 C597.3,98.6 598.7,100.1 600.4,103.1 C602.2,106.2 604.8,110.4 606.6,114.6 C608.4,118.7 609.6,123.2 611.2,128 C612.7,132.8 614.2,138.2 615.8,143.3 C617.3,148.4 618.8,153.8 620.3,158.5 C621.9,163.3 623.4,168.1 624.9,171.9 C626.4,175.8 628,179 629.5,181.6 C631,184.1 633,186.2 634.1,187.3 C635.1,188.4 634.7,189.7 635.8,188.2 C636.9,186.7 639.3,181.4 640.6,178.2 C641.8,175.1 641.7,174.2 643.4,169.4 C645.1,164.5 648.4,155.3 650.5,149 C652.7,142.7 654.7,135.6 656.1,131.6 C657.6,127.5 657.5,126.2 659.2,124.6 C661,123.1 664.5,124.2 666.8,122.5 C669,120.8 670.7,116.9 672.7,114.4 C674.7,111.9 677.4,108.7 678.6,107.3 C679.9,106 680.1,106.5 680.4,106.3" fill="none" stroke="#7c6666" stroke-width="1.35" stroke-linecap="round" stroke-linejoin="round" />
<path d="M519.8,130.7 C520.7,131.9 523.7,135.8 525.4,137.5 C527.2,139.2 528.5,141 530,141 C531.5,141 533,139.3 534.6,137.5 C536.1,135.7 538.4,131.2 539.1,130" fill="none" stroke="#888888" stroke-width="1.7999999999999998" stroke-linecap="round" stroke-linejoin="round" />
<path d="M519.8,132.9 C520.7,134.1 523.7,138 525.4,139.7 C527.2,141.4 528.5,143.2 530,143.2 C531.5,143.2 533,141.5 534.6,139.7 C536.1,137.9 538.4,133.4 539.1,132.2" fill="none" stroke="#9a8484" stroke-width="1.35" stroke-linecap="round" stroke-linejoin="round" />
<path d="M521.9,128.9 C522.9,130 525.9,134 527.6,135.7 C529.3,137.4 530.6,139.2 532.2,139.2 C533.7,139.2 535.2,137.5 536.7,135.7 C538.2,133.9 540.5,129.4 541.3,128.2" fill="none" stroke="#6e6e6e" stroke-width="1.35" stroke-linecap="round" stroke-linejoin="round" />
<path d="M474.3,97.3 C475.1,97.3 477.3,97 478.9,97.3 C480.4,97.6 482,98.7 483.8,99.1 C485.7,99.5 487.9,99.7 489.9,99.7 C492,99.7 493.9,99 495.9,99.1 C497.9,99.2 500.2,99.9 502,100.3 C503.8,100.7 505.8,101.2 506.5,101.4" fill="none" stroke="#6e6e6e" stroke-width="1.7999999999999998" stroke-linecap="round" stroke-linejoin="round" />
<path d="M474.3,99.5 C475.1,99.5 477.3,99.2 478.9,99.5 C480.4,99.8 482,100.9 483.8,101.3 C485.7,101.7 487.9,101.9 489.9,101.9 C492,101.9 493.9,101.2 495.9,101.3 C497.9,101.4 500.2,102.1 502,102.5 C503.8,102.9 505.8,103.4 506.5,103.6" fill="none" stroke="#7c6666" stroke-width="1.35" stroke-linecap="round" stroke-linejoin="round" />
<path d="M581.5,76.2 C582.2,76.9 584.6,79 586,80.3 C587.3,81.6 587.8,82.3 589.5,84.1 C591.1,85.8 593.5,88.7 595.9,90.8 C598.2,92.9 601.2,94 603.5,96.6 C605.7,99.1 607.8,102.3 609.6,106.2 C611.4,110 612.7,114.8 614.2,119.6 C615.7,124.4 617.2,129.7 618.8,134.8 C620.3,139.9 621.8,145.4 623.4,150.1 C624.9,154.9 626.4,159.4 627.9,163.5 C629.5,167.7 631.3,172 632.6,175 C633.9,178 635.3,180.4 635.8,181.5" fill="none" stroke="#5a5a5a" stroke-width="1.7999999999999998" stroke-linecap="round" stroke-linejoin="round" />
<path d="M581.5,78.4 C582.2,79.1 584.6,81.2 586,82.5 C587.3,83.8 587.8,84.5 589.5,86.3 C591.1,88 593.5,90.9 595.9,93 C598.2,95.1 601.2,96.2 603.5,98.8 C605.7,101.3 607.8,104.5 609.6,108.4 C611.4,112.2 612.7,117 614.2,121.8 C615.7,126.6 617.2,131.9 618.8,137 C620.3,142.1 621.8,147.6 623.4,152.3 C624.9,157.1 626.4,161.6 627.9,165.7 C629.5,169.9 631.3,174.2 632.6,177.2 C633.9,180.2 635.3,182.6 635.8,183.7" fill="none" stroke="#7c6666" stroke-width="1.35" stroke-linecap="round" stroke-linejoin="round" />
<path d="M583.7,74.4 C584.4,75.1 586.8,77.2 588.1,78.5 C589.5,79.8 590,80.5 591.6,82.2 C593.3,84 595.7,86.9 598,89 C600.4,91.1 603.3,92.2 605.6,94.7 C607.9,97.3 610,100.5 611.8,104.4 C613.6,108.2 614.8,113 616.4,117.8 C617.9,122.5 619.4,127.9 620.9,133 C622.5,138.1 624,143.5 625.5,148.3 C627.1,153.1 628.6,157.6 630.1,161.7 C631.7,165.9 633.5,170.2 634.8,173.2 C636.1,176.2 637.5,178.6 638.1,179.7" fill="none" stroke="#6e6e6e" stroke-width="1.35" stroke-linecap="round" stroke-linejoin="round" />
<path d="M541.5,148.2 C542.5,146 545.6,139.3 547.7,134.8 C549.7,130.3 551.8,125.5 553.8,121.4 C555.8,117.3 558,113.8 559.8,109.9 C561.5,106.1 563.1,101.7 564.3,98.5 C565.6,95.3 566.3,93.4 567.5,90.8 C568.7,88.3 570.1,85.3 571.5,83.3 C573,81.3 574.7,79.7 576.3,78.8 C578,77.9 580.6,77.9 581.5,77.7" fill="none" stroke="#5a5a5a" stroke-width="1.7999999999999998" stroke-linecap="round" stroke-linejoin="round" />
<path d="M541.5,150.4 C542.5,148.2 545.6,141.5 547.7,137 C549.7,132.5 551.8,127.7 553.8,123.6 C555.8,119.5 558,116 559.8,112.1 C561.5,108.3 563.1,103.9 564.3,100.7 C565.6,97.5 566.3,95.6 567.5,93 C568.7,90.5 570.1,87.5 571.5,85.5 C573,83.5 574.7,81.9 576.3,81 C578,80.1 580.6,80.1 581.5,79.9" fill="none" stroke="#7c6666" stroke-width="1.35" stroke-linecap="round" stroke-linejoin="round" />
<path d="M458.7,76.7 C459.6,77.3 462.2,78.6 463.9,80.4 C465.5,82.3 467.4,85.3 468.9,88 C470.4,90.7 471.7,93.9 472.9,96.6 C474,99.2 474.8,101.4 475.8,104.1 C476.8,106.8 477.8,109.9 478.9,112.8 C479.9,115.7 480.9,118.5 481.9,121.4 C482.9,124.3 484,127 484.9,130.1 C485.9,133.2 486.9,136.8 487.9,140.1 C488.9,143.3 489.9,146.3 490.9,149.5 C491.9,152.8 492.8,156.1 493.7,159.3 C494.6,162.6 495.3,165.7 496.2,169.1 C497,172.5 497.8,176.4 498.6,179.7 C499.3,182.9 500,185.7 500.7,188.7 C501.3,191.7 502,194.9 502.6,197.7 C503.2,200.5 504,204.2 504.3,205.6" fill="none" stroke="#5a5a5a" stroke-width="1.7999999999999998" stroke-linecap="round" stroke-linejoin="round" />
<path d="M458.7,78.9 C459.6,79.5 462.2,80.8 463.9,82.6 C465.5,84.5 467.4,87.5 468.9,90.2 C470.4,92.9 471.7,96.1 472.9,98.8 C474,101.4 474.8,103.6 475.8,106.3 C476.8,109 477.8,112.1 478.9,115 C479.9,117.9 480.9,120.7 481.9,123.6 C482.9,126.5 484,129.2 484.9,132.3 C485.9,135.4 486.9,139 487.9,142.3 C488.9,145.5 489.9,148.5 490.9,151.7 C491.9,155 492.8,158.3 493.7,161.5 C494.6,164.8 495.3,167.9 496.2,171.3 C497,174.7 497.8,178.6 498.6,181.9 C499.3,185.1 500,187.9 500.7,190.9 C501.3,193.9 502,197.1 502.6,199.9 C503.2,202.7 504,206.4 504.3,207.8" fill="none" stroke="#7c6666" stroke-width="1.35" stroke-linecap="round" stroke-linejoin="round" />
<path d="M459.8,76.7 C460.7,77.3 463.3,78.6 465,80.4 C466.6,82.3 468.5,85.3 470,88 C471.5,90.7 472.8,93.9 474,96.6 C475.1,99.2 475.9,101.4 476.9,104.1 C477.9,106.8 478.9,109.9 479.9,112.8 C481,115.7 482,118.5 483,121.4 C484,124.3 485,127 486,130.1 C487,133.2 488,136.8 489,140.1 C490,143.3 491,146.3 492,149.5 C493,152.8 493.9,156.1 494.8,159.3 C495.7,162.6 496.4,165.7 497.3,169.1 C498.1,172.5 498.9,176.4 499.7,179.7 C500.4,182.9 501.1,185.7 501.8,188.7 C502.4,191.7 503.1,194.9 503.7,197.7 C504.3,200.5 505.1,204.2 505.4,205.6" fill="none" stroke="#5a5a5a" stroke-width="1.7999999999999998" stroke-linecap="round" stroke-linejoin="round" />
<path d="M459.8,78.9 C460.7,79.5 463.3,80.8 465,82.6 C466.6,84.5 468.5,87.5 470,90.2 C471.5,92.9 472.8,96.1 474,98.8 C475.1,101.4 475.9,103.6 476.9,106.3 C477.9,109 478.9,112.1 479.9,115 C481,117.9 482,120.7 483,123.6 C484,126.5 485,129.2 486,132.3 C487,135.4 488,139 489,142.3 C490,145.5 491,148.5 492,151.7 C493,155 493.9,158.3 494.8,161.5 C495.7,164.8 496.4,167.9 497.3,171.3 C498.1,174.7 498.9,178.6 499.7,181.9 C500.4,185.1 501.1,187.9 501.8,190.9 C502.4,193.9 503.1,197.1 503.7,199.9 C504.3,202.7 505.1,206.4 505.4,207.8" fill="none" stroke="#7c6666" stroke-width="1.35" stroke-linecap="round" stroke-linejoin="round" />
<path d="M460.9,76.7 C461.8,77.3 464.4,78.6 466.1,80.4 C467.7,82.3 469.5,85.3 471.1,88 C472.6,90.7 473.9,93.9 475.1,96.6 C476.2,99.2 477,101.4 478,104.1 C479,106.8 480,109.9 481,112.8 C482.1,115.7 483.1,118.5 484.1,121.4 C485.1,124.3 486.1,127 487.1,130.1 C488.1,133.2 489.1,136.8 490.1,140.1 C491.1,143.3 492.1,146.3 493.1,149.5 C494.1,152.8 495,156.1 495.9,159.3 C496.8,162.6 497.5,165.7 498.4,169.1 C499.2,172.5 500,176.4 500.8,179.7 C501.5,182.9 502.2,185.7 502.9,188.7 C503.5,191.7 504.2,194.9 504.8,197.7 C505.4,200.5 506.2,204.2 506.5,205.6" fill="none" stroke="#5a5a5a" stroke-width="1.7999999999999998" stroke-linecap="round" stroke-linejoin="round" />
<path d="M460.9,78.9 C461.8,79.5 464.4,80.8 466.1,82.6 C467.7,84.5 469.5,87.5 471.1,90.2 C472.6,92.9 473.9,96.1 475.1,98.8 C476.2,101.4 477,103.6 478,106.3 C479,109 480,112.1 481,115 C482.1,117.9 483.1,120.7 484.1,123.6 C485.1,126.5 486.1,129.2 487.1,132.3 C488.1,135.4 489.1,139 490.1,142.3 C491.1,145.5 492.1,148.5 493.1,151.7 C494.1,155 495,158.3 495.9,161.5 C496.8,164.8 497.5,167.9 498.4,171.3 C499.2,174.7 500,178.6 500.8,181.9 C501.5,185.1 502.2,187.9 502.9,190.9 C503.5,193.9 504.2,197.1 504.8,199.9 C505.4,202.7 506.2,206.4 506.5,207.8" fill="none" stroke="#7c6666" stroke-width="1.35" stroke-linecap="round" stroke-linejoin="round" />
<path d="M458.7,74.3 C459.4,73.8 461.1,71.9 462.6,71.3 C464.1,70.6 465.8,69.9 467.8,70.4 C469.7,70.8 472.5,72 474.5,74 C476.4,75.9 478.3,79.4 479.5,82.2 C480.7,85.1 481.1,88 481.7,90.8 C482.2,93.6 482.5,96.1 482.9,99.1 C483.3,102.1 483.4,105.5 484.1,109 C484.8,112.6 486.1,116.7 486.9,120.2 C487.7,123.7 488.3,126.8 489,130.1 C489.6,133.4 490.3,136.9 490.9,140.1 C491.6,143.2 492.1,145.6 492.9,148.8 C493.6,152 494.6,155.7 495.6,159.3 C496.5,163 497.5,167 498.4,170.6 C499.2,174.3 499.9,177.4 500.7,181.2 C501.5,184.9 502.4,189.1 503.1,193.2 C503.8,197.3 504.7,203.5 505.1,205.6" fill="none" stroke="#888888" stroke-width="1.7999999999999998" stroke-linecap="round" stroke-linejoin="round" />
<path d="M458.7,76.5 C459.4,76 461.1,74.1 462.6,73.5 C464.1,72.8 465.8,72.1 467.8,72.6 C469.7,73 472.5,74.2 474.5,76.2 C476.4,78.1 478.3,81.6 479.5,84.4 C480.7,87.3 481.1,90.2 481.7,93 C482.2,95.8 482.5,98.3 482.9,101.3 C483.3,104.3 483.4,107.7 484.1,111.2 C484.8,114.8 486.1,118.9 486.9,122.4 C487.7,125.9 488.3,129 489,132.3 C489.6,135.6 490.3,139.1 490.9,142.3 C491.6,145.4 492.1,147.8 492.9,151 C493.6,154.2 494.6,157.9 495.6,161.5 C496.5,165.2 497.5,169.2 498.4,172.8 C499.2,176.5 499.9,179.6 500.7,183.4 C501.5,187.1 502.4,191.3 503.1,195.4 C503.8,199.5 504.7,205.7 505.1,207.8" fill="none" stroke="#9a8484" stroke-width="1.35" stroke-linecap="round" stroke-linejoin="round" />
<path d="M460.9,72.5 C461.6,72 463.3,70.1 464.8,69.5 C466.3,68.8 468,68.1 470,68.5 C471.9,69 474.7,70.2 476.7,72.2 C478.6,74.1 480.5,77.6 481.7,80.4 C482.9,83.3 483.3,86.2 483.8,89 C484.4,91.8 484.7,94.3 485.1,97.3 C485.5,100.3 485.6,103.7 486.3,107.2 C487,110.8 488.3,114.9 489.1,118.4 C489.9,121.9 490.5,125 491.2,128.3 C491.8,131.6 492.5,135.1 493.1,138.3 C493.8,141.4 494.3,143.8 495.1,147 C495.8,150.2 496.8,153.9 497.7,157.5 C498.7,161.2 499.7,165.2 500.5,168.8 C501.4,172.5 502.1,175.6 502.9,179.4 C503.7,183.1 504.6,187.3 505.3,191.4 C506,195.5 506.9,201.7 507.2,203.7" fill="none" stroke="#6e6e6e" stroke-width="1.35" stroke-linecap="round" stroke-linejoin="round" />
<path d="M506.5,101.2 C505.8,101.2 503.4,100 502,100.9 C500.6,101.8 499.3,104.1 498,106.5 C496.6,108.9 495.1,112.3 494,115.2 C492.8,118.1 491.8,121 490.9,124 C490.1,126.9 489.5,130.2 489,132.7 C488.5,135.2 488.3,136.5 487.9,138.9 C487.4,141.2 487,143.7 486.4,146.5 C485.9,149.3 485.3,152.3 484.6,155.6 C483.9,158.8 483,162.6 482.1,166.1 C481.3,169.6 480.1,174.9 479.7,176.6" fill="none" stroke="#6e6e6e" stroke-width="1.7999999999999998" stroke-linecap="round" stroke-linejoin="round" />
<path d="M506.5,103.4 C505.8,103.4 503.4,102.2 502,103.1 C500.6,104 499.3,106.3 498,108.7 C496.6,111.1 495.1,114.5 494,117.4 C492.8,120.3 491.8,123.2 490.9,126.2 C490.1,129.1 489.5,132.4 489,134.9 C488.5,137.4 488.3,138.7 487.9,141.1 C487.4,143.4 487,145.9 486.4,148.7 C485.9,151.5 485.3,154.5 484.6,157.8 C483.9,161 483,164.8 482.1,168.3 C481.3,171.8 480.1,177.1 479.7,178.8" fill="none" stroke="#7c6666" stroke-width="1.35" stroke-linecap="round" stroke-linejoin="round" />
<path d="M508.7,99.4 C508,99.4 505.6,98.2 504.2,99.1 C502.8,100 501.5,102.3 500.2,104.7 C498.8,107.1 497.3,110.5 496.2,113.4 C495,116.3 493.9,119.2 493.1,122.1 C492.3,125.1 491.7,128.4 491.2,130.9 C490.7,133.4 490.5,134.7 490.1,137 C489.6,139.4 489.2,141.9 488.6,144.7 C488.1,147.5 487.5,150.5 486.8,153.8 C486.1,157 485.1,160.8 484.3,164.3 C483.5,167.8 482.3,173.1 481.9,174.8" fill="none" stroke="#6e6e6e" stroke-width="1.35" stroke-linecap="round" stroke-linejoin="round" />
<path d="M458.7,111.5 C459.2,111.9 460.6,112.6 461.8,114 C463,115.5 464.5,117.9 465.8,120.2 C467.2,122.5 468.5,125 469.8,127.7 C471.2,130.4 472.7,133.6 473.9,136.3 C475,139 476.1,141.6 476.9,143.8 C477.7,146 478.1,146.2 478.9,149.5 C479.6,152.9 480.4,159.8 481.4,164 C482.5,168.2 483.9,171 485.2,174.5 C486.4,178 487.5,181.4 489,185.1 C490.4,188.8 492.3,193.2 493.7,196.7 C495.1,200.2 496.9,204.4 497.5,206" fill="none" stroke="#5a5a5a" stroke-width="1.7999999999999998" stroke-linecap="round" stroke-linejoin="round" />
<path d="M458.7,113.7 C459.2,114.1 460.6,114.8 461.8,116.2 C463,117.7 464.5,120.1 465.8,122.4 C467.2,124.7 468.5,127.2 469.8,129.9 C471.2,132.6 472.7,135.8 473.9,138.5 C475,141.2 476.1,143.8 476.9,146 C477.7,148.2 478.1,148.4 478.9,151.7 C479.6,155.1 480.4,162 481.4,166.2 C482.5,170.4 483.9,173.2 485.2,176.7 C486.4,180.2 487.5,183.6 489,187.3 C490.4,191 492.3,195.4 493.7,198.9 C495.1,202.4 496.9,206.6 497.5,208.2" fill="none" stroke="#7c6666" stroke-width="1.35" stroke-linecap="round" stroke-linejoin="round" />
<path d="M460.2,111.5 C460.7,111.9 462.1,112.6 463.3,114 C464.4,115.5 465.9,117.9 467.3,120.2 C468.6,122.5 470,125 471.3,127.7 C472.6,130.4 474.1,133.6 475.3,136.3 C476.5,139 477.5,141.6 478.4,143.8 C479.2,146 479.6,146.2 480.3,149.5 C481.1,152.9 481.8,159.8 482.9,164 C483.9,168.2 485.4,171 486.7,174.5 C487.9,178 489,181.4 490.4,185.1 C491.9,188.8 493.8,193.2 495.2,196.7 C496.6,200.2 498.3,204.4 499,206" fill="none" stroke="#5a5a5a" stroke-width="1.7999999999999998" stroke-linecap="round" stroke-linejoin="round" />
<path d="M460.2,113.7 C460.7,114.1 462.1,114.8 463.3,116.2 C464.4,117.7 465.9,120.1 467.3,122.4 C468.6,124.7 470,127.2 471.3,129.9 C472.6,132.6 474.1,135.8 475.3,138.5 C476.5,141.2 477.5,143.8 478.4,146 C479.2,148.2 479.6,148.4 480.3,151.7 C481.1,155.1 481.8,162 482.9,166.2 C483.9,170.4 485.4,173.2 486.7,176.7 C487.9,180.2 489,183.6 490.4,187.3 C491.9,191 493.8,195.4 495.2,198.9 C496.6,202.4 498.3,206.6 499,208.2" fill="none" stroke="#7c6666" stroke-width="1.35" stroke-linecap="round" stroke-linejoin="round" />
<path d="M458.7,143.8 C459.2,142.2 460.6,137.2 461.8,133.9 C463,130.6 464.5,127.3 465.8,124 C467.2,120.6 468.7,117.1 469.8,114 C471,110.9 472,107.1 472.9,105.3 C473.7,103.4 474.5,103.3 474.8,102.9" fill="none" stroke="#5a5a5a" stroke-width="1.7999999999999998" stroke-linecap="round" stroke-linejoin="round" />
<path d="M458.7,146 C459.2,144.4 460.6,139.4 461.8,136.1 C463,132.8 464.5,129.5 465.8,126.2 C467.2,122.8 468.7,119.3 469.8,116.2 C471,113.1 472,109.3 472.9,107.5 C473.7,105.6 474.5,105.5 474.8,105.1" fill="none" stroke="#7c6666" stroke-width="1.35" stroke-linecap="round" stroke-linejoin="round" />
<path d="M460.9,142 C461.4,140.4 462.8,135.4 464,132.1 C465.2,128.8 466.7,125.5 468,122.1 C469.3,118.8 470.8,115.3 472,112.2 C473.2,109.1 474.2,105.3 475.1,103.5 C475.9,101.6 476.7,101.5 477,101.1" fill="none" stroke="#6e6e6e" stroke-width="1.35" stroke-linecap="round" stroke-linejoin="round" />
<path d="M471.8,131.3 C472.6,131.2 475.4,130.6 476.9,130.7 C478.4,130.9 479.8,131.4 480.9,132.1 C482.1,132.8 483.4,134.6 483.8,135.1" fill="none" stroke="#888888" stroke-width="1.7999999999999998" stroke-linecap="round" stroke-linejoin="round" />
<path d="M471.8,133.5 C472.6,133.4 475.4,132.8 476.9,132.9 C478.4,133.1 479.8,133.6 480.9,134.3 C482.1,135 483.4,136.8 483.8,137.3" fill="none" stroke="#9a8484" stroke-width="1.35" stroke-linecap="round" stroke-linejoin="round" />
<path d="M474,129.5 C474.8,129.4 477.6,128.8 479.1,128.9 C480.6,129 482,129.5 483.1,130.3 C484.3,131 485.6,132.8 486,133.3" fill="none" stroke="#6e6e6e" stroke-width="1.35" stroke-linecap="round" stroke-linejoin="round" />
<path d="M458.7,121.4 C459.4,122.2 461.3,124.1 462.8,126.4 C464.3,128.6 466.4,132.4 467.8,135.1 C469.1,137.8 470,140.2 470.8,142.6 C471.7,145 472.1,146.9 472.9,149.5 C473.7,152.2 474.6,156.2 475.4,158.6 C476.2,161 476.7,161.5 477.6,164 C478.5,166.5 479.8,170 480.9,173.6 C482.1,177.2 483.4,181.7 484.6,185.7 C485.8,189.7 487.2,194.4 488.2,197.7 C489.3,201 490.3,204.2 490.7,205.6" fill="none" stroke="#6e6e6e" stroke-width="1.7999999999999998" stroke-linecap="round" stroke-linejoin="round" />
<path d="M458.7,123.6 C459.4,124.4 461.3,126.3 462.8,128.6 C464.3,130.8 466.4,134.6 467.8,137.3 C469.1,140 470,142.4 470.8,144.8 C471.7,147.2 472.1,149.1 472.9,151.7 C473.7,154.4 474.6,158.4 475.4,160.8 C476.2,163.2 476.7,163.7 477.6,166.2 C478.5,168.7 479.8,172.2 480.9,175.8 C482.1,179.4 483.4,183.9 484.6,187.9 C485.8,191.9 487.2,196.6 488.2,199.9 C489.3,203.2 490.3,206.4 490.7,207.8" fill="none" stroke="#7c6666" stroke-width="1.35" stroke-linecap="round" stroke-linejoin="round" />
<path d="M460.9,119.6 C461.6,120.4 463.5,122.3 465,124.6 C466.5,126.8 468.6,130.6 470,133.3 C471.3,136 472.1,138.4 473,140.8 C473.9,143.2 474.3,145.1 475.1,147.7 C475.8,150.4 476.8,154.4 477.6,156.8 C478.4,159.2 478.9,159.7 479.8,162.2 C480.7,164.7 482,168.2 483.1,171.8 C484.3,175.4 485.6,179.9 486.8,183.9 C488,187.9 489.4,192.6 490.4,195.9 C491.4,199.2 492.5,202.4 492.9,203.7" fill="none" stroke="#6e6e6e" stroke-width="1.35" stroke-linecap="round" stroke-linejoin="round" />
<path d="M459.7,159.3 C460.5,158.8 462.6,157.2 464.3,155.9 C466.1,154.5 468,152.4 470.1,151.2 C472.1,150 474.6,149 476.7,148.8 C478.7,148.6 481.4,149.8 482.4,150" fill="none" stroke="#888888" stroke-width="1.7999999999999998" stroke-linecap="round" stroke-linejoin="round" />
<path d="M459.7,161.5 C460.5,161 462.6,159.4 464.3,158.1 C466.1,156.7 468,154.6 470.1,153.4 C472.1,152.2 474.6,151.2 476.7,151 C478.7,150.8 481.4,152 482.4,152.2" fill="none" stroke="#9a8484" stroke-width="1.35" stroke-linecap="round" stroke-linejoin="round" />
<path d="M461.9,157.5 C462.7,156.9 464.8,155.4 466.5,154.1 C468.3,152.7 470.2,150.6 472.3,149.4 C474.3,148.2 476.8,147.2 478.9,147 C480.9,146.8 483.6,148 484.6,148.2" fill="none" stroke="#6e6e6e" stroke-width="1.35" stroke-linecap="round" stroke-linejoin="round" />
<path d="M458.7,164.6 C459.5,164 461.9,161.9 463.5,161.1 C465.1,160.4 466.6,159.9 468.1,159.9 C469.7,159.9 471.3,160.3 472.9,161.1 C474.5,162 476.2,163.7 477.6,165.2 C479.1,166.7 480.2,168.1 481.4,169.9 C482.7,171.6 483.9,173.4 485.2,175.7 C486.4,178.1 487.7,181.2 489,183.9 C490.2,186.6 491.6,189.5 492.7,192 C493.8,194.5 494.8,196.8 495.6,199.1 C496.3,201.3 497.2,204.5 497.5,205.6" fill="none" stroke="#5a5a5a" stroke-width="1.7999999999999998" stroke-linecap="round" stroke-linejoin="round" />
<path d="M458.7,166.8 C459.5,166.2 461.9,164.1 463.5,163.3 C465.1,162.6 466.6,162.1 468.1,162.1 C469.7,162.1 471.3,162.5 472.9,163.3 C474.5,164.2 476.2,165.9 477.6,167.4 C479.1,168.9 480.2,170.3 481.4,172.1 C482.7,173.8 483.9,175.6 485.2,177.9 C486.4,180.3 487.7,183.4 489,186.1 C490.2,188.8 491.6,191.7 492.7,194.2 C493.8,196.7 494.8,199 495.6,201.3 C496.3,203.5 497.2,206.7 497.5,207.8" fill="none" stroke="#7c6666" stroke-width="1.35" stroke-linecap="round" stroke-linejoin="round" />
<path d="M460.9,162.8 C461.7,162.2 464.1,160.1 465.7,159.3 C467.3,158.6 468.8,158.1 470.3,158.1 C471.9,158.1 473.5,158.5 475.1,159.3 C476.7,160.2 478.4,161.9 479.8,163.4 C481.2,164.9 482.3,166.3 483.6,168.1 C484.9,169.8 486.1,171.6 487.4,173.9 C488.6,176.3 489.9,179.4 491.2,182.1 C492.4,184.8 493.8,187.7 494.9,190.2 C496,192.7 497,195 497.7,197.3 C498.5,199.5 499.4,202.7 499.7,203.7" fill="none" stroke="#6e6e6e" stroke-width="1.35" stroke-linecap="round" stroke-linejoin="round" />
<path d="M458.7,167.6 C459.5,167.2 462.1,165 463.5,165.2 C464.9,165.4 466,167.1 467.3,168.7 C468.5,170.2 469.8,172.2 471.1,174.5 C472.3,176.9 473.6,179.8 474.8,182.7 C476.1,185.6 477.5,188.9 478.6,192 C479.7,195.1 480.8,199 481.4,201.3 C482,203.7 482.2,205.2 482.4,206" fill="none" stroke="#5a5a5a" stroke-width="1.7999999999999998" stroke-linecap="round" stroke-linejoin="round" />
<path d="M458.7,169.8 C459.5,169.4 462.1,167.2 463.5,167.4 C464.9,167.6 466,169.3 467.3,170.9 C468.5,172.4 469.8,174.4 471.1,176.7 C472.3,179.1 473.6,182 474.8,184.9 C476.1,187.8 477.5,191.1 478.6,194.2 C479.7,197.3 480.8,201.2 481.4,203.5 C482,205.9 482.2,207.4 482.4,208.2" fill="none" stroke="#7c6666" stroke-width="1.35" stroke-linecap="round" stroke-linejoin="round" />
<path d="M460.9,165.8 C461.7,165.4 464.3,163.2 465.7,163.4 C467.1,163.6 468.2,165.3 469.5,166.9 C470.7,168.4 472,170.4 473.2,172.7 C474.5,175.1 475.8,177.9 477,180.9 C478.3,183.8 479.7,187.1 480.8,190.2 C481.9,193.3 483,197.2 483.6,199.5 C484.2,201.9 484.4,203.4 484.6,204.2" fill="none" stroke="#6e6e6e" stroke-width="1.35" stroke-linecap="round" stroke-linejoin="round" />
<path d="M458.7,170.6 C459.5,171.1 462.1,171.7 463.5,173.3 C464.9,175 466,177.9 467.3,180.4 C468.5,182.9 470,185.6 471.1,188.5 C472.1,191.4 473.1,195 473.9,197.9 C474.6,200.8 475.4,204.6 475.7,206" fill="none" stroke="#5a5a5a" stroke-width="1.7999999999999998" stroke-linecap="round" stroke-linejoin="round" />
<path d="M458.7,172.8 C459.5,173.3 462.1,173.9 463.5,175.5 C464.9,177.2 466,180.1 467.3,182.6 C468.5,185.1 470,187.8 471.1,190.7 C472.1,193.6 473.1,197.2 473.9,200.1 C474.6,203 475.4,206.8 475.7,208.2" fill="none" stroke="#7c6666" stroke-width="1.35" stroke-linecap="round" stroke-linejoin="round" />
<path d="M460.9,168.8 C461.7,169.3 464.3,169.9 465.7,171.5 C467.1,173.2 468.2,176.1 469.5,178.6 C470.7,181.1 472.1,183.8 473.2,186.7 C474.3,189.6 475.3,193.2 476,196.1 C476.8,199 477.6,202.8 477.9,204.2" fill="none" stroke="#6e6e6e" stroke-width="1.35" stroke-linecap="round" stroke-linejoin="round" />
<path d="M458.7,183.4 C459.4,183.9 461.4,184.7 462.5,186.1 C463.6,187.6 464.4,189.8 465.3,192 C466.3,194.2 467.3,196.7 468.1,199.1 C468.9,201.4 469.8,204.8 470.1,206" fill="none" stroke="#5a5a5a" stroke-width="1.7999999999999998" stroke-linecap="round" stroke-linejoin="round" />
<path d="M458.7,185.6 C459.4,186.1 461.4,186.9 462.5,188.3 C463.6,189.8 464.4,192 465.3,194.2 C466.3,196.4 467.3,198.9 468.1,201.3 C468.9,203.6 469.8,207 470.1,208.2" fill="none" stroke="#7c6666" stroke-width="1.35" stroke-linecap="round" stroke-linejoin="round" />
<path d="M460.9,181.6 C461.6,182.1 463.6,182.9 464.7,184.3 C465.8,185.8 466.6,188 467.5,190.2 C468.5,192.4 469.5,194.9 470.3,197.3 C471.1,199.6 471.9,203 472.3,204.2" fill="none" stroke="#6e6e6e" stroke-width="1.35" stroke-linecap="round" stroke-linejoin="round" />
<path d="M458.7,187.2 C459.2,187.8 460.8,189.2 461.5,190.8 C462.3,192.4 462.9,194.1 463.5,196.7 C464.1,199.2 465,204.4 465.3,206" fill="none" stroke="#5a5a5a" stroke-width="1.7999999999999998" stroke-linecap="round" stroke-linejoin="round" />
<path d="M458.7,189.4 C459.2,190 460.8,191.4 461.5,193 C462.3,194.6 462.9,196.3 463.5,198.9 C464.1,201.4 465,206.6 465.3,208.2" fill="none" stroke="#7c6666" stroke-width="1.35" stroke-linecap="round" stroke-linejoin="round" />
<path d="M460.9,185.4 C461.4,186 462.9,187.4 463.7,189 C464.5,190.6 465.1,192.3 465.7,194.9 C466.3,197.4 467.2,202.6 467.5,204.2" fill="none" stroke="#6e6e6e" stroke-width="1.35" stroke-linecap="round" stroke-linejoin="round" />
<path d="M458.7,176.6 C459.2,176.9 460.6,177.1 461.4,178.1 C462.3,179.2 463,180.9 463.9,182.7 C464.7,184.4 465.9,187.7 466.3,188.7" fill="none" stroke="#6e6e6e" stroke-width="1.7999999999999998" stroke-linecap="round" stroke-linejoin="round" />
<path d="M458.7,178.8 C459.2,179.1 460.6,179.3 461.4,180.3 C462.3,181.4 463,183.1 463.9,184.9 C464.7,186.6 465.9,189.9 466.3,190.9" fill="none" stroke="#7c6666" stroke-width="1.35" stroke-linecap="round" stroke-linejoin="round" />
<path d="M460.9,174.8 C461.4,175.1 462.8,175.3 463.6,176.3 C464.5,177.3 465.2,179.1 466.1,180.9 C466.9,182.6 468.1,185.9 468.5,186.9" fill="none" stroke="#6e6e6e" stroke-width="1.35" stroke-linecap="round" stroke-linejoin="round" />
<path d="M503.8,187.5 C505,186.3 508.4,183.2 510.6,180.4 C512.9,177.6 515.5,174.2 517.6,170.5 C519.7,166.7 521.6,160.5 523.3,157.8 C525,155.1 526.2,154.6 527.7,154.2 C529.2,153.9 531,154.6 532.3,155.7 C533.6,156.8 534.7,159.4 535.6,160.7 C536.6,162 536.8,164.1 537.9,163.4 C539.1,162.7 541,159.6 542.5,156.3 C544,153 545.3,147.2 546.9,143.7 C548.6,140.2 550.3,137.3 552.2,135.4 C554.2,133.5 556.8,133.8 558.7,132.2 C560.6,130.7 561.7,127.9 563.6,126.2 C565.5,124.5 568.2,123.1 570.1,122 C572,120.9 574.3,119.9 575.1,119.4" fill="none" stroke="#5a5a5a" stroke-width="1.7999999999999998" stroke-linecap="round" stroke-linejoin="round" />
<path d="M503.8,189.7 C505,188.5 508.4,185.4 510.6,182.6 C512.9,179.8 515.5,176.4 517.6,172.7 C519.7,168.9 521.6,162.7 523.3,160 C525,157.3 526.2,156.8 527.7,156.4 C529.2,156.1 531,156.8 532.3,157.9 C533.6,159 534.7,161.6 535.6,162.9 C536.6,164.2 536.8,166.3 537.9,165.6 C539.1,164.9 541,161.8 542.5,158.5 C544,155.2 545.3,149.4 546.9,145.9 C548.6,142.4 550.3,139.5 552.2,137.6 C554.2,135.7 556.8,136 558.7,134.4 C560.6,132.9 561.7,130.1 563.6,128.4 C565.5,126.7 568.2,125.3 570.1,124.2 C572,123.1 574.3,122.1 575.1,121.6" fill="none" stroke="#7c6666" stroke-width="1.35" stroke-linecap="round" stroke-linejoin="round" />
<path d="M506,185.7 C507.2,184.5 510.5,181.4 512.8,178.6 C515.1,175.8 517.7,172.4 519.8,168.7 C521.9,164.9 523.8,158.7 525.4,156 C527.1,153.3 528.4,152.8 529.9,152.4 C531.4,152.1 533.1,152.8 534.4,153.9 C535.8,155 536.9,157.6 537.8,158.9 C538.7,160.2 538.9,162.3 540.1,161.6 C541.2,160.9 543.1,157.8 544.6,154.5 C546.1,151.2 547.5,145.4 549.1,141.9 C550.7,138.4 552.4,135.5 554.4,133.6 C556.3,131.7 559,132 560.9,130.4 C562.8,128.9 563.9,126.1 565.8,124.4 C567.7,122.7 570.3,121.3 572.3,120.2 C574.2,119.1 576.5,118.1 577.3,117.6" fill="none" stroke="#6e6e6e" stroke-width="1.35" stroke-linecap="round" stroke-linejoin="round" />
<path d="M503.8,187.5 C505,186.1 508.2,182.1 510.6,179.1 C513.1,176 516,172.4 518.7,169.1 C521.3,165.8 524.2,161.8 526.6,159.2 C529.1,156.6 531.1,155.1 533.4,153.5 C535.6,151.8 537.9,150.6 540.2,149.2 C542.5,147.8 544.9,146.2 546.9,145 C549,143.8 550.4,143.1 552.3,142 C554.2,140.9 557.3,138.9 558.3,138.3" fill="none" stroke="#6e6e6e" stroke-width="1.7999999999999998" stroke-linecap="round" stroke-linejoin="round" />
<path d="M503.8,189.7 C505,188.3 508.2,184.3 510.6,181.3 C513.1,178.2 516,174.6 518.7,171.3 C521.3,168 524.2,164 526.6,161.4 C529.1,158.8 531.1,157.3 533.4,155.7 C535.6,154 537.9,152.8 540.2,151.4 C542.5,150 544.9,148.4 546.9,147.2 C549,146 550.4,145.3 552.3,144.2 C554.2,143.1 557.3,141.1 558.3,140.5" fill="none" stroke="#7c6666" stroke-width="1.35" stroke-linecap="round" stroke-linejoin="round" />
<path d="M506,185.7 C507.2,184.3 510.4,180.3 512.8,177.2 C515.3,174.2 518.2,170.6 520.9,167.3 C523.5,164 526.4,160 528.8,157.4 C531.2,154.8 533.3,153.3 535.5,151.7 C537.8,150 540.1,148.8 542.4,147.4 C544.6,146 547.1,144.4 549.1,143.2 C551.1,142 552.6,141.3 554.5,140.2 C556.4,139.1 559.5,137.1 560.5,136.4" fill="none" stroke="#6e6e6e" stroke-width="1.35" stroke-linecap="round" stroke-linejoin="round" />
<path d="M508.3,206 C509.1,203.6 511.4,196.6 513,191.9 C514.5,187.1 516.1,182.3 517.6,177.5 C519.1,172.8 520.6,167.2 522.1,163.4 C523.6,159.6 525.9,156.4 526.6,155" fill="none" stroke="#5a5a5a" stroke-width="1.7999999999999998" stroke-linecap="round" stroke-linejoin="round" />
<path d="M508.3,208.2 C509.1,205.8 511.4,198.8 513,194.1 C514.5,189.3 516.1,184.5 517.6,179.7 C519.1,175 520.6,169.4 522.1,165.6 C523.6,161.8 525.9,158.6 526.6,157.2" fill="none" stroke="#7c6666" stroke-width="1.35" stroke-linecap="round" stroke-linejoin="round" />
<path d="M510.5,204.2 C511.3,201.8 513.6,194.8 515.1,190 C516.7,185.3 518.2,180.5 519.8,175.7 C521.3,171 522.7,165.4 524.2,161.6 C525.8,157.8 528,154.6 528.8,153.2" fill="none" stroke="#6e6e6e" stroke-width="1.35" stroke-linecap="round" stroke-linejoin="round" />
<path d="M514,191.9 C514.8,190.2 517.1,184.3 518.7,181.9 C520.2,179.5 522,178 523.3,177.5 C524.6,177.1 525.5,177.8 526.6,179.1 C527.8,180.3 529.1,182.6 530,184.8 C530.9,186.9 531.5,189.3 532.3,191.9 C533,194.4 534,197.9 534.6,200.3 C535.1,202.6 535.5,205 535.6,206" fill="none" stroke="#888888" stroke-width="1.7999999999999998" stroke-linecap="round" stroke-linejoin="round" />
<path d="M514,194.1 C514.8,192.4 517.1,186.5 518.7,184.1 C520.2,181.7 522,180.2 523.3,179.7 C524.6,179.3 525.5,180 526.6,181.3 C527.8,182.5 529.1,184.8 530,187 C530.9,189.1 531.5,191.5 532.3,194.1 C533,196.6 534,200.1 534.6,202.5 C535.1,204.8 535.5,207.2 535.6,208.2" fill="none" stroke="#9a8484" stroke-width="1.35" stroke-linecap="round" stroke-linejoin="round" />
<path d="M516.2,190 C517,188.4 519.3,182.5 520.9,180.1 C522.4,177.7 524.1,176.2 525.4,175.7 C526.8,175.3 527.7,176 528.8,177.2 C529.9,178.5 531.2,180.8 532.2,183 C533.1,185.1 533.7,187.5 534.4,190 C535.2,192.6 536.2,196.1 536.7,198.5 C537.3,200.8 537.6,203.2 537.8,204.2" fill="none" stroke="#6e6e6e" stroke-width="1.35" stroke-linecap="round" stroke-linejoin="round" />
<path d="M514,197.4 C515.4,196.5 519.6,193.7 522.1,191.9 C524.6,190 527,188 528.9,186.1 C530.8,184.2 531.9,182.3 533.4,180.4 C534.9,178.5 536.4,175.5 537.9,174.8 C539.4,174.1 541,176.9 542.5,176.2 C544,175.5 545.3,172.4 546.9,170.5 C548.6,168.5 550,168.9 552.2,164.6 C554.5,160.3 557.9,147.6 560.4,144.6 C562.8,141.6 564.7,145.2 566.9,146.5 C569,147.9 572.3,151.7 573.3,152.7" fill="none" stroke="#5a5a5a" stroke-width="1.7999999999999998" stroke-linecap="round" stroke-linejoin="round" />
<path d="M514,199.6 C515.4,198.7 519.6,195.9 522.1,194.1 C524.6,192.2 527,190.2 528.9,188.3 C530.8,186.4 531.9,184.5 533.4,182.6 C534.9,180.7 536.4,177.7 537.9,177 C539.4,176.3 541,179.1 542.5,178.4 C544,177.7 545.3,174.6 546.9,172.7 C548.6,170.7 550,171.1 552.2,166.8 C554.5,162.5 557.9,149.8 560.4,146.8 C562.8,143.8 564.7,147.4 566.9,148.7 C569,150.1 572.3,153.9 573.3,154.9" fill="none" stroke="#7c6666" stroke-width="1.35" stroke-linecap="round" stroke-linejoin="round" />
<path d="M516.2,195.6 C517.6,194.7 521.8,191.9 524.2,190 C526.7,188.2 529.2,186.2 531.1,184.3 C533,182.4 534,180.5 535.5,178.6 C537,176.7 538.6,173.7 540.1,173 C541.6,172.3 543.1,175.1 544.6,174.4 C546.1,173.7 547.5,170.6 549.1,168.7 C550.7,166.7 552.1,167.1 554.4,162.8 C556.6,158.5 560.1,145.8 562.5,142.8 C565,139.8 566.9,143.4 569,144.7 C571.2,146.1 574.4,149.9 575.5,150.9" fill="none" stroke="#6e6e6e" stroke-width="1.35" stroke-linecap="round" stroke-linejoin="round" />
<path d="M522.1,196.1 C523.2,194.6 527,189.1 528.9,187.5 C530.8,185.8 531.9,186.1 533.4,186.1 C534.9,186.1 536.4,186.8 537.9,187.5 C539.4,188.2 541,190.3 542.5,190.3 C544,190.3 545.5,189 546.9,187.5 C548.4,186 549.6,183.5 551.1,181.2 C552.6,178.9 555.1,174.9 555.9,173.6" fill="none" stroke="#5a5a5a" stroke-width="1.7999999999999998" stroke-linecap="round" stroke-linejoin="round" />
<path d="M522.1,198.3 C523.2,196.8 527,191.3 528.9,189.7 C530.8,188 531.9,188.3 533.4,188.3 C534.9,188.3 536.4,189 537.9,189.7 C539.4,190.4 541,192.5 542.5,192.5 C544,192.5 545.5,191.2 546.9,189.7 C548.4,188.2 549.6,185.7 551.1,183.4 C552.6,181.1 555.1,177.1 555.9,175.8" fill="none" stroke="#7c6666" stroke-width="1.35" stroke-linecap="round" stroke-linejoin="round" />
<path d="M524.2,194.3 C525.4,192.8 529.2,187.3 531.1,185.7 C533,184 534,184.3 535.5,184.3 C537,184.3 538.6,185 540.1,185.7 C541.6,186.4 543.1,188.5 544.6,188.5 C546.1,188.5 547.7,187.2 549.1,185.7 C550.5,184.1 551.8,181.7 553.3,179.4 C554.8,177 557.3,173.1 558.1,171.8" fill="none" stroke="#6e6e6e" stroke-width="1.35" stroke-linecap="round" stroke-linejoin="round" />
<path d="M499.2,174.8 C499.8,176 501.5,179.8 502.6,181.9 C503.8,184 504.9,185.8 506,187.5 C507.2,189.1 508.5,190.1 509.6,191.9 C510.6,193.6 511.7,195.4 512.6,197.7 C513.5,200 514.6,204.2 515,205.6" fill="none" stroke="#5a5a5a" stroke-width="1.7999999999999998" stroke-linecap="round" stroke-linejoin="round" />
<path d="M499.2,177 C499.8,178.2 501.5,182 502.6,184.1 C503.8,186.2 504.9,188 506,189.7 C507.2,191.3 508.5,192.3 509.6,194.1 C510.6,195.8 511.7,197.6 512.6,199.9 C513.5,202.2 514.6,206.4 515,207.8" fill="none" stroke="#7c6666" stroke-width="1.35" stroke-linecap="round" stroke-linejoin="round" />
<path d="M501.4,173 C502,174.2 503.7,178 504.8,180.1 C505.9,182.2 507.1,184 508.2,185.7 C509.4,187.3 510.6,188.3 511.7,190 C512.8,191.7 513.9,193.6 514.8,195.9 C515.7,198.2 516.8,202.4 517.2,203.7" fill="none" stroke="#6e6e6e" stroke-width="1.35" stroke-linecap="round" stroke-linejoin="round" />
<path d="M499.2,189 C500,188.6 502.3,186.9 503.8,186.9 C505.4,186.9 507,187.7 508.3,189 C509.7,190.3 510.9,192.8 511.9,194.7 C512.8,196.7 513.5,199.7 513.8,200.7" fill="none" stroke="#6e6e6e" stroke-width="1.7999999999999998" stroke-linecap="round" stroke-linejoin="round" />
<path d="M499.2,191.2 C500,190.8 502.3,189.1 503.8,189.1 C505.4,189.1 507,189.9 508.3,191.2 C509.7,192.5 510.9,195 511.9,196.9 C512.8,198.9 513.5,201.9 513.8,202.9" fill="none" stroke="#7c6666" stroke-width="1.35" stroke-linecap="round" stroke-linejoin="round" />
<path d="M501.4,187.2 C502.2,186.8 504.5,185.1 506,185.1 C507.5,185.1 509.2,185.9 510.5,187.2 C511.9,188.5 513.1,190.9 514,192.9 C515,194.9 515.7,197.9 516,198.9" fill="none" stroke="#6e6e6e" stroke-width="1.35" stroke-linecap="round" stroke-linejoin="round" />
<path d="M539.1,206 C539.7,205 541.2,200.8 542.5,200.3 C543.8,199.8 546.2,202.7 546.9,203.1" fill="none" stroke="#5a5a5a" stroke-width="1.7999999999999998" stroke-linecap="round" stroke-linejoin="round" />
<path d="M539.1,208.2 C539.7,207.2 541.2,203 542.5,202.5 C543.8,202 546.2,204.9 546.9,205.3" fill="none" stroke="#7c6666" stroke-width="1.35" stroke-linecap="round" stroke-linejoin="round" />
<path d="M541.3,204.2 C541.8,203.2 543.3,199 544.6,198.5 C545.9,198 548.4,200.9 549.1,201.3" fill="none" stroke="#6e6e6e" stroke-width="1.35" stroke-linecap="round" stroke-linejoin="round" />
<path d="M552.2,150.6 C553.6,149.6 557.9,145.3 560.4,144.6 C562.8,143.9 564.7,145.2 566.9,146.5 C569,147.9 572.3,151.7 573.3,152.7" fill="none" stroke="#6e6e6e" stroke-width="1.7999999999999998" stroke-linecap="round" stroke-linejoin="round" />
<path d="M552.2,152.8 C553.6,151.8 557.9,147.5 560.4,146.8 C562.8,146.1 564.7,147.4 566.9,148.7 C569,150.1 572.3,153.9 573.3,154.9" fill="none" stroke="#7c6666" stroke-width="1.35" stroke-linecap="round" stroke-linejoin="round" />
<path d="M554.4,148.8 C555.7,147.8 560.1,143.4 562.5,142.8 C565,142.1 566.9,143.4 569,144.7 C571.2,146.1 574.4,149.9 575.5,150.9" fill="none" stroke="#6e6e6e" stroke-width="1.35" stroke-linecap="round" stroke-linejoin="round" />
<path d="M553.8,205.6 C554.5,199.2 557.1,178.5 558.3,167.3 C559.6,156.1 560.3,147.2 561.3,138.6 C562.3,129.9 563.3,122.3 564.3,115.7 C565.4,109 566.6,103.1 567.5,98.5 C568.4,93.9 568.9,90.7 569.7,87.8 C570.6,84.9 571.6,82.7 572.7,81 C573.8,79.4 574.9,78.8 576.3,78 C577.8,77.2 580.6,76.5 581.5,76.2" fill="none" stroke="#6e6e6e" stroke-width="1.7999999999999998" stroke-linecap="round" stroke-linejoin="round" />
<path d="M553.8,207.8 C554.5,201.4 557.1,180.7 558.3,169.5 C559.6,158.3 560.3,149.4 561.3,140.8 C562.3,132.1 563.3,124.5 564.3,117.9 C565.4,111.2 566.6,105.3 567.5,100.7 C568.4,96.1 568.9,92.9 569.7,90 C570.6,87.1 571.6,84.9 572.7,83.2 C573.8,81.6 574.9,81 576.3,80.2 C577.8,79.4 580.6,78.7 581.5,78.4" fill="none" stroke="#7c6666" stroke-width="1.35" stroke-linecap="round" stroke-linejoin="round" />
<path d="M556.9,205.6 C557.7,199.2 560.2,178.5 561.5,167.3 C562.7,156.1 563.5,147.2 564.5,138.6 C565.5,129.9 566.4,122.3 567.5,115.7 C568.5,109 569.7,103.1 570.6,98.5 C571.5,93.9 572,90.7 572.9,87.8 C573.7,84.9 574.8,82.7 575.9,81 C577,79.4 578,78.8 579.5,78 C580.9,77.2 583.8,76.5 584.6,76.2" fill="none" stroke="#6e6e6e" stroke-width="1.7999999999999998" stroke-linecap="round" stroke-linejoin="round" />
<path d="M556.9,207.8 C557.7,201.4 560.2,180.7 561.5,169.5 C562.7,158.3 563.5,149.4 564.5,140.8 C565.5,132.1 566.4,124.5 567.5,117.9 C568.5,111.2 569.7,105.3 570.6,100.7 C571.5,96.1 572,92.9 572.9,90 C573.7,87.1 574.8,84.9 575.9,83.2 C577,81.6 578,81 579.5,80.2 C580.9,79.4 583.8,78.7 584.6,78.4" fill="none" stroke="#7c6666" stroke-width="1.35" stroke-linecap="round" stroke-linejoin="round" />
<path d="M560,205.6 C560.8,199.2 563.3,178.5 564.6,167.3 C565.8,156.1 566.6,147.2 567.6,138.6 C568.6,129.9 569.6,122.3 570.6,115.7 C571.6,109 572.8,103.1 573.7,98.5 C574.6,93.9 575.1,90.7 576,87.8 C576.9,84.9 577.9,82.7 579,81 C580.1,79.4 581.1,78.8 582.6,78 C584.1,77.2 586.9,76.5 587.8,76.2" fill="none" stroke="#6e6e6e" stroke-width="1.7999999999999998" stroke-linecap="round" stroke-linejoin="round" />
<path d="M560,207.8 C560.8,201.4 563.3,180.7 564.6,169.5 C565.8,158.3 566.6,149.4 567.6,140.8 C568.6,132.1 569.6,124.5 570.6,117.9 C571.6,111.2 572.8,105.3 573.7,100.7 C574.6,96.1 575.1,92.9 576,90 C576.9,87.1 577.9,84.9 579,83.2 C580.1,81.6 581.1,81 582.6,80.2 C584.1,79.4 586.9,78.7 587.8,78.4" fill="none" stroke="#7c6666" stroke-width="1.35" stroke-linecap="round" stroke-linejoin="round" />
<path d="M544,205.6 C544.8,201.5 547.4,187.9 548.7,181.2 C550.1,174.4 551.2,170.4 552.2,164.9 C553.2,159.4 554.3,150.8 554.7,148" fill="none" stroke="#6e6e6e" stroke-width="1.7999999999999998" stroke-linecap="round" stroke-linejoin="round" />
<path d="M544,207.8 C544.8,203.7 547.4,190.1 548.7,183.4 C550.1,176.6 551.2,172.6 552.2,167.1 C553.2,161.6 554.3,153 554.7,150.2" fill="none" stroke="#7c6666" stroke-width="1.35" stroke-linecap="round" stroke-linejoin="round" />
<path d="M546.2,203.7 C547,199.7 549.5,186.1 550.9,179.4 C552.3,172.6 553.4,168.6 554.4,163.1 C555.4,157.6 556.5,149 556.9,146.2" fill="none" stroke="#6e6e6e" stroke-width="1.35" stroke-linecap="round" stroke-linejoin="round" />
<path d="M557.1,167.6 C557.5,166.5 558.5,163.1 559.5,160.8 C560.5,158.6 562.1,156.8 563.1,154.2 C564.2,151.6 564.9,148.3 565.8,145.3 C566.7,142.3 567.5,139.3 568.4,136.3 C569.3,133.3 570.2,130.2 571.1,127.4 C572,124.6 572.8,121.8 573.8,119.6 C574.9,117.4 576,115.3 577.3,114 C578.6,112.7 580,111.8 581.4,111.8 C582.7,111.8 584.3,112.7 585.4,114 C586.5,115.3 587.1,117.4 588,119.6 C588.9,121.8 589.9,124.6 590.8,127.4 C591.7,130.2 592.6,133.3 593.4,136.3 C594.3,139.3 595.2,142.4 596.1,145.3 C597,148.3 597.7,150.6 598.6,154.1 C599.6,157.5 600.9,162 601.9,166.1 C602.9,170.2 603.9,175 604.7,178.8 C605.4,182.5 605.8,184.2 606.6,188.7 C607.4,193.2 609.1,202.7 609.6,205.6" fill="none" stroke="#5a5a5a" stroke-width="1.7999999999999998" stroke-linecap="round" stroke-linejoin="round" />
<path d="M557.1,169.8 C557.5,168.7 558.5,165.3 559.5,163 C560.5,160.8 562.1,159 563.1,156.4 C564.2,153.8 564.9,150.5 565.8,147.5 C566.7,144.5 567.5,141.5 568.4,138.5 C569.3,135.5 570.2,132.4 571.1,129.6 C572,126.8 572.8,124 573.8,121.8 C574.9,119.6 576,117.5 577.3,116.2 C578.6,114.9 580,114 581.4,114 C582.7,114 584.3,114.9 585.4,116.2 C586.5,117.5 587.1,119.6 588,121.8 C588.9,124 589.9,126.8 590.8,129.6 C591.7,132.4 592.6,135.5 593.4,138.5 C594.3,141.5 595.2,144.6 596.1,147.5 C597,150.5 597.7,152.8 598.6,156.3 C599.6,159.7 600.9,164.2 601.9,168.3 C602.9,172.4 603.9,177.2 604.7,181 C605.4,184.7 605.8,186.4 606.6,190.9 C607.4,195.4 609.1,204.9 609.6,207.8" fill="none" stroke="#7c6666" stroke-width="1.35" stroke-linecap="round" stroke-linejoin="round" />
<path d="M559.3,165.8 C559.7,164.7 560.7,161.3 561.7,159 C562.7,156.8 564.3,155 565.3,152.4 C566.3,149.8 567.1,146.5 567.9,143.5 C568.8,140.5 569.7,137.5 570.6,134.5 C571.5,131.5 572.3,128.4 573.2,125.6 C574.1,122.8 574.9,120 576,117.8 C577,115.5 578.2,113.5 579.5,112.2 C580.7,110.9 582.2,109.9 583.6,109.9 C584.9,109.9 586.4,110.9 587.5,112.2 C588.6,113.5 589.3,115.5 590.2,117.8 C591.1,120 592.1,122.8 593,125.6 C593.9,128.4 594.7,131.5 595.6,134.5 C596.5,137.5 597.4,140.6 598.3,143.5 C599.1,146.5 599.8,148.8 600.8,152.3 C601.8,155.7 603.1,160.2 604.1,164.3 C605.1,168.4 606,173.2 606.8,176.9 C607.6,180.7 607.9,182.4 608.8,186.9 C609.6,191.3 611.3,200.9 611.8,203.7" fill="none" stroke="#6e6e6e" stroke-width="1.35" stroke-linecap="round" stroke-linejoin="round" />
<path d="M560.7,163.1 C561.4,160.8 563.7,153.6 564.9,149.5 C566.1,145.5 566.8,142.5 567.9,139 C569,135.5 570.2,131.6 571.5,128.5 C572.8,125.3 574.1,122.2 575.7,120.2 C577.4,118.2 579.5,116.3 581.4,116.3 C583.3,116.3 585.5,118.2 587.2,120.2 C588.8,122.2 590.1,125.3 591.4,128.5 C592.7,131.6 593.9,135.5 595,139 C596.1,142.5 597.1,146 598,149.5 C599,153.1 599.9,156.3 600.8,160.1 C601.7,163.8 603,170.1 603.5,172.1" fill="none" stroke="#5a5a5a" stroke-width="1.7999999999999998" stroke-linecap="round" stroke-linejoin="round" />
<path d="M560.7,165.3 C561.4,163 563.7,155.8 564.9,151.7 C566.1,147.7 566.8,144.7 567.9,141.2 C569,137.7 570.2,133.8 571.5,130.7 C572.8,127.5 574.1,124.4 575.7,122.4 C577.4,120.4 579.5,118.5 581.4,118.5 C583.3,118.5 585.5,120.4 587.2,122.4 C588.8,124.4 590.1,127.5 591.4,130.7 C592.7,133.8 593.9,137.7 595,141.2 C596.1,144.7 597.1,148.2 598,151.7 C599,155.3 599.9,158.5 600.8,162.3 C601.7,166 603,172.3 603.5,174.3" fill="none" stroke="#7c6666" stroke-width="1.35" stroke-linecap="round" stroke-linejoin="round" />
<path d="M562.9,161.3 C563.6,159 565.9,151.8 567.1,147.7 C568.3,143.7 569,140.7 570.1,137.2 C571.2,133.7 572.4,129.8 573.7,126.7 C575,123.5 576.3,120.4 577.9,118.4 C579.5,116.3 581.6,114.5 583.6,114.5 C585.5,114.5 587.7,116.3 589.3,118.4 C591,120.4 592.3,123.5 593.6,126.7 C594.9,129.8 596.1,133.7 597.2,137.2 C598.3,140.7 599.2,144.2 600.2,147.7 C601.2,151.3 602.1,154.5 603,158.3 C603.9,162 605.2,168.3 605.6,170.3" fill="none" stroke="#6e6e6e" stroke-width="1.35" stroke-linecap="round" stroke-linejoin="round" />
<path d="M547.5,140.5 C548.5,138.5 551.5,131.8 553.5,128.5 C555.5,125.2 557.9,122.3 559.5,120.6 C561.1,119 562,118.5 563.1,118.5 C564.3,118.5 565.4,119.2 566.6,120.6 C567.8,122.1 569.2,125 570.2,127.4 C571.3,129.8 571.8,132.6 572.9,135.2 C573.9,137.9 574.9,140.9 576.3,143.5 C577.8,146.2 579.9,151.1 581.4,151.1 C582.9,151.1 584.1,147.6 585.4,143.5 C586.6,139.4 587.9,130.3 589,126.4 C590,122.4 590.6,121.5 591.6,119.6 C592.7,117.7 594,115.4 595.3,115.1 C596.5,114.7 597.7,115.8 598.9,117.3 C600.1,118.8 601.1,121.5 602.4,124.1 C603.7,126.7 604.9,129.3 606.6,133 C608.3,136.7 610.6,142.2 612.6,146.4 C614.6,150.5 616.7,154.3 618.8,157.8 C620.8,161.3 622.9,164.1 624.9,167.3 C627,170.5 629.3,174.4 631.1,176.9 C632.9,179.5 634.9,181.7 635.7,182.7" fill="none" stroke="#5a5a5a" stroke-width="1.7999999999999998" stroke-linecap="round" stroke-linejoin="round" />
<path d="M547.5,142.7 C548.5,140.7 551.5,134 553.5,130.7 C555.5,127.4 557.9,124.5 559.5,122.8 C561.1,121.2 562,120.7 563.1,120.7 C564.3,120.7 565.4,121.4 566.6,122.8 C567.8,124.3 569.2,127.2 570.2,129.6 C571.3,132 571.8,134.8 572.9,137.4 C573.9,140.1 574.9,143.1 576.3,145.7 C577.8,148.4 579.9,153.3 581.4,153.3 C582.9,153.3 584.1,149.8 585.4,145.7 C586.6,141.6 587.9,132.5 589,128.6 C590,124.6 590.6,123.7 591.6,121.8 C592.7,119.9 594,117.6 595.3,117.3 C596.5,116.9 597.7,118 598.9,119.5 C600.1,121 601.1,123.7 602.4,126.3 C603.7,128.9 604.9,131.5 606.6,135.2 C608.3,138.9 610.6,144.4 612.6,148.6 C614.6,152.7 616.7,156.5 618.8,160 C620.8,163.5 622.9,166.3 624.9,169.5 C627,172.7 629.3,176.6 631.1,179.1 C632.9,181.7 634.9,183.9 635.7,184.9" fill="none" stroke="#7c6666" stroke-width="1.35" stroke-linecap="round" stroke-linejoin="round" />
<path d="M549.7,138.7 C550.7,136.7 553.7,130 555.7,126.7 C557.7,123.3 560.1,120.5 561.7,118.8 C563.3,117.2 564.1,116.7 565.3,116.7 C566.5,116.7 567.6,117.4 568.8,118.8 C570,120.3 571.3,123.2 572.4,125.6 C573.4,128 574,130.8 575,133.4 C576,136.1 577.1,139.1 578.5,141.7 C579.9,144.4 582,149.2 583.6,149.2 C585.1,149.2 586.3,145.8 587.5,141.7 C588.8,137.6 590.1,128.5 591.1,124.6 C592.2,120.6 592.8,119.7 593.8,117.8 C594.8,115.9 596.2,113.6 597.4,113.3 C598.6,112.9 599.9,114 601,115.5 C602.2,117 603.3,119.7 604.5,122.3 C605.8,124.9 607.1,127.5 608.8,131.2 C610.5,134.9 612.8,140.4 614.8,144.6 C616.8,148.7 618.9,152.5 620.9,156 C623,159.5 625,162.3 627.1,165.5 C629.1,168.7 631.4,172.6 633.2,175.1 C635.1,177.7 637.2,179.9 638,180.9" fill="none" stroke="#6e6e6e" stroke-width="1.35" stroke-linecap="round" stroke-linejoin="round" />
<path d="M551.1,148 C551.9,147.5 554.5,145.7 555.9,145 C557.3,144.4 558.2,144.4 559.5,144.1 C560.9,143.9 562.5,143.5 564,143.7 C565.5,143.9 567.1,144.3 568.4,145.3 C569.8,146.3 571,148.2 572,149.7 C573.1,151.2 573.8,153 574.7,154.2 C575.5,155.4 576.4,157.1 577.3,157.1 C578.2,157.1 579.4,155.1 580.1,154.2 C580.7,153.3 580.9,151.7 581.4,151.8 C581.9,151.9 582.3,153.9 582.9,154.8 C583.6,155.7 584.6,157.2 585.5,157.1 C586.3,157 587.2,156.3 588.1,154.2 C589.1,152.1 590.3,146.7 591.3,144.4 C592.2,142.1 592.5,141.5 593.8,140.5 C595.1,139.6 597,138.4 598.9,138.7 C600.7,139 603.2,140.2 605,142.5 C606.8,144.7 608.1,148.6 609.6,152.1 C611.1,155.6 612.4,159.7 614.2,163.5 C616,167.4 618.3,171.2 620.3,175 C622.4,178.8 624.4,182.6 626.5,186.4 C628.5,190.3 631.2,194.8 632.6,198 C634.1,201.2 635,204.3 635.4,205.6" fill="none" stroke="#5a5a5a" stroke-width="1.7999999999999998" stroke-linecap="round" stroke-linejoin="round" />
<path d="M551.1,150.2 C551.9,149.7 554.5,147.9 555.9,147.2 C557.3,146.6 558.2,146.6 559.5,146.3 C560.9,146.1 562.5,145.7 564,145.9 C565.5,146.1 567.1,146.5 568.4,147.5 C569.8,148.5 571,150.4 572,151.9 C573.1,153.4 573.8,155.2 574.7,156.4 C575.5,157.6 576.4,159.3 577.3,159.3 C578.2,159.3 579.4,157.3 580.1,156.4 C580.7,155.5 580.9,153.9 581.4,154 C581.9,154.1 582.3,156.1 582.9,157 C583.6,157.9 584.6,159.4 585.5,159.3 C586.3,159.2 587.2,158.5 588.1,156.4 C589.1,154.3 590.3,148.9 591.3,146.6 C592.2,144.3 592.5,143.7 593.8,142.7 C595.1,141.8 597,140.6 598.9,140.9 C600.7,141.2 603.2,142.4 605,144.7 C606.8,146.9 608.1,150.8 609.6,154.3 C611.1,157.8 612.4,161.9 614.2,165.7 C616,169.6 618.3,173.4 620.3,177.2 C622.4,181 624.4,184.8 626.5,188.6 C628.5,192.5 631.2,197 632.6,200.2 C634.1,203.4 635,206.5 635.4,207.8" fill="none" stroke="#7c6666" stroke-width="1.35" stroke-linecap="round" stroke-linejoin="round" />
<path d="M553.3,146.2 C554.1,145.7 556.7,143.9 558.1,143.2 C559.5,142.6 560.4,142.5 561.7,142.3 C563,142.1 564.7,141.7 566.1,141.9 C567.6,142.1 569.2,142.5 570.6,143.5 C571.9,144.5 573.1,146.4 574.2,147.9 C575.2,149.4 575.9,151.2 576.8,152.4 C577.7,153.6 578.6,155.3 579.5,155.3 C580.4,155.3 581.5,153.3 582.2,152.4 C582.9,151.5 583.1,149.9 583.6,150 C584,150.1 584.4,152.1 585.1,153 C585.8,153.9 586.8,155.4 587.7,155.3 C588.5,155.2 589.3,154.5 590.3,152.4 C591.3,150.3 592.5,144.9 593.4,142.6 C594.4,140.3 594.7,139.7 596,138.7 C597.2,137.8 599.2,136.6 601,136.9 C602.9,137.2 605.4,138.4 607.2,140.7 C609,142.9 610.2,146.8 611.8,150.3 C613.3,153.8 614.6,157.9 616.4,161.7 C618.1,165.6 620.5,169.4 622.5,173.2 C624.6,177 626.6,180.8 628.7,184.6 C630.7,188.5 633.3,193 634.8,196.2 C636.3,199.4 637.2,202.5 637.7,203.7" fill="none" stroke="#6e6e6e" stroke-width="1.35" stroke-linecap="round" stroke-linejoin="round" />
<path d="M598.9,171.2 C599.6,170.9 601.9,170.9 603.5,169.3 C605,167.7 606.5,164.4 608,161.6 C609.6,158.7 611.1,155.3 612.6,152.1 C614.2,148.9 616.5,144.1 617.3,142.5" fill="none" stroke="#888888" stroke-width="1.7999999999999998" stroke-linecap="round" stroke-linejoin="round" />
<path d="M598.9,173.4 C599.6,173.1 601.9,173.1 603.5,171.5 C605,169.9 606.5,166.6 608,163.8 C609.6,160.9 611.1,157.5 612.6,154.3 C614.2,151.1 616.5,146.3 617.3,144.7" fill="none" stroke="#9a8484" stroke-width="1.35" stroke-linecap="round" stroke-linejoin="round" />
<path d="M601,169.4 C601.8,169.1 604.1,169.1 605.6,167.5 C607.2,165.9 608.7,162.6 610.2,159.8 C611.7,156.9 613.2,153.5 614.8,150.3 C616.3,147.1 618.7,142.3 619.5,140.7" fill="none" stroke="#6e6e6e" stroke-width="1.35" stroke-linecap="round" stroke-linejoin="round" />
<path d="M555.3,214.6 C556.4,211.7 560,202.1 562.1,197 C564.2,191.8 566.1,187.5 567.8,183.8 C569.5,180.1 570.9,177.3 572.4,174.6 C573.8,171.9 575.3,169.4 576.5,167.6 C577.7,165.7 578.8,164.3 579.7,163.3 C580.5,162.4 580.9,161.9 581.5,161.9 C582.1,161.9 582.5,162.4 583.3,163.3 C584.2,164.3 585.3,165.7 586.5,167.6 C587.8,169.4 589.2,171.9 590.7,174.6 C592.1,177.3 593.5,180.1 595.3,183.8 C597,187.5 598.9,191.8 601,197 C603.1,202.1 606.7,211.7 607.9,214.6" fill="none" stroke="#5a5a5a" stroke-width="1.7999999999999998" stroke-linecap="round" stroke-linejoin="round" />
<path d="M555.3,216.8 C556.4,213.9 560,204.3 562.1,199.2 C564.2,194 566.1,189.7 567.8,186 C569.5,182.3 570.9,179.5 572.4,176.8 C573.8,174.1 575.3,171.6 576.5,169.8 C577.7,167.9 578.8,166.5 579.7,165.5 C580.5,164.6 580.9,164.1 581.5,164.1 C582.1,164.1 582.5,164.6 583.3,165.5 C584.2,166.5 585.3,167.9 586.5,169.8 C587.8,171.6 589.2,174.1 590.7,176.8 C592.1,179.5 593.5,182.3 595.3,186 C597,189.7 598.9,194 601,199.2 C603.1,204.3 606.7,213.9 607.9,216.8" fill="none" stroke="#7c6666" stroke-width="1.35" stroke-linecap="round" stroke-linejoin="round" />
<path d="M557.4,212.8 C558.6,209.9 562.2,200.3 564.3,195.1 C566.4,190 568.3,185.7 570,182 C571.7,178.3 573.1,175.5 574.5,172.8 C576,170.1 577.4,167.6 578.6,165.7 C579.9,163.9 581,162.5 581.8,161.5 C582.7,160.6 583.1,160.1 583.7,160.1 C584.3,160.1 584.7,160.6 585.5,161.5 C586.3,162.5 587.5,163.9 588.7,165.7 C589.9,167.6 591.4,170.1 592.8,172.8 C594.3,175.5 595.7,178.3 597.4,182 C599.1,185.7 601,190 603.2,195.1 C605.3,200.3 608.9,209.9 610,212.8" fill="none" stroke="#6e6e6e" stroke-width="1.35" stroke-linecap="round" stroke-linejoin="round" />
<path d="M557.3,214.2 C558.4,211.4 561.7,202.2 563.7,197.3 C565.6,192.4 567.3,188.3 568.9,184.7 C570.5,181.1 571.8,178.4 573.1,175.8 C574.4,173.2 575.8,170.9 576.9,169.1 C578,167.3 579,166 579.8,165.1 C580.6,164.2 580.9,163.7 581.5,163.7 C582.1,163.7 582.4,164.2 583.2,165.1 C584,166 585,167.3 586.1,169.1 C587.3,170.9 588.6,173.2 589.9,175.8 C591.3,178.4 592.6,181.1 594.2,184.7 C595.7,188.3 597.5,192.4 599.4,197.3 C601.4,202.2 604.7,211.4 605.8,214.2" fill="none" stroke="#5a5a5a" stroke-width="1.7999999999999998" stroke-linecap="round" stroke-linejoin="round" />
<path d="M557.3,216.4 C558.4,213.6 561.7,204.4 563.7,199.5 C565.6,194.6 567.3,190.5 568.9,186.9 C570.5,183.3 571.8,180.6 573.1,178 C574.4,175.4 575.8,173.1 576.9,171.3 C578,169.5 579,168.2 579.8,167.3 C580.6,166.4 580.9,165.9 581.5,165.9 C582.1,165.9 582.4,166.4 583.2,167.3 C584,168.2 585,169.5 586.1,171.3 C587.3,173.1 588.6,175.4 589.9,178 C591.3,180.6 592.6,183.3 594.2,186.9 C595.7,190.5 597.5,194.6 599.4,199.5 C601.4,204.4 604.7,213.6 605.8,216.4" fill="none" stroke="#7c6666" stroke-width="1.35" stroke-linecap="round" stroke-linejoin="round" />
<path d="M559.5,212.4 C560.6,209.6 563.9,200.4 565.8,195.5 C567.7,190.6 569.5,186.5 571.1,182.9 C572.6,179.3 573.9,176.6 575.3,174 C576.6,171.4 577.9,169.1 579,167.3 C580.2,165.5 581.2,164.2 582,163.3 C582.8,162.4 583.1,161.9 583.7,161.9 C584.2,161.9 584.6,162.4 585.4,163.3 C586.1,164.2 587.2,165.5 588.3,167.3 C589.4,169.1 590.8,171.4 592.1,174 C593.5,176.6 594.8,179.3 596.3,182.9 C597.9,186.5 599.7,190.6 601.6,195.5 C603.6,200.4 606.9,209.6 608,212.4" fill="none" stroke="#6e6e6e" stroke-width="1.35" stroke-linecap="round" stroke-linejoin="round" />
<path d="M559.4,213.8 C560.4,211.1 563.4,202.4 565.2,197.7 C566.9,193 568.5,189.2 570,185.8 C571.4,182.4 572.6,179.8 573.8,177.3 C575,174.9 576.3,172.7 577.3,171 C578.3,169.2 579.3,168 580,167.1 C580.7,166.3 581,165.8 581.5,165.8 C582,165.8 582.3,166.3 583,167.1 C583.8,168 584.7,169.2 585.7,171 C586.8,172.7 588,174.9 589.2,177.3 C590.4,179.8 591.6,182.4 593.1,185.8 C594.5,189.2 596.1,193 597.9,197.7 C599.7,202.4 602.7,211.1 603.7,213.8" fill="none" stroke="#6e6e6e" stroke-width="1.7999999999999998" stroke-linecap="round" stroke-linejoin="round" />
<path d="M559.4,216 C560.4,213.3 563.4,204.6 565.2,199.9 C566.9,195.2 568.5,191.4 570,188 C571.4,184.6 572.6,182 573.8,179.5 C575,177.1 576.3,174.9 577.3,173.2 C578.3,171.4 579.3,170.2 580,169.3 C580.7,168.5 581,168 581.5,168 C582,168 582.3,168.5 583,169.3 C583.8,170.2 584.7,171.4 585.7,173.2 C586.8,174.9 588,177.1 589.2,179.5 C590.4,182 591.6,184.6 593.1,188 C594.5,191.4 596.1,195.2 597.9,199.9 C599.7,204.6 602.7,213.3 603.7,216" fill="none" stroke="#7c6666" stroke-width="1.35" stroke-linecap="round" stroke-linejoin="round" />
<path d="M561.6,212 C562.5,209.3 565.6,200.6 567.3,195.9 C569.1,191.2 570.7,187.3 572.1,183.9 C573.6,180.5 574.8,178 576,175.5 C577.2,173.1 578.4,170.9 579.4,169.1 C580.5,167.4 581.4,166.2 582.1,165.3 C582.8,164.4 583.2,164 583.7,164 C584.2,164 584.5,164.4 585.2,165.3 C585.9,166.2 586.9,167.4 587.9,169.1 C588.9,170.9 590.2,173.1 591.4,175.5 C592.6,178 593.8,180.5 595.3,183.9 C596.7,187.3 598.3,191.2 600.1,195.9 C601.8,200.6 604.9,209.3 605.9,212" fill="none" stroke="#6e6e6e" stroke-width="1.35" stroke-linecap="round" stroke-linejoin="round" />
<path d="M561.5,213.4 C562.4,210.8 565.1,202.6 566.7,198.1 C568.3,193.7 569.8,190 571.1,186.8 C572.4,183.6 573.4,181.2 574.5,178.8 C575.6,176.5 576.7,174.4 577.7,172.8 C578.6,171.2 579.5,170 580.1,169.2 C580.7,168.3 581,167.9 581.5,167.9 C582,167.9 582.3,168.3 582.9,169.2 C583.5,170 584.4,171.2 585.3,172.8 C586.3,174.4 587.4,176.5 588.5,178.8 C589.6,181.2 590.7,183.6 592,186.8 C593.3,190 594.8,193.7 596.4,198.1 C598,202.6 600.7,210.8 601.6,213.4" fill="none" stroke="#5a5a5a" stroke-width="1.7999999999999998" stroke-linecap="round" stroke-linejoin="round" />
<path d="M561.5,215.6 C562.4,213 565.1,204.8 566.7,200.3 C568.3,195.9 569.8,192.2 571.1,189 C572.4,185.8 573.4,183.4 574.5,181 C575.6,178.7 576.7,176.6 577.7,175 C578.6,173.4 579.5,172.2 580.1,171.4 C580.7,170.5 581,170.1 581.5,170.1 C582,170.1 582.3,170.5 582.9,171.4 C583.5,172.2 584.4,173.4 585.3,175 C586.3,176.6 587.4,178.7 588.5,181 C589.6,183.4 590.7,185.8 592,189 C593.3,192.2 594.8,195.9 596.4,200.3 C598,204.8 600.7,213 601.6,215.6" fill="none" stroke="#7c6666" stroke-width="1.35" stroke-linecap="round" stroke-linejoin="round" />
<path d="M563.6,211.6 C564.5,209 567.3,200.8 568.9,196.3 C570.5,191.9 571.9,188.2 573.2,185 C574.5,181.8 575.6,179.4 576.7,177 C577.8,174.7 578.9,172.6 579.8,171 C580.8,169.4 581.6,168.2 582.3,167.4 C582.9,166.5 583.2,166.1 583.7,166.1 C584.1,166.1 584.4,166.5 585.1,167.4 C585.7,168.2 586.6,169.4 587.5,171 C588.5,172.6 589.6,174.7 590.7,177 C591.8,179.4 592.9,181.8 594.2,185 C595.5,188.2 596.9,191.9 598.5,196.3 C600.1,200.8 602.9,209 603.8,211.6" fill="none" stroke="#6e6e6e" stroke-width="1.35" stroke-linecap="round" stroke-linejoin="round" />
<path d="M567,210.3 C567.6,208.8 569.6,203.7 570.8,201 C571.9,198.4 573,196.1 573.9,194.2 C574.9,192.2 575.7,190.7 576.5,189.3 C577.3,187.9 578.1,186.6 578.7,185.6 C579.4,184.7 580,183.9 580.5,183.4 C581,182.9 581.2,182.7 581.5,182.7 C581.8,182.7 582,182.9 582.5,183.4 C583,183.9 583.6,184.7 584.3,185.6 C585,186.6 585.8,187.9 586.6,189.3 C587.4,190.7 588.1,192.2 589.1,194.2 C590,196.1 591.1,198.4 592.3,201 C593.4,203.7 595.4,208.8 596.1,210.3" fill="none" stroke="#5a5a5a" stroke-width="1.7999999999999998" stroke-linecap="round" stroke-linejoin="round" />
<path d="M567,212.5 C567.6,211 569.6,205.9 570.8,203.2 C571.9,200.6 573,198.3 573.9,196.4 C574.9,194.4 575.7,192.9 576.5,191.5 C577.3,190.1 578.1,188.8 578.7,187.8 C579.4,186.9 580,186.1 580.5,185.6 C581,185.1 581.2,184.9 581.5,184.9 C581.8,184.9 582,185.1 582.5,185.6 C583,186.1 583.6,186.9 584.3,187.8 C585,188.8 585.8,190.1 586.6,191.5 C587.4,192.9 588.1,194.4 589.1,196.4 C590,198.3 591.1,200.6 592.3,203.2 C593.4,205.9 595.4,211 596.1,212.5" fill="none" stroke="#7c6666" stroke-width="1.35" stroke-linecap="round" stroke-linejoin="round" />
<path d="M569.2,208.5 C569.8,207 571.8,201.9 573,199.2 C574.1,196.5 575.2,194.3 576.1,192.3 C577,190.4 577.8,188.9 578.6,187.5 C579.4,186.1 580.2,184.8 580.9,183.8 C581.6,182.8 582.2,182.1 582.7,181.6 C583.1,181.1 583.3,180.9 583.7,180.9 C584,180.9 584.2,181.1 584.7,181.6 C585.1,182.1 585.8,182.8 586.5,183.8 C587.1,184.8 587.9,186.1 588.7,187.5 C589.5,188.9 590.3,190.4 591.3,192.3 C592.2,194.3 593.3,196.5 594.4,199.2 C595.6,201.9 597.6,207 598.2,208.5" fill="none" stroke="#6e6e6e" stroke-width="1.35" stroke-linecap="round" stroke-linejoin="round" />
<path d="M568.7,209.8 C569.2,208.4 571,203.9 572,201.5 C573,199.1 574,197.1 574.8,195.3 C575.6,193.6 576.3,192.3 577,191 C577.7,189.8 578.4,188.6 579,187.7 C579.6,186.8 580.2,186.2 580.6,185.8 C581,185.3 581.2,185.1 581.5,185.1 C581.8,185.1 582,185.3 582.4,185.8 C582.8,186.2 583.4,186.8 584,187.7 C584.6,188.6 585.3,189.8 586,191 C586.7,192.3 587.4,193.6 588.2,195.3 C589.1,197.1 590,199.1 591,201.5 C592.1,203.9 593.8,208.4 594.4,209.8" fill="none" stroke="#5a5a5a" stroke-width="1.7999999999999998" stroke-linecap="round" stroke-linejoin="round" />
<path d="M568.7,212 C569.2,210.6 571,206.1 572,203.7 C573,201.3 574,199.3 574.8,197.5 C575.6,195.8 576.3,194.5 577,193.2 C577.7,192 578.4,190.8 579,189.9 C579.6,189 580.2,188.4 580.6,188 C581,187.5 581.2,187.3 581.5,187.3 C581.8,187.3 582,187.5 582.4,188 C582.8,188.4 583.4,189 584,189.9 C584.6,190.8 585.3,192 586,193.2 C586.7,194.5 587.4,195.8 588.2,197.5 C589.1,199.3 590,201.3 591,203.7 C592.1,206.1 593.8,210.6 594.4,212" fill="none" stroke="#7c6666" stroke-width="1.35" stroke-linecap="round" stroke-linejoin="round" />
<path d="M570.8,208 C571.4,206.6 573.2,202.1 574.2,199.7 C575.2,197.3 576.1,195.3 577,193.5 C577.8,191.8 578.5,190.5 579.2,189.2 C579.9,187.9 580.6,186.8 581.2,185.9 C581.8,185 582.4,184.4 582.8,183.9 C583.2,183.5 583.4,183.3 583.7,183.3 C584,183.3 584.2,183.5 584.6,183.9 C585,184.4 585.5,185 586.1,185.9 C586.7,186.8 587.4,187.9 588.2,189.2 C588.9,190.5 589.6,191.8 590.4,193.5 C591.2,195.3 592.2,197.3 593.2,199.7 C594.2,202.1 596,206.6 596.6,208" fill="none" stroke="#6e6e6e" stroke-width="1.35" stroke-linecap="round" stroke-linejoin="round" />
<path d="M570.2,209.3 C570.7,208.1 572.2,204.1 573.1,202 C574,199.9 574.9,198.2 575.6,196.6 C576.3,195.1 576.9,193.9 577.6,192.8 C578.2,191.7 578.8,190.7 579.3,190 C579.9,189.2 580.3,188.6 580.7,188.2 C581.1,187.8 581.2,187.6 581.5,187.6 C581.8,187.6 581.9,187.8 582.3,188.2 C582.7,188.6 583.1,189.2 583.7,190 C584.2,190.7 584.8,191.7 585.5,192.8 C586.1,193.9 586.7,195.1 587.4,196.6 C588.2,198.2 589,199.9 589.9,202 C590.8,204.1 592.4,208.1 592.9,209.3" fill="none" stroke="#6e6e6e" stroke-width="1.7999999999999998" stroke-linecap="round" stroke-linejoin="round" />
<path d="M570.2,211.5 C570.7,210.3 572.2,206.3 573.1,204.2 C574,202.1 574.9,200.4 575.6,198.8 C576.3,197.3 576.9,196.1 577.6,195 C578.2,193.9 578.8,192.9 579.3,192.2 C579.9,191.4 580.3,190.8 580.7,190.4 C581.1,190 581.2,189.8 581.5,189.8 C581.8,189.8 581.9,190 582.3,190.4 C582.7,190.8 583.1,191.4 583.7,192.2 C584.2,192.9 584.8,193.9 585.5,195 C586.1,196.1 586.7,197.3 587.4,198.8 C588.2,200.4 589,202.1 589.9,204.2 C590.8,206.3 592.4,210.3 592.9,211.5" fill="none" stroke="#7c6666" stroke-width="1.35" stroke-linecap="round" stroke-linejoin="round" />
<path d="M572.3,207.5 C572.8,206.3 574.4,202.3 575.3,200.2 C576.2,198.1 577,196.3 577.8,194.8 C578.5,193.3 579.1,192.1 579.7,191 C580.3,189.9 581,188.9 581.5,188.1 C582,187.4 582.5,186.8 582.9,186.4 C583.2,186 583.4,185.8 583.7,185.8 C583.9,185.8 584.1,186 584.5,186.4 C584.8,186.8 585.3,187.4 585.8,188.1 C586.4,188.9 587,189.9 587.6,191 C588.3,192.1 588.9,193.3 589.6,194.8 C590.3,196.3 591.2,198.1 592.1,200.2 C593,202.3 594.6,206.3 595,207.5" fill="none" stroke="#6e6e6e" stroke-width="1.35" stroke-linecap="round" stroke-linejoin="round" />
<path d="M583.6,163.5 C584.6,164.8 587.9,168 589.7,171.2 C591.5,174.4 592.8,178.9 594.3,182.7 C595.8,186.5 597.6,190.3 598.9,194.1 C600.1,197.9 601.4,203.6 601.9,205.6" fill="none" stroke="#5a5a5a" stroke-width="1.7999999999999998" stroke-linecap="round" stroke-linejoin="round" />
<path d="M583.6,165.7 C584.6,167 587.9,170.2 589.7,173.4 C591.5,176.6 592.8,181.1 594.3,184.9 C595.8,188.7 597.6,192.5 598.9,196.3 C600.1,200.1 601.4,205.8 601.9,207.8" fill="none" stroke="#7c6666" stroke-width="1.35" stroke-linecap="round" stroke-linejoin="round" />
<path d="M585.7,161.7 C586.7,163 590.1,166.2 591.9,169.4 C593.7,172.6 594.9,177 596.5,180.9 C598,184.7 599.8,188.5 601,192.3 C602.3,196.1 603.6,201.8 604.1,203.7" fill="none" stroke="#6e6e6e" stroke-width="1.35" stroke-linecap="round" stroke-linejoin="round" />
<path d="M618.8,205.6 C619.5,204.9 621.6,203 623.4,201.8 C625.1,200.5 627.5,198.9 629.5,198 C631.6,197.2 633.6,196.6 635.7,196.7 C637.7,196.7 639.5,197.5 641.7,198.5 C643.9,199.5 647,201.4 648.7,202.5 C650.5,203.7 651.6,205 652.2,205.6" fill="none" stroke="#5a5a5a" stroke-width="1.7999999999999998" stroke-linecap="round" stroke-linejoin="round" />
<path d="M618.8,207.8 C619.5,207.1 621.6,205.2 623.4,204 C625.1,202.7 627.5,201.1 629.5,200.2 C631.6,199.4 633.6,198.8 635.7,198.9 C637.7,198.9 639.5,199.7 641.7,200.7 C643.9,201.7 647,203.6 648.7,204.7 C650.5,205.9 651.6,207.2 652.2,207.8" fill="none" stroke="#7c6666" stroke-width="1.35" stroke-linecap="round" stroke-linejoin="round" />
<path d="M620.9,203.7 C621.7,203.1 623.7,201.2 625.5,200 C627.3,198.7 629.6,197.1 631.7,196.2 C633.7,195.4 635.9,194.8 638,194.9 C640,194.9 641.9,195.7 644.1,196.7 C646.2,197.6 649.3,199.6 651.1,200.7 C652.8,201.9 654,203.2 654.6,203.7" fill="none" stroke="#6e6e6e" stroke-width="1.35" stroke-linecap="round" stroke-linejoin="round" />
<path d="M643.4,205.6 C644.6,203.8 647.9,197.7 650.5,195.3 C653.2,192.9 656.5,191.6 659.2,191.2 C661.9,190.9 664.5,192.3 666.8,193.4 C669,194.4 670.7,195.7 672.7,197.4 C674.7,199.1 677.7,202.6 678.6,203.6" fill="none" stroke="#5a5a5a" stroke-width="1.7999999999999998" stroke-linecap="round" stroke-linejoin="round" />
<path d="M643.4,207.8 C644.6,206 647.9,199.9 650.5,197.5 C653.2,195.1 656.5,193.8 659.2,193.4 C661.9,193.1 664.5,194.5 666.8,195.6 C669,196.6 670.7,197.9 672.7,199.6 C674.7,201.3 677.7,204.8 678.6,205.8" fill="none" stroke="#7c6666" stroke-width="1.35" stroke-linecap="round" stroke-linejoin="round" />
<path d="M645.7,203.7 C646.9,202 650.3,195.9 652.9,193.5 C655.5,191.1 658.7,189.8 661.3,189.4 C663.9,189.1 666.5,190.5 668.8,191.5 C671,192.6 672.7,193.9 674.7,195.6 C676.7,197.3 679.6,200.8 680.6,201.8" fill="none" stroke="#6e6e6e" stroke-width="1.35" stroke-linecap="round" stroke-linejoin="round" />
<path d="M659.2,176.9 C660.2,177.3 663,178 665.2,179.1 C667.5,180.1 670.2,181.8 672.7,183.1 C675.2,184.5 679.1,186.5 680.4,187.2" fill="none" stroke="#5a5a5a" stroke-width="1.7999999999999998" stroke-linecap="round" stroke-linejoin="round" />
<path d="M659.2,179.1 C660.2,179.5 663,180.2 665.2,181.3 C667.5,182.3 670.2,184 672.7,185.3 C675.2,186.7 679.1,188.7 680.4,189.4" fill="none" stroke="#7c6666" stroke-width="1.35" stroke-linecap="round" stroke-linejoin="round" />
<path d="M661.3,175.1 C662.3,175.5 665,176.2 667.2,177.2 C669.5,178.3 672.2,180 674.7,181.3 C677.2,182.7 681.1,184.7 682.4,185.4" fill="none" stroke="#6e6e6e" stroke-width="1.35" stroke-linecap="round" stroke-linejoin="round" />
<path d="M635.5,181.9 C636.8,181.3 640.8,180.3 643.1,178.1 C645.5,176 647.7,173.1 649.6,169.1 C651.6,165.1 653.2,158.1 654.8,154.1 C656.4,150 657.7,145 659.2,145 C660.8,145 662.6,150 664.4,154.1 C666.1,158.1 668,164.1 669.9,169.1 C671.7,174.1 673.6,179.4 675.3,184.2 C677.1,188.9 679.6,195.5 680.4,197.7" fill="none" stroke="#5a5a5a" stroke-width="1.7999999999999998" stroke-linecap="round" stroke-linejoin="round" />
<path d="M635.5,184.1 C636.8,183.5 640.8,182.5 643.1,180.3 C645.5,178.2 647.7,175.3 649.6,171.3 C651.6,167.3 653.2,160.3 654.8,156.3 C656.4,152.2 657.7,147.2 659.2,147.2 C660.8,147.2 662.6,152.2 664.4,156.3 C666.1,160.3 668,166.3 669.9,171.3 C671.7,176.3 673.6,181.6 675.3,186.4 C677.1,191.1 679.6,197.7 680.4,199.9" fill="none" stroke="#7c6666" stroke-width="1.35" stroke-linecap="round" stroke-linejoin="round" />
<path d="M637.8,180.1 C639.1,179.5 643.1,178.5 645.5,176.3 C647.8,174.2 650,171.3 652,167.3 C653.9,163.3 655.6,156.3 657.2,152.3 C658.7,148.2 659.8,143.2 661.3,143.2 C662.8,143.2 664.6,148.2 666.3,152.3 C668.1,156.3 670,162.3 671.8,167.3 C673.7,172.3 675.6,177.6 677.3,182.4 C679.1,187.1 681.5,193.7 682.4,195.9" fill="none" stroke="#6e6e6e" stroke-width="1.35" stroke-linecap="round" stroke-linejoin="round" />
<path d="M635.5,184.9 C637,184.2 641.9,182.3 644.4,180.4 C647,178.5 649.1,176.8 650.9,173.6 C652.8,170.5 654.1,164.7 655.5,161.6 C656.9,158.5 657.6,154.3 659.2,154.8 C660.9,155.3 663,160.4 665.2,164.8 C667.5,169.1 670.5,175.7 672.7,181.2 C674.9,186.6 677.5,193.4 678.6,197.4 C679.8,201.5 679.6,204.2 679.7,205.6" fill="none" stroke="#5a5a5a" stroke-width="1.7999999999999998" stroke-linecap="round" stroke-linejoin="round" />
<path d="M635.5,187.1 C637,186.4 641.9,184.5 644.4,182.6 C647,180.7 649.1,179 650.9,175.8 C652.8,172.7 654.1,166.9 655.5,163.8 C656.9,160.7 657.6,156.5 659.2,157 C660.9,157.5 663,162.6 665.2,167 C667.5,171.3 670.5,177.9 672.7,183.4 C674.9,188.8 677.5,195.6 678.6,199.6 C679.8,203.7 679.6,206.4 679.7,207.8" fill="none" stroke="#7c6666" stroke-width="1.35" stroke-linecap="round" stroke-linejoin="round" />
<path d="M637.8,183.1 C639.3,182.4 644.2,180.5 646.8,178.6 C649.4,176.7 651.4,175 653.3,171.8 C655.1,168.7 656.5,162.9 657.8,159.8 C659.2,156.6 659.7,152.5 661.3,153 C662.9,153.5 665,158.6 667.2,162.9 C669.5,167.3 672.5,173.9 674.7,179.4 C676.9,184.8 679.4,191.5 680.6,195.6 C681.8,199.7 681.5,202.4 681.7,203.7" fill="none" stroke="#6e6e6e" stroke-width="1.35" stroke-linecap="round" stroke-linejoin="round" />
<path d="M668.8,205.6 C669.5,204.2 671.7,199.8 673.2,197.7 C674.6,195.7 676.3,194.2 677.5,193.2 C678.8,192.2 679.9,192 680.4,191.7" fill="none" stroke="#5a5a5a" stroke-width="1.7999999999999998" stroke-linecap="round" stroke-linejoin="round" />
<path d="M668.8,207.8 C669.5,206.4 671.7,202 673.2,199.9 C674.6,197.9 676.3,196.4 677.5,195.4 C678.8,194.4 679.9,194.2 680.4,193.9" fill="none" stroke="#7c6666" stroke-width="1.35" stroke-linecap="round" stroke-linejoin="round" />
<path d="M670.7,203.7 C671.5,202.4 673.7,198 675.1,195.9 C676.6,193.9 678.3,192.4 679.5,191.4 C680.7,190.4 681.9,190.1 682.4,189.9" fill="none" stroke="#6e6e6e" stroke-width="1.35" stroke-linecap="round" stroke-linejoin="round" />
<path d="M635.5,188.7 C636.6,188.4 639.7,187.9 641.9,187.2 C644,186.4 646.2,185.4 648.3,184.2 C650.5,182.9 653,180.9 654.8,179.7 C656.6,178.4 658.5,177.1 659.2,176.6" fill="none" stroke="#6e6e6e" stroke-width="1.7999999999999998" stroke-linecap="round" stroke-linejoin="round" />
<path d="M635.5,190.9 C636.6,190.6 639.7,190.1 641.9,189.4 C644,188.6 646.2,187.6 648.3,186.4 C650.5,185.1 653,183.1 654.8,181.9 C656.6,180.6 658.5,179.3 659.2,178.8" fill="none" stroke="#7c6666" stroke-width="1.35" stroke-linecap="round" stroke-linejoin="round" />
<path d="M637.8,186.9 C638.9,186.6 642,186.1 644.2,185.4 C646.3,184.6 648.5,183.6 650.7,182.4 C652.8,181.1 655.4,179.1 657.2,177.8 C658.9,176.6 660.6,175.3 661.3,174.8" fill="none" stroke="#6e6e6e" stroke-width="1.35" stroke-linecap="round" stroke-linejoin="round" />
<path d="M506.8,-23.1 C507.6,-20.5 510,-13.6 511.6,-7.2 C513.2,-0.9 514.8,7.6 516.4,15 C518,22.5 519.7,32.1 521.1,37.3 C522.5,42.5 523.5,44 524.7,46.2 C525.9,48.5 527,50.6 528.4,50.8 C529.8,51.1 531.5,49.9 533.1,47.7 C534.6,45.4 536.2,41.5 537.8,37.3 C539.4,33.1 541,27.9 542.6,22.5 C544.2,17 545.8,10.8 547.4,4.6 C549,-1.6 551,-10 552.2,-14.7 C553.3,-19.3 554.1,-21.7 554.5,-23.1" fill="none" stroke="#5a5a5a" stroke-width="1.6500000000000001" stroke-linecap="round" stroke-linejoin="round" />
<path d="M556.9,-23.1 C558.1,-20.5 561.7,-11.4 564.1,-7.2 C566.5,-3.1 568.3,-0.3 571.2,1.7 C574.1,3.6 578.1,4.6 581.5,4.6 C584.9,4.6 588.7,3.6 591.5,1.7 C594.4,-0.3 596.5,-3.1 598.7,-7.2 C600.9,-11.4 603.7,-20.5 604.6,-23.1" fill="none" stroke="#666" stroke-width="1.6500000000000001" stroke-linecap="round" stroke-linejoin="round" />
<path d="M614.2,37.3 C615.2,41.8 618.4,56.2 620.2,64 C621.9,71.9 622.9,78.8 624.4,84.5 C626,90.2 627.8,94.3 629.7,98.2 C631.6,102 633.9,107.5 636,107.5 C638.1,107.5 640.1,102 642.2,98.2 C644.4,94.3 646.9,90.2 648.8,84.5 C650.7,78.8 652,71.9 653.6,64 C655.1,56.2 657.5,41.8 658.3,37.3" fill="none" stroke="#8a5050" stroke-width="1.6500000000000001" stroke-linecap="round" stroke-linejoin="round" />
<path d="M458.7,55.3 C459.5,55.6 461.3,55.9 463,57.2 C464.8,58.5 467.3,60.9 469.4,63.1 C471.4,65.4 473.7,69.1 475.6,70.9 C477.4,72.6 478.5,73.2 480.3,73.8 C482.2,74.5 484.6,74.1 486.7,74.9 C488.7,75.7 490.8,77.4 492.9,78.7 C494.9,80 497.3,81.6 499.2,82.7 C501,83.9 502.3,84.1 504,85.6 C505.6,87 507.7,88.9 509.2,91.5 C510.7,94.1 511.1,97.5 513,101 C515,104.5 518.8,109.5 520.9,112.7 C523,116 524.1,118.5 525.7,120.6 C527.2,122.7 528.5,125.2 530.3,125.5 C532.1,125.8 534.5,124.3 536.6,122.5 C538.8,120.8 540.9,118.1 543,114.8 C545.1,111.5 547.2,107.6 549.3,102.6 C551.4,97.6 553.6,88.9 555.4,84.8 C557.2,80.7 558.4,81.1 560.1,78 C561.9,74.8 563.8,69.3 565.6,66 C567.5,62.7 569.4,60.1 571.2,58.2 C573.1,56.4 575,55.5 576.7,54.8 C578.4,54.1 579.9,53.9 581.5,53.9 C583.1,54 584.7,54.1 586.4,55.3 C588.1,56.4 590,58.1 591.9,60.8 C593.7,63.4 596.5,69.4 597.4,71.2" fill="none" stroke="#f20a0a" stroke-width="6.21" stroke-linecap="round" stroke-linejoin="round" />
<path d="M458.7,55.3 C459.5,55.6 461.3,55.9 463,57.2 C464.8,58.5 467.3,60.9 469.4,63.1 C471.4,65.4 473.7,69.1 475.6,70.9 C477.4,72.6 478.5,73.2 480.3,73.8 C482.2,74.5 484.6,74.1 486.7,74.9 C488.7,75.7 490.8,77.4 492.9,78.7 C494.9,80 497.3,81.6 499.2,82.7 C501,83.9 502.3,84.1 504,85.6 C505.6,87 507.7,88.9 509.2,91.5 C510.7,94.1 511.1,97.5 513,101 C515,104.5 518.8,109.5 520.9,112.7 C523,116 524.1,118.5 525.7,120.6 C527.2,122.7 528.5,125.2 530.3,125.5 C532.1,125.8 534.5,124.3 536.6,122.5 C538.8,120.8 540.9,118.1 543,114.8 C545.1,111.5 547.2,107.6 549.3,102.6 C551.4,97.6 553.6,88.9 555.4,84.8 C557.2,80.7 558.4,81.1 560.1,78 C561.9,74.8 563.8,69.3 565.6,66 C567.5,62.7 569.4,60.1 571.2,58.2 C573.1,56.4 575,55.5 576.7,54.8 C578.4,54.1 579.9,53.9 581.5,53.9 C583.1,54 584.7,54.1 586.4,55.3 C588.1,56.4 590,58.1 591.9,60.8 C593.7,63.4 596.5,69.4 597.4,71.2" fill="none" stroke="#8a2a2a" stroke-width="1.35" stroke-linecap="round" stroke-linejoin="round" />
<path d="M597.4,71.2 C598.1,72.9 600.2,78.8 601.5,81.4 C602.9,84 604.3,84.6 605.7,86.6 C607.1,88.6 609.1,92.3 609.8,93.4" fill="none" stroke="#f20a0a" stroke-width="4.050000000000001" stroke-linecap="round" stroke-linejoin="round" />
<path d="M597.4,71.2 C598.1,72.9 600.2,78.8 601.5,81.4 C602.9,84 604.3,84.6 605.7,86.6 C607.1,88.6 609.1,92.3 609.8,93.4" fill="none" stroke="#8a2a2a" stroke-width="1.35" stroke-linecap="round" stroke-linejoin="round" />
<path d="M609.8,93.4 C610.5,95.1 612.4,99.7 613.9,103.7 C615.5,107.7 617,110.1 619,117.5 C620.9,124.9 623.7,140.8 625.5,147.9 C627.3,155.1 628.4,157.1 629.7,160.6 C631,164 632.2,166.7 633.3,168.7 C634.3,170.7 635.6,171.9 636,172.6" fill="none" stroke="#f20a0a" stroke-width="3.78" stroke-linecap="round" stroke-linejoin="round" />
<path d="M609.8,93.4 C610.5,95.1 612.4,99.7 613.9,103.7 C615.5,107.7 617,110.1 619,117.5 C620.9,124.9 623.7,140.8 625.5,147.9 C627.3,155.1 628.4,157.1 629.7,160.6 C631,164 632.2,166.7 633.3,168.7 C634.3,170.7 635.6,171.9 636,172.6" fill="none" stroke="#8a2a2a" stroke-width="1.35" stroke-linecap="round" stroke-linejoin="round" />
<path d="M636,172.6 C636.7,171.3 638.5,168.7 639.8,165 C641.2,161.3 642.5,155.1 644,150.2 C645.5,145.2 647.3,141 648.8,135.3 C650.3,129.6 651.8,121 653,116 C654.2,111.1 654.9,108.3 655.9,105.6 C656.9,102.9 657.7,101 658.9,99.7 C660.1,98.4 661.3,98.8 663.2,97.9 C665.1,97 668.4,95.8 670.5,94.5 C672.6,93.2 674.2,91.3 675.9,90 C677.5,88.7 679.6,87.2 680.4,86.6" fill="none" stroke="#f20a0a" stroke-width="6.21" stroke-linecap="round" stroke-linejoin="round" />
<path d="M636,172.6 C636.7,171.3 638.5,168.7 639.8,165 C641.2,161.3 642.5,155.1 644,150.2 C645.5,145.2 647.3,141 648.8,135.3 C650.3,129.6 651.8,121 653,116 C654.2,111.1 654.9,108.3 655.9,105.6 C656.9,102.9 657.7,101 658.9,99.7 C660.1,98.4 661.3,98.8 663.2,97.9 C665.1,97 668.4,95.8 670.5,94.5 C672.6,93.2 674.2,91.3 675.9,90 C677.5,88.7 679.6,87.2 680.4,86.6" fill="none" stroke="#8a2a2a" stroke-width="1.35" stroke-linecap="round" stroke-linejoin="round" />
<path d="M602.3,-23.1 C603.1,-19.7 605.3,-10 607,-2.8 C608.7,4.4 611.5,16.3 612.4,20.1" fill="none" stroke="#f20a0a" stroke-width="2.9700000000000006" stroke-linecap="round" stroke-linejoin="round" />
<path d="M612.4,20.1 C613.3,23.8 616.1,35.1 617.9,42.6 C619.7,50.2 622.4,61.5 623.3,65.2" fill="none" stroke="#f20a0a" stroke-width="5.670000000000001" stroke-linecap="round" stroke-linejoin="round" />
<path d="M612.4,20.1 C613.3,23.8 616.1,35.1 617.9,42.6 C619.7,50.2 622.4,61.5 623.3,65.2" fill="none" stroke="#8a2a2a" stroke-width="1.35" stroke-linecap="round" stroke-linejoin="round" />
<path d="M623.3,65.2 C624.2,67.8 627.2,76.9 628.7,81 C630.3,85 631.5,87.4 632.7,89.3 C633.9,91.2 634.8,92.2 636,92.2 C637.2,92.2 638.6,91.2 639.8,89.3 C641.1,87.4 641.8,85.7 643.3,81 C644.8,76.2 647.8,64.1 648.7,60.8" fill="none" stroke="#f20a0a" stroke-width="6.48" stroke-linecap="round" stroke-linejoin="round" />
<path d="M623.3,65.2 C624.2,67.8 627.2,76.9 628.7,81 C630.3,85 631.5,87.4 632.7,89.3 C633.9,91.2 634.8,92.2 636,92.2 C637.2,92.2 638.6,91.2 639.8,89.3 C641.1,87.4 641.8,85.7 643.3,81 C644.8,76.2 647.8,64.1 648.7,60.8" fill="none" stroke="#8a2a2a" stroke-width="1.35" stroke-linecap="round" stroke-linejoin="round" />
<path d="M648.7,60.8 C649.6,57 652.6,45 654.2,38.2 C655.7,31.4 657.1,23.1 657.7,20.1" fill="none" stroke="#f20a0a" stroke-width="5.670000000000001" stroke-linecap="round" stroke-linejoin="round" />
<path d="M648.7,60.8 C649.6,57 652.6,45 654.2,38.2 C655.7,31.4 657.1,23.1 657.7,20.1" fill="none" stroke="#8a2a2a" stroke-width="1.35" stroke-linecap="round" stroke-linejoin="round" />
<path d="M657.7,20.1 C658.4,16.3 660.6,4.4 661.9,-2.8 C663.2,-10 664.9,-19.7 665.5,-23.1" fill="none" stroke="#f20a0a" stroke-width="2.9700000000000006" stroke-linecap="round" stroke-linejoin="round" />
<path d="M623.3,-23.1 C624.2,-20.1 627.1,-9.7 628.7,-4.7 C630.4,0.2 632.1,3.7 633.3,6.6 C634.5,9.4 635,12 636,12.2 C637.1,12.4 638.2,10.4 639.6,7.6 C641,4.8 642.6,0.4 644.1,-4.7 C645.6,-9.8 647.9,-20.1 648.7,-23.1" fill="none" stroke="#f20a0a" stroke-width="6.48" stroke-linecap="round" stroke-linejoin="round" />
<path d="M623.3,-23.1 C624.2,-20.1 627.1,-9.7 628.7,-4.7 C630.4,0.2 632.1,3.7 633.3,6.6 C634.5,9.4 635,12 636,12.2 C637.1,12.4 638.2,10.4 639.6,7.6 C641,4.8 642.6,0.4 644.1,-4.7 C645.6,-9.8 647.9,-20.1 648.7,-23.1" fill="none" stroke="#8a2a2a" stroke-width="1.35" stroke-linecap="round" stroke-linejoin="round" />
<path d="M515.6,10.3 C516.4,12.3 518.5,18.5 519.9,22.6 C521.4,26.7 522.8,32 524.2,34.9 C525.6,37.9 526.8,40 528.4,40.3 C530.1,40.6 532.5,38.8 534.1,36.7 C535.8,34.6 537.1,31 538.3,27.8 C539.5,24.6 540.2,21.1 541.2,17.3 C542.1,13.4 543.1,9 544,4.9 C545,0.8 546,-3.6 546.9,-7.4 C547.8,-11.2 549,-15.3 549.6,-17.9 C550.3,-20.6 550.7,-22.3 551,-23.1" fill="none" stroke="#f20a0a" stroke-width="5.4" stroke-linecap="round" stroke-linejoin="round" />
<path d="M515.6,10.3 C516.4,12.3 518.5,18.5 519.9,22.6 C521.4,26.7 522.8,32 524.2,34.9 C525.6,37.9 526.8,40 528.4,40.3 C530.1,40.6 532.5,38.8 534.1,36.7 C535.8,34.6 537.1,31 538.3,27.8 C539.5,24.6 540.2,21.1 541.2,17.3 C542.1,13.4 543.1,9 544,4.9 C545,0.8 546,-3.6 546.9,-7.4 C547.8,-11.2 549,-15.3 549.6,-17.9 C550.3,-20.6 550.7,-22.3 551,-23.1" fill="none" stroke="#8a2a2a" stroke-width="1.35" stroke-linecap="round" stroke-linejoin="round" />
<path d="M498.5,-2.8 C499.2,-2.2 501.5,0.4 503,0.8 C504.5,1.2 506,0.8 507.2,-0.4 C508.3,-1.6 509.3,-5 510,-6.5 C510.8,-8 511.2,-8.7 511.5,-9.2" fill="none" stroke="#f20a0a" stroke-width="3.5100000000000002" stroke-linecap="round" stroke-linejoin="round" />
<path d="M498.5,-2.8 C499.2,-2.2 501.5,0.4 503,0.8 C504.5,1.2 506,0.8 507.2,-0.4 C508.3,-1.6 509.3,-5 510,-6.5 C510.8,-8 511.2,-8.7 511.5,-9.2" fill="none" stroke="#8a2a2a" stroke-width="1.35" stroke-linecap="round" stroke-linejoin="round" />
<path d="M511.5,-17.9 C512.6,-16.9 516.1,-12.6 518.5,-11.9 C520.9,-11.1 523.1,-12.3 525.7,-13.6 C528.3,-14.9 532.7,-18.7 534.1,-19.7" fill="none" stroke="#b83030" stroke-width="1.89" stroke-linecap="round" stroke-linejoin="round" />
<path d="M626.1,22.7 C627.8,23.1 632.6,24.7 636,24.7 C639.4,24.7 644.7,23.1 646.4,22.7" fill="none" stroke="#b03030" stroke-width="2.16" stroke-linecap="round" stroke-linejoin="round" />
<path d="M524.7,168.7 C525.3,168.5 527.1,167.1 528.3,167.2 C529.5,167.4 531.3,169.1 531.9,169.5" fill="none" stroke="#f20a0a" stroke-width="3.5100000000000002" stroke-linecap="round" stroke-linejoin="round" />
<path d="M524.7,168.7 C525.3,168.5 527.1,167.1 528.3,167.2 C529.5,167.4 531.3,169.1 531.9,169.5" fill="none" stroke="#8a2a2a" stroke-width="1.35" stroke-linecap="round" stroke-linejoin="round" />
<path d="M498.5,194.7 C499.2,195.7 501.3,200.2 502.6,200.7 C504,201.1 506.1,198.2 506.8,197.7" fill="none" stroke="#f20a0a" stroke-width="4.050000000000001" stroke-linecap="round" stroke-linejoin="round" />
<path d="M498.5,194.7 C499.2,195.7 501.3,200.2 502.6,200.7 C504,201.1 506.1,198.2 506.8,197.7" fill="none" stroke="#8a2a2a" stroke-width="1.35" stroke-linecap="round" stroke-linejoin="round" />
<path d="M487.7,171 C488.7,172.4 491.9,176.6 493.7,179.9 C495.5,183.1 497,186.8 498.5,190.3 C500,193.7 501.6,198.1 502.6,200.7 C503.6,203.2 504.1,204.7 504.4,205.6" fill="none" stroke="#f20a0a" stroke-width="2.43" stroke-linecap="round" stroke-linejoin="round" />
<path d="M506.8,205.6 C507.4,203.7 509,198 510.4,194.7 C511.8,191.4 513.4,188.3 515.2,185.8 C517,183.3 520.1,180.9 521.1,179.9" fill="none" stroke="#c03030" stroke-width="1.7550000000000001" stroke-linecap="round" stroke-linejoin="round" />
<path d="M636.9,185.8 C637.8,185.4 640.6,183.8 642.8,183.6 C645,183.3 647.6,183.4 650,184.3 C652.4,185.2 654.8,187 657.1,188.8 C659.5,190.5 663.1,193.7 664.3,194.7" fill="none" stroke="#c03030" stroke-width="1.7550000000000001" stroke-linecap="round" stroke-linejoin="round" />
<path d="M642.8,200.7 C644.4,199.7 649.2,195.9 652.4,194.7 C655.5,193.5 658.7,193 661.9,193.2 C665.1,193.5 668.4,195.2 671.5,196.2 C674.5,197.2 678.9,198.7 680.4,199.2" fill="none" stroke="#c03030" stroke-width="1.7550000000000001" stroke-linecap="round" stroke-linejoin="round" />
<path d="M671.5,171 C672.2,172.2 674.7,175.9 676.2,178.4 C677.7,180.8 679.7,184.6 680.4,185.8" fill="none" stroke="#f20a0a" stroke-width="2.43" stroke-linecap="round" stroke-linejoin="round" />
<path d="M461.5,148.7 C462.7,149.4 466.3,151.2 468.6,153.1 C471,155.1 473.4,157.6 475.8,160.6 C478.2,163.5 481.8,169.2 483,171" fill="none" stroke="#b03030" stroke-width="1.62" stroke-linecap="round" stroke-linejoin="round" />
</g>
<rect x="527.9" y="18.6" width="129.1" height="153" fill="none" stroke="#707070" stroke-width="1.3"/>
<line x1="527.9" y1="55.3" x2="680" y2="55.3" stroke="#1a1aee" stroke-width="1.3" stroke-dasharray="3.2 2.6"/>
<line x1="527.9" y1="74.1" x2="667" y2="74.1" stroke="#1a1aee" stroke-width="1.3" stroke-dasharray="3.2 2.6"/>
<line x1="527.9" y1="115" x2="680" y2="115" stroke="#1a1aee" stroke-width="1.3" stroke-dasharray="3.2 2.6"/>
<line x1="527.9" y1="91.5" x2="657" y2="91.5" stroke="#111" stroke-width="1.4" stroke-dasharray="6 4"/>
<text x="523.8" y="58.9" font-family="Liberation Sans" font-size="11" fill="#111" text-anchor="end" >0.31</text>
<text x="523.8" y="77.4" font-family="Liberation Sans" font-size="11" fill="#111" text-anchor="end" >0.13</text>
<text x="514.2" y="95.5" font-family="Liberation Sans" font-size="11" fill="#111" text-anchor="middle" >0</text>
<text x="520.6" y="119.6" font-family="Liberation Sans" font-size="11" fill="#111" text-anchor="end" >-0.2</text>
<text x="581.3" y="187.2" font-family="Liberation Serif" font-size="12.6" fill="#222" text-anchor="middle" >Γ</text>
<text x="637.8" y="187.2" font-family="Liberation Sans" font-size="12" fill="#222" text-anchor="middle" >L</text>
<text transform="translate(498.6,87.4) rotate(-90)" font-family="Liberation Sans" font-size="13.6" fill="#111" text-anchor="middle" textLength="71.2" lengthAdjust="spacingAndGlyphs">Energy (eV)</text>
<line x1="662.7" y1="76.5" x2="662.7" y2="112.6" stroke="#333" stroke-width="0.9" />
<path d="M661.1,78 L662.7,74.5 L664.3,78" fill="none" stroke="#333" stroke-width="0.9"/>
<path d="M661.1,111.1 L662.7,114.6 L664.3,111.1" fill="none" stroke="#333" stroke-width="0.9"/>
<line x1="675.6" y1="57.7" x2="675.6" y2="112.6" stroke="#333" stroke-width="0.9" />
<path d="M674,59.2 L675.6,55.7 L677.2,59.2" fill="none" stroke="#333" stroke-width="0.9"/>
<path d="M674,111.1 L675.6,114.6 L677.2,111.1" fill="none" stroke="#333" stroke-width="0.9"/>
<text transform="translate(670.6,98.3) rotate(-90)" font-family="Liberation Sans" font-size="9.2" fill="#222" text-anchor="middle" textLength="31.9" lengthAdjust="spacingAndGlyphs">-0.33 eV</text>
<text transform="translate(684.6,89.0) rotate(-90)" font-family="Liberation Sans" font-size="11" fill="#ee1111" text-anchor="middle" textLength="37.1" lengthAdjust="spacingAndGlyphs">-0.51 eV</text>
<text x="112.4" y="13" font-family="Liberation Sans" font-size="17.6" fill="#000" text-anchor="start" textLength="20.5" lengthAdjust="spacingAndGlyphs" stroke="#000" stroke-width="0.35">Ag</text>
<text x="132.9" y="17.8" font-family="Liberation Sans" font-size="11" fill="#000" text-anchor="start" textLength="11.6" lengthAdjust="spacingAndGlyphs" stroke="#000" stroke-width="0.35">16</text>
<text x="144.5" y="13" font-family="Liberation Sans" font-size="17.6" fill="#000" text-anchor="start" textLength="20.5" lengthAdjust="spacingAndGlyphs" stroke="#000" stroke-width="0.35">Sb</text>
<text x="165" y="17.8" font-family="Liberation Sans" font-size="11" fill="#000" text-anchor="start" textLength="11.6" lengthAdjust="spacingAndGlyphs" stroke="#000" stroke-width="0.35">16</text>
<text x="176.6" y="13" font-family="Liberation Sans" font-size="17.6" fill="#000" text-anchor="start" textLength="17.7" lengthAdjust="spacingAndGlyphs" stroke="#000" stroke-width="0.35">Te</text>
<text x="194.3" y="17.8" font-family="Liberation Sans" font-size="11" fill="#000" text-anchor="start" textLength="11.6" lengthAdjust="spacingAndGlyphs" stroke="#000" stroke-width="0.35">32</text>
<text x="339.5" y="13.6" font-family="Liberation Sans" font-size="17.6" fill="#000" text-anchor="start" textLength="20.1" lengthAdjust="spacingAndGlyphs" stroke="#000" stroke-width="0.35">Ag</text>
<text x="359.6" y="18.4" font-family="Liberation Sans" font-size="11" fill="#000" text-anchor="start" textLength="11.4" lengthAdjust="spacingAndGlyphs" stroke="#000" stroke-width="0.35">16</text>
<text x="371" y="13.6" font-family="Liberation Sans" font-size="17.6" fill="#000" text-anchor="start" textLength="20.1" lengthAdjust="spacingAndGlyphs" stroke="#000" stroke-width="0.35">Sb</text>
<text x="391.1" y="18.4" font-family="Liberation Sans" font-size="11" fill="#000" text-anchor="start" textLength="11.4" lengthAdjust="spacingAndGlyphs" stroke="#000" stroke-width="0.35">15</text>
<text x="402.5" y="13.6" font-family="Liberation Sans" font-size="17.6" fill="#000" text-anchor="start" textLength="37.4" lengthAdjust="spacingAndGlyphs" stroke="#000" stroke-width="0.35">SnTe</text>
<text x="440" y="18.4" font-family="Liberation Sans" font-size="11" fill="#000" text-anchor="start" textLength="11.4" lengthAdjust="spacingAndGlyphs" stroke="#000" stroke-width="0.35">32</text>
<text x="542.5" y="13" font-family="Liberation Sans" font-size="17.6" fill="#000" text-anchor="start" textLength="20" lengthAdjust="spacingAndGlyphs" stroke="#000" stroke-width="0.35">Ag</text>
<text x="562.5" y="17.8" font-family="Liberation Sans" font-size="11" fill="#000" text-anchor="start" textLength="11.4" lengthAdjust="spacingAndGlyphs" stroke="#000" stroke-width="0.35">16</text>
<text x="573.9" y="13" font-family="Liberation Sans" font-size="17.6" fill="#000" text-anchor="start" textLength="20" lengthAdjust="spacingAndGlyphs" stroke="#000" stroke-width="0.35">Sb</text>
<text x="593.9" y="17.8" font-family="Liberation Sans" font-size="11" fill="#000" text-anchor="start" textLength="11.4" lengthAdjust="spacingAndGlyphs" stroke="#000" stroke-width="0.35">15</text>
<text x="605.3" y="13" font-family="Liberation Sans" font-size="17.6" fill="#000" text-anchor="start" textLength="37.3" lengthAdjust="spacingAndGlyphs" stroke="#000" stroke-width="0.35">SnTe</text>
<text x="642.6" y="17.8" font-family="Liberation Sans" font-size="11" fill="#000" text-anchor="start" textLength="11.4" lengthAdjust="spacingAndGlyphs" stroke="#000" stroke-width="0.35">32</text>
</svg>
</body></html>
